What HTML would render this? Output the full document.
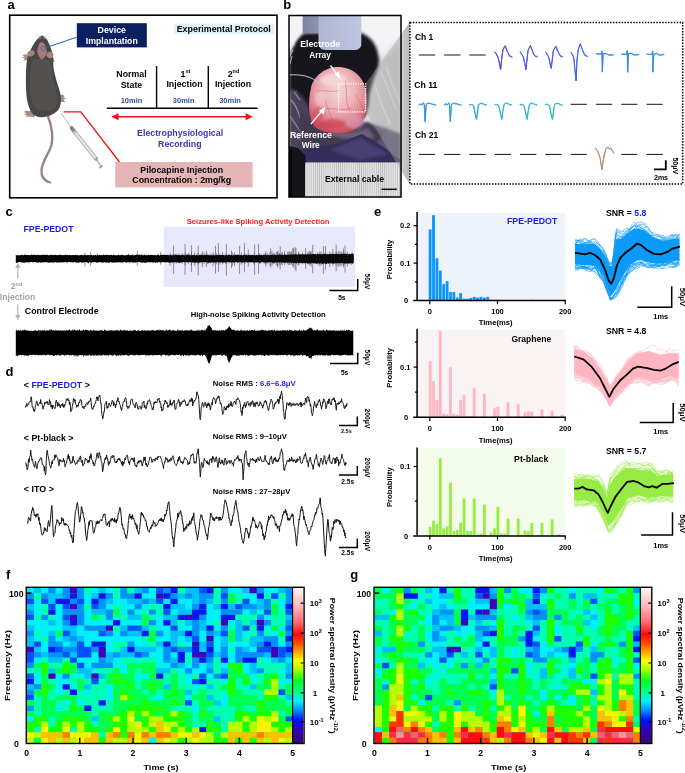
<!DOCTYPE html>
<html><head><meta charset="utf-8"><style>
html,body{margin:0;padding:0;background:#fff;width:685px;height:773px;overflow:hidden}
svg{display:block;will-change:transform}
text{font-family:"Liberation Sans", sans-serif}
</style></head><body>
<svg width="685" height="773" viewBox="0 0 685 773">
<text x="7.6" y="9.1" font-size="13" font-weight="bold" fill="#000" text-anchor="start" >a</text>
<rect x="9.7" y="15.2" width="267.3" height="182.6" fill="none" stroke="#000" stroke-width="1.6"/>
<path d="M47.5,115 C51,124 54,134 51.5,145 C49,154 42.5,160 41.5,170 C41,177 45,181 50,182.5" fill="none" stroke="#9b8181" stroke-width="2.3" stroke-linecap="round"/>
<path d="M32,111 L26,110.8 L23.5,112 L26.5,113 L23.8,114.6 L27,115 L25.5,117 L30,116.6 L34.5,117.5 L35,114 Z" fill="#a88c8a"/>
<path d="M59,95.5 L62.5,94.6 L64.6,96.3 L63.5,97.6 L66.2,98.6 L63.5,99.6 L65.2,102.5 L61.5,101.8 L59,104 Z" fill="#a88c8a"/>
<path d="M29,55 L25,54.2 L22.2,55.2 L24.6,56.5 L21.8,57.8 L25,58.4 L23.2,60.5 L27,60 L29.5,59.5 Z" fill="#a88c8a"/>
<path d="M51.5,57 L53.6,58.5 L54.6,61.5 L52.5,62.2 L51,60 Z" fill="#a88c8a"/>
<path d="M42.2,35.4 C44.5,36.8 46,38 47.3,40 C49,43 50.5,47 52.3,52.5 C53.4,56 53.4,62 53.4,66.4 C54,72 55.5,77 57.5,84 C60,91 61.3,96 61,101 C60.7,106 59,110 56.4,111.8 C52,115.5 46,117.6 40.9,117.2 C36,116.8 32,115.5 29.3,108 C27,102 26.2,96 26,88 C25.8,80 25.8,72 26.4,65 C26.8,60 27.5,56 29.5,52 C31.5,47.5 34,43 37,39.4 C38.8,37 40.5,35.8 42.2,35.4 Z" fill="#4a4644"/>
<path d="M32,63 C33,58 38,58 44,59 C50,60 52,63 52,70 C52,78 55,86 57,94 C59,102 57,108 52,110 C46,112 38,111 34,106 C30,100 30,90 30,80 C30,72 31,66 32,63 Z" fill="#535050"/>
<path d="M40.2,42.5 C41.5,42 43.5,42.5 44.5,44 C46,46.5 47,49.5 46.8,52.5 C46.6,55 45,57 43.2,58.5 C42.2,59.5 41.5,59.8 41,59 C39.6,57.5 38,55.2 37.4,52.5 C37,50 38,46 40.2,42.5 Z" fill="#a47c79"/>
<ellipse cx="31" cy="53.3" rx="3.8" ry="2.9" transform="rotate(-25 31 53.3)" fill="#a9807c"/>
<ellipse cx="50" cy="55" rx="3.4" ry="3.2" transform="rotate(30 50 55)" fill="#a9807c"/>
<path d="M41,37 L34.5,33 M41,37.5 L35,36.5 M41,38 L36,39.5 M43.5,37 L50,33.2 M43.5,37.5 L51.5,36.5 M43.5,38 L50,39.5" stroke="#c8c4c4" stroke-width="0.4" fill="none"/>
<circle cx="43.6" cy="48.6" r="2.4" fill="none" stroke="#2b5b9e" stroke-width="0.9" stroke-dasharray="1,0.6"/>
<line x1="45.5" y1="47.8" x2="76.8" y2="37.2" stroke="#2b5b9e" stroke-width="1"/>
<rect x="76.8" y="23.2" width="70" height="24.2" fill="#0b1f61"/>
<text x="111.8" y="32.7" font-size="8.8" font-weight="bold" fill="#fff" text-anchor="middle" >Device</text>
<text x="111.8" y="43.6" font-size="8.8" font-weight="bold" fill="#fff" text-anchor="middle" textLength="52.0" lengthAdjust="spacingAndGlyphs" >Implantation</text>
<rect x="174.1" y="23.7" width="99.8" height="10.5" fill="#dff2f7"/>
<text x="176.7" y="32.3" font-size="8.8" font-weight="bold" fill="#000" text-anchor="start" textLength="94.1" lengthAdjust="spacingAndGlyphs" >Experimental Protocol</text>
<line x1="106.8" y1="108.3" x2="257.6" y2="108.3" stroke="#000" stroke-width="1.5"/>
<line x1="156.6" y1="66" x2="156.6" y2="108.3" stroke="#000" stroke-width="1.4"/>
<line x1="208.3" y1="66" x2="208.3" y2="108.3" stroke="#000" stroke-width="1.4"/>
<text x="131.5" y="76.5" font-size="8.8" font-weight="bold" fill="#000" text-anchor="middle" >Normal</text>
<text x="131.5" y="87.5" font-size="8.8" font-weight="bold" fill="#000" text-anchor="middle" >State</text>
<text x="131.5" y="102.7" font-size="7.5" font-weight="bold" fill="#2f4d9c" text-anchor="middle" >10min</text>
<text x="185.4" y="76.5" font-size="8.8" font-weight="bold" fill="#000" text-anchor="middle" >1<tspan font-size="5.5" dy="-3.2">st</tspan></text>
<text x="184.5" y="87.0" font-size="8.8" font-weight="bold" fill="#000" text-anchor="middle" >Injection</text>
<text x="183.7" y="102.7" font-size="7.5" font-weight="bold" fill="#2f4d9c" text-anchor="middle" >30min</text>
<text x="233.5" y="76.5" font-size="8.8" font-weight="bold" fill="#000" text-anchor="middle" >2<tspan font-size="5.5" dy="-3.2">nd</tspan></text>
<text x="233.0" y="87.0" font-size="8.8" font-weight="bold" fill="#000" text-anchor="middle" >Injection</text>
<text x="230.0" y="102.7" font-size="7.5" font-weight="bold" fill="#2f4d9c" text-anchor="middle" >30min</text>
<line x1="116" y1="116.7" x2="248" y2="116.7" stroke="#e8141c" stroke-width="1.6"/>
<path d="M111.3,116.7 L118.5,113.2 L118.5,120.2 Z M252.8,116.7 L245.6,113.2 L245.6,120.2 Z" fill="#e8141c"/>
<text x="180.1" y="136.0" font-size="8.8" font-weight="bold" fill="#3a38b5" text-anchor="middle" textLength="86.0" lengthAdjust="spacingAndGlyphs" >Electrophysiological</text>
<text x="179.8" y="146.6" font-size="8.8" font-weight="bold" fill="#3a38b5" text-anchor="middle" >Recording</text>
<polyline points="63.6,111.8 80.8,111.8 119.5,162" fill="none" stroke="#f01010" stroke-width="1.3"/>
<line x1="60.9" y1="113" x2="71" y2="127" stroke="#808080" stroke-width="0.6"/>
<line x1="72" y1="128.5" x2="96" y2="158.8" stroke="#9aa0a6" stroke-width="3.8" stroke-linecap="round"/>
<line x1="72" y1="128.5" x2="96" y2="158.8" stroke="#e4e8ea" stroke-width="2.4"/>
<line x1="71.5" y1="127.8" x2="74" y2="131" stroke="#7e878e" stroke-width="3.6" stroke-linecap="round"/>
<line x1="73.5" y1="130.8" x2="75.5" y2="133.4" stroke="#9fd0e6" stroke-width="1.6"/>
<line x1="94.4" y1="160" x2="97.8" y2="157.4" stroke="#9aa0a6" stroke-width="1.2"/>
<line x1="96.2" y1="159.3" x2="101.2" y2="166.5" stroke="#a0a8ae" stroke-width="1.2"/>
<line x1="99.2" y1="168" x2="102.6" y2="165.4" stroke="#9aa0a6" stroke-width="1.6"/>
<rect x="115.2" y="162" width="137.4" height="25.4" fill="#e6b5b8"/>
<text x="181.7" y="173.2" font-size="8.8" font-weight="bold" fill="#000" text-anchor="middle" textLength="82.8" lengthAdjust="spacingAndGlyphs" >Pilocapine Injection</text>
<text x="181.7" y="182.9" font-size="8.8" font-weight="bold" fill="#000" text-anchor="middle" textLength="98.9" lengthAdjust="spacingAndGlyphs" >Concentration : 2mg/kg</text>
<text x="283.3" y="9.1" font-size="13" font-weight="bold" fill="#000" text-anchor="start" >b</text>
<defs>
<clipPath id="phc"><rect x="289" y="15.5" width="112" height="181.5"/></clipPath>
<filter id="bl1" x="-20%" y="-20%" width="140%" height="140%"><feGaussianBlur stdDeviation="1.6"/></filter>
<filter id="bl2" x="-20%" y="-20%" width="140%" height="140%"><feGaussianBlur stdDeviation="3"/></filter>
<filter id="bl05"><feGaussianBlur stdDeviation="0.6"/></filter>
<radialGradient id="brain" cx="0.5" cy="0.35" r="0.65">
<stop offset="0" stop-color="#f4d6d8"/><stop offset="0.45" stop-color="#eeb4ba"/><stop offset="0.75" stop-color="#e08892"/><stop offset="1" stop-color="#c84858"/></radialGradient>
<linearGradient id="conn" x1="0" y1="0" x2="1" y2="0"><stop offset="0" stop-color="#7e84a2"/><stop offset="0.26" stop-color="#8c92b0"/><stop offset="0.28" stop-color="#b0b6d2"/><stop offset="1" stop-color="#c0c6de"/></linearGradient>
<linearGradient id="proj" x1="0" y1="0" x2="1" y2="0"><stop offset="0" stop-color="#a8a8a8" stop-opacity="0.35"/><stop offset="0.78" stop-color="#a0a0a0" stop-opacity="0.45"/><stop offset="0.8" stop-color="#c8c8c8" stop-opacity="0.9"/><stop offset="1" stop-color="#b4b4b4" stop-opacity="0.95"/></linearGradient>
<pattern id="stripes" width="2.1" height="10" patternUnits="userSpaceOnUse"><rect width="2.1" height="10" fill="#e4e4e4"/><rect width="0.8" height="10" fill="#bababa"/></pattern>
</defs>
<g clip-path="url(#phc)">
<rect x="289" y="15.5" width="112" height="181.5" fill="#f4f4f6"/>
<path d="M368,70 L401,40 L401,150 L366,130 Z" fill="#d4d4d6" filter="url(#bl2)"/>
<path d="M380,70 C386,84 392,96 396,110 M386,66 C390,80 396,92 400,104 M375,85 C380,100 384,112 390,124" stroke="#f2f2f4" stroke-width="1.2" fill="none" filter="url(#bl05)"/>
<path d="M360,122 C372,124 388,128 401,134 L401,166 L352,166 Z" fill="#5c5478" filter="url(#bl1)"/>
<path d="M289,50 C292,44 297,38 304,33 L362,33 C368,36 373,40 376,47 C379,54 380,62 378,68 C375,76 370,86 369,100 C368,112 366,122 350,128 C335,131 315,128 306,120 C300,112 298,100 296,92 L289,92 Z" fill="#17151b" filter="url(#bl1)"/>
<path d="M287,14 L303,14 L303,30 C299,34 295,42 291,52 L287,60 Z" fill="#f4f4f6" filter="url(#bl1)"/>
<path d="M289,52 C291,48 293,46 295,44 M289,58 L293,50 M290,64 L292,56" stroke="#d8d8e0" stroke-width="0.8" fill="none" filter="url(#bl05)"/>
<path d="M289,88 C296,90 304,96 309,108 C312,122 311,136 306,152 L289,152 Z" fill="#4a4258" filter="url(#bl1)"/>
<path d="M291,100 C295,104 298,110 300,118 M290,116 C294,122 298,128 302,134 M292,134 L303,142 M294,92 L300,100" stroke="#9890a8" stroke-width="1.1" fill="none" filter="url(#bl05)"/>
<path d="M300,112 C312,124 340,130 368,122 L384,134 L372,150 L300,156 Z" fill="#433a50" filter="url(#bl1)"/>
<path d="M330,130 C345,134 356,132 368,128 L375,138 C360,140 345,140 332,136 Z" fill="#7a6e88" opacity="0.7" filter="url(#bl1)"/>
<path d="M300,150 L300,166 L401,166 L401,160 L382,146 L362,134 L336,144 Z" fill="#342e5a" filter="url(#bl05)"/>
<path d="M330,150 L360,138 L388,154 L360,160 Z" fill="#5a5290" opacity="0.5" filter="url(#bl1)"/>
<path d="M338,67 C352,67 364,76 366,92 C368,108 366,124 352,131 C340,135 322,134 314,126 C308,118 308,100 311,88 C314,75 326,67 338,67 Z" fill="url(#brain)" filter="url(#bl05)"/>
<path d="M316,92 C325,88 332,94 340,90 M322,110 C330,106 340,112 352,108 M345,80 C348,90 344,100 350,112 M325,100 L332,120 M355,95 C360,100 362,106 364,112" stroke="#c84858" stroke-width="0.7" fill="none" opacity="0.6"/>
<ellipse cx="333" cy="80" rx="13" ry="6" fill="#f8dede" opacity="0.7" filter="url(#bl1)"/>
<ellipse cx="320" cy="98" rx="5" ry="8" fill="#f4d0d4" opacity="0.5" filter="url(#bl1)"/>
<ellipse cx="332" cy="124" rx="14" ry="5" fill="#c83848" opacity="0.6" filter="url(#bl1)"/><ellipse cx="355" cy="122" rx="9" ry="7" fill="#d8a0c0" opacity="0.6" filter="url(#bl1)"/>
<ellipse cx="318" cy="114" rx="6" ry="7" fill="#d04050" opacity="0.5" filter="url(#bl1)"/>
<path d="M302.6,15.5 L361.3,15.5 L361.3,44 C361.3,48 358,50 354,50 L326,50 C321,50 318.4,47 318.4,42 L318.4,33 L302.6,33 Z" fill="url(#conn)"/>
<path d="M289,75 C300,74 312,76 320,84 C326,90 330,98 332,104" stroke="#c8c8d0" stroke-width="1" fill="none"/>
<path d="M289,146 L298,148 L305.5,156 L305.5,197 L289,197 Z" fill="#151218"/><rect x="289" y="150" width="3" height="47" fill="#050505"/>
<rect x="305.3" y="162.4" width="96" height="35" fill="url(#stripes)"/>
</g>
<path d="M365.5,83.7 L409.7,22.3 L409.7,184.4 L365.5,112 Z" fill="url(#proj)"/>
<rect x="289" y="15.5" width="112" height="181.5" fill="none" stroke="#000" stroke-width="1.5"/>
<rect x="338.6" y="83.8" width="26.9" height="28" fill="none" stroke="#fff" stroke-width="1.3" stroke-dasharray="1.3,1.1"/>
<line x1="330.5" y1="65.4" x2="337.5" y2="75.2" stroke="#fff" stroke-width="1.3"/><path d="M340.4,79.2 L334.4,74.3 L338.9,71.2 Z" fill="#fff"/>
<line x1="310.8" y1="124.2" x2="321.5" y2="111.5" stroke="#fff" stroke-width="1.3"/><path d="M325.2,107 L323.6,114.7 L318.9,110.7 Z" fill="#fff"/>
<text x="320.2" y="46.8" font-size="8.3" font-weight="bold" fill="#fff" text-anchor="middle" textLength="40.0" lengthAdjust="spacingAndGlyphs" >Electrode</text>
<text x="320.0" y="57.9" font-size="8.3" font-weight="bold" fill="#fff" text-anchor="middle" >Array</text>
<text x="310.9" y="138.4" font-size="8.3" font-weight="bold" fill="#fff" text-anchor="middle" textLength="42.0" lengthAdjust="spacingAndGlyphs" >Reference</text>
<text x="310.8" y="148.4" font-size="8.3" font-weight="bold" fill="#fff" text-anchor="middle" >Wire</text>
<text x="354.5" y="181.7" font-size="8.3" font-weight="bold" fill="#000" text-anchor="middle" textLength="59.2" lengthAdjust="spacingAndGlyphs" >External cable</text>
<line x1="381.5" y1="189.3" x2="396.7" y2="189.3" stroke="#000" stroke-width="1.5"/>
<rect x="409.9" y="22.4" width="272.8" height="161.5" fill="none" stroke="#000" stroke-width="1.5" stroke-dasharray="1.5,1.4"/>
<text x="414.9" y="40.0" font-size="8.5" font-weight="bold" fill="#000" text-anchor="start" >Ch 1</text>
<text x="414.2" y="87.6" font-size="8.5" font-weight="bold" fill="#000" text-anchor="start" textLength="23.2" lengthAdjust="spacingAndGlyphs" >Ch 11</text>
<text x="414.9" y="138.0" font-size="8.5" font-weight="bold" fill="#000" text-anchor="start" textLength="23.4" lengthAdjust="spacingAndGlyphs" >Ch 21</text>
<line x1="418.8" y1="55.0" x2="435.1" y2="55.0" stroke="#141414" stroke-width="1.0"/>
<line x1="444.1" y1="55.0" x2="460.4" y2="55.0" stroke="#141414" stroke-width="1.0"/>
<line x1="469.4" y1="55.0" x2="485.7" y2="55.0" stroke="#141414" stroke-width="1.0"/>
<path d="M494.66,51.95 L495.46,52.73 L496.40,54.38 L497.16,56.01 L497.96,56.94 L498.77,60.68 L499.49,63.22 L499.92,66.50 L500.53,69.49 L501.72,57.99 L502.83,49.93 L503.75,48.70 L504.37,46.93 L505.25,45.96 L505.94,47.51 L506.82,50.43 L508.05,52.44 L508.41,53.45 L509.27,55.36 L509.52,55.81 L510.35,55.93 L510.86,56.78 L511.82,56.79 L512.25,56.46" fill="none" stroke="#4a48e0" stroke-width="1.0" stroke-linejoin="round" opacity="0.9"/>
<path d="M494.67,51.83 L495.74,53.04 L496.22,53.77 L497.24,56.01 L497.97,57.68 L498.55,59.74 L499.51,63.05 L499.97,66.10 L500.86,69.02 L501.72,58.32 L503.02,49.85 L503.57,48.60 L504.22,47.62 L505.17,46.19 L505.79,47.95 L506.76,50.45 L507.96,52.49 L508.37,53.44 L509.28,54.70 L509.64,56.52 L510.47,55.98 L511.20,56.68 L511.79,56.85 L512.38,57.02" fill="none" stroke="#4a48e0" stroke-width="1.0" stroke-linejoin="round" opacity="0.6"/>
<path d="M494.85,51.53 L495.60,53.05 L496.14,53.72 L497.25,55.42 L498.07,56.96 L498.58,59.99 L499.27,63.72 L500.18,66.68 L500.58,69.71 L501.82,57.96 L502.86,49.71 L503.62,48.44 L504.21,46.78 L505.08,45.47 L506.12,47.99 L506.72,49.55 L508.10,52.79 L508.35,53.99 L508.94,55.26 L509.51,55.78 L510.30,56.57 L510.91,56.04 L511.63,57.08 L512.46,57.30" fill="none" stroke="#4a48e0" stroke-width="1.0" stroke-linejoin="round" opacity="0.6"/>
<path d="M520.14,51.67 L520.72,53.08 L521.75,54.04 L522.55,55.55 L523.26,57.21 L523.91,60.62 L524.83,63.15 L525.42,66.57 L525.85,69.79 L527.28,57.98 L528.08,49.97 L528.75,48.54 L529.48,47.17 L530.50,45.83 L531.28,47.86 L532.02,49.89 L533.07,52.91 L533.63,54.34 L534.27,55.02 L534.90,56.20 L535.59,56.35 L536.38,56.19 L536.92,56.56 L537.70,56.73" fill="none" stroke="#4a4ee4" stroke-width="1.0" stroke-linejoin="round" opacity="0.9"/>
<path d="M519.94,52.12 L520.75,52.84 L521.41,54.45 L522.26,55.63 L523.48,57.01 L524.09,59.80 L524.83,63.63 L525.33,66.35 L525.81,69.56 L527.19,57.64 L528.11,50.40 L528.99,48.59 L529.79,46.94 L530.46,45.46 L531.09,47.49 L532.27,49.98 L533.05,53.09 L533.65,53.60 L534.26,55.43 L535.18,55.78 L535.64,56.00 L536.39,56.73 L536.93,56.95 L537.62,56.84" fill="none" stroke="#4a4ee4" stroke-width="1.0" stroke-linejoin="round" opacity="0.6"/>
<path d="M520.12,51.34 L520.95,52.78 L521.66,53.94 L522.58,55.53 L523.44,57.25 L523.97,60.26 L524.72,62.93 L525.41,66.26 L526.19,69.22 L526.99,58.02 L528.22,49.70 L529.01,49.05 L529.62,47.40 L530.30,45.56 L531.12,47.58 L532.19,49.53 L533.32,53.15 L533.76,53.50 L534.28,55.13 L535.17,55.82 L535.45,56.72 L536.13,56.38 L536.75,56.82 L537.52,56.35" fill="none" stroke="#4a4ee4" stroke-width="1.0" stroke-linejoin="round" opacity="0.6"/>
<path d="M545.36,51.75 L545.97,52.72 L546.83,54.08 L547.70,55.47 L548.64,56.85 L549.43,59.98 L549.91,63.04 L550.67,65.87 L551.24,68.41 L552.57,58.20 L553.31,50.45 L554.31,49.05 L554.95,48.01 L555.80,46.16 L556.67,48.05 L557.47,50.14 L558.60,52.70 L559.04,54.36 L559.73,54.51 L560.42,56.38 L560.90,56.11 L561.42,56.24 L562.33,56.57 L562.80,56.65" fill="none" stroke="#4456e6" stroke-width="1.0" stroke-linejoin="round" opacity="0.9"/>
<path d="M545.22,52.26 L546.06,52.61 L547.00,53.65 L547.81,55.68 L548.65,56.78 L549.25,60.25 L549.76,62.55 L550.45,65.68 L551.18,68.35 L552.36,58.06 L553.54,50.13 L554.24,49.31 L554.97,47.66 L555.73,46.58 L556.48,48.59 L557.53,50.71 L558.47,52.76 L559.25,53.86 L559.58,55.05 L560.26,55.62 L560.85,56.10 L561.80,56.30 L562.05,56.94 L562.78,56.95" fill="none" stroke="#4456e6" stroke-width="1.0" stroke-linejoin="round" opacity="0.6"/>
<path d="M545.29,52.31 L546.29,53.34 L546.96,53.96 L547.86,55.45 L548.48,57.05 L549.47,59.70 L549.90,62.62 L550.47,65.23 L551.24,68.13 L552.39,57.79 L553.61,49.95 L554.32,49.22 L555.16,47.32 L555.78,46.28 L556.63,47.89 L557.20,50.60 L558.59,52.67 L559.12,53.71 L559.87,54.58 L560.50,56.40 L560.82,55.75 L561.75,56.61 L562.43,56.45 L562.80,57.13" fill="none" stroke="#4456e6" stroke-width="1.0" stroke-linejoin="round" opacity="0.6"/>
<path d="M570.71,51.90 L571.39,53.22 L572.26,54.12 L572.83,55.89 L573.62,57.38 L574.44,63.76 L574.85,68.62 L575.48,74.41 L576.01,80.84 L577.03,61.37 L577.56,55.25 L578.31,49.71 L578.78,48.33 L579.42,46.11 L580.26,43.60 L580.84,45.19 L581.41,47.54 L582.35,49.23 L582.83,50.61 L583.84,53.35 L584.63,54.42 L585.01,55.76 L585.96,55.58 L586.49,55.82 L587.21,56.36 L587.51,56.81" fill="none" stroke="#3e62e8" stroke-width="1.0" stroke-linejoin="round" opacity="0.9"/>
<path d="M570.89,52.22 L571.51,52.72 L572.13,54.30 L573.02,55.67 L573.64,57.82 L574.13,63.72 L574.88,69.51 L575.39,74.54 L576.07,80.79 L576.73,60.96 L577.61,55.85 L578.02,50.06 L578.93,47.80 L579.76,46.24 L580.25,44.20 L581.09,45.67 L581.71,47.64 L582.05,49.07 L582.83,50.99 L583.88,52.51 L584.32,54.61 L585.12,55.88 L585.93,55.71 L586.51,55.66 L586.94,56.70 L587.65,56.59" fill="none" stroke="#3e62e8" stroke-width="1.0" stroke-linejoin="round" opacity="0.6"/>
<path d="M570.59,51.97 L571.27,52.84 L572.32,53.95 L573.12,56.00 L573.81,57.08 L574.42,63.43 L574.86,69.14 L575.71,74.39 L576.40,80.60 L576.91,60.83 L577.44,55.37 L578.33,50.37 L578.76,48.40 L579.56,46.00 L580.28,43.86 L580.80,45.85 L581.49,46.80 L582.32,48.96 L582.76,50.52 L583.60,53.35 L584.63,53.82 L585.39,55.29 L585.74,55.49 L586.57,56.28 L587.27,56.30 L587.74,56.40" fill="none" stroke="#3e62e8" stroke-width="1.0" stroke-linejoin="round" opacity="0.6"/>
<path d="M596.12,53.64 L601.18,53.97 L602.01,50.73 L602.34,72.01 L603.14,54.21 L605.80,53.49 L609.03,55.00 L613.76,54.72" fill="none" stroke="#3a82ea" stroke-width="1.0" stroke-linejoin="round" opacity="0.9"/>
<path d="M596.12,53.65 L601.25,54.03 L601.92,51.36 L602.55,71.64 L602.92,53.65 L605.98,53.21 L609.10,55.21 L613.57,55.10" fill="none" stroke="#3a82ea" stroke-width="1.0" stroke-linejoin="round" opacity="0.6"/>
<path d="M596.05,54.01 L601.25,54.03 L602.03,51.16 L602.23,72.26 L603.25,53.70 L605.88,53.87 L609.37,55.29 L613.81,54.14" fill="none" stroke="#3a82ea" stroke-width="1.0" stroke-linejoin="round" opacity="0.6"/>
<path d="M621.35,54.39 L626.69,54.38 L627.23,50.93 L627.52,72.25 L628.60,53.61 L630.90,53.16 L634.40,54.72 L639.10,54.63" fill="none" stroke="#3a88ea" stroke-width="1.0" stroke-linejoin="round" opacity="0.9"/>
<path d="M621.21,53.96 L626.71,54.39 L627.16,50.60 L627.89,72.27 L628.35,53.59 L631.21,53.46 L634.42,55.39 L638.90,54.57" fill="none" stroke="#3a88ea" stroke-width="1.0" stroke-linejoin="round" opacity="0.6"/>
<path d="M621.48,53.90 L626.70,54.28 L627.41,50.62 L627.59,71.99 L628.55,53.58 L630.97,53.37 L634.57,54.91 L639.19,54.47" fill="none" stroke="#3a88ea" stroke-width="1.0" stroke-linejoin="round" opacity="0.6"/>
<path d="M646.58,54.21 L651.90,54.27 L652.73,50.94 L652.83,72.29 L653.78,54.10 L656.58,53.70 L659.93,55.51 L664.10,54.12" fill="none" stroke="#3c8eea" stroke-width="1.0" stroke-linejoin="round" opacity="0.9"/>
<path d="M646.41,54.08 L651.81,54.56 L652.73,50.97 L652.92,71.51 L653.51,54.04 L656.42,53.30 L659.74,54.73 L664.25,54.22" fill="none" stroke="#3c8eea" stroke-width="1.0" stroke-linejoin="round" opacity="0.6"/>
<path d="M646.72,54.29 L651.84,54.59 L652.41,50.90 L653.03,71.70 L653.89,54.03 L656.42,53.30 L659.89,55.25 L664.12,54.78" fill="none" stroke="#3c8eea" stroke-width="1.0" stroke-linejoin="round" opacity="0.6"/>
<path d="M418.66,105.01 L419.19,104.61 L419.94,104.04 L420.43,104.10 L421.50,104.53 L422.03,105.21 L422.84,103.49 L423.54,102.92 L424.22,104.63 L425.24,121.74 L426.01,106.06 L426.92,103.30 L427.68,103.71 L428.21,103.26 L428.96,102.82 L429.68,103.56 L430.39,103.57 L430.91,103.56 L431.58,103.90 L432.30,104.33 L433.03,104.16 L433.60,104.53 L434.44,104.73 L434.91,104.67 L435.53,105.16 L436.02,105.18" fill="none" stroke="#2c90e4" stroke-width="1.0" stroke-linejoin="round" opacity="0.9"/>
<path d="M418.48,105.38 L419.13,104.84 L420.02,104.02 L420.51,104.58 L421.17,104.85 L422.02,104.58 L423.01,104.05 L423.41,102.76 L424.06,103.88 L425.02,121.79 L425.88,105.50 L426.95,103.60 L427.50,103.36 L428.26,103.31 L428.97,103.09 L429.58,103.38 L430.34,103.40 L431.15,103.95 L431.65,104.42 L432.57,104.04 L433.04,104.02 L433.64,104.10 L434.43,104.75 L434.84,104.75 L435.47,104.47 L436.17,104.95" fill="none" stroke="#2c90e4" stroke-width="1.0" stroke-linejoin="round" opacity="0.6"/>
<path d="M418.68,105.36 L419.15,104.59 L419.83,104.57 L420.55,103.65 L421.33,103.96 L422.03,104.39 L422.78,103.32 L423.55,102.72 L424.36,104.19 L425.19,121.39 L426.05,106.00 L426.90,103.51 L427.57,103.30 L428.30,103.52 L429.26,103.33 L429.71,103.49 L430.35,103.29 L431.10,103.55 L431.59,103.99 L432.30,104.39 L432.90,104.20 L433.56,104.29 L434.13,105.11 L435.06,104.82 L435.52,104.88 L436.24,104.86" fill="none" stroke="#2c90e4" stroke-width="1.0" stroke-linejoin="round" opacity="0.6"/>
<path d="M444.00,105.08 L444.63,104.59 L445.19,104.08 L446.05,103.75 L446.52,103.97 L447.32,105.20 L447.98,103.95 L448.79,103.06 L449.43,104.71 L450.35,121.73 L451.23,105.64 L452.29,103.24 L452.94,103.24 L453.65,103.82 L454.23,102.87 L455.04,103.89 L455.91,104.07 L456.55,103.79 L457.14,103.59 L457.59,104.59 L458.33,104.24 L458.92,104.45 L459.53,105.15 L459.98,104.99 L460.65,104.52 L461.34,105.14" fill="none" stroke="#2c98e2" stroke-width="1.0" stroke-linejoin="round" opacity="0.9"/>
<path d="M443.83,104.58 L444.58,104.98 L445.11,104.06 L445.97,104.60 L446.48,104.82 L447.34,104.69 L448.19,103.80 L448.81,102.68 L449.56,104.45 L450.28,121.45 L451.26,106.21 L452.18,103.58 L452.77,103.44 L453.73,103.80 L454.53,103.19 L455.08,103.37 L455.72,103.72 L456.41,103.78 L457.03,104.25 L457.78,104.32 L458.35,104.16 L458.83,104.73 L459.71,104.67 L460.01,104.84 L460.82,104.65 L461.22,104.97" fill="none" stroke="#2c98e2" stroke-width="1.0" stroke-linejoin="round" opacity="0.6"/>
<path d="M443.92,105.21 L444.63,104.66 L445.21,104.40 L445.71,103.91 L446.79,104.09 L447.54,104.77 L448.29,103.52 L449.06,102.78 L449.43,104.02 L450.31,121.73 L451.48,105.44 L452.08,103.35 L453.11,103.41 L453.57,103.77 L454.45,102.94 L454.96,103.48 L455.60,104.04 L456.37,103.64 L457.03,103.81 L457.84,103.75 L458.18,104.57 L458.98,104.57 L459.39,104.93 L460.13,104.37 L460.60,105.09 L461.45,105.15" fill="none" stroke="#2c98e2" stroke-width="1.0" stroke-linejoin="round" opacity="0.6"/>
<path d="M469.07,104.74 L469.71,104.54 L470.26,104.79 L471.08,104.92 L471.50,104.37 L472.37,104.71 L473.16,105.62 L473.75,106.29 L474.28,109.59 L475.27,113.66 L475.74,116.44 L476.49,118.94 L477.48,111.87 L478.52,104.71 L479.43,104.29 L480.36,103.22 L481.06,103.06 L481.45,103.85 L482.15,103.74 L482.77,103.74 L483.27,104.28 L483.97,103.95 L484.78,104.39 L485.42,104.57 L485.87,104.90 L486.80,104.75" fill="none" stroke="#28a8dc" stroke-width="1.0" stroke-linejoin="round" opacity="0.9"/>
<path d="M469.38,104.96 L469.83,104.62 L470.58,104.77 L471.12,103.95 L471.64,104.47 L472.37,104.63 L473.14,105.21 L473.80,106.75 L474.61,110.53 L475.24,114.12 L475.88,116.46 L476.46,119.58 L477.46,112.14 L478.53,104.40 L479.29,104.26 L480.37,103.41 L480.78,103.67 L481.48,103.61 L482.15,103.57 L482.67,103.77 L483.34,103.99 L484.12,104.64 L484.87,104.94 L485.46,104.54 L486.10,104.96 L486.66,105.20" fill="none" stroke="#28a8dc" stroke-width="1.0" stroke-linejoin="round" opacity="0.6"/>
<path d="M469.21,105.16 L469.66,104.93 L470.26,104.91 L471.27,104.52 L471.71,104.52 L472.34,104.63 L472.84,106.01 L473.73,106.02 L474.39,110.04 L475.01,113.65 L476.00,117.05 L476.65,119.25 L477.65,111.47 L478.55,104.75 L479.28,104.47 L480.15,103.40 L480.85,103.47 L481.73,103.64 L482.11,103.22 L482.72,103.30 L483.36,103.69 L484.08,104.71 L484.83,105.00 L485.24,104.55 L486.09,105.06 L486.75,105.23" fill="none" stroke="#28a8dc" stroke-width="1.0" stroke-linejoin="round" opacity="0.6"/>
<path d="M494.67,104.90 L495.26,104.79 L495.67,104.51 L496.54,104.84 L497.07,103.97 L497.80,104.57 L498.33,105.32 L499.10,106.74 L499.66,110.10 L500.36,113.71 L501.17,116.59 L501.88,119.64 L502.80,111.31 L504.11,104.58 L504.75,103.69 L505.64,103.53 L506.08,102.97 L506.85,103.50 L507.37,103.73 L508.14,103.63 L508.76,104.20 L509.34,104.46 L509.83,105.09 L510.49,104.53 L511.42,104.67 L511.95,105.14" fill="none" stroke="#24b4d4" stroke-width="1.0" stroke-linejoin="round" opacity="0.9"/>
<path d="M494.48,104.85 L495.07,104.25 L495.58,104.54 L496.24,104.81 L496.83,104.53 L497.63,104.98 L498.23,105.19 L498.82,106.66 L499.93,110.22 L500.65,113.31 L500.98,116.27 L501.79,118.95 L502.69,111.67 L503.91,104.83 L504.59,104.04 L505.70,103.33 L506.33,103.27 L506.74,102.95 L507.37,103.71 L508.00,103.89 L508.87,103.96 L509.30,103.97 L509.87,104.72 L510.84,105.25 L511.29,104.75 L512.06,105.58" fill="none" stroke="#24b4d4" stroke-width="1.0" stroke-linejoin="round" opacity="0.6"/>
<path d="M494.40,105.17 L495.01,104.91 L495.86,104.30 L496.33,104.72 L497.03,103.86 L497.51,105.17 L498.39,105.23 L498.82,106.21 L499.84,110.03 L500.68,114.26 L500.96,116.11 L501.79,119.16 L502.70,111.40 L504.19,104.76 L504.79,104.13 L505.41,102.85 L506.20,103.38 L506.82,103.52 L507.65,103.71 L508.13,103.56 L508.76,103.61 L509.48,104.45 L510.09,104.87 L510.66,104.58 L511.30,104.54 L511.82,104.90" fill="none" stroke="#24b4d4" stroke-width="1.0" stroke-linejoin="round" opacity="0.6"/>
<path d="M519.79,104.38 L520.40,104.59 L521.10,105.03 L521.73,104.68 L522.47,104.59 L522.82,105.32 L523.68,105.28 L524.17,106.53 L525.09,110.05 L525.85,114.21 L526.64,116.17 L526.97,119.02 L528.16,111.55 L529.50,105.19 L529.96,103.94 L530.98,102.85 L531.39,103.61 L532.15,103.84 L532.70,103.90 L533.26,103.52 L533.98,103.76 L534.84,103.97 L535.24,104.57 L535.89,104.88 L536.83,105.01 L537.34,105.13" fill="none" stroke="#20bcc8" stroke-width="1.0" stroke-linejoin="round" opacity="0.9"/>
<path d="M519.91,104.48 L520.60,105.14 L521.21,104.42 L521.65,104.39 L522.15,103.88 L523.16,105.12 L523.45,105.14 L524.36,106.14 L525.23,110.48 L525.77,114.29 L526.31,116.31 L527.26,119.71 L528.00,111.90 L529.35,104.70 L530.10,104.27 L530.81,102.78 L531.36,103.30 L532.00,103.20 L532.67,103.91 L533.28,103.73 L533.87,104.15 L534.48,104.23 L535.15,105.08 L535.81,104.33 L536.63,104.97 L537.44,105.23" fill="none" stroke="#20bcc8" stroke-width="1.0" stroke-linejoin="round" opacity="0.6"/>
<path d="M519.63,104.43 L520.49,104.39 L521.15,105.00 L521.54,104.84 L522.16,103.84 L523.11,104.80 L523.53,105.37 L524.49,106.32 L524.86,110.22 L525.80,114.07 L526.35,116.95 L527.20,119.48 L528.07,111.79 L529.18,105.11 L530.22,104.47 L530.75,102.80 L531.60,102.81 L532.08,103.72 L532.70,103.58 L533.47,103.58 L533.93,103.61 L534.49,104.28 L535.20,104.50 L535.89,105.23 L536.62,105.17 L537.18,104.61" fill="none" stroke="#20bcc8" stroke-width="1.0" stroke-linejoin="round" opacity="0.6"/>
<path d="M545.23,105.03 L545.80,104.29 L546.37,104.19 L547.10,104.56 L547.64,104.27 L548.38,104.73 L549.09,105.49 L549.71,106.48 L550.49,110.35 L551.08,113.44 L551.66,116.29 L552.53,119.04 L553.36,111.80 L554.61,104.56 L555.55,103.60 L556.08,103.69 L556.67,103.67 L557.43,103.65 L558.22,103.34 L558.68,103.82 L559.35,103.75 L560.11,104.39 L560.74,104.67 L561.18,105.23 L562.00,105.21 L562.41,105.36" fill="none" stroke="#22c2b4" stroke-width="1.0" stroke-linejoin="round" opacity="0.9"/>
<path d="M545.01,104.42 L545.53,104.84 L546.16,104.72 L546.99,104.31 L547.79,103.94 L548.25,105.38 L548.93,105.44 L549.58,105.95 L550.25,110.37 L551.00,114.15 L551.58,116.05 L552.56,119.48 L553.45,112.14 L554.53,104.93 L555.21,103.80 L556.03,103.70 L556.72,102.94 L557.55,103.88 L558.27,103.76 L558.91,103.79 L559.27,104.03 L560.15,103.84 L560.42,104.80 L561.17,104.57 L562.06,105.05 L562.45,105.40" fill="none" stroke="#22c2b4" stroke-width="1.0" stroke-linejoin="round" opacity="0.6"/>
<path d="M545.21,104.40 L545.61,105.02 L546.51,104.07 L547.11,104.49 L547.78,104.05 L548.41,104.96 L549.05,105.49 L549.41,106.54 L550.46,110.11 L550.96,113.76 L551.62,116.73 L552.36,119.74 L553.55,112.19 L554.66,104.73 L555.44,103.91 L555.98,103.47 L556.94,103.47 L557.58,103.51 L557.92,103.90 L558.85,103.47 L559.22,103.94 L560.11,104.17 L560.63,105.09 L561.39,105.07 L561.90,105.30 L562.69,105.08" fill="none" stroke="#22c2b4" stroke-width="1.0" stroke-linejoin="round" opacity="0.6"/>
<line x1="570.6" y1="104.3" x2="586.9" y2="104.3" stroke="#141414" stroke-width="1.0"/>
<line x1="595.9" y1="104.3" x2="612.2" y2="104.3" stroke="#141414" stroke-width="1.0"/>
<line x1="621.2" y1="104.3" x2="637.5" y2="104.3" stroke="#141414" stroke-width="1.0"/>
<line x1="646.5" y1="104.3" x2="662.8" y2="104.3" stroke="#141414" stroke-width="1.0"/>
<line x1="418.8" y1="154.4" x2="435.1" y2="154.4" stroke="#141414" stroke-width="1.0"/>
<line x1="444.1" y1="154.4" x2="460.4" y2="154.4" stroke="#141414" stroke-width="1.0"/>
<line x1="469.4" y1="154.4" x2="485.7" y2="154.4" stroke="#141414" stroke-width="1.0"/>
<line x1="494.7" y1="154.4" x2="511.0" y2="154.4" stroke="#141414" stroke-width="1.0"/>
<line x1="520.0" y1="154.4" x2="536.3" y2="154.4" stroke="#141414" stroke-width="1.0"/>
<line x1="545.3" y1="154.4" x2="561.6" y2="154.4" stroke="#141414" stroke-width="1.0"/>
<line x1="570.6" y1="154.4" x2="586.9" y2="154.4" stroke="#141414" stroke-width="1.0"/>
<line x1="621.2" y1="154.4" x2="637.5" y2="154.4" stroke="#141414" stroke-width="1.0"/>
<line x1="646.5" y1="154.4" x2="662.8" y2="154.4" stroke="#141414" stroke-width="1.0"/>
<path d="M595.68,147.98 L596.33,149.01 L596.97,150.64 L597.88,151.36 L598.48,153.89 L599.52,156.12 L600.31,158.82 L600.71,161.72 L601.27,165.81 L602.07,169.60 L602.59,163.90 L603.70,158.23 L604.11,155.71 L604.92,152.18 L605.71,149.19 L606.79,148.00 L607.39,147.81 L608.25,147.69 L608.75,147.99 L609.56,149.29 L610.23,148.73 L610.92,148.38 L612.04,150.32 L612.81,151.23 L613.52,153.04" fill="none" stroke="#a88460" stroke-width="0.9" stroke-linejoin="round" opacity="0.9"/>
<path d="M595.45,148.40 L596.38,149.31 L597.23,150.55 L598.00,151.40 L598.75,154.09 L599.59,156.16 L600.37,158.57 L600.64,161.88 L601.38,166.03 L602.08,169.54 L602.61,164.30 L603.36,158.35 L604.29,155.18 L605.03,152.42 L605.82,148.95 L606.82,148.18 L607.53,147.44 L608.01,147.35 L609.05,148.17 L609.66,148.93 L610.43,148.69 L610.93,148.60 L611.86,150.35 L612.85,151.41 L613.76,153.24" fill="none" stroke="#a88460" stroke-width="0.9" stroke-linejoin="round" opacity="0.6"/>
<path d="M595.69,148.00 L596.29,149.72 L597.23,150.30 L597.97,152.14 L598.73,153.47 L599.24,156.02 L600.08,158.31 L600.71,162.58 L601.26,165.57 L602.03,169.36 L602.66,163.84 L603.51,158.88 L604.34,155.54 L605.00,152.50 L605.67,149.35 L606.76,147.48 L607.33,147.26 L608.19,147.66 L608.81,147.96 L609.77,148.93 L610.26,148.63 L611.18,147.94 L612.04,150.06 L612.93,151.34 L613.54,153.27" fill="none" stroke="#a88460" stroke-width="0.9" stroke-linejoin="round" opacity="0.6"/>
<path d="M665.8,160.3 L665.8,169.3 L654,169.3" fill="none" stroke="#000" stroke-width="1.8"/>
<text x="661.0" y="180.3" font-size="7" font-weight="bold" fill="#000" text-anchor="middle" >2ms</text>
<text transform="translate(675.0,165.8) rotate(90)" x="0" y="0" font-size="7" font-weight="bold" fill="#000" text-anchor="middle" dominant-baseline="central">50μV</text>
<text x="5.6" y="216.3" font-size="13" font-weight="bold" fill="#000" text-anchor="start" >c</text>
<rect x="163.8" y="226.6" width="191.2" height="60.2" fill="#e8e8fc"/>
<text x="23.5" y="232.3" font-size="9" font-weight="bold" fill="#1c1ce6" text-anchor="start" textLength="50.0" lengthAdjust="spacingAndGlyphs" >FPE-PEDOT</text>
<text x="258.1" y="224.3" font-size="8" font-weight="bold" fill="#ff1c1c" text-anchor="middle" textLength="142.8" lengthAdjust="spacingAndGlyphs" >Seizures-like Spiking Activity Detection</text>
<path d="M15.8,254.5l .5,.7 .5,.2 .5-.9 .5,.8 .5-.1 .5,.2 .5-.3 .5,.3 .5-.2 .5-.5 .5,.3 .5,0 .5-.5 .5,.9 .5-.2 .5-.1 .5-.5 .5,.3 .5-.1 .5,0 .5,.5 .5-.6 .5,.6 .5-.4 .5,.1 .5,.1 .5,.2 .5-.3 .5,.3 .5-.3 .5-.6 .5,.4 .5,.3 .5-.1 .5-.8 .5,.7 .5,0 .5-.1 .5,.5 .5-.7 .5,.5 .5,.1 .5-.7 .5,.6 .5,0 .5-.1 .5,.4 .5-1.1 .5,1 .5-.4 .5,.1 .5-.2 .5,0 .5-.1 .5,.1 .5,.2 .5-.5 .5,.6 .5-.7 .5,.5 .5-.2 .5,.6 .5-.8 .5,.6 .5,.2 .5,0 .5-.4 .5,.3 .5-.8 .5,.5 .5,.1 .5,.3 .5-.8 .5,.7 .5-.1 .5,0 .5,.2 .5-.6 .5,0 .5,0 .5,.6 .5-.2 .5-.1 .5,.3 .5-.5 .5,.6 .5-.4 .5-1.1 .5,1 .5,.2 .5,0 .5-.2 .5,.3 .5-.1 .5,.2 .5-.2 .5-.1 .5,.2 .5-.9 .5,.7 .5-.2 .5,.6 .5-.3 .5-.3 .5,.5 .5-.2 .5-.1 .5,.1 .5,.1 .5-.1 .5,.2 .5-.1 .5-.2 .5,.1 .5,.1 .5-.2 .5,.2 .5-.2 .5-.3 .5,.4 .5,.1 .5-.2 .5-.5 .5,.8 .5,0 .5,.1 .5-.1 .5-.2 .5-.1 .5,.3 .5-.9 .5,.6 .5,.1 .5,0 .5,.1 .5,0 .5-.2 .5,.1 .5-.5 .5,.3 .5,.5 .5-.1 .5-.5 .5,.2 .5,0 .5,.2 .5,.1 .5-.3 .5,.2 .5-.2 .5-.1 .5-.1 .5,.6 .5,0 .5-.2 .5-.2 .5,.4 .5-.1 .5-.4 .5,.1 .5,.4 .5-.1 .5-.5 .5-.7 .5,1.3 .5-.7 .5,0 .5,.2 .5,.3 .5-.2 .5,.1 .5,.1 .5-.1 .5,.2 .5-.7 .5,.2 .5,.5 .5-.4 .5,.2 .5-.6 .5,.6 .5,0 .5,.2 .5-.9 .5,.5 .5,0 .5,.4 .5-.2 .5,0 .5,0 .5-.5 .5,.7 .5,0 .5-.1 .5-.2 .5-.6 .5,.4 .5,.6 .5-.3 .5,.1 .5,.1 .5,.1 .5-.2 .5-.2 .5-.3 .5,.1 .5,.5 .5-.1 .5,0 .5-.1 .5-.7 .5,.8 .5-.8 .5,.8 .5,.1 .5-.4 .5,.5 .5-.2 .5,.1 .5-.1 .5,.1 .5-.2 .5-.5 .5,.7 .5-.8 .5-.4 .5,1.3 .5-.3 .5,.2 .5-.4 .5,.2 .5,.2 .5-.1 .5-1.2 .5,1.3 .5,0 .5-.1 .5,.1 .5-.5 .5,.5 .5-1.1 .5,.7 .5,.2 .5-.3 .5-.3 .5,.6 .5-.7 .5,.5 .5,.4 .5-.8 .5-.3 .5,.9 .5,.2 .5-.4 .5,.4 .5-.2 .5,0 .5-1.1 .5,1.1 .5,.3 .5-.7 .5,.6 .5-.3 .5,.2 .5-.6 .5,.1 .5,.3 .5,.3 .5-.5 .5,.1 .5,.1 .5-.4 .5,.5 .5,0 .5,.3 .5-.5 .5-.4 .5,.9 .5-.3 .5,.2 .5,.1 .5-.3 .5-.1 .5-.5 .5-.3 .5,1.1 .5,.1 .5-.1 .5-.5 .5-.3 .5,.3 .5,.3 .5-.2 .5-.1 .5-.2 .5,.6 .5-.4 .5-.2 .5,.3 .5,0 .5,0 .5,.2 .5-.4 .5,.3 .5-.3 .5,.7 .5-.2 .5-.1 .5-.5 .5,.7 .5-.1 .5-.2 .5,.4 .5-.1 .5-1 .5,1 .5-.8 .5,.9 .5-.7 .5-.3 .5,.8 .5-.2 .5-.1 .5-.2 .5-.4 .5,.9 .5-.2 .5,.4 .5-.4 .5-.1 .5-.2 .5,.6 .5-.9 .5,.7 .5-.7 .5,.9 .5-.1 .5,0 .5-.2 .5,.4 .5-1.1 .5,.7 .5-.4 .5,.2 .5-.2 .5,.6 .5-1.3 .5,1.4 .5,.1 .5-.5 .5,.3 .5,.1 .5-.4 .5,.4 .5,0 .5-.9 .5,.4 .5,.4 .5,.1 .5,.1 .5-.8 .5,.4 .5,.3 .5,0 .5,0 .5-.1 .5-.1 .5-.4 .5,.5 .5-.4 .5,.6 .5-.7 .5,0 .5,.4 .5,.1 .5,.1 .5-.5 .5,0 .5-.1 .5,.2 .5,.4 .5-.8 .5,.9 .5-.6 .5,0 .5,.4 .5,0 .5-.1 .5,.1 .5,.2 .5-.1 .5-1.2 .5,1.1 .5,.2 .5-.5 .5-.5 .5,.7 .5,.3 .5-.5 .5,.5 .5-.4 .5-.2 .5,.2 .5,.3 .5-.3 .5-.5 .5,.8 .5-.2 .5,0 .5,.1 .5-.1 .5-.1 .5-.1 .5,.1 .5-.2 .5,.4 .5,0 .5,0 .5,.2 .5-.6 .5,.6 .5-.9 .5,.8 .5-.3 .5-.4 .5,.4 .5-.1 .5-.3 .5,.6 .5-.3 .5-.1 .5,0 .5,.6 .5,0 .5-.1 .5-.7 .5,.6 .5-.3 .5-.1 .5-.3 .5,.7 .5-.7 .5,.6 .5-.4 .5,.3 .5,.2 .5-.1 .5,.2 .5-.5 .5,.5 .5,0 .5-.4 .5,.4 .5-.1 .5-.4 .5,.4 .5-.1 .5,0 .5-.4 .5,.4 .5-.6 .5,.4 .5,.5 .5-.6 .5,.3 .5-.5 .5,.4 .5,.1 .5,.3 .5-.4 .5,0 .5-.1 .5,.1 .5,.2 .5-.1 .5,.1 .5,.1 .5-.6 .5,.7 .5-.5 .5,.1 .5,.1 .5-.1 .5,.2 .5-.7 .5,.4 .5-.1 .5-.1 .5,.6 .5-.5 .5,.1 .5-.4 .5,.7 .5-.3 .5-.2 .5,.6 .5-.2 .5-.1 .5-.6 .5,.1 .5,.5 .5,.2 .5,0 .5-.1 .5-.2 .5,0 .5,0 .5,.3 .5-.2 .5,.2 .5-.4 .5,.1 .5-.1 .5,.4 .5-.5 .5,.3 .5-.3 .5-.4 .5,.6 .5,.2 .5,.1 .5-.4 .5-.1 .5-.4 .5,.2 .5,.6 .5-1 .5,.8 .5-.3 .5,.2 .5,0 .5-.1 .5,.2 .5-.2 .5,.3 .5-.1 .5-.6 .5-.3 .5,.7 .5,.1 .5,.2 .5-.1 .5-.1 .5,0 .5,.1 .5-.6 .5,.6 .5-.4 .5-.3 .5,.3 .5-.1 .5-.4 .5,.6 .5,.2 .5-.1 .5-.2 .5-.4 .5,.3 .5-.4 .5-.2 .5,1 .5-.3 .5,.3 .5-.1 .5-.2 .5-.2 .5,.3 .5-.5 .5,.2 .5,.1 .5,.3 .5-.4 .5-.2 .5,.3 .5,0 .5-.2 .5,.4 .5-.1 .5-.3 .5,.5 .5-.2 .5-.3 .5,0 .5,.2 .5-.3 .5,.4 .5,.1 .5-.7 .5-.9 .5,1.5 .5-.1 .5-.3 .5-.2 .5,.3 .5-.2 .5-.2 .5,.1 .5,.4 .5-.1 .5-.5 .5,.7 .5,.1 .5-.3 .5-.5 .5,.6 .5-.3 .5,.3 .5,.1 .5-.4 .5,.1 .5,.3 .5,0 .5-.2 .5-.2 .5-.2 .5,.4 .5-.2 .5-.3 .5-.1 .5,.7 .5,0 .5-.1 .5,.2 .5-.3 .5-.2 .5,.3 .5,.1 .5-.4 .5-.1 .5,.4 .5,0 .5-.2 .5,.3 .5-.2 .5-.6 .5,.7 .5,.1 .5-.4 .5,.2 .5,0 .5-.5 .5,.1 .5,.2 .5,.4 .5-.2 .5-.5 .5,.8 .5-.4 .5-.4 .5,.7 .5-.4 .5,0 .5,.3 .5-1 .5,.9 .5-.1 .5-.1 .5-.1 .5,.2 .5-.2 .5,.2 .5,.1 .5-.3 .5,.2 .5,.2 .5,.2 .5-.5 .5-.4 .5,.7 .5,0 .5-.1 .5-.1 .5-1.5 .5,1.8 .5-.3 .5,.3 0,8.8-.5-.1-.5,.8-.5-.2-.5-.4-.5,.4-.5-.5-.5,.5-.5-.3-.5,.7-.5-.9-.5,1-.5-.5-.5-.6-.5,.2-.5,.2-.5-.2-.5,.5-.5,0-.5-.1-.5-.4-.5,.3-.5-.3-.5,0-.5-.2-.5,.1-.5,.3-.5-.3-.5,.2-.5-.1-.5,.1-.5-.1-.5-.1-.5,.5-.5-.3-.5-.1-.5,.1-.5-.1-.5,0-.5,.4-.5,.1-.5-.2-.5,.1-.5,.2-.5-.5-.5-.2-.5,.5-.5-.4-.5-.1-.5,.1-.5,.8-.5-.9-.5,.2-.5-.2-.5,.6-.5,.2-.5,.2-.5-.3-.5-.3-.5-.2-.5,.5-.5-.7-.5,.8-.5,.3-.5-.8-.5-.3-.5,.6-.5-.6-.5,1-.5-.5-.5-.4-.5,.3-.5-.6-.5,.5-.5,.4-.5,0-.5,0-.5-.8-.5,.3-.5,.4-.5-.5-.5,.1-.5-.3-.5-.1-.5,.1-.5,.4-.5-.4-.5,1.3-.5-.8-.5-.6-.5,.6-.5-.4-.5,.3-.5,.3-.5-1-.5,.2-.5,.1-.5-.1-.5,.1-.5,.2-.5,0-.5-.3-.5,.4-.5-.4-.5,.1-.5,.4-.5-.8-.5,.7-.5-.5-.5,.6-.5-.5-.5,.5-.5-.6-.5-.2-.5,.8-.5-.8-.5,.8-.5-.7-.5,.1-.5,.1-.5,.3-.5-.3-.5-.3-.5-.1-.5,.5-.5-.3-.5-.3-.5,.2-.5,.2-.5-.3-.5-.1-.5,.1-.5,.2-.5-.1-.5,0-.5-.2-.5,.3-.5,0-.5,0-.5-.3-.5,.7-.5-.6-.5-.2-.5,.1-.5,.3-.5-.4-.5,.3-.5-.1-.5,.1-.5-.3-.5,.2-.5,.1-.5,0-.5-.3-.5,.2-.5-.1-.5,0-.5,.1-.5,.5-.5-.8-.5,0-.5,.7-.5,.2-.5-.4-.5-.3-.5-.1-.5-.1-.5,.2-.5-.2-.5,0-.5,.4-.5,0-.5-.4-.5-.1-.5,.7-.5-.2-.5,.5-.5-.8-.5,.4-.5-.4-.5-.1-.5,0-.5-.1-.5,.4-.5-.3-.5-.2-.5,1-.5-.5-.5,.9-.5-1-.5,0-.5-.1-.5,.2-.5-.3-.5-.2-.5,.5-.5,.5-.5-.9-.5,.5-.5-.1-.5,.5-.5-.4-.5-.4-.5-.1-.5,.4-.5-.5-.5,.1-.5,.7-.5-.6-.5-.1-.5,.1-.5,.4-.5-.4-.5,.3-.5-.4-.5,.1-.5-.2-.5,.4-.5,.2-.5-.5-.5,.2-.5,.2-.5-.1-.5,.8-.5-1-.5,.1-.5,.1-.5-.2-.5-.1-.5,0-.5,.1-.5,.1-.5,.1-.5,.9-.5-1.3-.5,.1-.5,.3-.5-.1-.5,.1-.5-.2-.5,.2-.5,.4-.5-.7-.5,.5-.5,0-.5,.1-.5-.6-.5,.3-.5-.1-.5,0-.5-.2-.5,0-.5,.3-.5-.3-.5,.2-.5-.1-.5,.9-.5-.6-.5-.3-.5,.4-.5,.2-.5-.2-.5,.3-.5-.4-.5-.3-.5,0-.5,.3-.5,.1-.5,.1-.5-.6-.5,.1-.5,.8-.5-.8-.5,0-.5,.4-.5-.1-.5-.2-.5,0-.5,.8-.5-.8-.5,.5-.5,0-.5-.5-.5-.3-.5,.7-.5-.4-.5,.4-.5-.6-.5,.4-.5,.3-.5-.3-.5,1-.5-1-.5,.1-.5-.1-.5-.1-.5-.3-.5,.1-.5,.2-.5-.3-.5,.2-.5-.3-.5,.2-.5,.1-.5-.2-.5,.3-.5-.2-.5,.1-.5-.3-.5,1.2-.5-.3-.5-.4-.5-.1-.5,.6-.5-.8-.5,0-.5,.9-.5-.2-.5-.2-.5-.4-.5,.5-.5-.2-.5-.3-.5,.1-.5-.2-.5-.1-.5-.1-.5,.3-.5,.2-.5-.4-.5-.1-.5,.3-.5,.2-.5,.2-.5-.6-.5,0-.5,.1-.5-.1-.5,.7-.5-.7-.5-.1-.5,.3-.5-.1-.5,.1-.5-.2-.5,.6-.5-.6-.5,.9-.5-.1-.5,.1-.5-.9-.5,1.2-.5-.7-.5-.6-.5,.3-.5,.5-.5-.6-.5-.2-.5,.3-.5,.2-.5-.3-.5,.1-.5,.1-.5-.1-.5,.6-.5-.8-.5,.5-.5-.4-.5,.5-.5,.4-.5-.6-.5,0-.5-.5-.5,.2-.5,.1-.5,.3-.5-.5-.5,.3-.5-.1-.5,.3-.5-.6-.5,.1-.5-.1-.5,.3-.5-.3-.5,.7-.5,0-.5-.5-.5,.2-.5-.3-.5,0-.5,.2-.5,.3-.5,.2-.5-.3-.5-.4-.5,.7-.5,.2-.5-.7-.5,.2-.5-.4-.5,.3-.5,.2-.5-.1-.5,0-.5-.4-.5,0-.5,.1-.5,.3-.5,0-.5-.1-.5-.4-.5,.2-.5,.1-.5-.3-.5,1.2-.5-.8-.5,.3-.5,.3-.5-.2-.5-.4-.5-.2-.5,.8-.5-.5-.5-.3-.5,.9-.5-1.1-.5,.7-.5-.7-.5,.1-.5,.1-.5-.1-.5,.5-.5-.6-.5,.5-.5-.3-.5,.2-.5,.4-.5-.5-.5,.1-.5-.2-.5,1-.5-.8-.5-.1-.5-.2-.5,.1-.5,0-.5-.1-.5,.6-.5-.1-.5-.2-.5-.4-.5,.4-.5-.3-.5,.6-.5,0-.5-.4-.5,.2-.5-.5-.5,.1-.5-.1-.5,.4-.5,.3-.5-.3-.5,0-.5-.2-.5,.5-.5-.4-.5,.1-.5-.3-.5,.3-.5,.1-.5,0-.5-.4-.5,.6-.5-.3-.5,0-.5,0-.5-.3-.5,.8-.5-.5-.5,0-.5,.5-.5-.6-.5,.2-.5-.1-.5-.3-.5,0-.5,.9-.5-.5-.5,.8-.5-1-.5,.2-.5-.2-.5,.2-.5,.2-.5-.3-.5,0-.5-.2-.5-.1-.5,.5-.5-.3-.5,.1-.5,.4-.5,.1-.5-.6-.5-.2-.5-.1-.5,.5-.5-.3-.5,0-.5-.2-.5,.7-.5-.1-.5,.1-.5-.1-.5-.5-.5,.3-.5-.1-.5-.2-.5,.3-.5-.3-.5,.2-.5-.2-.5,.5-.5,.3-.5-.4-.5-.3-.5-.1-.5,.1-.5,.8-.5,.5-.5-1.1-.5,.2-.5-.3-.5,.2-.5-.4-.5,0-.5,0-.5,.2-.5,.5-.5-.5-.5-.1-.5,.5-.5,.2-.5-.3-.5-.5-.5,.2-.5-.1-.5,.3-.5,.4-.5-.6-.5,.3-.5-.1-.5,.1-.5,.3-.5-.7-.5,0-.5-.1-.5,0-.5,.5-.5-.2-.5-.2-.5,.1-.5,.1-.5-.4-.5,.3-.5-.2-.5,0-.5,0-.5-.1-.5,.1-.5,1.1-.5-1-.5-.1-.5,.3-.5-.3-.5,0-.5,.1-.5,.1-.5-.2-.5,.3-.5-.1-.5,.1-.5,.4-.5-.6-.5-.1-.5,.5-.5-.3-.5,.1-.5,0-.5,.1-.5-.1-.5,.3-.5-.3-.5-.1-.5-.2-.5,0-.5,.4-.5-.1-.5,.2-.5-.2-.5,.4-.5-.3-.5,0-.5-.3-.5,0-.5,.5-.5,.1-.5-.3-.5,.5-.5-.9-.5,.9-.5-.7-.5-.2-.5,.1-.5,0-.5,0-.5,.1-.5-.2-.5,.5-.5-.1-.5,0-.5-.2-.5,0-.5,.2-.5,0-.5,.4-.5-.8-.5,0-.5,.7-.5-.1-.5,0-.5-.5-.5,.5-.5-.5-.5-.1-.5,.1-.5-.2-.5,.1-.5,.2-.5-.1-.5,.3-.5-.5-.5,.1-.5,0-.5,0-.5,.3-.5-.3-.5,.4-.5-.4-.5,.7-.5-.4-.5-.1-.5,0-.5,.1-.5-.1-.5,0-.5,.5-.5-.1-.5,.2-.5-.7-.5,.3-.5-.3-.5,.9-.5-1.1-.5,0-.5,.4-.5-.4-.5,.1-.5,0-.5,.4-.5,.6-.5-.8-.5,.5-.5,.2-.5-.2z" fill="#000"/>
<path d="M84.8,252.5V266.3 M90.6,251.8V266.1 M137.3,250.7V265.8 M160.7,251.7V264.8 M173.6,245.6V273.7 M185.1,244.0V274.9 M191.4,245.2V272.0 M198.2,245.5V275.3 M215.5,245.8V273.5 M218.4,243.0V271.8 M226.4,244.3V275.5 M239.6,245.8V273.9 M244.4,243.1V272.2 M254.6,244.6V274.7 M258.5,244.0V273.6 M202.3,251.1V267.2 M206.4,250.6V267.1 M231.5,250.6V268.2 M248.3,249.4V266.6 M264.0,253.6V263.5 M265.1,253.2V264.4 M265.9,251.1V266.9 M267.4,253.0V264.3 M268.1,254.7V262.8 M269.9,251.9V265.8 M270.7,248.2V267.5 M272.0,250.9V266.1 M272.6,254.2V263.1 M273.6,252.8V264.2 M274.7,253.5V263.7 M276.3,251.6V265.7 M277.5,251.6V266.1 M277.9,250.9V267.5 M279.6,252.8V264.9 M280.2,246.4V269.6 M281.7,253.0V264.7 M282.3,251.7V265.3 M283.8,254.5V263.0 M284.6,250.9V265.3 M285.8,254.2V263.2 M287.4,251.6V264.3 M288.6,251.5V265.0 M289.6,251.2V265.0 M290.7,251.8V264.5 M291.5,251.5V264.7 M292.8,248.3V266.4 M293.4,247.9V267.2 M295.0,247.1V269.5 M296.0,248.0V271.3 M296.6,253.7V264.0 M298.3,252.9V265.1 M298.8,251.2V265.2 M300.6,254.2V262.6 M301.3,254.4V262.8 M302.5,252.6V264.2 M303.4,254.1V263.1 M305.0,253.9V263.9 M305.6,247.9V268.9 M307.2,252.7V264.3 M308.2,252.3V263.9 M309.2,250.9V265.5 M310.3,251.9V264.4 M311.2,250.9V266.6 M312.7,244.8V273.1 M313.3,253.9V263.1 M314.9,254.3V263.0 M315.8,254.3V263.4 M317.0,253.7V263.1 M317.7,252.4V264.9 M319.3,253.7V263.5 M319.8,251.4V266.3 M321.2,251.7V265.4 M322.3,254.5V262.7 M323.4,245.9V273.7 M324.9,253.4V263.3 M325.5,246.0V269.9 M327.0,253.4V264.1 M327.6,254.5V263.3 M328.7,254.1V263.7 M329.7,251.6V266.9 M331.4,254.5V262.7 M331.9,252.6V263.8 M332.9,248.9V266.0 M334.4,254.3V262.6 M335.9,251.6V265.5 M336.2,244.7V271.3 M338.0,251.1V266.4 M339.1,251.4V267.0 M339.7,254.3V263.0 M340.8,251.4V266.3 M341.9,251.6V265.5 M343.5,248.6V267.5 M343.9,252.6V265.3 M345.0,245.6V272.6 M346.9,253.3V263.9 M347.3,251.7V266.4 M348.7,254.1V263.0 M349.8,254.6V263.0 M351.2,254.3V262.8 M351.7,252.7V265.0 M170.2,252.7V265.6 M172.8,254.1V262.9 M176.1,253.4V263.7 M179.1,253.5V263.0 M182.2,253.5V263.7 M185.2,252.4V265.2 M188.4,253.1V264.1 M191.5,252.3V265.5 M194.7,252.6V265.7 M197.9,253.1V264.5 M201.2,253.6V263.3 M204.1,252.4V264.3 M207.6,253.6V264.1 M210.2,253.5V263.6 M213.0,252.2V265.9 M216.2,252.6V264.4 M219.9,253.3V264.8 M222.5,252.2V264.3 M225.9,253.5V264.1 M229.0,254.4V263.3 M232.4,252.4V265.8 M234.6,252.3V265.9 M238.0,254.0V263.2 M241.4,252.3V264.6 M244.8,253.8V264.0 M247.2,254.4V262.9 M250.7,254.2V262.9 M254.1,253.3V264.6 M256.5,254.5V262.8 M259.8,253.1V263.7" stroke="#1a1a1a" stroke-width="0.45" fill="none"/>
<line x1="17.8" y1="278.5" x2="17.8" y2="266" stroke="#b4b4b4" stroke-width="1.2"/><path d="M17.8,262.8 L15.2,267.8 L20.4,267.8 Z" fill="#b4b4b4"/>
<text x="16.5" y="289.4" font-size="8.5" font-weight="bold" fill="#a4a4a4" text-anchor="middle" >2<tspan font-size="5.5" dy="-3">nd</tspan></text>
<text x="17.6" y="300.2" font-size="8.5" font-weight="bold" fill="#a4a4a4" text-anchor="middle" textLength="35.6" lengthAdjust="spacingAndGlyphs" >Injection</text>
<line x1="17.8" y1="304.5" x2="17.8" y2="316.5" stroke="#b4b4b4" stroke-width="1.2"/><path d="M17.8,320 L15.2,315 L20.4,315 Z" fill="#b4b4b4"/>
<path d="M357.7,279 L357.7,290.4 L329.5,290.4" fill="none" stroke="#000" stroke-width="1.5"/>
<text x="341.8" y="300.4" font-size="6.6" font-weight="bold" fill="#000" text-anchor="middle" >5s</text>
<text transform="translate(367.0,281.5) rotate(90)" x="0" y="0" font-size="6.6" font-weight="bold" fill="#000" text-anchor="middle" dominant-baseline="central">50μV</text>
<text x="24.8" y="313.7" font-size="8.5" font-weight="bold" fill="#000" text-anchor="start" textLength="73.8" lengthAdjust="spacingAndGlyphs" >Control Electrode</text>
<text x="258.2" y="316.8" font-size="8" font-weight="bold" fill="#000" text-anchor="middle" textLength="135.1" lengthAdjust="spacingAndGlyphs" >High-noise Spiking Activity Detection</text>
<path d="M15.8,330.6l .5,.1 .5-1.6 .5,1.7 .5,.1 .5-1.2 .5,.6 .5,.2 .5,.3 .5-.1 .5-.7 .5,.8 .5-.1 .5-.2 .5-.8 .5,.7 .5-.3 .5-.6 .5,.3 .5,.7 .5-.3 .5,.1 .5,0 .5,.4 .5-.5 .5,.2 .5,.6 .5-.3 .5,.3 .5-.1 .5-.5 .5,.1 .5,.5 .5-.1 .5,.1 .5-.2 .5,0 .5-.9 .5,1 .5-1.1 .5,1 .5-.2 .5,.3 .5-.2 .5,.1 .5-.8 .5,.1 .5,.5 .5,.1 .5,.2 .5-1 .5,.9 .5-.8 .5,.4 .5,.1 .5-.4 .5,.8 .5-1.7 .5,1.3 .5,.4 .5-.2 .5-.5 .5,.6 .5-.5 .5,.2 .5,.5 .5-1 .5,.9 .5-2.2 .5,1.7 .5-.9 .5,.3 .5-.3 .5,1.2 .5-.6 .5-.2 .5,.4 .5,.5 .5-.3 .5,.3 .5-1.5 .5,1.4 .5-.3 .5,0 .5-.2 .5,0 .5,.2 .5,.4 .5-.4 .5,0 .5-.3 .5,.5 .5,.3 .5-.5 .5,.1 .5-.1 .5,.2 .5,0 .5,0 .5,0 .5-.2 .5,.5 .5-1.3 .5,.9 .5,.1 .5-.4 .5,.1 .5-1.3 .5,1 .5,.4 .5,.6 .5-.4 .5-.3 .5,.5 .5-1.7 .5,1 .5,.5 .5-1.4 .5,.6 .5,1.2 .5-1.2 .5,.7 .5,.2 .5-.8 .5-.3 .5,.8 .5,.3 .5-1.5 .5,.4 .5,1.2 .5-.1 .5-.3 .5,.3 .5-.4 .5,0 .5-.6 .5-.4 .5,1.1 .5,0 .5-.6 .5-.2 .5,.2 .5,.2 .5,.5 .5-.8 .5,.6 .5,.6 .5,.1 .5-.7 .5-.3 .5-.1 .5,.7 .5-.5 .5,.6 .5,.1 .5-.2 .5-1.4 .5,1.8 .5-1 .5,1 .5-.5 .5,.1 .5,.2 .5-.1 .5-.2 .5,.2 .5-.1 .5,0 .5,.2 .5-.7 .5,.5 .5-.2 .5-.6 .5,.8 .5,0 .5,.3 .5,.1 .5-1.9 .5,.9 .5,.3 .5-.1 .5,.3 .5,.4 .5-.1 .5-.6 .5,.7 .5-.3 .5,.1 .5-.7 .5,.5 .5,.3 .5-.7 .5,.2 .5,.5 .5-.6 .5,.1 .5,.7 .5-.2 .5-.5 .5,.2 .5,.1 .5-.5 .5,.4 .5-.9 .5,1.2 .5,.2 .5-.7 .5,.5 .5-.1 .5-1.4 .5,.9 .5-.3 .5,.6 .5,.1 .5,.1 .5-.1 .5-.5 .5-.3 .5,.7 .5-.4 .5,.8 .5-.5 .5,.4 .5-.9 .5,.7 .5,.4 .5-.3 .5,.1 .5-.5 .5,.3 .5,.1 .5-.4 .5,.6 .5-.6 .5,.7 .5-.1 .5-1.3 .5,.6 .5-.4 .5,.2 .5,.7 .5,.3 .5,0 .5-.6 .5,.3 .5-.2 .5-.9 .5,1.2 .5-.4 .5,.3 .5,.2 .5-.7 .5,.2 .5-.1 .5-.3 .5,.4 .5,.5 .5-1 .5,.4 .5,.7 .5-.7 .5,.5 .5-.4 .5,0 .5,.2 .5,0 .5-.2 .5-.4 .5,.9 .5-.1 .5-.3 .5,.1 .5-.6 .5,.5 .5-.7 .5,.2 .5,.5 .5,.2 .5-.5 .5,.2 .5,.6 .5-1.6 .5,1.6 .5-.9 .5-.3 .5,.3 .5,.3 .5,.6 .5-2.2 .5,1.3 .5,.2 .5,.3 .5-.6 .5,.2 .5-.1 .5,.5 .5-.3 .5,.6 .5-.2 .5-.1 .5,.1 .5-1.8 .5,1.6 .5,.1 .5,0 .5-.4 .5-.3 .5-.3 .5,.3 .5-.6 .5,1.4 .5,.2 .5-.4 .5-.4 .5,.3 .5,.4 .5-1.5 .5,1.7 .5-.7 .5,.3 .5,.3 .5-.2 .5,.1 .5-.1 .5-2.3 .5,2 .5-.2 .5,.3 .5,0 .5,0 .5-.4 .5,.7 .5-.2 .5-1.1 .5,1.2 .5-.2 .5,.5 .5,0 .5-.8 .5,.1 .5-.3 .5,.1 .5,.7 .5-.8 .5,.8 .5,.2 .5-1.3 .5,.4 .5,.8 .5-.9 .5,.3 .5,0 .5-1.2 .5,1.7 .5-.3 .5,.1 .5,.3 .5-.1 .5,.1 .5-.4 .5,.2 .5,0 .5-.4 .5,0 .5,.6 .5-2 .5,1.9 .5-.4 .5,.2 .5,.1 .5-.3 .5-.4 .5-.3 .5,.3 .5-.2 .5,1.1 .5-.8 .5-.5 .5,1.1 .5-.8 .5,.4 .5-1.5 .5-.4 .5-1.1 .5-1.8 .5,.4 .5-.7 .5,.2 .5-.4 .5,2 .5-.1 .5,.9 .5,1 .5,1.4 .5-.2 .5,.8 .5-1.3 .5,1 .5-.1 .5-.3 .5,.2 .5,.2 .5,.1 .5,0 .5-.1 .5,.2 .5-.2 .5-.5 .5,.7 .5,0 .5-.1 .5-.5 .5-.2 .5,.5 .5,0 .5-.1 .5-.5 .5,.9 .5,.1 .5-.8 .5-.7 .5,.1 .5,.3 .5-1.5 .5,.4 .5-1.3 .5-.1 .5-.9 .5-.1 .5,1.2 .5,.5 .5,1.1 .5,1 .5-.4 .5,1 .5-1.5 .5,1 .5,0 .5,.2 .5,.4 .5,.2 .5-1.1 .5,1.1 .5-.9 .5,.4 .5,0 .5,0 .5,.5 .5-.1 .5-.3 .5-.6 .5,.3 .5-.6 .5,1.2 .5,0 .5-.8 .5,.9 .5-.1 .5-.8 .5,.8 .5,.1 .5-.2 .5-.3 .5-.2 .5,.1 .5,.6 .5-.2 .5-1.2 .5,1.4 .5,.1 .5-.7 .5-.2 .5-.2 .5,.2 .5-.2 .5,.6 .5-.1 .5-1.1 .5,.7 .5,.9 .5-.1 .5-.2 .5,.2 .5-.4 .5,.2 .5,.4 .5-.7 .5,.4 .5-.4 .5-.2 .5,.8 .5-1.5 .5,1 .5-.7 .5,.3 .5-.5 .5,1.3 .5-.4 .5,.1 .5-.1 .5-.2 .5,.4 .5-.3 .5,.7 .5,0 .5-1.4 .5,1.3 .5-.9 .5,.4 .5-.3 .5,.8 .5-.8 .5-.1 .5-.2 .5,.8 .5-.1 .5,.3 .5-1.6 .5,1.1 .5,.4 .5,.1 .5,.1 .5-.7 .5,.4 .5,0 .5-.2 .5,.1 .5,.4 .5-.5 .5-.2 .5,.3 .5,.5 .5-.6 .5-.2 .5-.2 .5-.3 .5,1.3 .5-.6 .5-.7 .5,.2 .5,.9 .5-.4 .5,.3 .5-.9 .5,.4 .5,.5 .5,.2 .5-1.3 .5,.3 .5,.6 .5-.4 .5-.6 .5,1.5 .5-.3 .5,0 .5,.3 .5-.5 .5,.2 .5-.9 .5,.2 .5,.6 .5-.1 .5,0 .5,.4 .5-.4 .5,.3 .5-.5 .5-1.2 .5,1.7 .5-.3 .5,.4 .5-.5 .5-.5 .5,.8 .5,0 .5-1.5 .5,1.6 .5-.5 .5,.5 .5,0 .5-.9 .5,.7 .5-.4 .5-.6 .5-.3 .5-.6 .5,.4 .5-.6 .5-1.3 .5,1.4 .5-1.1 .5,1.3 .5-1.3 .5,1.6 .5,.8 .5,.6 .5-.2 .5-.2 .5,.1 .5-.5 .5,.9 .5,.3 .5-1.4 .5,.1 .5-.3 .5,.9 .5,.5 .5-.6 .5,.9 .5-.1 .5-1.1 .5,1.1 .5-1 .5,.5 .5,.4 .5-1.5 .5,1 .5,.5 .5-.1 .5,.2 .5-.5 .5-.6 .5,.3 .5-.3 .5,.8 .5,.2 .5-.2 .5-.4 .5-.2 .5,.3 .5,.4 .5-.1 .5,.2 .5-.4 .5-.3 .5,.7 .5-.6 .5,.4 .5-.1 .5,.2 .5,.2 .5-.2 .5-.4 .5,.6 .5-.3 .5,.3 .5-.7 .5,.2 .5,.5 .5-.7 .5-.1 .5,.3 .5,.3 .5-1.1 .5,1.3 .5-.3 .5,.1 .5,.1 .5-1.6 .5,1.8 .5-.1 .5-.7 .5-.4 .5,.9 .5-.4 .5-1.2 .5,1.5 .5-.5 .5,.2 .5,.5 .5-.1 .5,0 .5,.3 .5-.3 .5-.2 .5,.4 0,24.6-.5,.2-.5-1-.5,.5-.5-.1-.5,0-.5,.4-.5-.2-.5-.1-.5,.7-.5-1.2-.5,1.4-.5-1.1-.5-.2-.5,.2-.5,.7-.5-.6-.5-.5-.5,.2-.5,.2-.5,.1-.5,.1-.5,0-.5-.2-.5,.6-.5,.6-.5-1.3-.5,.4-.5,.2-.5-.3-.5-.3-.5,.2-.5,.5-.5-.9-.5,.3-.5,.5-.5-.6-.5,.1-.5,.2-.5,.4-.5-.7-.5,0-.5-.2-.5,.1-.5,.2-.5-.1-.5,1.4-.5-.8-.5-.3-.5,0-.5,.6-.5,0-.5-.4-.5-.7-.5,.1-.5,1.4-.5-1-.5-.2-.5,1-.5-.5-.5-.3-.5,.3-.5-.3-.5,0-.5-.4-.5,.4-.5,.1-.5,.6-.5-1.3-.5,.2-.5,.5-.5,.4-.5-.4-.5,.1-.5-.7-.5,.6-.5,.1-.5,0-.5-.4-.5,1.2-.5-.6-.5,.2-.5,.3-.5,.9-.5,2.4-.5-1.2-.5-.4-.5,0-.5,.4-.5-.6-.5-1.3-.5-.2-.5-.3-.5,1.2-.5-.7-.5-.9-.5-.4-.5,.3-.5-.5-.5,.4-.5,.1-.5,.5-.5,.3-.5-1.2-.5-.3-.5,.1-.5,.1-.5,.6-.5,.2-.5,0-.5-.7-.5-.2-.5,1.2-.5-.9-.5,.3-.5-.4-.5,.9-.5,.9-.5-1.7-.5,.8-.5,.2-.5-1.1-.5,.3-.5-.2-.5,.5-.5,.4-.5-.6-.5-.3-.5-.4-.5,.1-.5,.1-.5,.7-.5-.2-.5,.6-.5-.6-.5-.6-.5,.1-.5,.1-.5,0-.5,.2-.5,.2-.5-.1-.5-.3-.5,0-.5,.1-.5,.3-.5,0-.5-.1-.5-.4-.5,.2-.5,.6-.5-.5-.5,.4-.5,.1-.5-.6-.5-.1-.5,.9-.5-.9-.5-.2-.5,.8-.5-.7-.5,0-.5,.4-.5,0-.5-.2-.5-.3-.5,.5-.5,.6-.5-.9-.5,.1-.5,1-.5,.1-.5-1.4-.5,0-.5,0-.5,.7-.5,0-.5,.7-.5,0-.5-.7-.5-.1-.5,.4-.5-1.1-.5,1.3-.5-1.1-.5,.2-.5-.4-.5,.4-.5-.1-.5,0-.5,.9-.5-1.1-.5,.4-.5,0-.5,.5-.5-.3-.5,.2-.5,.3-.5,.2-.5-1.3-.5,1.5-.5-1.5-.5,.7-.5-.8-.5,.9-.5-.7-.5,.8-.5-.9-.5,1.5-.5-.5-.5-.5-.5,1.1-.5-1.4-.5-.2-.5,0-.5-.1-.5,1.8-.5-1.6-.5,0-.5,.1-.5,.5-.5-.1-.5-.4-.5,.6-.5-.7-.5,.6-.5-.6-.5-.1-.5,1.7-.5-1.4-.5,1-.5,.1-.5-.8-.5,.5-.5-.2-.5-.4-.5-.1-.5,.6-.5-.8-.5,.6-.5-.7-.5,.4-.5,1.2-.5,.8-.5,.5-.5,1.6-.5,1.3-.5,1.1-.5,.7-.5,.6-.5-2.2-.5-.4-.5-2.4-.5-1.4-.5-1.1-.5,.3-.5,.4-.5-1.4-.5,0-.5,.1-.5-.1-.5,1.5-.5-.9-.5-.6-.5,1.5-.5-1.5-.5-.2-.5,.2-.5,.3-.5,.3-.5-.5-.5,.2-.5-.3-.5-.1-.5,1.1-.5,.2-.5-1.4-.5,1.2-.5-1.1-.5,.9-.5-.6-.5,.1-.5,.7-.5,.5-.5,1.4-.5,1.7-.5,1.6-.5,1.4-.5,1.6-.5-.6-.5-1-.5-1-.5-1.7-.5-.7-.5-2.5-.5,.2-.5-1.4-.5-.4-.5,.2-.5-.4-.5,.2-.5,1-.5,.3-.5-1.6-.5,.1-.5,.9-.5,.5-.5-1.4-.5,1.1-.5-.8-.5-.2-.5,.3-.5-.5-.5,.8-.5-.6-.5,.9-.5-.5-.5,.3-.5-.4-.5,.1-.5-.1-.5-.3-.5,.8-.5-.3-.5-.7-.5,.8-.5-.5-.5,.6-.5-.1-.5,1.1-.5-1.8-.5,.8-.5-.3-.5-.1-.5,.3-.5,.1-.5,0-.5-.8-.5,.2-.5,1-.5,.4-.5-1-.5-.4-.5,0-.5,1.3-.5-.5-.5,.1-.5-1.2-.5,0-.5,.6-.5-.3-.5,.1-.5-.3-.5,.2-.5-.3-.5,.6-.5,0-.5,0-.5-.4-.5,.7-.5-.4-.5-.2-.5-.1-.5,.3-.5-.4-.5,1-.5-1-.5,1.1-.5-.2-.5,1.5-.5-2.3-.5,.8-.5-.8-.5,.8-.5-.7-.5,.8-.5-.4-.5-.5-.5,0-.5-.2-.5,.4-.5-.3-.5,.1-.5,2.7-.5-2.8-.5,1.3-.5-.8-.5-.4-.5,.5-.5-.3-.5-.3-.5,.2-.5,0-.5,.5-.5-.4-.5,.1-.5-.4-.5,.4-.5,.4-.5-.6-.5,.3-.5-.3-.5,1.2-.5-1.3-.5,.4-.5,.1-.5-.5-.5,.7-.5-.3-.5,.3-.5-.2-.5,.2-.5-.5-.5,.5-.5-.8-.5,1-.5-.3-.5-.8-.5,.2-.5,.3-.5-.4-.5,.4-.5-.2-.5,.3-.5-.6-.5,.7-.5-.6-.5,1.1-.5-.9-.5,.3-.5,.2-.5-.8-.5,.6-.5-.5-.5,0-.5,.8-.5-.3-.5-.5-.5,.8-.5-.2-.5,.1-.5-.3-.5-.5-.5,.2-.5,.3-.5-.4-.5,.7-.5-.3-.5,.3-.5,0-.5,.6-.5-.1-.5-1-.5-.1-.5,.2-.5-.2-.5,.2-.5,.6-.5-.7-.5,.5-.5-.4-.5,.7-.5-.6-.5,0-.5,.1-.5,.7-.5-.5-.5,.2-.5-.9-.5,.6-.5,.7-.5-1-.5,.3-.5,1.3-.5-1-.5-.2-.5-.6-.5-.2-.5,.2-.5,0-.5,1.2-.5-1.4-.5,1.9-.5-1.1-.5-.1-.5-.7-.5,.3-.5,0-.5-.2-.5,.8-.5,.4-.5-1-.5,.2-.5,.6-.5-.7-.5-.1-.5,.6-.5,0-.5-.2-.5-.6-.5,0-.5,1.3-.5-1.4-.5,.8-.5,0-.5-.7-.5,1.9-.5-1.5-.5,0-.5-.4-.5,1.6-.5-1-.5,.2-.5,.5-.5-.8-.5,.5-.5-.9-.5,.1-.5,.8-.5-.3-.5,.2-.5-.2-.5-.4-.5,.2-.5,.7-.5-.3-.5,.5-.5-1.3-.5-.1-.5,.1-.5,1.7-.5-1.9-.5,1.7-.5-1.3-.5,1.4-.5-.8-.5-.4-.5,0-.5,0-.5,1.9-.5-1.4-.5-.4-.5-.2-.5,.3-.5-.5-.5,.4-.5-.6-.5,.4-.5-.1-.5,.9-.5-.1-.5-.7-.5,1.9-.5-.6-.5-1.4-.5,1.4-.5-1.6-.5,.1-.5,2.1-.5-2.3-.5,.8-.5-.5-.5-.2-.5,.5-.5,.2-.5-.6-.5-.2-.5,.6-.5,.4-.5-.8-.5-.1-.5,.2-.5-.3-.5,0-.5,.5-.5-.3-.5,.6-.5-.5-.5,1.4-.5-1.3-.5,0-.5-.3-.5,0-.5,.7-.5-.9-.5,.6-.5,.5-.5,.3-.5-.9-.5,.4-.5-.9-.5,.2-.5,.8-.5-.6-.5,.9-.5-1-.5-.1-.5,1.1-.5-.2-.5-.4-.5,1.2-.5-1.4-.5,.1-.5-.1-.5,0-.5-.2-.5,0-.5,.9-.5-1.2-.5,.6-.5-.6-.5,0-.5,.3-.5,.6-.5-.9-.5,1.1-.5-.4-.5-.6-.5,.1-.5,.7-.5-.9-.5,.2-.5,.3-.5,.3-.5-.7-.5,.5-.5,0-.5-.5-.5,.2-.5,.8-.5-.6-.5-.3-.5,.2-.5-.1-.5-.1-.5,1-.5-1.2-.5,.5-.5-.3-.5-.1-.5-.1-.5,.5-.5-.4-.5,.3-.5-.1-.5,.4-.5-.4-.5-.1-.5-.1-.5,2-.5-1.7-.5,.9-.5-.4-.5-.1-.5,0-.5-.4-.5,.5-.5,.8-.5-1.3-.5,.1-.5,.4-.5-.8-.5,.6-.5-.2-.5,.5-.5-.9-.5,.6-.5-.3-.5,.4-.5-.6-.5,.6-.5,.3-.5,1-.5-1.4-.5,.8-.5-.5z" fill="#000"/>
<path d="M357.7,352.8 L357.7,363.6 L330,363.6" fill="none" stroke="#000" stroke-width="1.5"/>
<text x="344.6" y="374.6" font-size="6.6" font-weight="bold" fill="#000" text-anchor="middle" >5s</text>
<text transform="translate(367.0,357.4) rotate(90)" x="0" y="0" font-size="6.6" font-weight="bold" fill="#000" text-anchor="middle" dominant-baseline="central">50μV</text>
<text x="5.4" y="376.4" font-size="13" font-weight="bold" fill="#000" text-anchor="start" >d</text>
<text x="23.8" y="388.3" font-size="8.5" font-weight="bold" fill="#000" text-anchor="start" textLength="66.1" lengthAdjust="spacingAndGlyphs" >&lt; <tspan fill="#1c1ce6">FPE-PEDOT</tspan> &gt;</text>
<text x="212.8" y="386.1" font-size="8" font-weight="bold" fill="#000" text-anchor="start" textLength="82.9" lengthAdjust="spacingAndGlyphs" >Noise RMS : <tspan fill="#1c1ce6">6.6~6.8μV</tspan></text>
<text x="23.8" y="440.6" font-size="8.5" font-weight="bold" fill="#000" text-anchor="start" textLength="49.7" lengthAdjust="spacingAndGlyphs" >&lt; Pt-black &gt;</text>
<text x="212.8" y="439.4" font-size="8" font-weight="bold" fill="#000" text-anchor="start" textLength="74.0" lengthAdjust="spacingAndGlyphs" >Noise RMS : 9~10μV</text>
<text x="23.8" y="491.7" font-size="8.5" font-weight="bold" fill="#000" text-anchor="start" textLength="30.2" lengthAdjust="spacingAndGlyphs" >&lt; ITO &gt;</text>
<text x="212.8" y="493.9" font-size="8" font-weight="bold" fill="#000" text-anchor="start" textLength="77.5" lengthAdjust="spacingAndGlyphs" >Noise RMS : 27~28μV</text>
<path d="M25.5,407.4l .4-2 .4,.3 .4-2.3 .4,3 .4-1 .4-.9 .4,.5 .4-.5 .4-2.4 .4-.4 .4-.1 .4,.3 .4-1.5 .4-3.7 .4,1.2 .4,5.3 .4,4 .4-.3 .4,.3 .4,3.4 .4-1.1 .4,2 .4,.1 .4-3.4 .4-3 .4-.6 .4-2.9 .4-.6 .4,1 .4,2.2 .4,1.4 .4,.1 .4-1.5 .4-.7 .4-.9 .4-.1 .4,1 .4-4.1 .4,4 .4-.5 .4,.2 .4,2.5 .4,1.3 .4,2.2 .4-2.7 .4,.2 .4-1.6 .4-3.1 .4,0 .4,1.6 .4-.5 .4,0 .4-1.2 .4-.7 .4,.2 .4,3.3 .4-.5 .4,.7 .4-1.1 .4-4.2 .4,3.9 .4-1.9 .4,1.6 .4,4 .4-2.3 .4,1.8 .4,2.3 .4-4 .4,.1 .4,1.2 .4,.8 .4,.9 .4,.6 .4-.1 .4-3.6 .4-3.6 .4-1.1 .4,2 .4,.5 .4,3.7 .4-4.1 .4,2.4 .4,1 .4-2 .4,2.2 .4,.9 .4,1 .4-2.7 .4,.3 .4-.9 .4,.1 .4,1.8 .4-3 .4,1.5 .4,1.1 .4,1.6 .4-3.1 .4,1.7 .4-2.1 .4-.5 .4-1.8 .4-2.9 .4,.4 .4,1.1 .4-1.6 .4-.7 .4,1.7 .4,1.1 .4-.6 .4,4.6 .4-2.7 .4,2.5 .4,6.9 .4-.1 .4-.7 .4-1.8 .4-2.7 .4-1.3 .4-2.9 .4-3.8 .4,1.7 .4-.5 .4,1.9 .4-1.7 .4,3.4 .4,1 .4,.7 .4,2.6 .4-1.4 .4-.9 .4,1 .4,.4 .4-3.7 .4-.5 .4,.7 .4-2.3 .4-1.4 .4,.4 .4,1.4 .4-.5 .4,4.9 .4,1 .4,1.4 .4-1.5 .4,1 .4,1.5 .4-1.2 .4-1.8 .4,.6 .4,0 .4-2.5 .4-.3 .4-.6 .4-.5 .4,2.2 .4-.6 .4-.6 .4-2.3 .4-.2 .4,.6 .4-1.4 .4-.3 .4-2 .4,4.2 .4,4 .4,2 .4,1.3 .4-1.1 .4,.3 .4-2.3 .4,.8 .4-2.2 .4-.7 .4-.9 .4-.1 .4-2.2 .4-1.6 .4-2.6 .4,.6 .4-.7 .4,4.2 .4-3.3 .4-.9 .4-.2 .4-1.6 .4,.7 .4,3.7 .4,3.9 .4-.1 .4,6.1 .4,5.6 .4,1 .4,3 .4-1.3 .4-3.1 .4-2.7 .4,.1 .4-5.5 .4-2.7 .4-.2 .4-.3 .4-1.8 .4,3.8 .4,3.3 .4-2 .4,1.5 .4-2.1 .4-1.8 .4-1.1 .4,1.3 .4,1 .4,1.2 .4-.8 .4-1.3 .4-.2 .4-2.9 .4-.9 .4,1.2 .4-.4 .4,4.6 .4-3.4 .4,1.5 .4,1 .4,.7 .4,2.3 .4-4 .4,1.2 .4-1.9 .4-3.3 .4,.6 .4-2.9 .4,3.1 .4,1.3 .4-.5 .4,1.6 .4,1.7 .4,.6 .4,3.1 .4-.1 .4,2.4 .4-1.4 .4-2.9 .4-1.8 .4-2 .4-.6 .4-.8 .4,.6 .4-2.7 .4-.3 .4-1.3 .4,.8 .4,2.4 .4,4 .4,2.2 .4-1 .4,2.7 .4-1 .4-1.1 .4,1 .4-2.2 .4-.4 .4-.5 .4-3.9 .4-.8 .4-.8 .4,.2 .4,.1 .4,2.4 .4,2.1 .4,1.3 .4,.3 .4-.4 .4,.3 .4,2.6 .4-2 .4-2.9 .4-.7 .4,1.4 .4,.4 .4,4.4 .4,.7 .4,.1 .4-.1 .4-2.5 .4-.6 .4-.1 .4,0 .4,.5 .4,2.8 .4-2.1 .4,.5 .4-5.2 .4,0 .4-.4 .4,.1 .4-1.2 .4,6.5 .4-2.5 .4,1 .4,2.2 .4,.7 .4-.6 .4-2.2 .4-3.2 .4,1.4 .4-3.4 .4,.4 .4-.6 .4-.2 .4-.9 .4,1.6 .4,1.9 .4-.2 .4,2.7 .4,.7 .4,.8 .4,2.6 .4-1.1 .4,1 .4-1.5 .4-5.6 .4,1.4 .4-2.2 .4,1.2 .4-1.3 .4,.9 .4-.4 .4,.9 .4-.9 .4-3.2 .4,.7 .4-.6 .4-.5 .4-.5 .4,4.3 .4-1.3 .4,2.8 .4-.3 .4,4.6 .4-1.3 .4,4.4 .4-2.1 .4,.8 .4,0 .4-5.4 .4-.3 .4,.2 .4-1.7 .4-2.6 .4,1.9 .4-1 .4,2.6 .4-.2 .4-.9 .4,1.9 .4,3.3 .4-2.5 .4,.9 .4-.2 .4-1.1 .4-1.8 .4-3.3 .4,5.4 .4-1.8 .4,1.2 .4,1 .4-.8 .4-2.3 .4-.6 .4,.6 .4-2.3 .4,1 .4,6.1 .4,2.2 .4,.3 .4-.6 .4-4.8 .4-.7 .4-.7 .4,.3 .4-.8 .4-2.9 .4-.1 .4,2.7 .4-.2 .4,4.8 .4-1.9 .4-.9 .4-1.7 .4,2.2 .4-1.9 .4-1.3 .4,.9 .4-1.3 .4,.6 .4,.5 .4-2.3 .4,.7 .4,.7 .4,2.6 .4,1.1 .4,1.1 .4-.2 .4,.5 .4-2.2 .4,1.5 .4-1.5 .4-.1 .4-2.2 .4-1.1 .4-.8 .4,2.1 .4-2 .4-.4 .4-1.5 .4,3.5 .4-2.8 .4,7.4 .4-1.7 .4-.7 .4-2.8 .4-.5 .4,1.1 .4-2 .4-.2 .4-.1 .4-2.3 .4-4.7 .4-.3 .4,1.5 .4,2 .4,.6 .4,3.2 .4,5.5 .4,6.4 .4,7.7 .4,1 .4-2.5 .4-8.7 .4-2.3 .4-.8 .4-2.9 .4,.1 .4,3.2 .4,1.4 .4-.6 .4-3.2 .4-.5 .4-.7 .4,1 .4,2.7 .4-.5 .4,2.4 .4-4.2 .4,2.5 .4-.1 .4-3.3 .4,2.6 .4-1.8 .4,3.1 .4,0 .4,3.5 .4-1.3 .4-4 .4-.9 .4-1.3 .4,2.2 .4-4.8 .4-1.3 .4-1.1 .4,.9 .4,.3 .4-.4 .4,1.7 .4,3.8 .4-1 .4-2 .4-2.4 .4,.4 .4-1 .4-1.3 .4,1.5 .4-2.2 .4,.2 .4,3.5 .4,1.5 .4,3.1 .4-1.2 .4,.2 .4,1.6 .4,3 .4,4.4 .4,2.3 .4-1.2 .4-1.2 .4-1.6 .4-4 .4,1.1 .4,.2 .4,2.3 .4-1.7 .4,1.4 .4-3.7 .4,.7 .4,.6 .4-1.7 .4,2 .4-3.8 .4,2.8 .4-.3 .4-.9 .4-2.3 .4,2.1 .4-3.7 .4,4.4 .4-.5 .4,1.2 .4-1.2 .4-2.1 .4-.4 .4-1.2 .4,.2 .4-1 .4,1.3 .4,.5 .4,1.6 .4-5.2 .4,.7 .4,.2 .4-1.2 .4-1.2 .4,1 .4,.9 .4,.9 .4-.2 .4,2 .4,1.9 .4,3.4 .4,4.5 .4-1 .4,4.4 .4-1.8 .4-6.6 .4,1.3 .4-3.7 .4,1.6 .4-2.7 .4-1.1 .4,2.5 .4,2.5 .4-2.5 .4,.6 .4-3 .4-1.1 .4,.5 .4-.4 .4,2 .4,1.8 .4-2 .4,.4 .4,.3 .4,2.3 .4-3.9 .4-.6 .4,.8 .4,1.8 .4-3.7 .4,0 .4,1.3 .4,1.9 .4,2.8 .4-3.7 .4-.1 .4,2.6 .4,.9 .4-4.2 .4,.8 .4,.7 .4-2 .4,2.2 .4,.6 .4,1.6 .4-.1 .4-1.2 .4,.2 .4-3.3 .4-.1 .4,1.9 .4-.5 .4,1.8 .4,1.1 .4-.3 .4,2.5 .4-3.1 .4,.5 .4-2.2 .4-1.3 .4-1 .4,.2 .4-.9 .4,2.1 .4-1 .4,2.6 .4,1.8 .4,.7 .4,1.6 .4,2.6 .4-.4 .4-2.8 .4-1.9 .4-2.7 .4,.1 .4-1.5 .4-2.5 .4,.9 .4,.5 .4,1.6 .4,1.5 .4,5 .4,.6 .4-1.5 .4-.4 .4-3.5 .4,.5 .4-1.8 .4,.9 .4-.5 .4-1.2 .4,.1 .4-2.2 .4,1.6 .4-2.1 .4,4.7 .4-.8 .4-3.5 .4-3.4 .4,2.9 .4-4.4 .4,.3 .4-3.7 .4,2.8 .4,1.8 .4,4.7 .4,3.7 .4,7.1 .4,1.3 .4,5.4 .4,1.2 .4-.2 .4-6 .4-3.5 .4,0 .4-6.2 .4-.7 .4,.8 .4,.1 .4,2.1 .4-1.8 .4-.5 .4,1.8 .4-2.9 .4,1.7 .4,.7 .4,1.9 .4-.6 .4-2.5 .4,.9 .4-.3 .4,1.4 .4-1.4 .4-.6 .4,1.5 .4-.5 .4,1.2 .4-1.1 .4,.6 .4-1.6 .4,.6 .4-.7 .4,1.5 .4-.4 .4,1.3 .4-1 .4-.8 .4-.8 .4,.1 .4,1.5 .4-2.8 .4,5 .4-4.2 .4,2.3 .4-.5 .4,.9 .4-1.1 .4-.9 .4-.5 .4,.5 .4,1.2 .4-3.1 .4-3.6 .4,1.4 .4,.4 .4,2.8 .4-5.9 .4-.3 .4,.8 .4,.9 .4-.9 .4,4.1 .4-1.6 .4,2.9 .4,3.6 .4-1.7 .4,3 .4,5.6 .4,.5 .4,2.1 .4-2 .4-1.1 .4-5.7 .4-.9 .4-3 .4-1.6 .4,4 .4-.5 .4,.7 .4,2.3 .4-2.4 .4-1.8 .4,1.7 .4-1.5 .4-3.2 .4,.9 .4,0 .4-2.2 .4,2.2 .4,.4 .4,4 .4,.4 .4,2.7 .4-3.2 .4,.3 .4-4.3 .4,1 .4-4.1 .4,.5 .4,.2 .4,1.4 .4,1.7 .4,.2 .4,6 .4-1.8 .4-1 .4-1.6 .4-3.5 .4,.4 .4,2.5 .4-4.7 .4,1.2 .4-1.6 .4,4.5 .4-.3 .4,0 .4,2.2 .4-2.2 .4-2.3 .4-1.7 .4,1.3 .4-1.3 .4,.8 .4-2.1 .4,.6 .4,3.8 .4-1.8 .4,2 .4,4.8 .4,3.3 .4-5.1 .4-2 .4,.8 .4-1 .4,1.5 .4-2.1 .4,1.2 .4,.1 .4-1.4 .4-1.1 .4,1.4 .4-1.1 .4-2.9 .4,3.5 .4,0 .4,.2 .4,1 .4,1.2 .4,2.1 .4,1.7 .4,.6 .4-3.1 .4,1.6 .4-1.7 .4-1.2 .4,1.8 .4-3.4" stroke="#111" stroke-width="0.95" fill="none" stroke-linejoin="round"/>
<path d="M25.5,462.9l .4,0 .4,2.7 .4-1 .4,5.3 .4-.4 .4-2 .4-5.7 .4-2.9 .4,3.6 .4-5.4 .4-.3 .4-1.5 .4-5.2 .4,4.8 .4,1 .4,4.3 .4-1.3 .4,.8 .4,3.8 .4,.5 .4,1 .4,2.2 .4,0 .4-3.3 .4-2.5 .4,2.4 .4,2.7 .4,2.3 .4-.4 .4-2.8 .4-2.4 .4-.9 .4-1.2 .4-.2 .4,0 .4-1.9 .4-.2 .4,.3 .4-1.5 .4,1.1 .4,2.3 .4,3.6 .4,0 .4,0 .4,.5 .4,1.4 .4,4.3 .4-4.5 .4,6.8 .4,1.8 .4-2.2 .4-12.8 .4-6.2 .4-3.5 .4,1.8 .4,3.4 .4,.9 .4,2.7 .4,1.6 .4,3.2 .4,1.3 .4,1.4 .4,1.7 .4-1.6 .4-1.8 .4-3.3 .4,2.4 .4-3.5 .4-.6 .4,.2 .4-.2 .4,.1 .4-4.9 .4,3.2 .4-.4 .4-3.2 .4,1.1 .4,.8 .4,1.2 .4,.3 .4,.8 .4,3 .4,1.8 .4,2.2 .4-4.4 .4-2.1 .4,2 .4-1 .4,1.4 .4-.5 .4-.7 .4,.5 .4,1.1 .4-1.5 .4-2.3 .4,2.8 .4-.7 .4,3.4 .4,3.1 .4-1.5 .4-1.6 .4-.3 .4-1.9 .4-1.9 .4-2 .4-2.3 .4-1.2 .4,4.6 .4-2.8 .4,4.5 .4-.9 .4,3.8 .4,.4 .4-.3 .4-.8 .4-1.2 .4,1.1 .4-4.6 .4-1.8 .4,3 .4,1.7 .4,0 .4,1.5 .4,.7 .4,1.5 .4-.9 .4-1 .4,.7 .4,.3 .4-3.3 .4-.3 .4,.5 .4,1.1 .4-2.7 .4-1.1 .4,1.6 .4-3.6 .4,1.7 .4,3.2 .4,1.6 .4,.4 .4-2.7 .4,5.4 .4,.5 .4-1.7 .4-.3 .4,0 .4-2.7 .4-1.9 .4-1.4 .4,2.1 .4-1 .4,.8 .4-.1 .4,2.3 .4,1 .4-.8 .4-2.3 .4,2.1 .4-1.3 .4-4.9 .4,2.4 .4-4.7 .4,.4 .4,4.5 .4,1.3 .4,.2 .4,1.3 .4,2.6 .4-1.7 .4,3.8 .4-.3 .4-.1 .4-2.5 .4-2.6 .4,.1 .4-2.7 .4-3.3 .4-1.7 .4,1.2 .4,2.4 .4,1.7 .4-2.7 .4-3.2 .4,.3 .4,2.7 .4,2.2 .4-1 .4,4.1 .4,1.6 .4,.3 .4,4.6 .4,4.5 .4-2.3 .4-3 .4-3.3 .4,0 .4-2.8 .4-2 .4,1.4 .4-2.4 .4,.8 .4-3 .4,4.2 .4-1.2 .4,2 .4,4.4 .4,1 .4-4 .4,2.2 .4-.9 .4-1.5 .4-1.9 .4-3.1 .4,.2 .4,.4 .4,1 .4-1.5 .4-1.2 .4,1.8 .4-1 .4,3.8 .4-.5 .4,3.7 .4-.6 .4-.4 .4,1.1 .4-2.1 .4,1.1 .4-2.7 .4-.1 .4,.8 .4-1.6 .4-.4 .4,2.1 .4-1.3 .4,2.4 .4,0 .4,.7 .4,2.5 .4-1.3 .4-1.9 .4,4.9 .4-1 .4-3 .4,1.7 .4-2.9 .4-1.4 .4-1.4 .4,1.9 .4-2.8 .4-.8 .4-.5 .4-1 .4,.6 .4,3.2 .4,1.7 .4,2.7 .4-1.7 .4,3.2 .4-2.5 .4-1.6 .4-.5 .4-1 .4-1.2 .4,1.2 .4,.5 .4-1.2 .4,1.2 .4,2.3 .4-2.8 .4-1.5 .4,4.8 .4,3.7 .4-.1 .4-.8 .4,.8 .4,1.2 .4-2.7 .4-2.2 .4,.9 .4-2.4 .4,2.5 .4-2.4 .4,1 .4-1.1 .4,1.4 .4-1.9 .4,.3 .4,.8 .4,2.6 .4,2.2 .4-2.5 .4-.7 .4-3 .4-2.9 .4,.8 .4,2.6 .4-3.5 .4,5.5 .4,2.6 .4-1.5 .4,2.2 .4,1.3 .4-.7 .4-1.8 .4,0 .4-1.7 .4-2.4 .4-.4 .4-2.9 .4-.1 .4,.3 .4,1 .4,.4 .4,3.7 .4-.6 .4,.3 .4-2.7 .4,.7 .4-.6 .4-.2 .4,1.5 .4,.3 .4-3.2 .4,.6 .4-.3 .4-.1 .4,1.8 .4-2.2 .4-1.4 .4,1.5 .4-1.5 .4,.2 .4-.4 .4,.4 .4-.2 .4,1.8 .4,.1 .4,1.4 .4,2.1 .4,1.2 .4,1.7 .4,1.2 .4,2.8 .4-4.4 .4-.5 .4-1.9 .4,.3 .4-3.4 .4-1.4 .4,2.3 .4-.9 .4,.3 .4-.2 .4,3.6 .4-.5 .4-1.7 .4-.2 .4-.6 .4,2.2 .4-2.2 .4-1.3 .4,.4 .4,1.8 .4-1.2 .4-2.3 .4-1.1 .4,.6 .4,2.7 .4,.7 .4,1.4 .4,2.2 .4,.3 .4,.3 .4,.6 .4,1.1 .4-1.3 .4-.4 .4-1.8 .4-2.6 .4,1.6 .4-3.7 .4,1.9 .4-3.1 .4,2.2 .4,2.7 .4,1.2 .4-1 .4,1.5 .4-1.1 .4,1.6 .4,.9 .4-2.6 .4,1.1 .4-2.6 .4-1 .4-1.8 .4,.4 .4,.3 .4,.7 .4,1 .4-.2 .4,.6 .4,.7 .4,4.1 .4-1.2 .4,.4 .4-2.1 .4,1.7 .4-2.9 .4-1.3 .4-2 .4-2.5 .4,1.1 .4-1.6 .4,.5 .4-1.2 .4,.2 .4,2.6 .4,4 .4,2.7 .4-2 .4,1.6 .4-.3 .4,.7 .4-2.3 .4-5.4 .4-2.9 .4,.3 .4-2.9 .4-1.4 .4,6.9 .4,2.1 .4,4.6 .4,7.8 .4,7 .4-4.1 .4-8 .4-2.5 .4-.1 .4,2.8 .4,2.3 .4-.3 .4-.8 .4-5.3 .4-2.8 .4,1.7 .4,.3 .4,.5 .4,.1 .4,.5 .4,1.8 .4-2.6 .4,3.5 .4-1.5 .4,.8 .4-.8 .4,2.5 .4-5.4 .4-.1 .4-.2 .4,.7 .4-1.7 .4,3 .4,1.3 .4-3.4 .4-3.1 .4,3.1 .4-2 .4,1.3 .4,2.7 .4,.8 .4-.6 .4-1.1 .4-3.3 .4-.4 .4,1.6 .4,3.7 .4,1.6 .4,4 .4-2.1 .4-3.1 .4-4 .4-.7 .4,5.2 .4-.7 .4,2 .4-2.1 .4-.8 .4-1.4 .4,3.4 .4-2.7 .4,3.1 .4,.5 .4,1.1 .4-3 .4-2.7 .4-1.5 .4,1.5 .4,.2 .4,4.8 .4-.4 .4-2.6 .4,1.6 .4-1.7 .4,.6 .4-.5 .4-1.4 .4,2 .4,1.3 .4-1.2 .4-.2 .4-1.9 .4,.6 .4,1.7 .4,1.7 .4-.9 .4,.9 .4,2.1 .4-4.8 .4-.1 .4-1.9 .4,.4 .4,.2 .4-.8 .4-1.3 .4,.9 .4-1.8 .4,.6 .4-2.2 .4,3.5 .4-1.1 .4,3.3 .4-2 .4,1.6 .4-.5 .4-.4 .4-.9 .4,3.7 .4,.5 .4,.1 .4,6.3 .4,10.2 .4-5 .4-6.1 .4-9 .4-5.6 .4-.3 .4-1.5 .4-1.6 .4,6.7 .4,.4 .4,3.8 .4,2.6 .4,1 .4-.9 .4-1.3 .4,4 .4-2.6 .4-1.6 .4-3.6 .4-.6 .4,.9 .4,0 .4,.8 .4-1 .4-1.1 .4,2.2 .4-1 .4,1.1 .4,.6 .4-1.2 .4,.3 .4,2.7 .4-.8 .4-3.1 .4,2.7 .4-2.8 .4-.6 .4-1 .4,1.6 .4,1.5 .4-.5 .4,.8 .4-1.2 .4-3 .4,1.6 .4,1.2 .4,.9 .4,1.4 .4-.1 .4-.6 .4,.5 .4-.1 .4,.6 .4-3 .4,0 .4-3.6 .4,4 .4,1.2 .4-.1 .4,1.6 .4-.2 .4,1 .4,.2 .4,1.4 .4-1.5 .4,2 .4-2.2 .4-2.8 .4-1.8 .4,.6 .4-2.6 .4,.1 .4,3.7 .4,3.1 .4,.8 .4-.7 .4-3.3 .4,.3 .4-2.2 .4,2.3 .4-1.5 .4-1.7 .4,4.4 .4-.3 .4-1.5 .4,2.5 .4-1.7 .4,1.4 .4-.8 .4-2.2 .4,.3 .4-.1 .4-2.6 .4-4.3 .4,.4 .4-1.3 .4-2.4 .4,2.4 .4,.8 .4,.9 .4,8.8 .4,1.8 .4,6.4 .4-.7 .4,1.5 .4-3.9 .4-.2 .4-2.2 .4-.1 .4-1.5 .4-2.4 .4,.9 .4-.3 .4,.5 .4-1.1 .4,1.3 .4-3.6 .4,3.2 .4-1.3 .4-.3 .4,1.2 .4-4 .4,1.2 .4,2.5 .4-.5 .4,1.8 .4-.8 .4-1.6 .4,1.6 .4-.7 .4,.2 .4,.2 .4,2.1 .4-3.5 .4,.4 .4,2.2 .4-3.3 .4,.8 .4,.9 .4-1.1 .4,0 .4-.9 .4-2 .4,4.6 .4,1.5 .4,.9 .4-.2 .4,0 .4-.2 .4-2.1 .4-1.1 .4-2 .4,.7 .4-3.3 .4-.3 .4,1.1 .4-3.1 .4,2.8 .4,3.3 .4-.3 .4,3.5 .4-1.4 .4,1.9 .4,4.2 .4-4.6 .4-.7 .4-2.4 .4,0 .4-2 .4,2.7 .4,2.2 .4,1.8 .4-.2 .4,2 .4-.6 .4,4.4 .4-3.6 .4-1.6 .4-.7 .4-3.9 .4-1.2 .4,.1 .4,0 .4-4.3 .4,1 .4,4.5 .4,.6 .4,1.9 .4,3.4 .4-2 .4,.9 .4,2.5 .4-4.3 .4-.8 .4-2.4 .4-1.6 .4,1.6 .4,.2 .4,2.9 .4,1.8 .4-2.6 .4,0 .4-3.5 .4-2.9 .4,.6 .4,3.2 .4,.9 .4,3.8 .4,.4 .4-2.6 .4-1.1 .4-.5 .4,.3 .4-3 .4,.5 .4-2.7 .4-.9 .4,7.1 .4,1 .4,.6 .4,.3 .4-.7 .4,1 .4-3.3 .4,0 .4-1.5 .4-1.2 .4,.6 .4,.7 .4-.1 .4,4.9 .4-5.4 .4,4.6 .4-4.9 .4-1.1 .4,.1 .4,1.4 .4,2.6 .4-1.5 .4,6.4 .4-3.9 .4,.9 .4,.5 .4-2.4 .4-1.4 .4-.2 .4-2.4 .4-2.9 .4,3.1 .4,1 .4,.4 .4,.7 .4,2.4 .4,1.4 .4,1.9 .4,.6 .4-3.3 .4,1.9 .4-1.5" stroke="#111" stroke-width="0.95" fill="none" stroke-linejoin="round"/>
<path d="M27.4,523.8l .4-.6 .4-3.8 .4-2 .4,1.2 .4-.2 .4,2 .4,.2 .4,.2 .4-5.7 .4-1.8 .4-2.9 .4,.4 .4-3.3 .4,.5 .4,1.1 .4,1.7 .4,4.8 .4-.1 .4,.5 .4-1.5 .4,2.8 .4-.5 .4-3 .4,1.1 .4,.3 .4-1.4 .4,3.1 .4,3.5 .4-3 .4,4.1 .4,3.2 .4-1.4 .4,2.7 .4,3.4 .4,2.9 .4,2.4 .4-.2 .4,.4 .4-.3 .4-2.2 .4,.5 .4-3.7 .4-1.6 .4,2.8 .4-1.7 .4-.3 .4,2.3 .4,.7 .4,.5 .4-3 .4-3.7 .4-2.7 .4-1.9 .4,3.8 .4,2.1 .4-1.8 .4-2.8 .4-4 .4-5 .4-3.7 .4-3.7 .4,5.3 .4,8.9 .4,9 .4,8 .4-1.2 .4-2.1 .4-.5 .4,.1 .4-6 .4-1.7 .4-1.4 .4-.5 .4-3.9 .4,1.4 .4-.9 .4,2.6 .4-.4 .4,.6 .4,2.5 .4-2.4 .4-.2 .4,1.3 .4-.7 .4-1.6 .4-4.2 .4,3.3 .4,0 .4-.4 .4-1.7 .4,4.4 .4,1.9 .4-1.3 .4,1.7 .4-2.2 .4,1.7 .4-.7 .4-.3 .4,1.5 .4-.4 .4,.7 .4,.3 .4,1.4 .4,1.5 .4,1.9 .4-.6 .4,3.5 .4-1.7 .4,3.9 .4,1.4 .4-2.1 .4,4.1 .4,3.3 .4,.4 .4-2 .4-7 .4-5.7 .4-7.1 .4-5.9 .4-3.9 .4-.5 .4-2.3 .4-3.3 .4-1.9 .4-.9 .4,2.7 .4,2.7 .4,6.9 .4,1.1 .4,6.3 .4-.5 .4-2 .4-3.9 .4-4 .4-5.2 .4,.8 .4,1.8 .4,3.9 .4-.7 .4,3.2 .4,2.2 .4,.2 .4,4.2 .4,1.5 .4,6.3 .4,5.3 .4,1.4 .4,3.9 .4-2.3 .4-3.6 .4-4.1 .4-2 .4-4.3 .4-2.6 .4,3.5 .4-4.4 .4-.7 .4,.8 .4-.2 .4,.3 .4-.4 .4,2.1 .4,2.6 .4,4.9 .4,2.9 .4-.1 .4-.5 .4-1.3 .4-3.3 .4-1.3 .4,0 .4-5 .4,1.2 .4,1.2 .4-3.2 .4,3 .4-1.5 .4-.7 .4,1.8 .4-1.4 .4-.8 .4-.8 .4-.7 .4,.1 .4,.1 .4,1.1 .4-2.4 .4-.5 .4-2.1 .4,0 .4-1.9 .4,.7 .4-.8 .4-.2 .4,4.6 .4,2.1 .4,4.4 .4-.2 .4,.8 .4-.5 .4-2.3 .4,.1 .4,.2 .4-1.9 .4,5.9 .4-4.3 .4-2.8 .4-.4 .4,1.9 .4-1 .4-1.9 .4-.5 .4,2.2 .4-1 .4,1.4 .4-.5 .4,2 .4-3.8 .4,3.6 .4-1.7 .4,.1 .4,2.9 .4-3.7 .4,1.7 .4-2.4 .4,.1 .4-5.7 .4,.5 .4-1.8 .4-2.7 .4-1.8 .4,.5 .4,1.9 .4,5.1 .4,1.9 .4,7.2 .4,1.6 .4-1.7 .4,5.2 .4-.3 .4-.3 .4,2.7 .4,3 .4,.3 .4-.2 .4,3.6 .4,0 .4,.8 .4-3.7 .4-1.5 .4-3.5 .4-6.7 .4-2.9 .4-3.9 .4-1.3 .4-1.4 .4,4.5 .4-2.1 .4,1.1 .4-1.4 .4,3.6 .4-2 .4-2.9 .4,4.4 .4-.4 .4-.4 .4,2.5 .4-.1 .4,3.4 .4,.9 .4-1.7 .4,3.9 .4,1.7 .4-4 .4,6.3 .4,.1 .4,1.2 .4,1.9 .4-1.1 .4-3.6 .4-1.9 .4-4.3 .4-2.7 .4-7.5 .4-.9 .4,2.9 .4-2.2 .4,1.9 .4,0 .4-.1 .4,2.7 .4,.8 .4-.6 .4,1.1 .4,2.3 .4-.7 .4,1.2 .4,4.2 .4,1.3 .4-.5 .4,3.8 .4,.3 .4,.7 .4,.1 .4,.7 .4-2.8 .4-.4 .4-1.8 .4,1.5 .4-2.6 .4-1.2 .4-.1 .4,1.5 .4-2.4 .4-3.3 .4,2.4 .4,.4 .4-.7 .4-.3 .4,4.1 .4-1.1 .4,.5 .4-.7 .4,.1 .4-1 .4-1 .4-1 .4-1.7 .4-.2 .4,.4 .4-1.7 .4,1.2 .4-1.7 .4,2.3 .4-3 .4,2.4 .4,1.3 .4-.6 .4-1.9 .4,2.5 .4-1.7 .4-.5 .4-1.7 .4-3.6 .4,2.1 .4-1.4 .4-.7 .4-4 .4,.7 .4-3.8 .4-2.5 .4-1.6 .4-.1 .4-1.1 .4,6.9 .4,3.1 .4,4.7 .4,2.3 .4,2.9 .4,3.5 .4,5 .4,5.2 .4,3.1 .4-1 .4,5.8 .4,3.7 .4-6.2 .4-2.3 .4-4.8 .4-2.6 .4-3.7 .4-4.5 .4-1.5 .4-2 .4-.1 .4-5.8 .4,3.9 .4-.4 .4-4.2 .4,.8 .4,.3 .4-2.5 .4-.8 .4,1.7 .4,3.7 .4-.5 .4,4.7 .4,2.9 .4-.2 .4,4.6 .4,4.3 .4-2.5 .4-.8 .4,1.7 .4-3.3 .4,0 .4,1.6 .4,.1 .4-4.5 .4,.7 .4,.6 .4,1 .4-1.3 .4-1.7 .4,1.8 .4-4.4 .4,3.1 .4,.5 .4-.6 .4-2 .4-3.7 .4,2.3 .4-3.2 .4-1 .4,1.2 .4-4.5 .4,8.6 .4,.8 .4,2.7 .4,1.2 .4,3.9 .4,2.5 .4,2.2 .4,.2 .4,5.4 .4-2.9 .4-1.7 .4-3.5 .4-2.8 .4-2.9 .4-5 .4-3.2 .4-.2 .4-3.5 .4,1.8 .4-1.1 .4,2.1 .4,2.9 .4,.2 .4,0 .4,3.5 .4,1.5 .4,.1 .4,2.4 .4,3 .4,1.4 .4,1.8 .4,1.5 .4-1.2 .4,5.2 .4-3.2 .4-3.5 .4-5.2 .4-.9 .4-2.3 .4-3.2 .4-2.7 .4-5.8 .4,1 .4,.2 .4,1.3 .4,2.2 .4-.3 .4,2.8 .4-2.4 .4,2.8 .4-1.5 .4,2 .4-2.9 .4-.3 .4-.5 .4,1.3 .4-2 .4,2 .4-.3 .4-.7 .4,.3 .4-.9 .4,3.7 .4-1.3 .4-2.5 .4,3.2 .4-2.7 .4,2.1 .4,.7 .4-1.2 .4-.1 .4-1.4 .4-2.3 .4-3.2 .4-2.4 .4-5.1 .4-.7 .4-4 .4,1 .4,0 .4,1.9 .4,1.4 .4,2.2 .4,1.8 .4,1.9 .4,3.2 .4,0 .4,5.7 .4-.5 .4,1.6 .4,3.6 .4,1.2 .4,1 .4-1.1 .4-4.1 .4,1 .4-5.4 .4-1.1 .4,.3 .4-2 .4-3.1 .4-4.6 .4-.6 .4-2.4 .4-2.2 .4,1.9 .4,3.5 .4,3.3 .4,1.7 .4,1.1 .4,3.8 .4,2.8 .4,3.4 .4,.4 .4,2.7 .4,2.2 .4,1.8 .4,4.4 .4,.7 .4,4 .4,1.9 .4,.8 .4,2.3 .4,0 .4-2 .4-2.9 .4-1.3 .4-5 .4-.6 .4-3.4 .4,.9 .4-.9 .4,1.5 .4,2.6 .4,1.4 .4-.7 .4,5.4 .4-.9 .4-2.3 .4-1 .4-3.7 .4-3.7 .4,.8 .4-2.7 .4-.8 .4-1.7 .4-4.3 .4-.8 .4,1.9 .4,1.8 .4-1 .4,1.3 .4,1.4 .4,1 .4,4.3 .4-.2 .4-2.2 .4,1.5 .4,1.5 .4-1.3 .4-.1 .4-.9 .4-2.6 .4-1.1 .4-.9 .4,.6 .4,1 .4-.1 .4,5.5 .4-3.2 .4,3.7 .4,3.7 .4,3.1 .4-2.1 .4,3.6 .4,2.5 .4-3.9 .4,1.7 .4-3 .4-3 .4-.2 .4-3.4 .4-3.3 .4,.8 .4-4.9 .4,.9 .4-5.7 .4,4.1 .4-2.2 .4,.3 .4-.6 .4,.6 .4-3.1 .4,.4 .4-.7 .4,1.6 .4,.1 .4,1.2 .4,1 .4-2.1 .4,2.8 .4,1.3 .4,.9 .4,4 .4-1.5 .4,1.5 .4-1.7 .4,2.6 .4,2.2 .4-2.4 .4,.6 .4-.4 .4,1.1 .4,4.3 .4-6.1 .4,.3 .4-.4 .4-2.5 .4-1.5 .4-2.2 .4-.1 .4-4.5 .4,.5 .4-.5 .4-3.4 .4,.6 .4-.1 .4,1.4 .4-3.9 .4,3.1 .4-1.6 .4,4.4 .4-1.8 .4,3.1 .4,3.7 .4-1.6 .4,1.7 .4-2.5 .4,2.6 .4-.3 .4-1.8 .4,.1 .4-2.5 .4,.4 .4-1.6 .4-1 .4,2.6 .4-1.7 .4,4.7 .4,5.3 .4,2 .4,.7 .4,3.7 .4,2.5 .4,4.1 .4,5.5 .4,3 .4-5.3 .4-5.4 .4-.8 .4-8.8 .4-.2 .4-6.6 .4,1.1 .4-2.9 .4-3.6 .4-3.6 .4-.3 .4-2.8 .4-.8 .4,4.9 .4-1.7 .4,1.5 .4,4.6 .4,4.2 .4-3.3 .4,2.5 .4,1.5 .4,2.8 .4,2 .4-.8 .4,2 .4,.3 .4,2.9 .4,.6 .4,2.3 .4,.4 .4,1.8 .4-3.2 .4,.1 .4-1.1 .4-.5 .4-3.2 .4-.6 .4,.8 .4-2.1 .4-2.7 .4-.3 .4-1.6 .4-.5 .4-1.9 .4-2.1 .4,.3 .4-3.5 .4,1.8 .4-.8 .4-1.3 .4-4.4 .4,.5 .4,.2 .4-2.1 .4-1.1 .4-1.4 .4-.3 .4-2.6 .4-3.2 .4,5 .4,5 .4,.4 .4,2.3 .4,4.2 .4-1.4 .4,5.3 .4,7.6 .4,7.9 .4,8.7 .4,5.7 .4,5.1 .4,2.6 .4-7.6 .4-6 .4-6.6 .4-7 .4-5 .4-4.7 .4,1.7 .4,4.9 .4,6.2 .4,.9 .4,1.6 .4,5.4 .4,1.2 .4-5.3 .4,1.7 .4-4.6 .4-5.5 .4,1.5 .4,.6 .4-4.1 .4-4.3 .4,1.6 .4,1 .4-4.3 .4,2.1 .4,0 .4,.8 .4-2.3 .4-1 .4,1.9 .4-.5 .4-.2 .4-.4 .4,2.2 .4-1.7 .4,4.1 .4-3.3 .4,2.6 .4-.1 .4-.3 .4,.6 .4,3.1 .4,0 .4,0 .4,2.8 .4,1.8 .4-1.6 .4,5.4 .4-2.9 .4,4.4 .4,.9 .4-.9" stroke="#111" stroke-width="1.0" fill="none" stroke-linejoin="round"/>
<path d="M357.3,416.4 L357.3,425.4 L338.9,425.4" fill="none" stroke="#000" stroke-width="1.5"/>
<path d="M357.3,466.1 L357.3,475.1 L338.9,475.1" fill="none" stroke="#000" stroke-width="1.5"/>
<path d="M357.3,538.5 L357.3,547.5 L338.9,547.5" fill="none" stroke="#000" stroke-width="1.5"/>
<text x="346.4" y="432.5" font-size="5.5" font-weight="bold" fill="#000" text-anchor="middle" >2.5s</text>
<text x="347.7" y="484.4" font-size="6.5" font-weight="bold" fill="#000" text-anchor="middle" >2.5s</text>
<text x="347.7" y="555.0" font-size="6.5" font-weight="bold" fill="#000" text-anchor="middle" >2.5s</text>
<text transform="translate(367.3,418.5) rotate(90)" x="0" y="0" font-size="6.8" font-weight="bold" fill="#000" text-anchor="middle" dominant-baseline="central">200μV</text>
<text transform="translate(367.3,467.6) rotate(90)" x="0" y="0" font-size="6.8" font-weight="bold" fill="#000" text-anchor="middle" dominant-baseline="central">200μV</text>
<text transform="translate(367.3,541.2) rotate(90)" x="0" y="0" font-size="6.8" font-weight="bold" fill="#000" text-anchor="middle" dominant-baseline="central">200μV</text>
<text x="374.0" y="216.2" font-size="13" font-weight="bold" fill="#000" text-anchor="start" >e</text>
<rect x="418" y="212.7" width="147.3" height="87.9" fill="#edf2fb"/>
<rect x="428.75" y="229.45" width="2.8" height="71.16" fill="#0a94fc"/>
<rect x="432.14" y="215.21" width="2.8" height="85.39" fill="#0a94fc"/>
<rect x="435.52" y="258.28" width="2.8" height="42.32" fill="#0a94fc"/>
<rect x="438.91" y="270.64" width="2.8" height="29.96" fill="#0a94fc"/>
<rect x="442.30" y="284.12" width="2.8" height="16.48" fill="#0a94fc"/>
<rect x="445.69" y="281.13" width="2.8" height="19.47" fill="#0a94fc"/>
<rect x="449.07" y="291.99" width="2.8" height="8.61" fill="#0a94fc"/>
<rect x="452.46" y="291.99" width="2.8" height="8.61" fill="#0a94fc"/>
<rect x="455.85" y="297.60" width="2.8" height="3.00" fill="#0a94fc"/>
<rect x="459.24" y="293.11" width="2.8" height="7.49" fill="#0a94fc"/>
<rect x="462.62" y="298.73" width="2.8" height="1.87" fill="#0a94fc"/>
<rect x="466.01" y="298.73" width="2.8" height="1.87" fill="#0a94fc"/>
<rect x="469.40" y="297.98" width="2.8" height="2.62" fill="#0a94fc"/>
<rect x="472.79" y="296.86" width="2.8" height="3.75" fill="#0a94fc"/>
<rect x="476.18" y="297.60" width="2.8" height="3.00" fill="#0a94fc"/>
<rect x="479.56" y="296.86" width="2.8" height="3.75" fill="#0a94fc"/>
<rect x="482.95" y="297.60" width="2.8" height="3.00" fill="#0a94fc"/>
<rect x="486.34" y="296.86" width="2.8" height="3.75" fill="#0a94fc"/>
<rect x="489.73" y="299.85" width="2.8" height="0.75" fill="#0a94fc"/>
<rect x="496.50" y="299.85" width="2.8" height="0.75" fill="#0a94fc"/>
<rect x="516.83" y="300.23" width="2.8" height="0.37" fill="#0a94fc"/>
<rect x="530.38" y="299.85" width="2.8" height="0.75" fill="#0a94fc"/>
<rect x="537.15" y="300.23" width="2.8" height="0.37" fill="#0a94fc"/>
<path d="M417.1,211.9 L417.1,300.6 M413.2,300.6 L565.8,300.6" stroke="#000" stroke-width="1.5" fill="none"/>
<text x="406.0" y="303.2" font-size="7.5" font-weight="bold" fill="#000" text-anchor="middle" >0</text>
<text x="410.5" y="265.8" font-size="7.5" font-weight="bold" fill="#000" text-anchor="end" >0.1</text>
<text x="410.5" y="228.3" font-size="7.5" font-weight="bold" fill="#000" text-anchor="end" >0.2</text>
<path d="M413.6,263.2 L417.1,263.2 M413.6,225.7 L417.1,225.7 M415,281.9 L417.1,281.9 M415,244.4 L417.1,244.4 M429.8,300.6 L429.8,304.2 M497.5,300.6 L497.5,304.2 M565.2,300.6 L565.2,304.2 " stroke="#000" stroke-width="1.2" fill="none"/>
<text x="429.8" y="314.4" font-size="7.5" font-weight="bold" fill="#000" text-anchor="middle" >0</text>
<text x="497.5" y="314.4" font-size="7.5" font-weight="bold" fill="#000" text-anchor="middle" >100</text>
<text x="565.2" y="314.4" font-size="7.5" font-weight="bold" fill="#000" text-anchor="middle" >200</text>
<text x="495.7" y="324.6" font-size="7.7" font-weight="bold" fill="#000" text-anchor="middle" textLength="34.0" lengthAdjust="spacingAndGlyphs" >Time(ms)</text>
<text transform="translate(389.0,259.5) rotate(-90)" x="0" y="0" font-size="7.7" font-weight="bold" fill="#000" text-anchor="middle" dominant-baseline="central" textLength="39.7" lengthAdjust="spacingAndGlyphs">Probability</text>
<text x="507.0" y="224.3" font-size="8.7" font-weight="bold" fill="#1c1ce6" text-anchor="start" textLength="50.3" lengthAdjust="spacingAndGlyphs" >FPE-PEDOT</text>
<rect x="418" y="329.5" width="147.3" height="87.8" fill="#faf3f3"/>
<rect x="428.75" y="361.19" width="2.8" height="56.11" fill="#ffb6c2"/>
<rect x="432.14" y="381.23" width="2.8" height="36.07" fill="#ffb6c2"/>
<rect x="435.52" y="399.76" width="2.8" height="17.54" fill="#ffb6c2"/>
<rect x="438.91" y="331.13" width="2.8" height="86.17" fill="#ffb6c2"/>
<rect x="442.30" y="413.79" width="2.8" height="3.51" fill="#ffb6c2"/>
<rect x="445.69" y="414.29" width="2.8" height="3.01" fill="#ffb6c2"/>
<rect x="449.07" y="367.20" width="2.8" height="50.10" fill="#ffb6c2"/>
<rect x="452.46" y="413.79" width="2.8" height="3.51" fill="#ffb6c2"/>
<rect x="455.85" y="414.80" width="2.8" height="2.50" fill="#ffb6c2"/>
<rect x="459.24" y="400.27" width="2.8" height="17.03" fill="#ffb6c2"/>
<rect x="462.62" y="395.26" width="2.8" height="22.04" fill="#ffb6c2"/>
<rect x="466.01" y="415.80" width="2.8" height="1.50" fill="#ffb6c2"/>
<rect x="469.40" y="416.30" width="2.8" height="1.00" fill="#ffb6c2"/>
<rect x="472.79" y="387.74" width="2.8" height="29.56" fill="#ffb6c2"/>
<rect x="482.95" y="393.75" width="2.8" height="23.55" fill="#ffb6c2"/>
<rect x="493.11" y="408.28" width="2.8" height="9.02" fill="#ffb6c2"/>
<rect x="496.50" y="406.78" width="2.8" height="10.52" fill="#ffb6c2"/>
<rect x="506.66" y="402.27" width="2.8" height="15.03" fill="#ffb6c2"/>
<rect x="516.83" y="404.27" width="2.8" height="13.03" fill="#ffb6c2"/>
<rect x="523.60" y="412.29" width="2.8" height="5.01" fill="#ffb6c2"/>
<rect x="526.99" y="411.29" width="2.8" height="6.01" fill="#ffb6c2"/>
<rect x="530.38" y="411.79" width="2.8" height="5.51" fill="#ffb6c2"/>
<rect x="540.54" y="409.28" width="2.8" height="8.02" fill="#ffb6c2"/>
<rect x="550.70" y="410.79" width="2.8" height="6.51" fill="#ffb6c2"/>
<rect x="560.86" y="414.80" width="2.8" height="2.50" fill="#ffb6c2"/>
<path d="M417.1,328.7 L417.1,417.3 M413.2,417.3 L565.8,417.3" stroke="#000" stroke-width="1.5" fill="none"/>
<text x="406.0" y="419.9" font-size="7.5" font-weight="bold" fill="#000" text-anchor="middle" >0</text>
<text x="410.5" y="369.8" font-size="7.5" font-weight="bold" fill="#000" text-anchor="end" >0.1</text>
<path d="M413.6,367.2 L417.1,367.2 M415,392.2 L417.1,392.2 M415,342.2 L417.1,342.2 M429.8,417.3 L429.8,420.9 M497.5,417.3 L497.5,420.9 M565.2,417.3 L565.2,420.9 " stroke="#000" stroke-width="1.2" fill="none"/>
<text x="429.8" y="431.1" font-size="7.5" font-weight="bold" fill="#000" text-anchor="middle" >0</text>
<text x="497.5" y="431.1" font-size="7.5" font-weight="bold" fill="#000" text-anchor="middle" >100</text>
<text x="565.2" y="431.1" font-size="7.5" font-weight="bold" fill="#000" text-anchor="middle" >200</text>
<text x="495.7" y="442.9" font-size="7.7" font-weight="bold" fill="#000" text-anchor="middle" textLength="34.0" lengthAdjust="spacingAndGlyphs" >Time(ms)</text>
<text transform="translate(389.0,367.8) rotate(-90)" x="0" y="0" font-size="7.7" font-weight="bold" fill="#000" text-anchor="middle" dominant-baseline="central" textLength="39.7" lengthAdjust="spacingAndGlyphs">Probability</text>
<text x="511.4" y="341.9" font-size="8.7" font-weight="bold" fill="#000" text-anchor="start" textLength="39.9" lengthAdjust="spacingAndGlyphs" >Graphene</text>
<rect x="418" y="448.2" width="147.3" height="87.8" fill="#f3fbea"/>
<rect x="428.75" y="526.97" width="2.8" height="9.04" fill="#96ec42"/>
<rect x="432.14" y="520.71" width="2.8" height="15.29" fill="#96ec42"/>
<rect x="435.52" y="524.18" width="2.8" height="11.82" fill="#96ec42"/>
<rect x="438.91" y="458.16" width="2.8" height="77.84" fill="#96ec42"/>
<rect x="442.30" y="528.36" width="2.8" height="7.64" fill="#96ec42"/>
<rect x="445.69" y="526.27" width="2.8" height="9.73" fill="#96ec42"/>
<rect x="449.07" y="482.49" width="2.8" height="53.52" fill="#96ec42"/>
<rect x="452.46" y="531.13" width="2.8" height="4.87" fill="#96ec42"/>
<rect x="455.85" y="529.75" width="2.8" height="6.25" fill="#96ec42"/>
<rect x="459.24" y="522.79" width="2.8" height="13.21" fill="#96ec42"/>
<rect x="462.62" y="498.47" width="2.8" height="37.53" fill="#96ec42"/>
<rect x="466.01" y="531.13" width="2.8" height="4.87" fill="#96ec42"/>
<rect x="469.40" y="531.13" width="2.8" height="4.87" fill="#96ec42"/>
<rect x="472.79" y="498.47" width="2.8" height="37.53" fill="#96ec42"/>
<rect x="476.18" y="534.61" width="2.8" height="1.39" fill="#96ec42"/>
<rect x="479.56" y="533.91" width="2.8" height="2.08" fill="#96ec42"/>
<rect x="482.95" y="504.73" width="2.8" height="31.27" fill="#96ec42"/>
<rect x="489.73" y="532.52" width="2.8" height="3.48" fill="#96ec42"/>
<rect x="493.11" y="528.36" width="2.8" height="7.64" fill="#96ec42"/>
<rect x="496.50" y="506.81" width="2.8" height="29.19" fill="#96ec42"/>
<rect x="499.89" y="533.91" width="2.8" height="2.08" fill="#96ec42"/>
<rect x="503.27" y="533.91" width="2.8" height="2.08" fill="#96ec42"/>
<rect x="506.66" y="518.62" width="2.8" height="17.38" fill="#96ec42"/>
<rect x="516.83" y="518.62" width="2.8" height="17.38" fill="#96ec42"/>
<rect x="520.21" y="534.61" width="2.8" height="1.39" fill="#96ec42"/>
<rect x="523.60" y="530.44" width="2.8" height="5.56" fill="#96ec42"/>
<rect x="526.99" y="531.13" width="2.8" height="4.87" fill="#96ec42"/>
<rect x="530.38" y="522.79" width="2.8" height="13.21" fill="#96ec42"/>
<rect x="540.54" y="522.79" width="2.8" height="13.21" fill="#96ec42"/>
<rect x="550.70" y="519.32" width="2.8" height="16.68" fill="#96ec42"/>
<rect x="557.48" y="534.61" width="2.8" height="1.39" fill="#96ec42"/>
<path d="M417.1,447.4 L417.1,536.0 M413.2,536.0 L565.8,536.0" stroke="#000" stroke-width="1.5" fill="none"/>
<text x="406.0" y="538.6" font-size="7.5" font-weight="bold" fill="#000" text-anchor="middle" >0</text>
<text x="410.5" y="469.1" font-size="7.5" font-weight="bold" fill="#000" text-anchor="end" >0.1</text>
<path d="M413.6,466.5 L417.1,466.5 M415,501.2 L417.1,501.2 M429.8,536.0 L429.8,539.6 M497.5,536.0 L497.5,539.6 M565.2,536.0 L565.2,539.6 " stroke="#000" stroke-width="1.2" fill="none"/>
<text x="429.8" y="549.8" font-size="7.5" font-weight="bold" fill="#000" text-anchor="middle" >0</text>
<text x="497.5" y="549.8" font-size="7.5" font-weight="bold" fill="#000" text-anchor="middle" >100</text>
<text x="565.2" y="549.8" font-size="7.5" font-weight="bold" fill="#000" text-anchor="middle" >200</text>
<text x="495.7" y="561.2" font-size="7.7" font-weight="bold" fill="#000" text-anchor="middle" textLength="34.0" lengthAdjust="spacingAndGlyphs" >Time(ms)</text>
<text transform="translate(389.0,487.2) rotate(-90)" x="0" y="0" font-size="7.7" font-weight="bold" fill="#000" text-anchor="middle" dominant-baseline="central" textLength="39.7" lengthAdjust="spacingAndGlyphs">Probability</text>
<text x="514.0" y="461.6" font-size="8.7" font-weight="bold" fill="#000" text-anchor="start" textLength="34.4" lengthAdjust="spacingAndGlyphs" >Pt-black</text>
<path d="M575,243.7l 1.1,.1 1.1,0 1.1,.1 1.1,0 1.1,.1 1.1,0 1.1,.1 1.1,0 1.1,.1 1.1-.1 1.1-.1 1.1-.1 1.1-.1 1.1,0 1.1,.1 1.1,.2 1.1,.1 1.1,.2 1.1,.7 1.1,1 1.1,1.1 1.1,1 1.1,1.1 1.1,1.5 1.1,1.4 1.1,1.5 1.1,2.2 1.1,2.4 1.1,2.6 1.1,2.5 1.1,2.3 1.1,.6 1.1-.2 1.1-1 1.1-5.5 1.1-8.6 1.1-8.6 1.1-4.1 1.1,.2 1.1,.3 1.1,.2 1.1-.6 1.1-.9 1.1-.9 1.1-.9 1.1-.9 1.1-.8 1.1-.8 1.1-.8 1.1-.8 1.1-.9 1.1-.8 1.1-.9 1.1-.4 1.1-.1 1.1-.1 1.1,.1 1.1,.3 1.1,.3 1.1,.3 1.1,.4 1.1,.4 1.1,.4 1.1,.5 1.1,.9 1.1,.9 1.1,.9 1.1,.9 1.1,.9 1.1,.9 1.1,.8 1.1,.8 1.1,.3 1.1,.4 1.1,.3 1.1,.4 1.1,.3 1.1,.4 1.1,.2 1.1,.2 1.1,.2 1.1-.2 1.1-.1 1.1-.2 1.1-.2 1.1-.3 1.1-.2 1.1-.3 1.1-.2 1.1-.1 1.1-.1 1.1-.1 1.1-.2 1.1-.1 1.1-.1 0,21.8-1.1,.2-1.1,.1-1.1,.2-1.1,.1-1.1,.2-1.1,.2-1.1,.2-1.1,.3-1.1,.3-1.1,.2-1.1,.3-1.1,.2-1.1,.2-1.1,.2-1.1,.1-1.1,.1-1.1,.2-1.1,0-1.1-.1-1.1,0-1.1,0-1.1,0-1.1-.1-1.1-.1-1.1-.2-1.1-.1-1.1-.3-1.1-.3-1.1-.3-1.1-.3-1.1-.4-1.1-.4-1.1-.4-1.1-.4-1.1-.3-1.1,0-1.1,.3-1.1,.2-1.1,.5-1.1,.6-1.1,.7-1.1,.7-1.1,.6-1.1,.7-1.1,1-1.1,1.6-1.1,1.6-1.1,1.6-1.1,1.6-1.1,1.7-1.1,1.8-1.1,1.9-1.1,1.8-1.1,2-1.1,2.3-1.1,2.3-1.1,2.2-1.1,1.8-1.1,1.8-1.1,1.7-1.1,1.2-1.1,1.2-1.1,.1-1.1-2.7-1.1-3.1-1.1-3.3-1.1-3.3-1.1-3.2-1.1-3-1.1-1.7-1.1-1.6-1.1-1.6-1.1-1.2-1.1-1.2-1.1-1.2-1.1-1.3-1.1-.8-1.1-.2-1.1-.2-1.1-.3-1.1-.2-1.1,0-1.1,0-1.1,0-1.1,.1-1.1,0-1.1-.1-1.1-.1-1.1-.2-1.1-.1-1.1-.1-1.1-.1-1.1-.1-1.1-.1-1.1-.2z" fill="#0c9af8"/>
<path d="M575,239.1l 1.1,.4 1.1,1 1.1,.1 1.1-.4 1.1-.8 1.1,.1 1.1-.4 1.1-.4 1.1,0 1.1,.8 1.1,.8 1.1,1 1.1,.3 1.1-1.4 1.1-.7 1.1-.8 1.1,.8 1.1,.3 1.1,1.3 1.1,2.2 1.1,.3 1.1,2 1.1-.2 1.1,1.8 1.1,1.1 1.1,1.7 1.1,2.9 1.1,3.2 1.1,3.5 1.1,2.2 1.1,1.5 1.1-.2 1.1-.4 1.1-.1 1.1-8.3 1.1-10.7 1.1-10.9 1.1-4.4 1.1,1 1.1,.7 1.1,1.2 1.1,.3 1.1-1 1.1,1.2 1.1,.2 1.1-.9 1.1-.7 1.1-.4 1.1-.5 1.1-1.3 1.1,.2 1.1-1.6 1.1-1 1.1-1 1.1-.6 1.1-.2 1.1-1.4 1.1-.1 1.1-.2 1.1-.5 1.1,1.2 1.1-.7 1.1,2.2 1.1-.8 1.1,2.6 1.1,.3 1.1,1.4 1.1,1.7 1.1,2.6 1.1,2.3 1.1,.9 1.1,.5 1.1-1.6 1.1,.2 1.1-.4 1.1,.3 1.1,1.7 1.1,2.2 1.1-.6 1.1-.3 1.1,0 1.1,0 1.1-.4 1.1-.3 1.1-.6 1.1-.4 1.1-.8 1.1-.8 1.1,2.5 1.1,.7 1.1-.5 1.1,1.2 1.1,.3 1.1-.5 1.1,1 M575,249.4l 1.1-.3 1.1-1.1 1.1-1.3 1.1-.5 1.1-1.3 1.1-.1 1.1,.8 1.1,1.3 1.1,.8 1.1-.2 1.1,.1 1.1,.1 1.1-.8 1.1,1.3 1.1,.3 1.1,0 1.1,.7 1.1-1.2 1.1,.4 1.1-.7 1.1,1.7 1.1,1.6 1.1,.8 1.1,2.3 1.1,1.7 1.1,2.3 1.1,2.3 1.1,2.3 1.1,1.3 1.1,.5 1.1,2.6 1.1-.4 1.1,1.4 1.1-1.3 1.1-4.8 1.1-8 1.1-6.3 1.1-4.5 1.1-.4 1.1,.2 1.1-.7 1.1,.7 1.1-.7 1.1-.8 1.1-1.7 1.1-.9 1.1,.6 1.1,.3 1.1-1.5 1.1,.7 1.1-.6 1.1-2.5 1.1-1.1 1.1-2.2 1.1-1.3 1.1-1.5 1.1,.8 1.1-.9 1.1-.9 1.1,1.1 1.1,.8 1.1,.2 1.1,1.9 1.1-.6 1.1,1.1 1.1,1 1.1,.9 1.1-.2 1.1,.9 1.1,2 1.1,2.4 1.1,1 1.1,1.2 1.1-.4 1.1,.7 1.1-.6 1.1-.2 1.1,.4 1.1,0 1.1,.5 1.1-.6 1.1,.9 1.1-.8 1.1-.7 1.1-.8 1.1-.8 1.1,.6 1.1,.8 1.1-.6 1.1-.3 1.1-.2 1.1,.8 1.1-.4 1.1,.7 1.1,.1 M575,259.7l 1.1,.8 1.1,1.6 1.1-.6 1.1-.3 1.1-.8 1.1-.4 1.1,.9 1.1,.8 1.1,.9 1.1-.1 1.1-.5 1.1-.7 1.1-2.5 1.1-.3 1.1-.9 1.1,.3 1.1,2.5 1.1,.6 1.1,1.9 1.1,1.9 1.1,2.8 1.1,1.1 1.1,2.6 1.1-.7 1.1,.1 1.1,.7 1.1,2.3 1.1,2.5 1.1,2.6 1.1,3.9 1.1,4.1 1.1,4.2 1.1,1 1.1-1.2 1.1-1.8 1.1-3.4 1.1-3.8 1.1-4.6 1.1-.7 1.1-1.8 1.1-2 1.1-1.2 1.1-1.6 1.1-2.6 1.1-2 1.1-2.1 1.1-2 1.1-1.6 1.1,.1 1.1,.4 1.1,.8 1.1-.7 1.1-.5 1.1-.9 1.1-3.7 1.1-1.5 1.1-.8 1.1-1.2 1.1,.9 1.1,.1 1.1,.5 1.1,.7 1.1,.8 1.1-.7 1.1-1.5 1.1,2.8 1.1,0 1.1,1.3 1.1,.4 1.1,.7 1.1,0 1.1,1.2 1.1-.2 1.1,.8 1.1,.4 1.1,1.1 1.1-.8 1.1-.2 1.1-1.2 1.1-1.3 1.1-.7 1.1,.9 1.1,.2 1.1,1.2 1.1,1.3 1.1-.4 1.1-.2 1.1-2.6 1.1,.6 1.1-.9 1.1-1.5 1.1-.2 1.1-1.1 1.1-.2 1.1,.3 M575,255l 1.1,.7 1.1-.6 1.1,.1 1.1-.2 1.1,.3 1.1,.7 1.1,1.1 1.1,1.5 1.1,1.2 1.1,.7 1.1-.7 1.1-1.6 1.1-1.3 1.1-.9 1.1-.9 1.1,.7 1.1-1.2 1.1,.4 1.1,.4 1.1,1.7 1.1,2.6 1.1,2.1 1.1,1.7 1.1,2.5 1.1,1.5 1.1,4.1 1.1,2.8 1.1,3.2 1.1,3.6 1.1,2.8 1.1,2.6 1.1,2.3 1.1-.4 1.1-2.4 1.1-3.1 1.1-5.2 1.1-2.8 1.1-2.7 1.1-3.2 1.1-.8 1.1-1.3 1.1-2 1.1-1.6 1.1-2.5 1.1-2.1 1.1-1.5 1.1-1.1 1.1-1.8 1.1-.7 1.1-1.3 1.1-1 1.1-.3 1.1-1.1 1.1-.4 1.1-.1 1.1-.6 1.1,.4 1.1,1 1.1-.3 1.1,.6 1.1,.9 1.1-.7 1.1-.2 1.1,.3 1.1,1 1.1,.9 1.1,1.1 1.1,1.7 1.1,1.1 1.1,1.5 1.1-.1 1.1,.3 1.1-1.7 1.1-1 1.1-1.2 1.1-.7 1.1,.2 1.1,.9 1.1,1.3 1.1,.4 1.1-.8 1.1-.1 1.1-.4 1.1-.6 1.1,.2 1.1-.4 1.1,.4 1.1-1.2 1.1,.3 1.1-.5 1.1-.5 1.1-1.1 1.1,1 1.1-.4 1.1-.5 M575,266.5l 1.1,.6 1.1,.4 1.1,.7 1.1,0 1.1-.1 1.1-.4 1.1-.2 1.1,.7 1.1,.2 1.1-.9 1.1,.5 1.1-.1 1.1,0 1.1,1.9 1.1-.4 1.1,1.2 1.1,.4 1.1-.2 1.1,1.9 1.1,1.3 1.1,1.1 1.1,.4 1.1,.9 1.1,.1 1.1,.8 1.1,1.9 1.1,3.1 1.1,3.4 1.1,2.3 1.1,4.2 1.1,2.9 1.1,3.1 1.1-.1 1.1,1.2 1.1-.2 1.1-1.3 1.1-1.2 1.1-1.8 1.1-1.2 1.1-3.5 1.1-3.1 1.1-2.9 1.1-1.1 1.1-2.7 1.1-4 1.1,.1 1.1-2.9 1.1-2.5 1.1-3.5 1.1-1.7 1.1-1.8 1.1-.3 1.1-.3 1.1,1 1.1,.9 1.1,.6 1.1-1.1 1.1-.5 1.1,0 1.1,.1 1.1-1.1 1.1,.6 1.1-.6 1.1,1.7 1.1,0 1.1-.1 1.1,.6 1.1,.9 1.1,.7 1.1,.2 1.1,.6 1.1,.5 1.1-.6 1.1-1.9 1.1,.8 1.1-.9 1.1-.1 1.1,.1 1.1-1.2 1.1-.9 1.1-1.1 1.1,.3 1.1,.2 1.1-.1 1.1,.8 1.1,.4 1.1,1.5 1.1,.6 1.1,1.1 1.1-.1 1.1-.7 1.1-1.4 1.1,.1 1.1-.5 1.1-.5 M575,243.3l 1.1-.1 1.1-1.3 1.1-.4 1.1,.9 1.1-.8 1.1,1.6 1.1,.3 1.1-.3 1.1,.3 1.1-.5 1.1-.5 1.1,0 1.1-.5 1.1,.7 1.1,.8 1.1,.7 1.1-.2 1.1,.8 1.1-.1 1.1,.9 1.1,.7 1.1,2.9 1.1,2 1.1,2.6 1.1,.2 1.1,.1 1.1,2.2 1.1,.8 1.1,3.5 1.1,3.2 1.1,1.6 1.1-.6 1.1-.2 1.1-2.8 1.1-6.6 1.1-9.6 1.1-8.1 1.1-3.3 1.1,1.1 1.1,.5 1.1,.3 1.1,.4 1.1,0 1.1-.5 1.1-.1 1.1-.1 1.1-.8 1.1,.3 1.1-.2 1.1-2.3 1.1-.7 1.1-.8 1.1-1.3 1.1,1.2 1.1-.5 1.1-.2 1.1-1.2 1.1-.9 1.1-.8 1.1,.8 1.1-.4 1.1,.2 1.1,1.5 1.1,1.1 1.1,1.8 1.1,1.3 1.1,1.1 1.1,0 1.1,.5 1.1-.4 1.1,1.1 1.1,1 1.1,1.2 1.1-.5 1.1,1.1 1.1,1.6 1.1-.8 1.1,0 1.1-.3 1.1-.5 1.1,.7 1.1,1.2 1.1-.3 1.1,.6 1.1-1 1.1-.9 1.1,.7 1.1-.1 1.1,.3 1.1,.2 1.1-.4 1.1-2.2 1.1-1.9 1.1-.8 1.1-1.2 M575,269l 1.1-.4 1.1-.3 1.1,.6 1.1-.1 1.1-.5 1.1-.2 1.1,1.2 1.1-1.9 1.1,2.2 1.1,.7 1.1,.3 1.1,.7 1.1,.1 1.1,.1 1.1-.6 1.1-2.1 1.1,0 1.1-2.1 1.1,1.9 1.1,1.6 1.1,2.4 1.1,2.5 1.1,1.1 1.1,1.7 1.1,.8 1.1,1.9 1.1,2 1.1,4 1.1,3.7 1.1,3.3 1.1,2.3 1.1,2.7 1.1-1.3 1.1-.6 1.1-.3 1.1-1.3 1.1-2.4 1.1,1.8 1.1-2.2 1.1-2.4 1.1-2.6 1.1-3 1.1-1 1.1-3.1 1.1-.8 1.1-1 1.1-.9 1.1-2.8 1.1-.2 1.1-2.3 1.1-.6 1.1-1.3 1.1-.4 1.1-2.5 1.1,.1 1.1-.3 1.1-.6 1.1,.6 1.1-2.3 1.1-1.7 1.1-1.1 1.1,.2 1.1-1.2 1.1,1.3 1.1-.6 1.1,.1 1.1,.8 1.1,.6 1.1,2.2 1.1,.9 1.1,1.9 1.1-.9 1.1,.1 1.1-.2 1.1-1.1 1.1,.6 1.1-.6 1.1-.9 1.1-.3 1.1-1.4 1.1,.4 1.1,.9 1.1-.9 1.1-.9 1.1,.1 1.1-.1 1.1-.1 1.1-.1 1.1,.6 1.1,.2 1.1,.1 1.1,1.2 1.1,.8 1.1,.5 1.1-.6 M575,258.6l 1.1,0 1.1-.6 1.1-.1 1.1,.1 1.1-1.2 1.1,0 1.1,.7 1.1,2.3 1.1-.3 1.1-.6 1.1,.4 1.1-1.3 1.1,1.1 1.1,0 1.1,0 1.1,1.8 1.1-.7 1.1,1.4 1.1-.4 1.1,.3 1.1,.6 1.1,1.2 1.1,1.8 1.1,2.8 1.1,3.2 1.1,2.4 1.1,2.4 1.1,1.9 1.1,2.3 1.1,2.8 1.1,4.2 1.1,1.3 1.1,.4 1.1-3.1 1.1-1.8 1.1-3.2 1.1-2.6 1.1-3.3 1.1-1.4 1.1-3.2 1.1-2.1 1.1-1.5 1.1-2.2 1.1-1.6 1.1-1.8 1.1-.9 1.1-1.6 1.1-1.5 1.1,0 1.1,.1 1.1-.5 1.1-.6 1.1-.7 1.1,.2 1.1-1.1 1.1-.6 1.1-.7 1.1,0 1.1-.4 1.1,.4 1.1,1.5 1.1-.2 1.1,1.1 1.1,2.4 1.1,1.8 1.1,.2 1.1,1.4 1.1,.3 1.1-.9 1.1,1.2 1.1-.6 1.1-.2 1.1,.4 1.1-.1 1.1-1.2 1.1-1 1.1,.8 1.1-.5 1.1-.5 1.1-.4 1.1-1.7 1.1,.6 1.1-.3 1.1-.7 1.1-.5 1.1-1.3 1.1-.5 1.1-1 1.1-.9 1.1,.4 1.1-1.3 1.1,.2 1.1-.8 1.1-.4 1.1-.7 M575,267.3l 1.1-2.2 1.1,.6 1.1-2.6 1.1,.3 1.1,2 1.1,1 1.1,2.2 1.1-1 1.1-.3 1.1-1.9 1.1-2.5 1.1-.8 1.1,.9 1.1,1.3 1.1,.6 1.1,1.7 1.1,.9 1.1,.5 1.1,.4 1.1,1.7 1.1,2.3 1.1,.9 1.1,1.4 1.1,.2 1.1,1.2 1.1,1 1.1,1.1 1.1,2.4 1.1,3.4 1.1,3.3 1.1,2.8 1.1,2.2 1.1,.9 1.1-2.1 1.1-1 1.1-.3 1.1-.6 1.1,.1 1.1-2.2 1.1-2.5 1.1-1 1.1-4.1 1.1,.4 1.1-3.4 1.1-.7 1.1-1.9 1.1-2.5 1.1-1.6 1.1-2.9 1.1,.2 1.1-1.7 1.1,0 1.1,1.6 1.1-1 1.1-1 1.1-1.8 1.1-.8 1.1-.4 1.1-.3 1.1-.7 1.1-.8 1.1,.4 1.1-1 1.1,.9 1.1,1.1 1.1,1.2 1.1,2.3 1.1,.6 1.1,0 1.1-1.2 1.1-.1 1.1-.1 1.1-.6 1.1-.5 1.1,.4 1.1,.2 1.1-.9 1.1-.2 1.1,.5 1.1-.1 1.1,1.3 1.1,.2 1.1,.7 1.1,.6 1.1-1.7 1.1-2.5 1.1-.3 1.1,.7 1.1,.2 1.1,.9 1.1,.7 1.1,.7 1.1-.8 1.1-3 1.1-1.4 M575,265.4l 1.1,.3 1.1-.2 1.1,.5 1.1-.1 1.1,.5 1.1-.6 1.1,.4 1.1,1.7 1.1-.2 1.1,1.2 1.1-.4 1.1,1 1.1,.3 1.1-.7 1.1,.8 1.1-1.6 1.1-.2 1.1,.8 1.1,1.3 1.1,.2 1.1,2.2 1.1,.3 1.1,1.4 1.1,2 1.1,.2 1.1,.2 1.1,3.5 1.1,3.5 1.1,3.4 1.1,4.6 1.1,2.5 1.1,2.4 1.1,1.4 1.1-.6 1.1-1.2 1.1-1.3 1.1-1 1.1-.9 1.1-2.2 1.1-1.1 1.1-2.2 1.1-3.2 1.1-3.2 1.1-1.6 1.1-2 1.1-1 1.1-2.9 1.1-2.5 1.1-3.7 1.1-2.2 1.1-1.9 1.1-.6 1.1,.5 1.1-.3 1.1,1.5 1.1-.5 1.1,1.1 1.1-1 1.1,0 1.1-.9 1.1-1.3 1.1,.8 1.1-2.1 1.1,.5 1.1-1.1 1.1,1.3 1.1-.1 1.1,1.4 1.1,.6 1.1,.5 1.1,.7 1.1-.6 1.1,.9 1.1,.2 1.1,.4 1.1,.7 1.1,1.1 1.1-1.7 1.1-.1 1.1-1 1.1-1.5 1.1-2.1 1.1,.4 1.1,.1 1.1,.2 1.1,1.1 1.1,.1 1.1,.3 1.1-1.1 1.1,.4 1.1,1 1.1-.1 1.1-.1 1.1,.7 1.1-.9 M575,245.5l 1.1,.2 1.1,.8 1.1-.4 1.1-.2 1.1-2.5 1.1,.7 1.1-.1 1.1-.2 1.1-.5 1.1-1.2 1.1,1.1 1.1-1.2 1.1,.4 1.1,.6 1.1-1.1 1.1,.9 1.1,1.3 1.1,1.1 1.1,1.6 1.1,.5 1.1,3 1.1,1.8 1.1,2 1.1,1.9 1.1,.1 1.1,1.2 1.1,1 1.1,.7 1.1,4.1 1.1,.9 1.1,1.7 1.1,1.8 1.1,1.1 1.1-1.5 1.1-5.8 1.1-7.9 1.1-8.2 1.1-5.1 1.1-1.3 1.1,.8 1.1,.2 1.1-.3 1.1-.3 1.1-.3 1.1-1 1.1-2.4 1.1-2.4 1.1-1.5 1.1-2 1.1,1.6 1.1,.3 1.1-.8 1.1,.7 1.1-.8 1.1-.9 1.1,.2 1.1,.8 1.1,1.6 1.1-.5 1.1-1 1.1-.4 1.1,2.1 1.1-.2 1.1,.9 1.1,3.4 1.1,.1 1.1,1.5 1.1-.4 1.1-.6 1.1-.2 1.1,.4 1.1,.8 1.1,.2 1.1-.1 1.1,.6 1.1,1.4 1.1,1.9 1.1,.7 1.1,0 1.1-1.6 1.1-.4 1.1-2 1.1-.1 1.1,.5 1.1-.5 1.1-.3 1.1,.8 1.1-2.8 1.1,2.2 1.1-.4 1.1,1.3 1.1-.6 1.1-.6 1.1-.2 1.1-.3 M575,250.6l 1.1,0 1.1-1.8 1.1,1.1 1.1-.6 1.1-1.1 1.1,.9 1.1,1 1.1,1.4 1.1,.3 1.1-.5 1.1,.1 1.1,0 1.1-.2 1.1-.8 1.1,1.6 1.1,1 1.1-1.3 1.1,.8 1.1-.5 1.1,0 1.1,1.2 1.1,.9 1.1,1 1.1,2.2 1.1,1.7 1.1,2.8 1.1,2.9 1.1,1.4 1.1,4.1 1.1,5.1 1.1,2.4 1.1,1.9 1.1,.4 1.1-1.7 1.1-3.4 1.1-6.6 1.1-5.6 1.1-4.5 1.1-1.5 1.1-.7 1.1-2.2 1.1-2 1.1-1.4 1.1-2.4 1.1-2.3 1.1-.7 1.1-1.5 1.1-.4 1.1-1 1.1,.9 1.1-.9 1.1-.8 1.1-1.4 1.1-1.5 1.1-2.1 1.1-.7 1.1-.2 1.1,1.6 1.1,.6 1.1,3.2 1.1,.2 1.1,1.6 1.1,1.9 1.1-.2 1.1,1 1.1-.1 1.1,.6 1.1,.3 1.1-.3 1.1-.3 1.1,1.5 1.1,.3 1.1,.6 1.1,1.1 1.1-.1 1.1-.7 1.1,.3 1.1-.1 1.1-.2 1.1-.2 1.1-.6 1.1-.9 1.1-.9 1.1-.2 1.1-1.1 1.1,.3 1.1-1.2 1.1,.6 1.1-.3 1.1-.1 1.1,1.8 1.1-.4 1.1-.7 1.1,.3 1.1-.6 M575,257.5l 1.1,.1 1.1-1 1.1,.4 1.1,.5 1.1,.5 1.1,.4 1.1,.8 1.1,.7 1.1,.6 1.1-.8 1.1,.8 1.1-.4 1.1-.1 1.1,0 1.1,.5 1.1,.3 1.1,.8 1.1,1.9 1.1,.4 1.1,.3 1.1,.5 1.1-.3 1.1,1.2 1.1,2.7 1.1,2.1 1.1,1.9 1.1,3.7 1.1,3.8 1.1,3.2 1.1,3.2 1.1,1.4 1.1,1.5 1.1,.8 1.1-2.9 1.1-1.3 1.1-2.5 1.1-4.7 1.1-2.5 1.1-3.1 1.1-4.3 1.1-2.5 1.1-.5 1.1-.7 1.1-.1 1.1-1.3 1.1-.6 1.1-1.1 1.1-.9 1.1-1 1.1-1.7 1.1-.2 1.1-1.1 1.1-2.4 1.1-2.1 1.1-1.8 1.1-1.3 1.1,1.2 1.1,.9 1.1,1.4 1.1,1 1.1,.4 1.1,.2 1.1,1.3 1.1-1.2 1.1,2 1.1-.1 1.1,.8 1.1,2.2 1.1-.3 1.1,1.2 1.1,1.2 1.1,.4 1.1,.6 1.1-.5 1.1-.4 1.1,.5 1.1-1 1.1-2 1.1-1.1 1.1-1.6 1.1-.5 1.1-.8 1.1,.3 1.1,.2 1.1-1.3 1.1-.2 1.1-.4 1.1-.8 1.1,.8 1.1,1.1 1.1,1.1 1.1,.2 1.1,.1 1.1,.6 1.1-1.1 M575,258l 1.1,0 1.1-.3 1.1-.5 1.1,.4 1.1-.1 1.1-.5 1.1-.4 1.1-1 1.1-.5 1.1-1.6 1.1-.9 1.1-1.2 1.1,.7 1.1-1.1 1.1,2.7 1.1,1.9 1.1,1.1 1.1,.9 1.1-.1 1.1,.6 1.1,.3 1.1,.2 1.1,2.9 1.1,1 1.1,3.7 1.1,2.8 1.1,3.1 1.1,1.6 1.1,2.2 1.1,2.8 1.1,.6 1.1,3.4 1.1,.2 1.1-2.6 1.1-1.3 1.1-4.1 1.1-4.1 1.1-4.1 1.1-2.9 1.1-3.8 1.1-.7 1.1-1.2 1.1-1.1 1.1,.4 1.1-1.8 1.1-2.1 1.1-.7 1.1-1.2 1.1-2.1 1.1,.9 1.1-1.1 1.1,.2 1.1-.7 1.1-.2 1.1,.3 1.1-1.2 1.1,.1 1.1,.1 1.1,.5 1.1-.9 1.1-.9 1.1-1.1 1.1,1.6 1.1,.4 1.1,.9 1.1,1.5 1.1,1.6 1.1,1.6 1.1,2.1 1.1,1.2 1.1,.1 1.1,.3 1.1,.1 1.1-1.1 1.1-.6 1.1,1.9 1.1-1.7 1.1-.8 1.1-1.1 1.1,.1 1.1,.6 1.1-.4 1.1-.1 1.1-.2 1.1-.6 1.1-.7 1.1,1.3 1.1-1 1.1-.8 1.1-.7 1.1-1.5 1.1-2.2 1.1-1.6 1.1-.1 1.1-.6 M575,268.6l 1.1,.5 1.1,.3 1.1-2.5 1.1,.7 1.1-.3 1.1,0 1.1,1.4 1.1-.3 1.1,.5 1.1,1.1 1.1-1.3 1.1,1.3 1.1-1.1 1.1-.6 1.1,0 1.1-.2 1.1,.1 1.1-1.6 1.1-.4 1.1,1.6 1.1,1.3 1.1,1.2 1.1,1.2 1.1,2.4 1.1,4.4 1.1,.2 1.1,4 1.1,1.7 1.1,4.7 1.1,5 1.1,1.7 1.1,4.1 1.1-.7 1.1-.6 1.1-.4 1.1-1.1 1.1-.5 1.1-1.8 1.1-2.5 1.1-1.9 1.1-2.9 1.1-2.8 1.1-3 1.1-3.3 1.1-2.4 1.1-.9 1.1-.5 1.1-.2 1.1-1 1.1-.8 1.1-.8 1.1-.6 1.1-.8 1.1-1.8 1.1-1.3 1.1-2.4 1.1-1.1 1.1-.5 1.1-.2 1.1,.2 1.1,.8 1.1,1.4 1.1,.4 1.1,.2 1.1,.3 1.1,.9 1.1-1.1 1.1-.4 1.1-.1 1.1,.1 1.1-.9 1.1,1.3 1.1-.1 1.1,.5 1.1-.4 1.1-.3 1.1,.3 1.1-.7 1.1-.3 1.1,.2 1.1,.2 1.1-.6 1.1,.4 1.1-1.8 1.1-.5 1.1-1.3 1.1,.4 1.1,.9 1.1,1.2 1.1,.6 1.1,1 1.1-.9 1.1-.4 1.1-1.5 1.1,1.5 M575,267.4l 1.1-.2 1.1,.7 1.1-.8 1.1,.9 1.1,0 1.1-.6 1.1-.3 1.1-1.4 1.1,0 1.1-1.7 1.1-.1 1.1,.9 1.1-.8 1.1,0 1.1,.2 1.1,.8 1.1,.3 1.1,.5 1.1,.3 1.1,2.8 1.1,1.2 1.1,.5 1.1,2.3 1.1,3 1.1,2.5 1.1,2.3 1.1,4.1 1.1,2.9 1.1,2.7 1.1,3.1 1.1,1.7 1.1,3.1 1.1,.9 1.1-2.3 1.1-.8 1.1-2.5 1.1-3 1.1-1.1 1.1-1.5 1.1-.4 1.1-1 1.1-1.9 1.1-1.2 1.1-2.8 1.1-3.5 1.1-2.3 1.1-2.6 1.1-1.9 1.1-.7 1.1-1.1 1.1-1.6 1.1-.2 1.1-1.6 1.1-.6 1.1-.6 1.1-.8 1.1,.3 1.1,.1 1.1-1.2 1.1,.3 1.1,.1 1.1,1.4 1.1-.1 1.1,1.1 1.1-.8 1.1-.4 1.1-.3 1.1,1.7 1.1,.3 1.1,0 1.1,.3 1.1-.9 1.1-.2 1.1-.8 1.1,.9 1.1-.7 1.1-.5 1.1-.2 1.1,.6 1.1,1.2 1.1-.9 1.1,.7 1.1-.3 1.1-2.4 1.1-1.6 1.1-.6 1.1-1.1 1.1,2.3 1.1,1.7 1.1,.9 1.1,.8 1.1-1.9 1.1-1.6 1.1-.9 1.1-.6 M575,244.2l 1.1-1.4 1.1-.7 1.1-.3 1.1-.8 1.1,.6 1.1,0 1.1-1.1 1.1,2 1.1,.5 1.1,.9 1.1,.2 1.1-.4 1.1-.3 1.1,.2 1.1,1.6 1.1-.4 1.1,.6 1.1,0 1.1,.2 1.1,1.4 1.1,1.4 1.1,.8 1.1,0 1.1,1.2 1.1,.4 1.1,1.6 1.1,1.3 1.1,1.6 1.1,2.8 1.1,3.6 1.1,2.5 1.1-.1 1.1-.8 1.1-2 1.1-6.4 1.1-10.4 1.1-8.8 1.1-3.4 1.1,2.5 1.1,1 1.1,.4 1.1,.1 1.1-1.4 1.1-.4 1.1-.6 1.1,.4 1.1-.5 1.1-.6 1.1-1 1.1-1.5 1.1-1.2 1.1-2.2 1.1-1.2 1.1-1.1 1.1,.4 1.1,1.3 1.1-.2 1.1,.1 1.1,.3 1.1,1.5 1.1-.2 1.1,2.1 1.1,.1 1.1,.3 1.1,1.3 1.1,.2 1.1,1.1 1.1,1 1.1,1.3 1.1,1.8 1.1,.7 1.1,.2 1.1-.5 1.1-1.3 1.1-.2 1.1,.6 1.1,.1 1.1,.1 1.1,.9 1.1,.4 1.1,.3 1.1,.1 1.1-.3 1.1,.9 1.1,.2 1.1-1.2 1.1,0 1.1,.4 1.1-1.3 1.1-2 1.1-1.2 1.1,.2 1.1-.7 1.1,1.7 1.1-.1 M575,240.2l 1.1,.8 1.1-.6 1.1,1.4 1.1,1.2 1.1-.2 1.1,.6 1.1-.3 1.1,.7 1.1-1.1 1.1,.3 1.1-.7 1.1-.3 1.1-.2 1.1-.6 1.1-.9 1.1-.8 1.1-.8 1.1,0 1.1,.7 1.1,1.1 1.1,1.1 1.1,2.2 1.1,2.9 1.1,1.1 1.1,1.2 1.1,2.2 1.1,1.9 1.1,1.8 1.1,3.4 1.1,3.3 1.1,2.7 1.1-1 1.1,.6 1.1-.9 1.1-7.4 1.1-10.4 1.1-10.9 1.1-4.8 1.1,1.2 1.1,.2 1.1,2.4 1.1,.8 1.1-.1 1.1-.5 1.1-.1 1.1-1.9 1.1-.9 1.1-1.2 1.1,.8 1.1-.5 1.1-.5 1.1-1.5 1.1-1.2 1.1-.5 1.1,.8 1.1,.8 1.1-2.1 1.1-.9 1.1-.7 1.1,1.9 1.1,.8 1.1,.5 1.1,.7 1.1-1.4 1.1,.2 1.1,.2 1.1,1.7 1.1,2.4 1.1,1.2 1.1,.2 1.1,.7 1.1,0 1.1,.6 1.1,.4 1.1,1.3 1.1,1.9 1.1-1.2 1.1,.8 1.1-.8 1.1,1 1.1,.8 1.1,.2 1.1,.9 1.1-1 1.1-.1 1.1-.4 1.1-1.4 1.1-.1 1.1-.6 1.1-.2 1.1,.6 1.1,.7 1.1,.1 1.1,.7 1.1,.1 M575,251.7l 1.1,1.3 1.1,.5 1.1-.8 1.1-1.6 1.1-1.8 1.1-1.7 1.1,.8 1.1-.8 1.1,.2 1.1,.6 1.1,.1 1.1,.4 1.1-1.6 1.1-.6 1.1-.7 1.1,.9 1.1,1.2 1.1,.7 1.1,1.7 1.1,1.4 1.1,1.2 1.1,1.6 1.1,1.7 1.1,.7 1.1,4 1.1,1.2 1.1,3.1 1.1,2.5 1.1,2.4 1.1,1.5 1.1,3.7 1.1,.1 1.1,.4 1.1-1.2 1.1-4 1.1-6.1 1.1-7.2 1.1-5.7 1.1-2.6 1.1-.6 1.1,1.1 1.1-1.3 1.1-.7 1.1,0 1.1-.3 1.1-1.9 1.1-.6 1.1-3.2 1.1-.8 1.1,.2 1.1-2.4 1.1-.4 1.1-.8 1.1-.7 1.1-.4 1.1-1 1.1,.1 1.1-.5 1.1,2.1 1.1-.4 1.1,2.5 1.1,.7 1.1,.1 1.1,.1 1.1,2.2 1.1-.4 1.1,.7 1.1,2.5 1.1,1.5 1.1,1.3 1.1,1.4 1.1-1.6 1.1,1.1 1.1-1.2 1.1,1.3 1.1,.5 1.1-.7 1.1,.5 1.1-1.3 1.1-.6 1.1-.9 1.1,.4 1.1,1.5 1.1-.7 1.1,1.2 1.1,0 1.1,0 1.1-.8 1.1-3.4 1.1-2.2 1.1-1.5 1.1-1.2 1.1,.2 1.1,1 1.1-.1 M575,263.7l 1.1,.4 1.1,.2 1.1-.2 1.1,1.1 1.1,1.2 1.1-.8 1.1,1.2 1.1-.4 1.1,0 1.1,.3 1.1,0 1.1-.6 1.1,.1 1.1,.1 1.1-1.4 1.1-1.7 1.1,.5 1.1,.5 1.1,2 1.1,.6 1.1,2.5 1.1,1.4 1.1,1 1.1,1 1.1,.7 1.1,2 1.1,3 1.1,2.5 1.1,4.3 1.1,2.4 1.1,4.6 1.1,3.3 1.1-.4 1.1-.8 1.1-2.8 1.1-1.4 1.1-1.2 1.1-.5 1.1-1.1 1.1-2.6 1.1-1.3 1.1-3.3 1.1-2.6 1.1-2.7 1.1-2.9 1.1-.7 1.1-.8 1.1-2.6 1.1-1.6 1.1,.1 1.1-1.1 1.1,.2 1.1-2.4 1.1-1.7 1.1-1.2 1.1-2 1.1-1.2 1.1-1.1 1.1,.4 1.1,.7 1.1,.1 1.1,.5 1.1,.2 1.1,1.5 1.1-.8 1.1,.7 1.1,.8 1.1,2.1 1.1,1.8 1.1,1.1 1.1,.7 1.1-.7 1.1-.1 1.1-1.1 1.1,1.7 1.1,.4 1.1-.2 1.1,.5 1.1-.4 1.1,.2 1.1-.5 1.1,.1 1.1-1.4 1.1-.7 1.1-.7 1.1,0 1.1-.9 1.1,1.4 1.1-.8 1.1-.7 1.1-.5 1.1-.5 1.1-1.2 1.1,.8 1.1-.3 M575,266.7l 1.1-1.2 1.1,.2 1.1-.2 1.1,.8 1.1,.6 1.1-.1 1.1,.5 1.1,1.2 1.1,.4 1.1-.4 1.1,.4 1.1-1.8 1.1-.3 1.1-.1 1.1-.1 1.1,.2 1.1,1.1 1.1-1 1.1,.7 1.1,.7 1.1,2.2 1.1,3.4 1.1,3.1 1.1,2.4 1.1,1.3 1.1,1.3 1.1,2.8 1.1,1.6 1.1,3.5 1.1,3.1 1.1,2.8 1.1,3 1.1-.5 1.1-1.1 1.1,.3 1.1-3.5 1.1-.3 1.1-2.2 1.1-1.1 1.1-2.2 1.1-3.3 1.1-2 1.1-3.4 1.1-2.4 1.1-1.6 1.1,.1 1.1-1.2 1.1-1.1 1.1-2 1.1-2.4 1.1-.8 1.1-1.1 1.1-1.7 1.1-2.2 1.1-1.9 1.1-1.5 1.1-1 1.1,.8 1.1,.6 1.1,2.1 1.1,.9 1.1,1.5 1.1,.6 1.1-1.6 1.1-.5 1.1,.2 1.1,.3 1.1,.8 1.1,.1 1.1,.2 1.1,.3 1.1,1.1 1.1-1.3 1.1,.8 1.1,1.1 1.1-2.2 1.1,.6 1.1-.7 1.1,.1 1.1-.2 1.1-.7 1.1-.5 1.1-.3 1.1,.1 1.1-.8 1.1-.5 1.1,.4 1.1,1.1 1.1,.7 1.1,.5 1.1-.3 1.1-1 1.1,.8 1.1-1.7 1.1-.2 M575,247.2l 1.1-2.3 1.1-2.3 1.1-.8 1.1-1.5 1.1,.9 1.1-1.5 1.1,1.1 1.1-2.1 1.1,.1 1.1,0 1.1,1.5 1.1,0 1.1-.1 1.1,1.4 1.1,.3 1.1,.5 1.1-.9 1.1,.9 1.1-.5 1.1,.9 1.1,.5 1.1,1 1.1,.8 1.1,2 1.1-.1 1.1,1.5 1.1,2.9 1.1,2 1.1,4.2 1.1,1.3 1.1,4 1.1-.4 1.1,1.1 1.1-1.2 1.1-5.9 1.1-10.4 1.1-11 1.1-3.5 1.1,.4 1.1,.7 1.1,1.4 1.1-1.5 1.1-.7 1.1-1.2 1.1-1.5 1.1-1 1.1,.3 1.1,0 1.1,.4 1.1-.6 1.1-.6 1.1,0 1.1-1.7 1.1-.6 1.1,.9 1.1,1.1 1.1-1.4 1.1-.6 1.1-.6 1.1-.8 1.1,.6 1.1-.7 1.1,1.7 1.1,1 1.1,1.6 1.1,1 1.1,1.5 1.1-.2 1.1,2 1.1,.3 1.1,.9 1.1,1.9 1.1-.1 1.1,.8 1.1-1.1 1.1,.6 1.1-.7 1.1-.1 1.1,.8 1.1-.5 1.1,.7 1.1,.8 1.1,1.1 1.1,.6 1.1-.1 1.1-1.3 1.1-1.5 1.1-.3 1.1-.8 1.1,1.3 1.1-.3 1.1-.1 1.1,.7 1.1-1 1.1,.8 M575,261.5l 1.1,0 1.1-.8 1.1,2.3 1.1-.8 1.1,1.9 1.1,.6 1.1,.8 1.1,1.2 1.1-.2 1.1,1.6 1.1-.5 1.1-.9 1.1-1.5 1.1-.8 1.1-2 1.1,1.2 1.1,1.4 1.1-.5 1.1,1.5 1.1,.6 1.1,1.3 1.1,1 1.1,1.8 1.1,3.6 1.1,.4 1.1,3.5 1.1,3.2 1.1,2.8 1.1,2.8 1.1,3 1.1,3 1.1,2.7 1.1-.5 1.1-1.9 1.1-3.2 1.1-1.5 1.1-1.7 1.1-2.6 1.1-1 1.1-1.7 1.1-1.6 1.1-1.7 1.1-2.2 1.1-2 1.1-2.3 1.1-1.3 1.1-2.1 1.1,.6 1.1-.9 1.1-1.9 1.1,1.2 1.1-2.5 1.1-.5 1.1-.5 1.1-.8 1.1-1.1 1.1-1 1.1-1.4 1.1,1 1.1-1.3 1.1,.3 1.1-.3 1.1,1.2 1.1,1 1.1-.7 1.1,.2 1.1-.3 1.1,1.1 1.1-.6 1.1,1.1 1.1-.4 1.1-.4 1.1,1.2 1.1,.5 1.1,2.9 1.1-.5 1.1-.4 1.1,.7 1.1-2.2 1.1-1 1.1-2 1.1,1.2 1.1-.1 1.1,.8 1.1,0 1.1,1.5 1.1,1.1 1.1-1.2 1.1,.3 1.1,0 1.1-1.2 1.1-1.2 1.1,.4 1.1-1 1.1-1.8 M575,269.7l 1.1,.1 1.1,.6 1.1-.5 1.1-1.5 1.1,.3 1.1-.9 1.1-1.1 1.1-.2 1.1,.3 1.1,.5 1.1,0 1.1,1.6 1.1,.4 1.1-.2 1.1,1.3 1.1-.6 1.1-1.5 1.1-.3 1.1,1.4 1.1,1.1 1.1,2.3 1.1,2.6 1.1,2.6 1.1,1.1 1.1,1.6 1.1,1.3 1.1,3.3 1.1,3.3 1.1,3.3 1.1,2 1.1,2.2 1.1,4.4 1.1-.6 1.1-1.9 1.1,1.2 1.1-1.1 1.1-1.4 1.1-.2 1.1-1.4 1.1-2.2 1.1-2.8 1.1-1.4 1.1-2.6 1.1-2.2 1.1-4.6 1.1-1.8 1.1-3.1 1.1-3.1 1.1-1.6 1.1-2.5 1.1-1.1 1.1,.7 1.1,.7 1.1,1.2 1.1,.2 1.1-.1 1.1-.5 1.1-.6 1.1-.5 1.1-1.1 1.1-.2 1.1,0 1.1-.5 1.1,.8 1.1,.6 1.1,.3 1.1,1.1 1.1-1.8 1.1,0 1.1,.2 1.1-.8 1.1,1.1 1.1,.8 1.1,.5 1.1,.3 1.1,0 1.1,0 1.1,0 1.1,0 1.1,0 1.1-.3 1.1,.2 1.1-.5 1.1,.3 1.1-.6 1.1-.3 1.1-1 1.1,.8 1.1-1 1.1,.8 1.1-1.1 1.1,1.5 1.1-2.5 1.1,.3 1.1-1.4 M575,244.3l 1.1,.2 1.1,1 1.1,1.3 1.1,1.7 1.1-.2 1.1-.6 1.1-1.1 1.1-1.2 1.1,2.2 1.1-.8 1.1,1.4 1.1-.6 1.1,.2 1.1-2 1.1-.3 1.1,.8 1.1,.6 1.1,.9 1.1,.4 1.1,1.4 1.1,2.4 1.1,.8 1.1,2 1.1,1.9 1.1,.9 1.1,.5 1.1,2.5 1.1,2.6 1.1,4.5 1.1,2.7 1.1,3.6 1.1,1.6 1.1,.4 1.1-2.6 1.1-4.1 1.1-7.4 1.1-5.3 1.1-4.2 1.1,.6 1.1-1.6 1.1-1.3 1.1-.8 1.1-2.4 1.1-.4 1.1-.3 1.1-1.1 1.1-.5 1.1-.1 1.1-3 1.1-1.3 1.1-3 1.1-1.4 1.1-.4 1.1,.6 1.1-.5 1.1-.2 1.1,.2 1.1-.1 1.1,.3 1.1,0 1.1,1.5 1.1-.6 1.1,.4 1.1,1.3 1.1,1.7 1.1,1.1 1.1,1 1.1,.2 1.1,1.3 1.1,.2 1.1,.8 1.1,1.8 1.1,1.3 1.1,.7 1.1-1.2 1.1-.6 1.1,.9 1.1,0 1.1,.7 1.1,.5 1.1,.3 1.1-.8 1.1,.5 1.1,.5 1.1-2.5 1.1-1.1 1.1-.7 1.1-1.9 1.1,.2 1.1,.4 1.1,0 1.1,.7 1.1-.3 1.1-1.3 1.1,1.1 M575,241l 1.1-.5 1.1-.4 1.1,.4 1.1-1 1.1,.8 1.1,1 1.1-.2 1.1,1.8 1.1,.5 1.1,0 1.1-.8 1.1,.1 1.1,1 1.1,.9 1.1-.3 1.1-.4 1.1-.1 1.1-1.2 1.1,.9 1.1,1.1 1.1,1.8 1.1,.7 1.1,1.5 1.1,2.5 1.1-.4 1.1,1.5 1.1,.6 1.1,2.3 1.1,3 1.1,2.6 1.1,3.7 1.1,.6 1.1,0 1.1-1.4 1.1-7.3 1.1-8 1.1-9.8 1.1-3 1.1,1.4 1.1,.6 1.1,1.7 1.1-1.7 1.1,.1 1.1-2.8 1.1-.8 1.1-.6 1.1-1.8 1.1-.6 1.1,.1 1.1-.7 1.1-4.2 1.1-1.8 1.1-1.2 1.1-1.4 1.1,1.3 1.1,2.4 1.1,1.4 1.1,3 1.1,.8 1.1,.7 1.1-.6 1.1-.1 1.1-.1 1.1,.3 1.1,.4 1.1,2 1.1,.5 1.1,0 1.1,2.1 1.1-.8 1.1,1.8 1.1,2 1.1,.8 1.1,.2 1.1-.8 1.1,.4 1.1,.2 1.1-1.2 1.1,1.1 1.1-.5 1.1,2.2 1.1-1.4 1.1,1 1.1-.7 1.1,.7 1.1-.1 1.1-.9 1.1,.4 1.1-.7 1.1-1 1.1,.4 1.1-.8 1.1-.5 1.1-2.2 1.1-1.9 M575,261.1l 1.1,.9 1.1,.3 1.1-.7 1.1,.2 1.1-1.4 1.1-.1 1.1,.1 1.1,1.4 1.1,1 1.1,0 1.1-1.3 1.1-1 1.1-.5 1.1-1.1 1.1-.9 1.1-.1 1.1-.1 1.1,.1 1.1,2 1.1,1.3 1.1,.1 1.1,1.9 1.1,2.3 1.1,1.3 1.1,4.1 1.1,2.3 1.1,2.3 1.1,3 1.1,2.1 1.1,2.8 1.1,2.2 1.1,2.8 1.1,1.2 1.1-1 1.1-1.2 1.1-3.1 1.1-3.7 1.1-2.7 1.1-2.4 1.1-2.6 1.1-1.8 1.1-2.4 1.1-.9 1.1-.5 1.1-2.3 1.1-.4 1.1,.1 1.1-.9 1.1-2.4 1.1-2.2 1.1-.5 1.1-.4 1.1,1 1.1-.9 1.1-1.2 1.1-2.5 1.1-.2 1.1-1.2 1.1,0 1.1,.5 1.1,.5 1.1,2.1 1.1-.4 1.1-.8 1.1,1 1.1,1.3 1.1-.8 1.1,1.8 1.1,.2 1.1,.6 1.1,.4 1.1-.1 1.1,1.2 1.1,0 1.1,.5 1.1-.3 1.1,.9 1.1-.3 1.1,.9 1.1-.2 1.1,.3 1.1-.2 1.1-1.9 1.1-.8 1.1-.6 1.1-1.8 1.1-.1 1.1-.7 1.1,.8 1.1-1.2 1.1-1.2 1.1-.4 1.1-1.3 1.1,.3 1.1,.9 M575,264.9l 1.1,.6 1.1,.7 1.1,.6 1.1-.4 1.1,.1 1.1-.8 1.1,1.5 1.1,0 1.1,.6 1.1-.1 1.1,.7 1.1-1.6 1.1,1.3 1.1-.7 1.1,.8 1.1,.2 1.1,.8 1.1-2.4 1.1,1.9 1.1,1 1.1,3.4 1.1,2.4 1.1,2.1 1.1,1.7 1.1,.2 1.1,1.9 1.1,1.4 1.1,1.8 1.1,3.9 1.1,3.3 1.1,3.4 1.1,2.9 1.1-.1 1.1-.1 1.1-1.3 1.1-2.5 1.1-2 1.1-1 1.1-2.6 1.1-1 1.1-.8 1.1-1.6 1.1-1.1 1.1-2.6 1.1-1.3 1.1-2.8 1.1-2.2 1.1-1 1.1-1.3 1.1-.9 1.1-2.7 1.1-.2 1.1-1.8 1.1-1.8 1.1-1.8 1.1-.8 1.1-.6 1.1,.4 1.1-.5 1.1,.9 1.1,1.4 1.1,1.4 1.1,.2 1.1,.7 1.1,1.1 1.1,0 1.1-.8 1.1,.2 1.1,.9 1.1-.4 1.1-.6 1.1-.7 1.1-.7 1.1-1.6 1.1-.8 1.1,.6 1.1,.8 1.1,.6 1.1-.9 1.1,.4 1.1,.6 1.1-1.4 1.1,0 1.1,1.3 1.1-1 1.1-1.4 1.1,.1 1.1-.2 1.1-1.6 1.1-.8 1.1-.7 1.1,.1 1.1,.8 1.1,.3 1.1,.8 M575,243.4l 1.1-.8 1.1-2.6 1.1,.1 1.1,.1 1.1,1.5 1.1,2.1 1.1,1.9 1.1-1.1 1.1-.4 1.1-1.3 1.1-1 1.1-1.5 1.1-.2 1.1,.8 1.1,1.7 1.1,2.3 1.1-.4 1.1,.2 1.1,1.7 1.1,.7 1.1,.1 1.1,1.2 1.1,1.3 1.1,1.8 1.1,1.5 1.1,.3 1.1,2 1.1,2.8 1.1,1.8 1.1,2.3 1.1,3.3 1.1,1.1 1.1,2.2 1.1-2 1.1-5.7 1.1-8.6 1.1-8.7 1.1-5 1.1,.4 1.1-2 1.1-.1 1.1-.5 1.1,.7 1.1-.1 1.1-1.3 1.1-1 1.1-.8 1.1-1.6 1.1-1.6 1.1-.4 1.1,1.4 1.1-1.3 1.1-1.3 1.1-.8 1.1-1.4 1.1-1.4 1.1-.5 1.1,1 1.1,.3 1.1,1.6 1.1,.7 1.1,.5 1.1-.1 1.1,.4 1.1,.6 1.1,.6 1.1,2.5 1.1,1.6 1.1,2.4 1.1,1.6 1.1,1.2 1.1-.9 1.1,.6 1.1-.6 1.1-.5 1.1,.8 1.1,.4 1.1,1.2 1.1-1 1.1-.1 1.1-.4 1.1-.1 1.1,.5 1.1,1.1 1.1,.8 1.1,.4 1.1,.1 1.1,.2 1.1-.6 1.1-1.1 1.1-.6 1.1-.3 1.1-.4 1.1,.4 1.1,.6 M575,267.3l 1.1,.7 1.1-1 1.1,1.1 1.1,.2 1.1,.5 1.1-1.1 1.1,0 1.1,.1 1.1-1 1.1,.9 1.1-.3 1.1,.9 1.1,1 1.1,1.6 1.1,.7 1.1,.1 1.1,.1 1.1,.1 1.1,.8 1.1,1.4 1.1,1.3 1.1,1.3 1.1,1.3 1.1,1.4 1.1,1.3 1.1,1.3 1.1,2.8 1.1,2.1 1.1,1.5 1.1,3.8 1.1,2.6 1.1,4.6 1.1,0 1.1-.9 1.1-1.2 1.1-1.7 1.1-1.9 1.1-.9 1.1-.3 1.1-.5 1.1-2 1.1-1.8 1.1-1.9 1.1-3.2 1.1-1.6 1.1-2.1 1.1-3.8 1.1-1.7 1.1-1.7 1.1-1.4 1.1-.6 1.1,0 1.1-.8 1.1-.7 1.1-1.2 1.1-1.2 1.1-.1 1.1-1.4 1.1,.1 1.1-.3 1.1,.4 1.1,.9 1.1,.5 1.1-1.5 1.1,.6 1.1,1.6 1.1,.1 1.1,.6 1.1-.4 1.1-.6 1.1-.7 1.1-.8 1.1,.2 1.1,.3 1.1-.3 1.1,1.5 1.1-.4 1.1,1 1.1,.8 1.1-1.1 1.1-.7 1.1-.3 1.1-1.7 1.1,.4 1.1,1 1.1,1.3 1.1,.5 1.1-.1 1.1-.1 1.1-.1 1.1-.1 1.1-2.3 1.1-2.1 1.1,.2 1.1,.7" fill="none" stroke="#0c9af8" stroke-width="0.6" opacity="0.85"/>
<path d="M575.0,252.8 L585.1,254.4 L590.1,252.8 L595.2,255.3 L600.2,259.5 L605.3,270.4 L608.6,280.5 L611.1,283.8 L613.6,278.8 L617.0,265.4 L620.4,257.8 L625.4,252.8 L631.3,248.6 L637.1,243.5 L641.3,245.2 L647.2,250.3 L653.9,253.9 L660.6,254.4 L667.4,251.9 L672.4,248.6 L680.0,246.6" fill="none" stroke="#000" stroke-width="1.8" stroke-linejoin="round"/>
<path d="M574.2,348.9l 1.1,.3 1.1,.3 1.1,.3 1.1,.3 1.1,.3 1.1,.3 1.1,.3 1.1,.3 1.1,.6 1.1,.8 1.1,.8 1.1,.7 1.1,.8 1.1,.7 1.1,.8 1.1,.8 1.1,1.3 1.1,1.4 1.1,1.4 1.1,1.3 1.1,1.4 1.1,1.4 1.1,1.4 1.1,1.6 1.1,2.2 1.1,2.3 1.1,2.2 1.1,2.2 1.1,2.2 1.1,2.3 1.1,2.5 1.1,2.6 1.1,.8 1.1-1.8 1.1-1.9 1.1-1.8 1.1-1.7 1.1-1.8 1.1-1.7 1.1-1.7 1.1-1.8 1.1-1.7 1.1-1.6 1.1-1.5 1.1-1.6 1.1-1.5 1.1-1.5 1.1-1.6 1.1-1.6 1.1-1.3 1.1-.9 1.1-1 1.1-.9 1.1-.9 1.1-.7 1.1-.8 1.1-.8 1.1-.4 1.1-.3 1.1-.2 1.1-.2 1.1-.2 1.1-.3 1.1-.2 1.1-.2 1.1-.3 1.1-.2 1.1-.1 1.1,.4 1.1,.4 1.1,.4 1.1,.4 1.1,.4 1.1,.4 1.1,.3 1.1,.4 1.1,.3 1.1,.1 1.1,0 1.1-.2 1.1-.1 1.1-.1 1.1-.1 1.1-.2 1.1-.2 1.1-.2 1.1-.2 1.1-.1 1.1-.1 1.1,.1 1.1,0 1.1,.1 1.1,0 1.1,.1 1.1,0 0,25.4-1.1-.4-1.1-.4-1.1-.3-1.1-.4-1.1-.4-1.1-.4-1.1-.3-1.1,.3-1.1,.4-1.1,.4-1.1,.4-1.1,.4-1.1,.4-1.1,.3-1.1,.4-1.1,.3-1.1,.3-1.1,.2-1.1,.1-1.1,.2-1.1,.1-1.1,.1-1.1,.1-1.1,.1-1.1,.1-1.1-.2-1.1-.5-1.1-.4-1.1-.5-1.1-.5-1.1-.4-1.1-.5-1.1-.4-1.1-.5-1.1-.2-1.1,.2-1.1,.3-1.1,.4-1.1,.5-1.1,.4-1.1,.5-1.1,.5-1.1,.8-1.1,.9-1.1,1-1.1,.9-1.1,.9-1.1,1-1.1,.9-1.1,.9-1.1,1-1.1,1.1-1.1,1-1.1,1.2-1.1,1.2-1.1,1.2-1.1,1.1-1.1,1.3-1.1,1.5-1.1,1.6-1.1,1.6-1.1,1.7-1.1-.5-1.1-2.2-1.1-2.1-1.1-1.8-1.1-1.6-1.1-1.6-1.1-1.6-1.1-1.6-1.1-1.6-1.1-1.2-1.1-.9-1.1-.9-1.1-.9-1.1-.9-1.1-.9-1.1-.9-1.1-.9-1.1-.4-1.1-.5-1.1-.4-1.1-.4-1.1-.5-1.1-.4-1.1-.5-1.1-.4-1.1-.4-1.1-.3-1.1-.4-1.1-.4-1.1-.4-1.1-.4-1.1-.4-1.1-.4z" fill="#ffb6c2"/>
<path d="M574.2,346.2l 1.1,.8 1.1,1.9 1.1,.9 1.1,1.1 1.1,2 1.1-.6 1.1-.5 1.1-.2 1.1,.6 1.1,1.1 1.1,1.5 1.1,2.2 1.1,1.3 1.1,1.5 1.1,.7 1.1-.3 1.1,1.2 1.1,0 1.1,.6 1.1-.9 1.1,1.1 1.1,.5 1.1,1 1.1,3 1.1,3.2 1.1,2.1 1.1,2.7 1.1,2.6 1.1,2.5 1.1,3.8 1.1,2.3 1.1,1.7 1.1,.6 1.1-2.2 1.1-2.5 1.1-1.8 1.1-2.2 1.1-2 1.1-2 1.1-.6 1.1-1.7 1.1-1.8 1.1,0 1.1-2.1 1.1-.5 1.1-3.1 1.1-1.7 1.1-2.1 1.1-1.8 1.1-1.4 1.1,.7 1.1-.1 1.1-1.5 1.1-2.1 1.1-1.6 1.1-.7 1.1-.2 1.1,.9 1.1,1.3 1.1,.2 1.1-.4 1.1-2.2 1.1-.4 1.1-.4 1.1,.2 1.1-.9 1.1,.6 1.1,.3 1.1,.1 1.1,.2 1.1,1.3 1.1,.5 1.1,.7 1.1,1 1.1-.2 1.1-.5 1.1-.5 1.1,1.1 1.1-.3 1.1-1.1 1.1,.1 1.1-.6 1.1,1.2 1.1-.1 1.1,1.2 1.1,1.8 1.1-.7 1.1,.2 1.1-1.5 1.1-1.3 1.1-.7 1.1-1.1 1.1,2 1.1,.4 1.1,1.5 M574.2,381.6l 1.1-.4 1.1-1.5 1.1,.4 1.1,.3 1.1,.2 1.1,.8 1.1-.2 1.1,.1 1.1,.8 1.1-.7 1.1,1.2 1.1-1 1.1,2 1.1-.9 1.1,.7 1.1-.2 1.1,.3 1.1,1.7 1.1,1.4 1.1,1.4 1.1,1.2 1.1,1.4 1.1,.3 1.1-.1 1.1,1.3 1.1,.5 1.1,2.1 1.1,1.9 1.1,2.4 1.1,1.9 1.1,2.2 1.1,1.9 1.1,.7 1.1-2.2 1.1-1.3 1.1-.8 1.1-1.3 1.1-1.6 1.1,0 1.1-1.1 1.1-2.3 1.1-.7 1.1-2 1.1-.6 1.1-2.1 1.1-1.7 1.1-1.5 1.1-2.3 1.1,.7 1.1-1.6 1.1-1.2 1.1,0 1.1,1 1.1-.4 1.1,0 1.1,.4 1.1-1 1.1-.1 1.1,.2 1.1-.9 1.1,.9 1.1,.6 1.1-.1 1.1,.6 1.1,1.1 1.1,.6 1.1,.5 1.1,.6 1.1,0 1.1-1.7 1.1-1.5 1.1-.7 1.1-.3 1.1-1.5 1.1,.3 1.1-.5 1.1,.1 1.1-.2 1.1,1 1.1,.3 1.1-.1 1.1,1.4 1.1-1 1.1,0 1.1-.6 1.1-1.3 1.1-1.1 1.1,.1 1.1,.6 1.1,.1 1.1,1.6 1.1,.4 1.1,.4 1.1,1.8 1.1,.7 M574.2,376l 1.1,.8 1.1,.2 1.1-.6 1.1,.4 1.1,.2 1.1,.7 1.1,.3 1.1,1.4 1.1-.6 1.1-.4 1.1,.8 1.1-.4 1.1,.3 1.1,.9 1.1,.5 1.1,1.4 1.1,1.3 1.1-.2 1.1,1.9 1.1,.1 1.1,0 1.1,0 1.1-.6 1.1,1.5 1.1,2.7 1.1,3.5 1.1,2.2 1.1,2.5 1.1,1.9 1.1,1.2 1.1,2.8 1.1,2.5 1.1,.1 1.1-1.8 1.1-1.8 1.1-.9 1.1-2.3 1.1-1 1.1-1.8 1.1-1.5 1.1-2 1.1-2.8 1.1-.3 1.1-1.7 1.1-1.3 1.1-.7 1.1-.5 1.1-1.6 1.1-1.7 1.1-1.3 1.1-1.4 1.1-1.7 1.1-1.5 1.1,1.3 1.1-1.2 1.1,2.3 1.1-1.6 1.1,1 1.1,0 1.1,.6 1.1,1.1 1.1,1.2 1.1-1.5 1.1-.8 1.1-.2 1.1-.2 1.1,.1 1.1,0 1.1,2.6 1.1-.3 1.1,1 1.1-1 1.1-.5 1.1-.6 1.1,2 1.1-.7 1.1,.9 1.1,.1 1.1-1.2 1.1-2.6 1.1,.1 1.1-.8 1.1,.4 1.1,.5 1.1-.3 1.1-1.7 1.1,.5 1.1-.7 1.1-.2 1.1,.4 1.1,.6 1.1,2 1.1,.4 1.1,1.2 1.1,1.3 M574.2,351.4l 1.1-.3 1.1,.9 1.1,.3 1.1,2.2 1.1,.8 1.1,1.8 1.1,.4 1.1,.1 1.1,.6 1.1,2.2 1.1,1.5 1.1,.1 1.1,.8 1.1-.7 1.1-1.2 1.1-.8 1.1,.7 1.1,1.7 1.1,.5 1.1,2.3 1.1,1.9 1.1,1.4 1.1,1.3 1.1,2.2 1.1,2.3 1.1,1.6 1.1,2 1.1,3.3 1.1,2.4 1.1,2.6 1.1,1.4 1.1,3.3 1.1-.8 1.1-.6 1.1-1.8 1.1-1.4 1.1-1.3 1.1-1.5 1.1-1.8 1.1-1.6 1.1-2.7 1.1-1.1 1.1-.7 1.1-2.2 1.1-.6 1.1-1.1 1.1-2.3 1.1-1.4 1.1-2.1 1.1-1.3 1.1-1.5 1.1,0 1.1-.8 1.1-.9 1.1,.4 1.1-1.1 1.1-.8 1.1-1.4 1.1,.3 1.1,.6 1.1,0 1.1-1.6 1.1,.1 1.1-1.3 1.1-.3 1.1-.7 1.1,0 1.1,.1 1.1,.9 1.1,0 1.1,2.3 1.1,.5 1.1,0 1.1,1.4 1.1,2.8 1.1-1.4 1.1,.7 1.1-1.4 1.1,1.1 1.1-3.2 1.1,1 1.1-1.1 1.1-.7 1.1-.2 1.1-.5 1.1-.9 1.1,.9 1.1,.2 1.1-1.7 1.1,.1 1.1,0 1.1-1.3 1.1,.7 1.1-.3 1.1,1.4 M574.2,370l 1.1,.2 1.1,1.3 1.1-1.6 1.1,.5 1.1-.5 1.1,.6 1.1,1.7 1.1,.2 1.1,1.6 1.1-.5 1.1,.7 1.1-1 1.1,.9 1.1,0 1.1,.6 1.1,.2 1.1-.1 1.1,1.5 1.1,2.2 1.1,2.5 1.1,2 1.1,.9 1.1,2.5 1.1-.5 1.1,1.9 1.1,.6 1.1,1.7 1.1,3.7 1.1,2.2 1.1,3.4 1.1,2.2 1.1,2.7 1.1-1.9 1.1-1.5 1.1-2.2 1.1-2.9 1.1-2.3 1.1-1.6 1.1-2.1 1.1-2.5 1.1,.6 1.1-.4 1.1-.2 1.1-.6 1.1-.2 1.1-.7 1.1-1.3 1.1-1.2 1.1-1 1.1-1 1.1-1.6 1.1-3.2 1.1,1.3 1.1-2 1.1,2 1.1-1 1.1,.2 1.1-.2 1.1,.3 1.1-.1 1.1-.2 1.1-.1 1.1,.6 1.1-.8 1.1-.4 1.1,1 1.1,1.6 1.1,.7 1.1,.8 1.1,1.3 1.1,.1 1.1-2.4 1.1-.2 1.1-2.3 1.1,.3 1.1-.6 1.1,.4 1.1-1.2 1.1-.1 1.1-.6 1.1-1.1 1.1,1.2 1.1-2.6 1.1,.4 1.1,.1 1.1-.3 1.1,.4 1.1-.8 1.1,1.8 1.1-.8 1.1,2.6 1.1-.8 1.1-.9 1.1,.9 1.1-1.4 M574.2,375.5l 1.1-.1 1.1,.6 1.1-.7 1.1,.6 1.1-1.3 1.1-.5 1.1,1.7 1.1,2.7 1.1,1.8 1.1,1 1.1-.7 1.1,.3 1.1-1.3 1.1-1 1.1,1.2 1.1,.7 1.1,1.5 1.1,1.8 1.1,.7 1.1-.4 1.1,1.5 1.1-.8 1.1,1.1 1.1,.3 1.1,1.5 1.1,2.1 1.1,2 1.1,3.1 1.1,2.9 1.1,1.9 1.1,3 1.1,1.6 1.1-1 1.1-2.9 1.1-2.9 1.1-1.9 1.1-1.6 1.1-.3 1.1,.3 1.1,.7 1.1-.2 1.1-.4 1.1-2.3 1.1-1.7 1.1-1.9 1.1-.9 1.1-1.2 1.1-3.6 1.1-1.9 1.1-1.6 1.1-.1 1.1-.2 1.1-.2 1.1-.3 1.1-.1 1.1-.3 1.1,.6 1.1-1.6 1.1,.4 1.1-.5 1.1,.8 1.1,.7 1.1,2.1 1.1-1.1 1.1,.6 1.1-.2 1.1,.4 1.1-.3 1.1-.4 1.1,.6 1.1,.1 1.1,.2 1.1,.2 1.1,1 1.1,0 1.1,.1 1.1,.1 1.1-.4 1.1,.4 1.1,.5 1.1-.1 1.1,.7 1.1-1.5 1.1,.2 1.1-1.7 1.1-1.2 1.1-.6 1.1-.6 1.1,.2 1.1-1 1.1,0 1.1,1.3 1.1,1.9 1.1,.5 1.1,3.1 M574.2,355.4l 1.1-1 1.1,.9 1.1,.8 1.1,.8 1.1,.2 1.1,.2 1.1,1 1.1,0 1.1,.8 1.1,1.7 1.1,1 1.1,.9 1.1,1.3 1.1,1.2 1.1,.5 1.1,1.8 1.1,2 1.1,0 1.1,.9 1.1,1.4 1.1,0 1.1,1.9 1.1,1 1.1,2.5 1.1,2.1 1.1,1.9 1.1,2.7 1.1,1.6 1.1,1.7 1.1,1.6 1.1,2.1 1.1,.4 1.1,1 1.1-3.7 1.1-1.6 1.1-2.7 1.1-2 1.1-.7 1.1-.4 1.1-.6 1.1-.3 1.1-1.3 1.1-2.5 1.1-1.6 1.1-1.7 1.1-1.9 1.1-1.4 1.1-.3 1.1-1.9 1.1-.7 1.1-1.1 1.1,.3 1.1-1.4 1.1,.6 1.1-2.1 1.1-1.3 1.1-.8 1.1-.1 1.1-.5 1.1,.7 1.1-.5 1.1,.3 1.1,.8 1.1-.2 1.1,1.3 1.1,.4 1.1-.4 1.1-.7 1.1-.4 1.1-.4 1.1-.1 1.1,.5 1.1,.6 1.1,1.8 1.1-.4 1.1,1.2 1.1-.4 1.1,.4 1.1,.5 1.1,.1 1.1-.9 1.1,1.2 1.1-1.2 1.1-.2 1.1-.7 1.1-.8 1.1-1.5 1.1-.1 1.1-2.4 1.1-1.7 1.1,.9 1.1-1.1 1.1,.7 1.1-.1 1.1,1.1 M574.2,347.6l 1.1-1.2 1.1-.6 1.1,1.6 1.1,.4 1.1,1.9 1.1,1.8 1.1-.4 1.1,.7 1.1-.5 1.1,.8 1.1,.9 1.1,0 1.1,.5 1.1,0 1.1,0 1.1,.9 1.1,2.1 1.1,1 1.1,1.5 1.1,3.3 1.1,2.6 1.1,2.9 1.1,1.9 1.1,.9 1.1,2.5 1.1,.4 1.1,2.3 1.1,2.1 1.1,.6 1.1,3 1.1,2.3 1.1,2.9 1.1,1.3 1.1-1.6 1.1-2.7 1.1-2.5 1.1-2.1 1.1-1.6 1.1-.9 1.1-1.7 1.1-2.3 1.1,.6 1.1-1.7 1.1,.4 1.1-2.4 1.1-2.9 1.1-2.9 1.1-3.1 1.1-2.1 1.1-.6 1.1-1.5 1.1-.3 1.1-1.4 1.1-.6 1.1,.5 1.1-.6 1.1-.1 1.1,.6 1.1-1.4 1.1,0 1.1-.2 1.1,.2 1.1,0 1.1,.8 1.1,.6 1.1,1.4 1.1-.3 1.1-.9 1.1,.2 1.1,1.4 1.1-1 1.1-.5 1.1-.2 1.1-.2 1.1-.3 1.1,.3 1.1-.1 1.1,1.7 1.1-.4 1.1-.1 1.1,.2 1.1-.6 1.1,.6 1.1,.1 1.1-1.9 1.1,.3 1.1,.8 1.1-.9 1.1-.5 1.1-.4 1.1,1.1 1.1-.4 1.1,.7 1.1-1 1.1,1 M574.2,348.1l 1.1-1.3 1.1-.1 1.1-.5 1.1,1.6 1.1,1.6 1.1,.8 1.1,2 1.1-.8 1.1,.7 1.1,.3 1.1,1.3 1.1-.7 1.1,.6 1.1,1 1.1,.9 1.1,.7 1.1,1.7 1.1,1.7 1.1,2.7 1.1,2.7 1.1,1.1 1.1,2.9 1.1,1 1.1,1.5 1.1,1.6 1.1,2.4 1.1,1.3 1.1,.8 1.1,1.4 1.1,2.4 1.1,1.6 1.1,2.6 1.1,1.4 1.1-2.1 1.1-1.9 1.1-3.3 1.1-.6 1.1-2.6 1.1-1.4 1.1-1.2 1.1-.1 1.1-1.2 1.1-2.3 1.1-1 1.1-1.1 1.1,0 1.1-2 1.1-.9 1.1-2.7 1.1-1.7 1.1-2.6 1.1-1.3 1.1-1.3 1.1,.4 1.1-.5 1.1-1.2 1.1-1 1.1-.2 1.1-1 1.1-.5 1.1-.1 1.1,1.8 1.1,.6 1.1,.3 1.1,.2 1.1-1.7 1.1-.5 1.1-1.4 1.1,.2 1.1,2 1.1,.1 1.1,.3 1.1-.5 1.1-.4 1.1,.9 1.1,1.3 1.1-.5 1.1,1.1 1.1,.3 1.1,.1 1.1-1.2 1.1-1.1 1.1-.7 1.1-1.7 1.1,.5 1.1,1.6 1.1,.6 1.1,.9 1.1,1.5 1.1,.4 1.1-.2 1.1,1.1 1.1-.2 1.1,.1 1.1,.3 M574.2,376.4l 1.1-.8 1.1,0 1.1-.6 1.1,.3 1.1,.3 1.1,0 1.1-.2 1.1,.9 1.1,1.3 1.1,.5 1.1,.3 1.1,1.6 1.1,1 1.1,0 1.1-.4 1.1-.2 1.1,1.6 1.1,.1 1.1,2 1.1-.4 1.1,.7 1.1,.2 1.1,1.5 1.1,1.9 1.1,1.2 1.1,1.9 1.1,1.4 1.1,2.7 1.1,.8 1.1,3.4 1.1,2.6 1.1,1.4 1.1,.9 1.1-2 1.1-2.8 1.1-1.4 1.1-1.2 1.1-1.9 1.1-.9 1.1-2.4 1.1-3.1 1.1-2 1.1-2.2 1.1,.5 1.1-.2 1.1,0 1.1-.6 1.1-.4 1.1,0 1.1-1 1.1-1 1.1-.1 1.1-1.1 1.1-1.1 1.1,.2 1.1-.2 1.1-.5 1.1-.6 1.1-.2 1.1-1.2 1.1-.1 1.1,.3 1.1-1.3 1.1,1.1 1.1,2.9 1.1,1.3 1.1,2.8 1.1,1.5 1.1-.7 1.1-1.2 1.1-.4 1.1,.2 1.1-.7 1.1,.3 1.1-.5 1.1-1.5 1.1,.6 1.1-.2 1.1,.5 1.1-.4 1.1-.5 1.1-.3 1.1-.5 1.1-1.4 1.1-.8 1.1-1.1 1.1-.8 1.1-.5 1.1-.1 1.1,1.4 1.1,1.1 1.1,1 1.1,1 1.1,2.3 1.1,.2 M574.2,350.5l 1.1-.2 1.1,.7 1.1,.4 1.1-.6 1.1,.7 1.1,.3 1.1,.1 1.1,.8 1.1,1.5 1.1,1.6 1.1,0 1.1,.7 1.1-.6 1.1,1.9 1.1,.3 1.1,.9 1.1,2.1 1.1,2.3 1.1,.9 1.1,1.5 1.1,1.1 1.1,2 1.1,1.3 1.1,.9 1.1,1.4 1.1,1.7 1.1,.1 1.1,1.6 1.1,2.6 1.1,.3 1.1,3.8 1.1,2.7 1.1-.7 1.1-.5 1.1-.3 1.1-1.2 1.1-3.1 1.1-1.3 1.1-1.4 1.1-.6 1.1,.4 1.1-2.5 1.1-.2 1.1-1.6 1.1-2.9 1.1-1.6 1.1-.5 1.1-.5 1.1-1.6 1.1-.6 1.1-1.1 1.1-1.2 1.1-3.1 1.1-1.7 1.1-1.3 1.1-.4 1.1-.1 1.1,.6 1.1,0 1.1-.6 1.1-.8 1.1-.4 1.1-.2 1.1,.6 1.1,.3 1.1,.3 1.1-.2 1.1,0 1.1-.5 1.1-.1 1.1,0 1.1,.1 1.1-.8 1.1,.9 1.1-.5 1.1,.7 1.1,.8 1.1,.2 1.1-.8 1.1,.6 1.1-1.3 1.1,.2 1.1,0 1.1-1.3 1.1-.2 1.1-.5 1.1,2 1.1,.1 1.1-.2 1.1,1.7 1.1-1.2 1.1-.3 1.1,1.1 1.1-1 1.1-1.5 M574.2,377.3l 1.1-.1 1.1,.3 1.1,.3 1.1,.5 1.1-.6 1.1-.8 1.1,1.5 1.1,0 1.1,.6 1.1,.2 1.1-.3 1.1,1.1 1.1,.2 1.1,.9 1.1,.5 1.1,1.6 1.1,.4 1.1,1.7 1.1,.7 1.1,.1 1.1,2 1.1,1.3 1.1,.6 1.1,1 1.1,2.8 1.1,.8 1.1,.5 1.1,1.9 1.1,.9 1.1,2 1.1,.7 1.1,1.7 1.1,0 1.1-1.5 1.1-1.9 1.1-1.2 1.1-.4 1.1-.7 1.1-.1 1.1-1.5 1.1-.9 1.1-1.7 1.1,.5 1.1-.9 1.1-1.3 1.1,.3 1.1-1.9 1.1-.5 1.1-.7 1.1-2.8 1.1-1.7 1.1-.3 1.1-2.2 1.1,.7 1.1-1.2 1.1,.5 1.1,1.8 1.1,.1 1.1-.5 1.1-.4 1.1-1.4 1.1,.2 1.1-.7 1.1,2.4 1.1,.2 1.1-.3 1.1,.8 1.1,.8 1.1-.9 1.1-.8 1.1-1.1 1.1-.6 1.1-.2 1.1,1.8 1.1,.6 1.1,1.3 1.1,.2 1.1,.1 1.1,.1 1.1-.1 1.1-.3 1.1-.4 1.1-1.6 1.1-.6 1.1-.8 1.1-1.6 1.1,.4 1.1-.1 1.1,.4 1.1,.1 1.1-.2 1.1-.2 1.1-.8 1.1,2 1.1,1.8 M574.2,368.7l 1.1-2 1.1-.3 1.1,.9 1.1,1.7 1.1,.2 1.1,.8 1.1-.2 1.1,.8 1.1-.4 1.1,1.5 1.1-.2 1.1,1.1 1.1,.3 1.1-.5 1.1,1 1.1,.1 1.1,1.9 1.1,2.2 1.1,1.3 1.1,1.2 1.1,.4 1.1,.3 1.1,.3 1.1,.3 1.1,.4 1.1,2.7 1.1,1.2 1.1,3 1.1,3.6 1.1,2.4 1.1,2.8 1.1,2.2 1.1,.2 1.1-1.1 1.1-1.8 1.1-1.9 1.1-2.6 1.1-2.1 1.1-.6 1.1-2.1 1.1-1.6 1.1-1.3 1.1,.2 1.1-.1 1.1-1.6 1.1-1.1 1.1-.9 1.1-1.5 1.1-2 1.1,.1 1.1-.4 1.1-.8 1.1,.2 1.1-1.6 1.1-.5 1.1,1.1 1.1-.2 1.1,.9 1.1-.4 1.1,.3 1.1-.4 1.1,.7 1.1-1.4 1.1-.6 1.1,0 1.1-.1 1.1,.3 1.1,.6 1.1,.1 1.1-.5 1.1-.3 1.1-1.8 1.1,.8 1.1-.1 1.1,1 1.1,.1 1.1-.2 1.1,1.3 1.1-.1 1.1,1.1 1.1,0 1.1-.1 1.1-.3 1.1-.4 1.1-1.1 1.1-1.2 1.1-.3 1.1,.3 1.1-.7 1.1,.3 1.1-1.3 1.1-1.2 1.1-.9 1.1,1.3 1.1-.7 M574.2,353.6l 1.1,1.1 1.1,1.1 1.1,.3 1.1,1.2 1.1,.6 1.1,.3 1.1,.2 1.1-1.1 1.1,1.4 1.1,1.6 1.1-.1 1.1,2.4 1.1,.8 1.1,1.7 1.1,.5 1.1,.1 1.1,2.5 1.1,.8 1.1,2.8 1.1,3.2 1.1,2.8 1.1,.6 1.1,2.1 1.1-.2 1.1-.2 1.1,.3 1.1,3 1.1,.5 1.1,2.1 1.1,2.7 1.1,2.2 1.1,3.5 1.1-2.8 1.1-1 1.1-2.2 1.1-1.2 1.1-.2 1.1-1.9 1.1-.8 1.1-2.7 1.1-1.4 1.1-3.6 1.1-.9 1.1,0 1.1-1.5 1.1-1.2 1.1-.6 1.1-1.6 1.1-1.3 1.1-1.3 1.1-2.1 1.1-.1 1.1,0 1.1-.6 1.1-.4 1.1,1.5 1.1-2 1.1-.4 1.1,.3 1.1-1.6 1.1-1 1.1,.2 1.1,.2 1.1,.4 1.1,1.4 1.1,1.3 1.1,1.9 1.1,1.4 1.1,.5 1.1-1.1 1.1,.4 1.1,.5 1.1-2.4 1.1,1.1 1.1,.3 1.1,.2 1.1-1 1.1,2.5 1.1,.3 1.1-.7 1.1-.3 1.1-1.4 1.1-2.1 1.1-1.7 1.1-.4 1.1,.9 1.1-.4 1.1,.2 1.1,.6 1.1-.8 1.1-.5 1.1-.5 1.1-1.5 1.1-.5 1.1,.1 M574.2,376.8l 1.1,1 1.1,2.3 1.1,1.9 1.1,1.4 1.1,.4 1.1,.4 1.1-1.3 1.1-.3 1.1-3.2 1.1,.7 1.1-.5 1.1,1.1 1.1,.8 1.1,1.6 1.1,1.2 1.1,1.1 1.1-.2 1.1,.7 1.1-.6 1.1,1 1.1-.3 1.1,1.4 1.1,1.1 1.1,.3 1.1,.7 1.1,.6 1.1,3.3 1.1,2.8 1.1,2.3 1.1,1.3 1.1,1.8 1.1,1.6 1.1,.9 1.1-2.1 1.1-1.9 1.1,.3 1.1-2.1 1.1-2.3 1.1-1.9 1.1-1.8 1.1,.3 1.1-1.3 1.1-1 1.1,0 1.1-3.9 1.1-1.7 1.1-.3 1.1,.3 1.1-.4 1.1-.3 1.1-1.3 1.1,0 1.1-1.3 1.1-.8 1.1-1.4 1.1-.7 1.1,1.3 1.1-.4 1.1,.3 1.1,.1 1.1,1 1.1,.5 1.1,1.4 1.1,1 1.1-.1 1.1,1 1.1,.3 1.1-.8 1.1-.2 1.1-.6 1.1-.9 1.1-.8 1.1,1.1 1.1-.6 1.1,1.6 1.1-.8 1.1-.6 1.1,.3 1.1-.1 1.1,1.6 1.1-.4 1.1-.1 1.1-.3 1.1-.5 1.1-1.4 1.1,0 1.1-.7 1.1,.3 1.1-.1 1.1-.3 1.1,.5 1.1,1.1 1.1,.6 1.1,1.7 1.1,2 M574.2,354.1l 1.1,.6 1.1,1.3 1.1,2.1 1.1-.1 1.1,1 1.1-1.3 1.1-.7 1.1,0 1.1-.4 1.1,.5 1.1,.3 1.1-.3 1.1,3.2 1.1,.4 1.1,2.3 1.1,2.3 1.1,2 1.1,2.2 1.1,1.3 1.1,1.2 1.1,.4 1.1,1 1.1,2.9 1.1,2.2 1.1,2 1.1,2.2 1.1,.5 1.1,2.3 1.1,.3 1.1,2.7 1.1,2.5 1.1,1.7 1.1-1.4 1.1-3.2 1.1-1.3 1.1-3 1.1-.9 1.1-.7 1.1-2 1.1-.5 1.1-1.8 1.1-1.9 1.1-1.8 1.1-.5 1.1,.5 1.1-.7 1.1,.3 1.1-.1 1.1-1.6 1.1-.8 1.1-.9 1.1-2.4 1.1-2.5 1.1-1.6 1.1-.1 1.1-1 1.1-.1 1.1-1.2 1.1,0 1.1-.7 1.1-1.2 1.1,1.3 1.1-1.3 1.1,.6 1.1,.4 1.1,.9 1.1,0 1.1,.5 1.1,.5 1.1,.6 1.1,1.4 1.1,.8 1.1,1.3 1.1,.7 1.1-.3 1.1-1.4 1.1-.7 1.1-1.6 1.1,.5 1.1,0 1.1-.3 1.1,.5 1.1-.7 1.1,.2 1.1-1.6 1.1,.2 1.1-1.1 1.1,.1 1.1,2 1.1-1 1.1,.1 1.1-.1 1.1-1.1 1.1-1.5 1.1-1.5 M574.2,376.8l 1.1,0 1.1,.6 1.1,.3 1.1,.7 1.1,1.1 1.1,1 1.1,.5 1.1,.1 1.1,.4 1.1-.5 1.1,1.9 1.1-.7 1.1,.9 1.1,.2 1.1,0 1.1,1.2 1.1,1.5 1.1,1.1 1.1,.3 1.1,.5 1.1-1.9 1.1,0 1.1-.8 1.1,0 1.1,2 1.1,2 1.1,2.8 1.1,2.7 1.1,3 1.1,3.2 1.1,2.2 1.1,2.1 1.1,1.1 1.1-3.8 1.1-1.9 1.1-3.2 1.1-3.1 1.1-.9 1.1,1 1.1-1.3 1.1,0 1.1-1.4 1.1,.2 1.1-1.8 1.1-2.1 1.1,0 1.1-1.9 1.1,.2 1.1-1.9 1.1-.3 1.1-.8 1.1-1.1 1.1-1.3 1.1,0 1.1-1.9 1.1-1.7 1.1-.1 1.1-.2 1.1,1.2 1.1,.4 1.1,.9 1.1,1.6 1.1,1.4 1.1,.2 1.1-1.1 1.1,.2 1.1-1.1 1.1-.9 1.1,1.8 1.1,1.1 1.1-.6 1.1,.3 1.1-.8 1.1,1.4 1.1-.4 1.1,.6 1.1,.3 1.1-1.3 1.1-.7 1.1-.3 1.1-.3 1.1,.2 1.1,.3 1.1-1.4 1.1-.8 1.1-.4 1.1-1.3 1.1-.8 1.1,.6 1.1,1.1 1.1-1.1 1.1,1.8 1.1,1.3 1.1,1.1 1.1,1.3 M574.2,371.4l 1.1,.3 1.1,.4 1.1,1 1.1,.2 1.1,.6 1.1,2.3 1.1,.2 1.1,.2 1.1-.1 1.1,.2 1.1,1.1 1.1,.2 1.1,.3 1.1,1.1 1.1,2 1.1,1 1.1,0 1.1,2.5 1.1,.1 1.1-1.2 1.1-.8 1.1,1.5 1.1-.7 1.1,1.1 1.1,2.6 1.1,1.4 1.1,3.1 1.1,2.4 1.1,1 1.1,1.7 1.1,1.7 1.1,1.5 1.1,.1 1.1-1.1 1.1-1.2 1.1,.3 1.1-.4 1.1,.5 1.1-3.5 1.1-1.3 1.1-2.2 1.1-1.4 1.1-1.1 1.1-.5 1.1-.8 1.1-.4 1.1-2 1.1-1.2 1.1-.8 1.1-.1 1.1-1.5 1.1-1.7 1.1,.7 1.1-.6 1.1-.7 1.1,.7 1.1-.6 1.1,.2 1.1,0 1.1-1.1 1.1-.6 1.1-.1 1.1,1 1.1-.3 1.1-.7 1.1-.9 1.1-.1 1.1-.8 1.1,1.8 1.1,1 1.1,1.7 1.1,1.9 1.1-.7 1.1-.2 1.1-.2 1.1-2 1.1-.4 1.1-1.7 1.1-.3 1.1,.6 1.1-.6 1.1-.4 1.1,.9 1.1,.7 1.1-.1 1.1,.2 1.1-.9 1.1-.5 1.1-.9 1.1,.2 1.1-.6 1.1-.6 1.1-.8 1.1,.5 1.1-.7 M574.2,357.1l 1.1,1.2 1.1,1.9 1.1-.7 1.1-.2 1.1,.8 1.1,1.3 1.1-1.1 1.1,1.1 1.1,1.6 1.1,.5 1.1,.1 1.1,.5 1.1,2.4 1.1,.6 1.1,.2 1.1,.8 1.1,1.6 1.1,1.4 1.1,1.4 1.1,2.2 1.1,1.5 1.1,1.6 1.1,2.6 1.1,1.9 1.1,1.9 1.1,2.2 1.1,3.1 1.1,1.3 1.1,2.4 1.1,2.5 1.1,2 1.1,1.5 1.1-1 1.1-1.7 1.1-2.2 1.1-3 1.1-1 1.1-3.5 1.1,.1 1.1-2.4 1.1-1 1.1-.8 1.1-1 1.1,1.2 1.1-2.3 1.1-1.3 1.1-1.5 1.1-3.3 1.1-2.2 1.1-1.4 1.1-1.3 1.1-.4 1.1-1.7 1.1-.4 1.1-1.4 1.1-.5 1.1,1 1.1-.4 1.1,.8 1.1,.7 1.1,.7 1.1,1.8 1.1-.2 1.1,.8 1.1-.9 1.1-.8 1.1,1 1.1,.2 1.1,.8 1.1-.4 1.1,1 1.1,2.1 1.1,1.1 1.1-1.1 1.1,.3 1.1-.3 1.1-1 1.1,1.2 1.1-1.8 1.1-1.3 1.1-.9 1.1-.7 1.1-1.4 1.1-1.4 1.1,.5 1.1-1.2 1.1,.4 1.1,.4 1.1,.2 1.1-1.1 1.1-.6 1.1,.4 1.1-.6 1.1,1.1 1.1-.4 M574.2,373l 1.1,2.3 1.1,.2 1.1,.5 1.1-1.6 1.1-.4 1.1-.5 1.1,.1 1.1,2.5 1.1,1.3 1.1,2 1.1,1.2 1.1,1.3 1.1-.3 1.1-1.5 1.1,1.1 1.1-.2 1.1,.7 1.1,.4 1.1,1.1 1.1,.5 1.1,2.2 1.1,0 1.1,0 1.1,.6 1.1,.1 1.1,.7 1.1,2.9 1.1,2.6 1.1,.6 1.1,2.4 1.1,2 1.1,4.3 1.1,0 1.1-2.1 1.1-1.9 1.1-2.2 1.1-2.1 1.1-1.5 1.1-.2 1.1,.4 1.1,.3 1.1-1.2 1.1-.9 1.1-.9 1.1-1.6 1.1-.4 1.1-.6 1.1-1.3 1.1-.7 1.1-1.5 1.1-1.7 1.1-1.2 1.1-1.3 1.1-2.2 1.1-.7 1.1,.8 1.1-1.1 1.1,.3 1.1,.5 1.1,.1 1.1,.9 1.1,0 1.1,.3 1.1-.8 1.1-.3 1.1,0 1.1,1.4 1.1,.3 1.1,1.6 1.1,1 1.1,.2 1.1,1.9 1.1-.6 1.1-1.4 1.1-1.1 1.1-1.9 1.1-.8 1.1-.5 1.1-.9 1.1,.9 1.1,.3 1.1-.4 1.1-1.1 1.1,.3 1.1-.8 1.1-.4 1.1-1.4 1.1-.5 1.1,1.5 1.1-.6 1.1,1.2 1.1,1.6 1.1,.1 1.1-.1 1.1,.9 M574.2,375.1l 1.1-1.3 1.1,.7 1.1,.1 1.1,1 1.1,.6 1.1,.5 1.1-.3 1.1,.5 1.1,.2 1.1-.4 1.1,1.3 1.1,0 1.1,.5 1.1,1.1 1.1,1.2 1.1-.3 1.1-.4 1.1,2.6 1.1,1.4 1.1,.6 1.1,.1 1.1,2.2 1.1,.4 1.1,3.2 1.1,2.5 1.1,.2 1.1,1.2 1.1,1.7 1.1,.9 1.1,1.6 1.1,2.2 1.1,1.1 1.1,1.7 1.1-2.5 1.1-1.3 1.1-2.4 1.1-1.7 1.1-1.3 1.1-.9 1.1-.1 1.1-.2 1.1-1.2 1.1-2.4 1.1-2.1 1.1-3.8 1.1,.2 1.1-2.2 1.1,1 1.1,0 1.1,.5 1.1,.2 1.1-.7 1.1,.5 1.1-1.2 1.1-1.2 1.1-.9 1.1-.9 1.1-1 1.1-.9 1.1,.2 1.1-.2 1.1,.5 1.1,1 1.1,1.3 1.1,.5 1.1,.6 1.1-.1 1.1,.8 1.1-.6 1.1-.8 1.1-.4 1.1-1.5 1.1-.1 1.1-.9 1.1,.3 1.1,1.7 1.1,.2 1.1,.9 1.1,0 1.1-1.1 1.1-.4 1.1,.2 1.1-.3 1.1,.7 1.1-.5 1.1,.3 1.1-.4 1.1-.9 1.1,.3 1.1,.5 1.1,.6 1.1,1.5 1.1,1.6 1.1,1.2 1.1,.5 M574.2,348.4l 1.1,.3 1.1,.8 1.1,.9 1.1,1.4 1.1-1.1 1.1,.2 1.1-.6 1.1,.2 1.1,.2 1.1-.3 1.1,.5 1.1,.3 1.1,.4 1.1,1.8 1.1,1.2 1.1,1.4 1.1,2.1 1.1,1.5 1.1,1.2 1.1-.3 1.1,1.4 1.1,.7 1.1-.1 1.1,2 1.1,.9 1.1,3.3 1.1,1.8 1.1,3 1.1,2 1.1,2.7 1.1,3.2 1.1,2.9 1.1,2 1.1-2.4 1.1-1.3 1.1-.9 1.1-1 1.1-1.9 1.1-1.1 1.1-1.3 1.1-1.1 1.1-1 1.1-2.9 1.1-1.7 1.1-3.2 1.1-3.5 1.1-1.5 1.1-1.3 1.1-2.3 1.1-.6 1.1-.6 1.1-.4 1.1-.3 1.1-.6 1.1-1.4 1.1,.7 1.1-2.3 1.1-.7 1.1-.3 1.1-.5 1.1,.1 1.1-.4 1.1-.2 1.1-.6 1.1-1.3 1.1,.3 1.1-1.2 1.1-.6 1.1-1 1.1-.1 1.1,.1 1.1-1 1.1,1.3 1.1-.6 1.1,1.8 1.1,2.4 1.1,0 1.1-.3 1.1,0 1.1,.7 1.1-.3 1.1,.9 1.1,0 1.1-.1 1.1,.3 1.1-2.5 1.1,.1 1.1,.7 1.1,1.1 1.1,0 1.1,.4 1.1-.2 1.1-.5 1.1-.2 1.1-.3 M574.2,349.5l 1.1,2.5 1.1,2.2 1.1-.1 1.1-1.3 1.1-1.4 1.1-1.4 1.1-.2 1.1,1.4 1.1,1.8 1.1,2.2 1.1,1.1 1.1,2.1 1.1-.3 1.1-1.1 1.1,1.9 1.1,1 1.1,2 1.1-.3 1.1,2.2 1.1,.4 1.1,2 1.1,1.7 1.1,.2 1.1,2.5 1.1,3.3 1.1,2.9 1.1,3.4 1.1,1.9 1.1,1.2 1.1-.1 1.1,2.8 1.1,2.5 1.1-.5 1.1-2.4 1.1-1.2 1.1-3 1.1-2.6 1.1-2.8 1.1-2.3 1.1-1 1.1-.7 1.1-2.2 1.1-1.4 1.1,0 1.1-1.2 1.1-1.4 1.1-1.1 1.1-2 1.1-.7 1.1-.3 1.1-2.4 1.1-.4 1.1,.1 1.1-.8 1.1,1.4 1.1-.6 1.1-1.6 1.1-1.3 1.1-.6 1.1,.2 1.1-.7 1.1-.2 1.1,.9 1.1,.2 1.1,.9 1.1-.8 1.1-.9 1.1-1 1.1,.3 1.1-.2 1.1,.6 1.1,1.7 1.1,2.3 1.1,.9 1.1,.3 1.1-1.1 1.1-.3 1.1-1.3 1.1,.4 1.1-1.2 1.1,.4 1.1,.5 1.1-.9 1.1-.6 1.1,.6 1.1-1.2 1.1-.1 1.1-.3 1.1-.3 1.1-.2 1.1,.1 1.1,2.2 1.1,1.2 1.1-.2 1.1-1.2 M574.2,348l 1.1,.8 1.1,.9 1.1-.1 1.1,.9 1.1,1 1.1,.8 1.1,.6 1.1,.4 1.1-.7 1.1,2.9 1.1-.8 1.1,2.5 1.1,1.2 1.1,2 1.1-.7 1.1,.6 1.1,1 1.1,1.7 1.1,1.6 1.1,2.8 1.1,.6 1.1,1.7 1.1,2.6 1.1,1.3 1.1,1.6 1.1,1.2 1.1,3.3 1.1,.9 1.1,2.6 1.1,2.7 1.1,2.2 1.1,1.5 1.1,.6 1.1-.5 1.1-2.5 1.1-1.5 1.1-.9 1.1-2.3 1.1-1.6 1.1-.3 1.1-.2 1.1-2.4 1.1-.9 1.1-2.6 1.1-.3 1.1-2.5 1.1-.5 1.1-2 1.1-.6 1.1-1 1.1-2.1 1.1-1 1.1,.1 1.1-3.2 1.1-2 1.1-2.2 1.1-1.2 1.1,.9 1.1,1.7 1.1,.5 1.1,.5 1.1-1.5 1.1,.1 1.1-.4 1.1-.3 1.1,.5 1.1,.7 1.1,1.4 1.1,1.7 1.1,.2 1.1,.8 1.1-1.5 1.1-.7 1.1-.2 1.1,0 1.1-.3 1.1,.4 1.1,1.1 1.1-.2 1.1,1 1.1-.6 1.1-2.4 1.1,.2 1.1-1.1 1.1-.5 1.1-.2 1.1-1.6 1.1,1.5 1.1-1.2 1.1,1.1 1.1,1.4 1.1,.2 1.1-.1 1.1-.4 1.1-.4 M574.2,373.8l 1.1-.4 1.1,.7 1.1,2.3 1.1,.6 1.1,.6 1.1,2.3 1.1-.1 1.1,1.4 1.1,.1 1.1-.2 1.1-.4 1.1,1.1 1.1,.2 1.1,.6 1.1,.2 1.1,2.2 1.1,1 1.1-.4 1.1,1 1.1,0 1.1,2.3 1.1,.1 1.1-.2 1.1,1.5 1.1,.8 1.1,2.2 1.1,1.8 1.1,2.3 1.1,1.9 1.1,1.2 1.1,2.6 1.1,1.7 1.1,1.5 1.1-3.4 1.1-2.4 1.1-2.1 1.1-1.4 1.1-1.8 1.1-1.4 1.1-1.4 1.1-1.8 1.1-1.1 1.1-2 1.1-.1 1.1-.3 1.1-.7 1.1,.4 1.1-.1 1.1-1.5 1.1-2.1 1.1-.7 1.1-2.4 1.1-2.2 1.1,.5 1.1-.8 1.1-.3 1.1,.6 1.1-1.4 1.1,.9 1.1,.7 1.1,1.2 1.1-.4 1.1,.9 1.1,.2 1.1-1 1.1,0 1.1,1.4 1.1,.9 1.1,.9 1.1,.4 1.1,.5 1.1-.7 1.1-.7 1.1,0 1.1-.5 1.1,1.3 1.1-1.5 1.1-.3 1.1,1.4 1.1-1.5 1.1-.7 1.1,.7 1.1,.2 1.1,1.3 1.1-.1 1.1-.7 1.1-1.1 1.1-.3 1.1-1.9 1.1-.9 1.1,.6 1.1,.6 1.1,.9 1.1-.2 1.1-.2 M574.2,346.2l 1.1-.5 1.1,.2 1.1,2.3 1.1,.8 1.1,1 1.1,1.8 1.1,.9 1.1,.2 1.1,1.3 1.1-1 1.1,1.1 1.1,1.1 1.1,1.1 1.1,1.3 1.1,1.4 1.1,1 1.1,.8 1.1,1.6 1.1,3.3 1.1,.6 1.1,2.7 1.1,1.4 1.1,2.4 1.1,1.3 1.1,1.8 1.1,1 1.1-.6 1.1,1.5 1.1,1.2 1.1,3.2 1.1,2.4 1.1,4.3 1.1,1.2 1.1-1.9 1.1-2.1 1.1-.7 1.1-4.1 1.1-2.9 1.1-1.7 1.1-2.1 1.1-2.2 1.1-1 1.1-.9 1.1-1.1 1.1-.9 1.1-2.5 1.1-1.2 1.1-.4 1.1-.8 1.1-2 1.1-.1 1.1-2.6 1.1-2.1 1.1,.6 1.1-.8 1.1-1.1 1.1-.3 1.1-1.8 1.1,1.4 1.1-.5 1.1-1.2 1.1,1 1.1,1 1.1-1.1 1.1,.5 1.1-1.1 1.1-.7 1.1-.8 1.1,.8 1.1,.2 1.1,1.8 1.1,.3 1.1-.1 1.1-.1 1.1,.5 1.1,.7 1.1-.3 1.1,.2 1.1,0 1.1-1.3 1.1,.2 1.1,1.2 1.1-.1 1.1,2.2 1.1,.3 1.1-.1 1.1-.6 1.1,.2 1.1-1.5 1.1-1.2 1.1-.5 1.1-.7 1.1,1.4 1.1-.2 1.1,1.4 M574.2,354.1l 1.1-.1 1.1-.1 1.1,.7 1.1,.7 1.1,.4 1.1,.2 1.1-.2 1.1,.8 1.1,.5 1.1,.7 1.1,.2 1.1,.4 1.1,.7 1.1,.5 1.1,.5 1.1,1.1 1.1,1.1 1.1,.9 1.1,2.1 1.1,1 1.1,1.2 1.1,1.4 1.1,0 1.1,3.9 1.1,3.2 1.1,1.8 1.1,2.2 1.1,1.3 1.1,1.5 1.1,.9 1.1,2.4 1.1,1.2 1.1,.2 1.1-2.1 1.1-2.8 1.1-1 1.1-1.9 1.1-1.8 1.1-.3 1.1,.1 1.1-.6 1.1-1.4 1.1-1.9 1.1-.5 1.1-.2 1.1-2 1.1-3 1.1-1.1 1.1-.8 1.1-1 1.1-1.4 1.1,.6 1.1-.9 1.1-1.8 1.1-.6 1.1-.5 1.1-.8 1.1,0 1.1-1 1.1-.6 1.1,.1 1.1,.1 1.1-.8 1.1-.2 1.1,.2 1.1-.7 1.1-1 1.1,1 1.1,.3 1.1,1.5 1.1,1.4 1.1-.3 1.1,.2 1.1-.2 1.1-1 1.1-.4 1.1-.2 1.1,1.1 1.1,1.2 1.1-.7 1.1-.1 1.1-1.5 1.1,.8 1.1-1.4 1.1-1.7 1.1,1 1.1-1 1.1,.2 1.1-.4 1.1,.7 1.1,.9 1.1-1.7 1.1-.6 1.1-.6 1.1-.6 M574.2,353.1l 1.1,.4 1.1,.8 1.1,.7 1.1,1 1.1,.4 1.1-.3 1.1-.2 1.1,0 1.1,0 1.1,.2 1.1,1.9 1.1,1.3 1.1,2 1.1,1.8 1.1,1.4 1.1,.7 1.1,.3 1.1,2.4 1.1,.4 1.1,1.2 1.1,1.1 1.1,.9 1.1,2.4 1.1,1.3 1.1,3.2 1.1,1.9 1.1,1.5 1.1,2.1 1.1,3.1 1.1,2.9 1.1,1.6 1.1,2.4 1.1-1.2 1.1-1.8 1.1-3.7 1.1-1.1 1.1-2.3 1.1-2.6 1.1-.6 1.1-2.3 1.1-2.1 1.1-1.2 1.1-1.1 1.1-.3 1.1,0 1.1,.5 1.1-.2 1.1-2.4 1.1-1 1.1-2.4 1.1-1.9 1.1-2.3 1.1-3.3 1.1-1.8 1.1-1.4 1.1-.6 1.1,1.1 1.1,1.4 1.1,1.3 1.1,2.1 1.1,0 1.1,.4 1.1,0 1.1-1.1 1.1,.4 1.1-.1 1.1,.9 1.1-.3 1.1,.5 1.1-.1 1.1,.6 1.1,0 1.1,.2 1.1,1 1.1-.1 1.1,.7 1.1,0 1.1-2.2 1.1-.2 1.1-.1 1.1-1.9 1.1,1.1 1.1-1.2 1.1,.4 1.1,.7 1.1-.9 1.1-.2 1.1-1.9 1.1,.4 1.1-1 1.1-.9 1.1-.6 1.1-1.6 1.1,0 1.1-.3 M574.2,378.5l 1.1,1.3 1.1-1.4 1.1-.8 1.1,0 1.1-.2 1.1,1 1.1,.5 1.1,.6 1.1,1.1 1.1-.9 1.1,.8 1.1,.4 1.1-1.3 1.1,.5 1.1-.5 1.1,2.3 1.1,.7 1.1,1.2 1.1,1.5 1.1,1 1.1,.8 1.1,1.2 1.1,.5 1.1,1.2 1.1,.4 1.1,1.1 1.1,1 1.1,1.1 1.1,2.5 1.1,.3 1.1,2.7 1.1,2.1 1.1,.1 1.1-1.2 1.1-1.1 1.1-.2 1.1-1.8 1.1,0 1.1-.9 1.1-.5 1.1-1.5 1.1-1.6 1.1-1.7 1.1-1.2 1.1-1.2 1.1-1.7 1.1-.7 1.1-1.1 1.1-1.2 1.1-.5 1.1,1 1.1-.5 1.1-.3 1.1,.6 1.1,.1 1.1-1.1 1.1,.3 1.1-2.2 1.1-.5 1.1-1.3 1.1-.2 1.1-.6 1.1-.3 1.1,1.8 1.1-.7 1.1,.4 1.1-1 1.1,.3 1.1,1.1 1.1,.6 1.1-.1 1.1,.4 1.1-.8 1.1,.2 1.1-.2 1.1-.5 1.1,0 1.1-.2 1.1,1 1.1,.1 1.1,.1 1.1-.2 1.1,.7 1.1-.2 1.1,.2 1.1-.2 1.1-1.2 1.1-1.5 1.1-1.4 1.1,.5 1.1-2 1.1,.4 1.1,1.1 1.1,1.1 1.1,.9 M574.2,367.8l 1.1,1.4 1.1-1.4 1.1,.5 1.1-.3 1.1,.7 1.1,1.5 1.1,1 1.1,.9 1.1,.7 1.1,.3 1.1-.9 1.1,1.6 1.1,.5 1.1,1.4 1.1,1 1.1,1.5 1.1,1.2 1.1,1.5 1.1,2.3 1.1-.3 1.1,1.1 1.1,1 1.1-.5 1.1,.2 1.1,3 1.1,.7 1.1,2.7 1.1,1.8 1.1,1.4 1.1,2.8 1.1,2.4 1.1,2.2 1.1-.6 1.1-2.3 1.1-2.9 1.1-2.1 1.1-2.5 1.1-4 1.1,0 1.1-2.4 1.1,.8 1.1,1.6 1.1,.1 1.1-.8 1.1,.3 1.1-1.3 1.1-1 1.1-1.3 1.1-1 1.1-.1 1.1-1.5 1.1-2.3 1.1-3.3 1.1-1.5 1.1,.4 1.1,.2 1.1-1 1.1,1.5 1.1,.9 1.1-1.2 1.1-.1 1.1,.5 1.1,0 1.1-2.6 1.1,.2 1.1,1.6 1.1-.8 1.1,1.4 1.1,2.5 1.1-.2 1.1-.4 1.1-.5 1.1-.6 1.1,.4 1.1-.1 1.1,0 1.1,1.2 1.1,.7 1.1,1.3 1.1-.8 1.1-.2 1.1-3 1.1-1.5 1.1-2 1.1-.5 1.1,.4 1.1,0 1.1,1.3 1.1,.8 1.1,.8 1.1,.8 1.1-.2 1.1-.6 1.1,.3 1.1,1.6" fill="none" stroke="#ffb6c2" stroke-width="0.6" opacity="0.85"/>
<path d="M574.2,356.5 L583.4,359.3 L591.8,366.9 L600.2,378.6 L606.1,390.4 L609.4,396.8 L613.6,388.7 L620.4,380.3 L627.1,374.4 L633.0,368.6 L638.0,366.6 L647.2,368.2 L653.9,369.9 L660.6,370.6 L665.7,368.6 L672.4,364.4 L678.8,361.9" fill="none" stroke="#000" stroke-width="1.8" stroke-linejoin="round"/>
<path d="M574.2,478.9l 1.1,0 1.1,0 1.1,0 1.1,0 1.1-.2 1.1-.1 1.1-.1 1.1,0 1.1,.2 1.1,.1 1.1,.2 1.1,.2 1.1,.1 1.1,.2 1.1,.2 1.1,.1 1.1,.2 1.1,.2 1.1,.4 1.1,.4 1.1,.3 1.1,.4 1.1,1.5 1.1,1.6 1.1,1.6 1.1,1.6 1.1,2.1 1.1,3.1 1.1,3.1 1.1,1.2 1.1-4.3 1.1-5 1.1-4.5 1.1-1.7 1.1-1.6 1.1-1.7 1.1-1.7 1.1-1.2 1.1-.9 1.1-.9 1.1-1 1.1-.9 1.1-.9 1.1-.9 1.1-.9 1.1-1 1.1-.5 1.1-.2 1.1,.2 1.1,.2 1.1,.2 1.1,.1 1.1,.2 1.1,.2 1.1,.3 1.1,.4 1.1,.3 1.1,.1 1.1,0 1.1,.1 1.1,.1 1.1,.1 1.1,.1 1.1,.1 1.1-.1 1.1,0 1.1,0 1.1,0 1.1-.3 1.1,.4 1.1,.9 1.1,1.1 1.1,1.1 1.1,1.1 1.1,1.1 1.1,.3 1.1-.2 1.1-.3 1.1-.2 1.1-.3 1.1,0 1.1-.1 1.1,0 1.1,0 1.1-.1 1.1,0 1.1-.1 1.1-.1 1.1-.1 1.1,0 0,22.2-1.1-.1-1.1-.1-1.1,0-1.1-.1-1.1-.1-1.1,0-1.1-.1-1.1-.1-1.1-.1-1.1-.1-1.1,.1-1.1,.2-1.1,.3-1.1,.3-1.1,.3-1.1,.1-1.1,0-1.1,0-1.1,0-1.1,.2-1.1,.3-1.1,.2-1.1-.2-1.1-.2-1.1-.2-1.1-.1-1.1-.3-1.1-.3-1.1-.3-1.1-.3-1.1-.4-1.1-.2-1.1-.1-1.1,.3-1.1,.3-1.1,.3-1.1,.4-1.1,.5-1.1,.4-1.1,.5-1.1,.4-1.1,.6-1.1,2-1.1,1.9-1.1,2-1.1,2-1.1,1.9-1.1,2-1.1,1.6-1.1,1.6-1.1,1.6-1.1,1.5-1.1,1.7-1.1,1.8-1.1,1.3-1.1,1.1-1.1,1.1-1.1,1.3-1.1,.5-1.1-2.1-1.1-2.8-1.1-2.8-1.1-2.8-1.1-2.3-1.1-1.9-1.1-2-1.1-1.9-1.1-1.9-1.1-1.7-1.1-.8-1.1-.4-1.1-.4-1.1-.3-1.1-.1-1.1-.2-1.1-.2-1.1-.1-1.1-.2-1.1-.2-1.1-.1-1.1-.2-1.1-.2-1.1,0-1.1,.1-1.1,.1-1.1,.2-1.1,0-1.1,0-1.1,0-1.1,0z" fill="#96ec44"/>
<path d="M574.2,489.6l 1.1,0 1.1-.2 1.1-.2 1.1,.4 1.1-.8 1.1,.5 1.1-.6 1.1,.2 1.1-.2 1.1,.9 1.1,.9 1.1,1.3 1.1,1.1 1.1-.3 1.1,.2 1.1-.8 1.1-.3 1.1-.8 1.1,1 1.1,1.6 1.1,2.8 1.1,2.7 1.1,2 1.1,2.3 1.1,.9 1.1,.6 1.1,.5 1.1,1.3 1.1,1.9 1.1,2.9 1.1,1.1 1.1-1.1 1.1-2.6 1.1-.9 1.1-1.9 1.1-3 1.1-1.6 1.1-2 1.1-1.7 1.1-1 1.1-2 1.1-1.8 1.1-.9 1.1-.9 1.1-1.6 1.1-1.6 1.1-1.4 1.1-1.9 1.1-.5 1.1-.5 1.1,.3 1.1-.9 1.1-.4 1.1-.1 1.1,.6 1.1,1.8 1.1,.9 1.1,1.8 1.1,2.6 1.1,0 1.1-.5 1.1-.7 1.1-.5 1.1-.7 1.1,1.8 1.1-.2 1.1,.2 1.1,1.7 1.1,.6 1.1-3.2 1.1-.7 1.1,.1 1.1-.3 1.1,.5 1.1-.3 1.1,1 1.1,.5 1.1,.6 1.1,.1 1.1-.6 1.1,.1 1.1,.1 1.1-1.6 1.1-.5 1.1-1.3 1.1-.2 1.1-2 1.1-.6 1.1,.7 1.1,1.1 M574.2,476.6l 1.1-.2 1.1,.8 1.1-.7 1.1-.9 1.1-.8 1.1-1.2 1.1,.6 1.1-.1 1.1,.9 1.1,1.7 1.1-.1 1.1-1.3 1.1,.7 1.1,0 1.1,.4 1.1-.3 1.1-.4 1.1-.7 1.1,.7 1.1,.4 1.1,.1 1.1-.1 1.1,.6 1.1,1.4 1.1,1.4 1.1,1.4 1.1,2.6 1.1,4.5 1.1,3.1 1.1,2.1 1.1-5.1 1.1-5.2 1.1-5.4 1.1-.7 1.1-3.4 1.1-2.8 1.1-1.9 1.1-1.4 1.1-.8 1.1-.8 1.1-.7 1.1-1.4 1.1-.8 1.1-.7 1.1-.8 1.1-.7 1.1-.2 1.1,1.6 1.1,.7 1.1,1.4 1.1-.9 1.1-.5 1.1-.4 1.1,.3 1.1,.3 1.1,.3 1.1,.3 1.1,0 1.1-.2 1.1,.8 1.1,.8 1.1-.3 1.1,1.2 1.1-.7 1.1,.5 1.1-.9 1.1,.4 1.1-.5 1.1-1.1 1.1,.1 1.1,.4 1.1,1.7 1.1,1.1 1.1,1.4 1.1,2.3 1.1,1.2 1.1-.8 1.1-.4 1.1,.8 1.1-1.2 1.1,0 1.1,.7 1.1-.4 1.1,.3 1.1,1.7 1.1,.1 1.1,1.6 1.1,.2 1.1,.3 1.1-1.4 M574.2,489l 1.1,.4 1.1-.5 1.1-.3 1.1,2.1 1.1-.3 1.1,.3 1.1-.1 1.1-1.1 1.1,.5 1.1,.8 1.1,.9 1.1,.2 1.1,.7 1.1,0 1.1,.3 1.1-.4 1.1,.3 1.1,.7 1.1-.3 1.1,.5 1.1-.3 1.1,1.2 1.1,1.9 1.1,2.1 1.1,2.5 1.1,3.1 1.1,4.3 1.1,2.1 1.1,3.7 1.1,.8 1.1,.9 1.1-2.9 1.1-3.3 1.1-2 1.1-3.7 1.1-2.4 1.1-1.3 1.1-2.4 1.1-1.6 1.1-1.3 1.1-1.2 1.1-.1 1.1,.5 1.1-2.8 1.1-1 1.1-1.8 1.1-.3 1.1-1.5 1.1-.7 1.1-1.1 1.1-.1 1.1,.7 1.1-.3 1.1-.2 1.1-.4 1.1-.7 1.1-.3 1.1,.9 1.1,1.3 1.1,.2 1.1,1.5 1.1,1.3 1.1,1.1 1.1-.1 1.1,1.1 1.1-.8 1.1,1.4 1.1,0 1.1,.8 1.1,.1 1.1-.9 1.1-1.2 1.1-.2 1.1-.2 1.1,.3 1.1-.6 1.1-.3 1.1-.3 1.1-.9 1.1-1.7 1.1,.1 1.1-.2 1.1-1.9 1.1-1 1.1,.9 1.1,.4 1.1,2.4 1.1,1 1.1,.2 1.1-1.8 M574.2,484.2l 1.1-1.1 1.1,0 1.1-.9 1.1-.2 1.1-.1 1.1-.1 1.1,0 1.1,.9 1.1,.5 1.1,.5 1.1-.5 1.1-.1 1.1-.9 1.1,.3 1.1-.8 1.1-.2 1.1,1.1 1.1-.5 1.1,.5 1.1,.6 1.1,1.1 1.1-.4 1.1,2.5 1.1,1.8 1.1,1.2 1.1,2.1 1.1,2 1.1,3.4 1.1,3 1.1,.9 1.1-3.6 1.1-3.2 1.1-3.9 1.1-2 1.1-1.6 1.1-2 1.1-1.1 1.1-1.4 1.1-.9 1.1-1.5 1.1-1.4 1.1-.2 1.1,.7 1.1,1 1.1-1.4 1.1,0 1.1-1 1.1-.5 1.1-.8 1.1-1.5 1.1-.4 1.1-.1 1.1-1.6 1.1,.3 1.1,.5 1.1,.2 1.1,.3 1.1-1 1.1,1.4 1.1-.7 1.1,0 1.1,.2 1.1-.6 1.1,.5 1.1-.4 1.1,.5 1.1,1.1 1.1,.7 1.1-.3 1.1,.2 1.1,1 1.1,2.3 1.1,.8 1.1,.3 1.1,2.6 1.1-.2 1.1-1.6 1.1-1 1.1-.5 1.1,.1 1.1-.4 1.1-.1 1.1,1.9 1.1,1.1 1.1-1.4 1.1,0 1.1-.8 1.1-.7 1.1-1.1 1.1-.6 M574.2,496.2l 1.1-1 1.1-.6 1.1-.6 1.1,.9 1.1-.3 1.1,.9 1.1,.3 1.1-.7 1.1,1.8 1.1,0 1.1,1 1.1,0 1.1-1.6 1.1,.6 1.1-.4 1.1,.3 1.1-.2 1.1-.9 1.1,.4 1.1,.2 1.1,1.2 1.1,1 1.1,3.3 1.1,1.3 1.1,3.3 1.1,3.1 1.1,1 1.1,3.8 1.1,1.7 1.1,1.9 1.1,2.7 1.1-3.2 1.1-.6 1.1-.5 1.1-1.1 1.1-1.6 1.1-.9 1.1-1.8 1.1-1.6 1.1,.3 1.1-.4 1.1-1.8 1.1-3.4 1.1-2.7 1.1-2.6 1.1-4.6 1.1-1.9 1.1-2.2 1.1-.3 1.1-.2 1.1,.3 1.1-2 1.1,.1 1.1-2 1.1,.7 1.1-.1 1.1,.9 1.1,1.6 1.1,1.2 1.1-.1 1.1,1.7 1.1,1.1 1.1-.7 1.1,1.7 1.1-.3 1.1-.1 1.1-.3 1.1-.9 1.1,.1 1.1-1.3 1.1,.1 1.1,1 1.1,.6 1.1,.5 1.1,.4 1.1,.3 1.1-2 1.1-.2 1.1,.3 1.1,.9 1.1-.6 1.1,.5 1.1,.2 1.1,.4 1.1-.9 1.1,.8 1.1-.1 1.1-.2 1.1-.3 1.1-1.4 M574.2,475.5l 1.1,.5 1.1,1.1 1.1,1.2 1.1-.6 1.1,1.1 1.1,.9 1.1-1.6 1.1-1.4 1.1-1 1.1,1.7 1.1,.9 1.1,.7 1.1,1.7 1.1-1.4 1.1-1 1.1,.1 1.1-1.2 1.1,.7 1.1,1.2 1.1,1 1.1,.4 1.1-.9 1.1,1.8 1.1,1.4 1.1,.4 1.1,2.4 1.1,2.7 1.1,3.2 1.1,2.2 1.1,.8 1.1-4.6 1.1-6.2 1.1-4.9 1.1-1.2 1.1-1.4 1.1-1.7 1.1-3.1 1.1-.9 1.1,.3 1.1,1.7 1.1-1.1 1.1-.4 1.1-.2 1.1-2.1 1.1-2.9 1.1-2.5 1.1-.9 1.1-.3 1.1,.5 1.1,1.4 1.1,3.3 1.1,1.2 1.1,1.6 1.1-.4 1.1-.6 1.1-1 1.1,1.1 1.1,0 1.1-1.4 1.1,.7 1.1-1.8 1.1-1.3 1.1-.7 1.1,1.7 1.1-1.6 1.1,.9 1.1-1.6 1.1,1.5 1.1,0 1.1-.9 1.1,1.3 1.1,2.6 1.1,.6 1.1,1.5 1.1,1 1.1,1.9 1.1,.2 1.1,1.4 1.1-1.6 1.1-.6 1.1-.3 1.1-1.8 1.1-1 1.1,.3 1.1,.3 1.1,.5 1.1,1.2 1.1,.3 1.1-.1 1.1-.3 M574.2,493l 1.1-.5 1.1-.2 1.1,.4 1.1-1.1 1.1-1.2 1.1,.1 1.1-.6 1.1,1.8 1.1,.1 1.1,.1 1.1-.8 1.1-.8 1.1-.1 1.1-.2 1.1-.5 1.1,1.5 1.1-.4 1.1,1.6 1.1,.6 1.1,2.2 1.1,1.7 1.1,1.8 1.1,2.4 1.1,2.1 1.1,3 1.1,1.5 1.1,1.4 1.1,1.7 1.1,2.8 1.1,2 1.1,1.1 1.1-1.1 1.1-3.3 1.1-1.3 1.1-3 1.1-2.3 1.1-1.5 1.1-1.9 1.1-3 1.1,.7 1.1,.3 1.1,.3 1.1-2.1 1.1-1.3 1.1-2.1 1.1-2.6 1.1-2.8 1.1-3.1 1.1-.4 1.1,.6 1.1,.2 1.1,.7 1.1-.4 1.1,1.4 1.1,.1 1.1-.9 1.1,.7 1.1,1.4 1.1,.8 1.1,.9 1.1-1.3 1.1-.2 1.1-.8 1.1-.7 1.1-.3 1.1,0 1.1,2.3 1.1,.5 1.1-.3 1.1-.8 1.1,.9 1.1,0 1.1,.2 1.1,1.3 1.1-.3 1.1-.4 1.1-1.4 1.1-.6 1.1-.8 1.1-1.5 1.1,.5 1.1-.3 1.1-.6 1.1-.2 1.1,.8 1.1-.6 1.1-.5 1.1,1.8 1.1-.3 1.1,.2 M574.2,502.2l 1.1-.4 1.1-.1 1.1-.3 1.1-.8 1.1-.3 1.1,.5 1.1-.4 1.1,2.4 1.1,.5 1.1-.4 1.1,.8 1.1-.5 1.1,.7 1.1-.4 1.1-.4 1.1-.2 1.1,.5 1.1-.3 1.1,.9 1.1,1.4 1.1,1.7 1.1,1.5 1.1,3.1 1.1,2.1 1.1,2.3 1.1,1.6 1.1,2.8 1.1,1.7 1.1,2.4 1.1,3 1.1,1 1.1,.1 1.1-.6 1.1-1.6 1.1-.3 1.1-.5 1.1-.3 1.1-1.3 1.1-1.2 1.1-1.3 1.1-3.1 1.1-2.4 1.1-2.3 1.1-4.8 1.1-2.7 1.1-2 1.1-1.4 1.1-1.3 1.1,.8 1.1-.4 1.1-.2 1.1-.5 1.1-.5 1.1,.6 1.1-.3 1.1-.2 1.1-2.2 1.1-.7 1.1,.7 1.1-.8 1.1,.5 1.1,1.5 1.1,1 1.1-.5 1.1,1 1.1-1.6 1.1,0 1.1,.6 1.1-1 1.1,.4 1.1,1.2 1.1-.6 1.1-1.7 1.1-.5 1.1-1.9 1.1-.7 1.1-1.4 1.1,2 1.1,1.7 1.1,2.5 1.1,.7 1.1,.2 1.1-.5 1.1-.9 1.1-1.3 1.1,1 1.1-.6 1.1,1.3 1.1,1.1 1.1-.4 M574.2,478.7l 1.1,1.2 1.1,0 1.1,0 1.1-1.3 1.1-.2 1.1-1 1.1,0 1.1,.8 1.1,.2 1.1-.2 1.1-.2 1.1-.7 1.1,.6 1.1,.6 1.1,1 1.1,.8 1.1-.3 1.1,1.5 1.1-.1 1.1,.2 1.1,.2 1.1-.6 1.1,3.4 1.1,1.6 1.1,.7 1.1,1.7 1.1,1.7 1.1,3.6 1.1,1.6 1.1,.4 1.1-4 1.1-4.2 1.1-3.3 1.1,0 1.1,0 1.1-2.1 1.1-2 1.1-1.9 1.1-.9 1.1-1.9 1.1-1.7 1.1,0 1.1-2.1 1.1-1.3 1.1-2.1 1.1-1.2 1.1-1.5 1.1-.9 1.1,1.3 1.1-.2 1.1,1.4 1.1,1.1 1.1,.5 1.1-.2 1.1-.1 1.1-.1 1.1,.8 1.1,0 1.1-.6 1.1,1.9 1.1,.4 1.1-1.2 1.1,0 1.1,.1 1.1-1.3 1.1-.6 1.1-1.3 1.1-1 1.1,.2 1.1,.8 1.1,1.6 1.1,1 1.1,2.2 1.1,1.1 1.1,1.4 1.1,1.4 1.1,.3 1.1,.1 1.1,.1 1.1,0 1.1,.2 1.1-.9 1.1-.2 1.1-.8 1.1-.7 1.1-.2 1.1-.2 1.1,1.3 1.1-1.1 1.1-1.1 M574.2,480.4l 1.1,.6 1.1-.4 1.1-1.2 1.1-2.2 1.1,0 1.1,0 1.1-.2 1.1,.4 1.1-.7 1.1-.4 1.1,.2 1.1-.5 1.1-.6 1.1,.5 1.1,.4 1.1,.5 1.1,.2 1.1,.8 1.1-1.7 1.1,.9 1.1-.7 1.1-1 1.1,1.3 1.1,1.5 1.1,1.4 1.1,3.3 1.1,2.6 1.1,4.6 1.1,2.7 1.1,1.1 1.1-8.7 1.1-5.5 1.1-6.3 1.1,0 1.1-.8 1.1-1.1 1.1,.2 1.1-1.7 1.1-1.9 1.1-1 1.1-.3 1.1-1.5 1.1-.5 1.1-.4 1.1-.7 1.1-.4 1.1-.4 1.1,1.4 1.1-.5 1.1-.5 1.1,1 1.1,1 1.1-.2 1.1-.5 1.1,.4 1.1-.9 1.1,.8 1.1-.5 1.1-.9 1.1,.1 1.1-.4 1.1-.2 1.1-.1 1.1,.4 1.1,0 1.1-.8 1.1,.3 1.1,.3 1.1,.3 1.1,1.1 1.1,2.4 1.1,1.9 1.1,.4 1.1,2.7 1.1,1.5 1.1,.5 1.1,.8 1.1-1.5 1.1-.6 1.1-.7 1.1-.3 1.1,1 1.1,.8 1.1,1.2 1.1,.3 1.1-.7 1.1,.2 1.1-.5 1.1-2.2 1.1-.8 M574.2,503l 1.1-.1 1.1,.2 1.1-.7 1.1-.1 1.1-.8 1.1,.9 1.1-1.2 1.1,.8 1.1,.8 1.1,.2 1.1,.7 1.1-.2 1.1,.1 1.1-1.1 1.1,.5 1.1-.4 1.1,.5 1.1,.2 1.1,1 1.1,2.1 1.1,2 1.1,1.6 1.1,1.5 1.1,.8 1.1,2.1 1.1,2.7 1.1,2.1 1.1,2.4 1.1,1.9 1.1,1.7 1.1-.8 1.1-.6 1.1-2.2 1.1-1 1.1-.3 1.1,.4 1.1-.3 1.1-1.9 1.1-.9 1.1-2.1 1.1-.3 1.1-2.5 1.1-3.3 1.1-3.1 1.1-1.8 1.1-2.6 1.1-3.1 1.1-2 1.1,.1 1.1,1.1 1.1-.6 1.1,.2 1.1-.4 1.1,.3 1.1-1.5 1.1,.1 1.1-.8 1.1,.6 1.1-.6 1.1-.1 1.1,.5 1.1-1.4 1.1,.6 1.1,.6 1.1,.7 1.1,1.2 1.1,.8 1.1,.7 1.1-.6 1.1-.4 1.1,.2 1.1,0 1.1,.8 1.1-.4 1.1,.9 1.1,.2 1.1-.7 1.1,.5 1.1-1 1.1-.8 1.1-.9 1.1,.3 1.1-1.3 1.1,1.3 1.1-1 1.1-.7 1.1,.5 1.1,.7 1.1-.9 1.1,2.3 M574.2,479.2l 1.1-.8 1.1-.4 1.1-1.3 1.1-.9 1.1-.3 1.1,0 1.1,.7 1.1-.6 1.1-.7 1.1,1.2 1.1-1.1 1.1-.7 1.1,1.8 1.1,.8 1.1-.6 1.1,1.1 1.1,.6 1.1,1.8 1.1-.2 1.1-.5 1.1,.5 1.1,1.3 1.1,1.8 1.1,2.6 1.1,2.8 1.1,2.9 1.1,1 1.1,3 1.1,2.4 1.1,1 1.1-4.6 1.1-5.6 1.1-4 1.1-2.8 1.1-1.7 1.1-1.9 1.1-2.2 1.1-2.5 1.1,.3 1.1-.7 1.1-.1 1.1-1.6 1.1,0 1.1-1.1 1.1,.5 1.1-1 1.1,1 1.1-1.7 1.1,2.1 1.1-2.1 1.1,.4 1.1,0 1.1-.5 1.1-.5 1.1,1.5 1.1-.9 1.1-.5 1.1,.1 1.1-.3 1.1,.2 1.1,.5 1.1,.4 1.1,.2 1.1-.4 1.1,.4 1.1,0 1.1-.2 1.1,0 1.1,.1 1.1-.9 1.1,1.2 1.1,.7 1.1,1.2 1.1,.3 1.1,1.7 1.1-.4 1.1-.5 1.1,1 1.1-1.5 1.1,.1 1.1,.4 1.1,.3 1.1,.5 1.1-.5 1.1-.1 1.1-.2 1.1,.8 1.1-1.2 1.1,.8 1.1,1 M574.2,481.4l 1.1,1.1 1.1-1.1 1.1-.1 1.1,.1 1.1,.7 1.1,.4 1.1-.7 1.1,.6 1.1-.4 1.1-.8 1.1-.4 1.1,.9 1.1-.9 1.1,.4 1.1,.7 1.1,.6 1.1-.4 1.1,0 1.1,.8 1.1,.2 1.1,.4 1.1,1.2 1.1,.5 1.1,2.3 1.1,.3 1.1,1.5 1.1,4.6 1.1,2.8 1.1,3.5 1.1,.7 1.1-2.8 1.1-4.6 1.1-5.7 1.1-2.4 1.1-1.9 1.1-2.4 1.1-2.2 1.1-.8 1.1-.7 1.1,.2 1.1-.5 1.1-.4 1.1-1.7 1.1-1.8 1.1-.8 1.1-1.1 1.1,0 1.1-1.3 1.1,.2 1.1,.7 1.1-1.3 1.1-.2 1.1,0 1.1-.6 1.1,.4 1.1,.3 1.1,1.4 1.1-.4 1.1,.3 1.1-.7 1.1,1.1 1.1,1.6 1.1-1.1 1.1,.3 1.1,.8 1.1-2.7 1.1,.5 1.1-.4 1.1-1.5 1.1,1 1.1-.2 1.1,1.1 1.1,.9 1.1,1.9 1.1,.9 1.1,.1 1.1,.1 1.1,.5 1.1,2.5 1.1-1.2 1.1,.5 1.1,1.1 1.1,.3 1.1-.5 1.1-1.1 1.1-.6 1.1,.5 1.1-1.4 1.1,.3 1.1,1.2 M574.2,505.2l 1.1,.1 1.1-.8 1.1-.7 1.1-.9 1.1,1.5 1.1-1.5 1.1,.2 1.1,.9 1.1,.4 1.1,.8 1.1-.6 1.1,.4 1.1-1.3 1.1-.2 1.1-.7 1.1-.7 1.1,.3 1.1,1.5 1.1,1.4 1.1,1.2 1.1,.2 1.1,2.5 1.1,1.4 1.1,.5 1.1,1.2 1.1,1 1.1,2.8 1.1,2.9 1.1,3.3 1.1,3.6 1.1,3 1.1,1 1.1,.3 1.1,.9 1.1-.1 1.1-2 1.1-3.3 1.1-2.7 1.1-3.7 1.1-2 1.1-1.8 1.1-2.7 1.1-1 1.1-1.5 1.1,.3 1.1-1.6 1.1-3.4 1.1-2.5 1.1-1 1.1-.4 1.1-.9 1.1-2.1 1.1,.1 1.1-.5 1.1,.5 1.1-.4 1.1,.2 1.1-1 1.1-.4 1.1,.4 1.1,.8 1.1-.3 1.1,2.1 1.1,1 1.1,.6 1.1,.3 1.1-.3 1.1-.2 1.1-.4 1.1,.1 1.1,.3 1.1-.3 1.1-2.1 1.1,0 1.1-1.6 1.1-1.6 1.1-.2 1.1,0 1.1,1.5 1.1,1.5 1.1-.6 1.1-.4 1.1,.9 1.1,1.9 1.1-1.8 1.1,2.4 1.1,.5 1.1,1.4 1.1,.1 1.1,.2 M574.2,477.9l 1.1-.7 1.1,1.4 1.1-.1 1.1,1.3 1.1,.3 1.1-.9 1.1-1 1.1-.6 1.1-.6 1.1,1.3 1.1-1.1 1.1,.2 1.1,1.1 1.1,.8 1.1,.3 1.1,0 1.1-.8 1.1,.4 1.1,1 1.1,1.4 1.1,.2 1.1,3.2 1.1,3 1.1,2 1.1,.6 1.1,1.4 1.1,2.2 1.1,2.9 1.1,2.1 1.1,1.2 1.1-4.3 1.1-4.3 1.1-4.5 1.1-.8 1.1-1.5 1.1-1.3 1.1-2.1 1.1-.6 1.1-.7 1.1-.2 1.1-1.6 1.1-1.1 1.1-2 1.1-1.7 1.1-.9 1.1-1.6 1.1-1 1.1-1.4 1.1,0 1.1,1.2 1.1,1.9 1.1-1 1.1,.8 1.1-.8 1.1,1 1.1-.4 1.1,2 1.1-.7 1.1,.5 1.1-.4 1.1-1 1.1,.5 1.1,.3 1.1-.8 1.1,.8 1.1,.1 1.1-1.5 1.1,.3 1.1-1 1.1,1.3 1.1,.4 1.1,.7 1.1,.5 1.1,.1 1.1,2 1.1,1.4 1.1-.6 1.1,.6 1.1-.7 1.1,1.2 1.1,.3 1.1-.5 1.1-1.2 1.1,.5 1.1,.3 1.1-1 1.1,2 1.1-.2 1.1,1.3 1.1-.1 M574.2,498.5l 1.1,0 1.1,.7 1.1-1.4 1.1-.4 1.1,1.2 1.1-.8 1.1-.1 1.1-.8 1.1,.5 1.1,.3 1.1,.7 1.1-.3 1.1,1.6 1.1,1.5 1.1,.2 1.1,.1 1.1-.5 1.1-.9 1.1-1.2 1.1-.5 1.1,1.6 1.1,1.1 1.1,4.2 1.1,.5 1.1,2.5 1.1,1.7 1.1,2.5 1.1,2.1 1.1,4 1.1,1.7 1.1,2.9 1.1,0 1.1-1.6 1.1-1.9 1.1-.2 1.1-2.4 1.1-1.7 1.1-1.3 1.1-1.9 1.1-1.3 1.1-.7 1.1-1.9 1.1-2.2 1.1-2.6 1.1-1.8 1.1-3.2 1.1-.2 1.1-2.1 1.1,.1 1.1,.6 1.1-.9 1.1,.6 1.1-.1 1.1-1.2 1.1,.2 1.1-.2 1.1-.1 1.1-1 1.1-.5 1.1,.9 1.1-.7 1.1,.8 1.1,.3 1.1,.6 1.1,.5 1.1,.5 1.1,1.9 1.1-.9 1.1-.2 1.1,.5 1.1-.4 1.1,.2 1.1-.6 1.1-1.3 1.1-.3 1.1-2.5 1.1-1.1 1.1-1.5 1.1-.1 1.1,1.5 1.1-.6 1.1,1.1 1.1-.8 1.1-1.5 1.1,1.3 1.1-1 1.1,.5 1.1-.3 1.1,.9 1.1,.1 M574.2,505.9l 1.1,1 1.1-.1 1.1-.8 1.1-.1 1.1,0 1.1-.4 1.1-.9 1.1,.1 1.1,.2 1.1-.6 1.1,.6 1.1-1.1 1.1,1.4 1.1-.6 1.1,.2 1.1,.3 1.1,.1 1.1,.3 1.1-.1 1.1,1.2 1.1,1.6 1.1,1.1 1.1,3.5 1.1,1.3 1.1,1.7 1.1,1.9 1.1,2 1.1,2.6 1.1,2.4 1.1,2.4 1.1,3.2 1.1-1.1 1.1-.2 1.1-3 1.1-1.4 1.1-.6 1.1-2.1 1.1-1.9 1.1-2.2 1.1-1.4 1.1,.2 1.1-2.1 1.1-1.1 1.1-2 1.1-1.9 1.1-3.7 1.1-2.1 1.1-2.6 1.1-.5 1.1,.1 1.1-.9 1.1-.2 1.1-.1 1.1,1.3 1.1-.7 1.1,0 1.1-.4 1.1-.3 1.1,1.3 1.1,0 1.1,.6 1.1,.7 1.1-.5 1.1-1.1 1.1,.4 1.1-2.3 1.1,.2 1.1,.3 1.1-.1 1.1,0 1.1,.2 1.1,1.4 1.1,.6 1.1,.7 1.1,.6 1.1-.2 1.1-.2 1.1-.1 1.1,0 1.1,.1 1.1-.6 1.1-.7 1.1-.4 1.1-.5 1.1,0 1.1,.9 1.1-.2 1.1,1.3 1.1-.4 1.1-.6 M574.2,483.4l 1.1,.5 1.1-.9 1.1-.3 1.1,1.3 1.1,.1 1.1,.2 1.1,0 1.1,.3 1.1,1.9 1.1-.8 1.1,.6 1.1-.7 1.1-.3 1.1-.5 1.1-.9 1.1-.8 1.1,.9 1.1,0 1.1,0 1.1,3.7 1.1,1.1 1.1,1.9 1.1,1.5 1.1,2.6 1.1,.8 1.1,.4 1.1,2.8 1.1,2.4 1.1,4.2 1.1,2.6 1.1-1.8 1.1-3.4 1.1-3.5 1.1-2 1.1-3 1.1-.9 1.1-2.3 1.1-.5 1.1-.7 1.1-2.5 1.1-1.4 1.1-2.9 1.1-1.2 1.1-1.1 1.1-.4 1.1-.3 1.1-.6 1.1-.6 1.1-.6 1.1,.9 1.1-.6 1.1,1.3 1.1,.3 1.1,.3 1.1,1.7 1.1-.8 1.1-.6 1.1-1.1 1.1-1.1 1.1-.7 1.1-.6 1.1,1.7 1.1-1.3 1.1,1.3 1.1,1.4 1.1-.2 1.1,1.4 1.1,.9 1.1,.5 1.1-.3 1.1-1.2 1.1,.3 1.1,1 1.1-1.3 1.1,.1 1.1,.4 1.1,0 1.1,1.9 1.1-.2 1.1-.3 1.1-.9 1.1-1.4 1.1-1.5 1.1-.1 1.1-.1 1.1-1.6 1.1,.8 1.1,.4 1.1,.9 1.1,1.1 M574.2,501.9l 1.1,0 1.1,.4 1.1-.9 1.1,.1 1.1-.1 1.1,.9 1.1,.6 1.1,1.1 1.1,.4 1.1,.4 1.1-.9 1.1-.3 1.1-2.2 1.1,.6 1.1,1 1.1,1.6 1.1,.6 1.1,1.4 1.1,.4 1.1-1.4 1.1-.4 1.1,1.2 1.1,1.8 1.1,1.7 1.1,3 1.1,3.5 1.1,3.5 1.1,3.7 1.1,2.8 1.1,3 1.1,1.6 1.1,1.2 1.1-2.1 1.1-1.5 1.1,.3 1.1-2.7 1.1-2.1 1.1-3 1.1-1.5 1.1-2.8 1.1-1.1 1.1-1.7 1.1-1.9 1.1-1 1.1-2.9 1.1-3.1 1.1-1.7 1.1-2.3 1.1,.2 1.1-2.9 1.1-1.3 1.1-.1 1.1-.6 1.1,.9 1.1-.9 1.1,.4 1.1-1.1 1.1,2.3 1.1,.2 1.1-.1 1.1,1.3 1.1,.3 1.1-1.6 1.1,1 1.1-.6 1.1,.5 1.1,.9 1.1,1.2 1.1-.3 1.1,.2 1.1,1.3 1.1-1.1 1.1-.7 1.1,.2 1.1-.4 1.1-.6 1.1,0 1.1,.1 1.1,0 1.1-1.7 1.1,.4 1.1-1.6 1.1-.5 1.1,1.1 1.1-.9 1.1,.2 1.1,.2 1.1,.1 1.1,.6 1.1-.8 M574.2,489.6l 1.1-.8 1.1,.6 1.1-.8 1.1-.6 1.1-2 1.1-.6 1.1-1 1.1-.3 1.1,.9 1.1-1.6 1.1,1.4 1.1,.7 1.1-.7 1.1,.2 1.1,.3 1.1,.4 1.1,.4 1.1,.1 1.1,1.4 1.1,1.8 1.1,.4 1.1,.3 1.1,2.5 1.1,2.7 1.1,1.7 1.1,.1 1.1,1.7 1.1,1.4 1.1,2.1 1.1,2.9 1.1,0 1.1-1.4 1.1-.5 1.1-2.8 1.1-3.2 1.1-3.5 1.1-1.3 1.1-3.2 1.1-1.6 1.1-.7 1.1-.7 1.1-2.1 1.1-.9 1.1-.2 1.1-2.2 1.1-2.1 1.1-1.3 1.1-.3 1.1,.7 1.1,1.9 1.1-.4 1.1,.2 1.1-1.1 1.1,0 1.1-.3 1.1,.5 1.1,0 1.1,1.1 1.1,0 1.1-1.3 1.1-.3 1.1-1.3 1.1,.1 1.1,1.3 1.1-.2 1.1,2.8 1.1,1.6 1.1,.7 1.1,0 1.1-1.5 1.1,0 1.1,.4 1.1,0 1.1-.4 1.1,0 1.1,2.1 1.1-.9 1.1,.2 1.1,1.3 1.1-1.3 1.1-.4 1.1-.8 1.1-.8 1.1-.5 1.1,0 1.1,.8 1.1,1 1.1-.3 1.1,.4 1.1-1 M574.2,473.6l 1.1,.6 1.1,0 1.1,.1 1.1,.1 1.1,1.4 1.1,.3 1.1,1.9 1.1,.4 1.1,1.1 1.1-.7 1.1,.9 1.1-.2 1.1-.2 1.1,0 1.1,.2 1.1-1.7 1.1-1.1 1.1,.3 1.1,1.5 1.1,1.2 1.1,.9 1.1,1.3 1.1,1.1 1.1,.8 1.1,1.4 1.1-.4 1.1,1.9 1.1,1.1 1.1,4.6 1.1,1.3 1.1-6 1.1-4.9 1.1-4 1.1-.4 1.1-1.5 1.1-2.1 1.1-1.5 1.1-1.5 1.1-1.8 1.1-1.8 1.1-.5 1.1,1.2 1.1-.6 1.1-.3 1.1,.1 1.1-1.7 1.1-1.4 1.1,.3 1.1-1.1 1.1,.9 1.1-.7 1.1,.8 1.1-.5 1.1,1.7 1.1,.3 1.1-1.1 1.1,.9 1.1,0 1.1-1.3 1.1-.4 1.1,0 1.1,.7 1.1,1 1.1,2 1.1,1 1.1,.2 1.1-.6 1.1-.2 1.1-.3 1.1,0 1.1-.2 1.1,1.1 1.1,1.1 1.1,.5 1.1,.5 1.1-.5 1.1,.4 1.1-.1 1.1,.3 1.1,1.9 1.1,.9 1.1,.5 1.1,.5 1.1-.8 1.1,0 1.1-3.9 1.1,.7 1.1,2.3 1.1-.3 1.1,1.8 M574.2,482.2l 1.1,.5 1.1-.7 1.1-1.4 1.1-.9 1.1,.3 1.1,.5 1.1,.6 1.1,.7 1.1,2.2 1.1,.1 1.1,.6 1.1-1.6 1.1-.3 1.1-1.6 1.1,.7 1.1,0 1.1-1.5 1.1,1.7 1.1,1.3 1.1,.3 1.1,1.9 1.1,1.1 1.1,2.3 1.1,1.2 1.1,2.5 1.1,1.9 1.1-1.3 1.1,1.8 1.1,2 1.1,.9 1.1-2.7 1.1-2.9 1.1-3.4 1.1-2.1 1.1-2.6 1.1-1.8 1.1-3.1 1.1-2 1.1-1.1 1.1-1.3 1.1,.7 1.1-1.4 1.1-.8 1.1-.7 1.1-1.6 1.1-.5 1.1,.5 1.1-1.5 1.1,1.8 1.1-.4 1.1,.3 1.1-1.3 1.1,.2 1.1,1.1 1.1,.6 1.1-.5 1.1,.1 1.1,.4 1.1,.9 1.1,1.3 1.1-.5 1.1,1.2 1.1-.5 1.1-1.6 1.1,1.1 1.1,.5 1.1,.1 1.1,.8 1.1-.6 1.1,1.6 1.1,.9 1.1,.8 1.1,1.1 1.1,1.5 1.1,.2 1.1,0 1.1-1.4 1.1-.1 1.1-2 1.1-1.9 1.1-.5 1.1,.4 1.1,0 1.1,1.5 1.1,1.3 1.1,.7 1.1-.8 1.1,.6 1.1,.9 1.1-.9 M574.2,485.1l 1.1-.1 1.1,0 1.1-.1 1.1-1.5 1.1,0 1.1,.8 1.1-1.2 1.1-.6 1.1-.5 1.1-.4 1.1,.5 1.1,1.1 1.1-.4 1.1,.9 1.1,.3 1.1,.5 1.1,.7 1.1,1.2 1.1,.9 1.1,1.3 1.1,.7 1.1,.4 1.1,1.7 1.1,2.9 1.1,0 1.1,3.3 1.1,3.5 1.1,1.5 1.1,3.1 1.1,1.2 1.1-2 1.1-3.1 1.1-3.4 1.1-1.2 1.1-2.4 1.1-3.9 1.1-.4 1.1-2.1 1.1-.9 1.1-1 1.1-1.2 1.1-.8 1.1-2 1.1,.2 1.1-2.6 1.1-1.6 1.1,.4 1.1-2.9 1.1-.4 1.1-.3 1.1-1.9 1.1-.6 1.1-.9 1.1,1 1.1,2.4 1.1,2.8 1.1,2.2 1.1,.3 1.1,.9 1.1-.2 1.1-1.1 1.1-.7 1.1,2.2 1.1-.2 1.1,1.8 1.1-.8 1.1,.6 1.1-.9 1.1-.8 1.1,.4 1.1-.3 1.1,.5 1.1,1.7 1.1,1.3 1.1-.8 1.1-.1 1.1-1 1.1-1.5 1.1-1.8 1.1-1.7 1.1-.8 1.1-.5 1.1,.7 1.1,.2 1.1,1.2 1.1,.6 1.1,1.5 1.1,1 1.1-.5 1.1,1.4 M574.2,504.1l 1.1,.7 1.1,.7 1.1-.2 1.1-.9 1.1,.1 1.1-.1 1.1,.3 1.1,.5 1.1,0 1.1-.2 1.1-1.6 1.1,0 1.1-.1 1.1-.1 1.1,.5 1.1-.4 1.1,1 1.1,1.1 1.1,.1 1.1,.5 1.1,.6 1.1,1.4 1.1,2.8 1.1,2.8 1.1,2.8 1.1,2.3 1.1,2.4 1.1,2.9 1.1,1.9 1.1,1.8 1.1,2.5 1.1,1.2 1.1-1.3 1.1-.9 1.1-.9 1.1-1 1.1-2.6 1.1-2 1.1-1.6 1.1-2 1.1-.5 1.1-1.6 1.1-2.1 1.1-3.2 1.1-3.7 1.1-2.1 1.1-1.5 1.1-.8 1.1,.4 1.1,1.8 1.1-.5 1.1-.6 1.1-.6 1.1-.5 1.1-.6 1.1-.5 1.1-.6 1.1-1.2 1.1,.3 1.1-.4 1.1-1.2 1.1,1.1 1.1,0 1.1-.8 1.1-.4 1.1,.1 1.1,0 1.1,.3 1.1,.2 1.1,.3 1.1-.3 1.1-.7 1.1,.8 1.1-.2 1.1,0 1.1,1.5 1.1-.5 1.1,.4 1.1-.2 1.1-.3 1.1-.1 1.1-1.9 1.1,.7 1.1-.4 1.1-1.4 1.1,.4 1.1-.3 1.1-.3 1.1,1.9 1.1,1.9 M574.2,499.1l 1.1-.5 1.1-.9 1.1-.4 1.1-.3 1.1-.8 1.1-1 1.1-.3 1.1-1.1 1.1,1.5 1.1,1.8 1.1,1.2 1.1,1.6 1.1,.5 1.1-.2 1.1-2.1 1.1,.6 1.1,.3 1.1,.5 1.1,.1 1.1,.7 1.1,.2 1.1,.7 1.1,2.2 1.1,2.1 1.1,1.6 1.1,3.2 1.1,1.1 1.1,2.4 1.1,2.5 1.1,2.8 1.1,1.8 1.1,.9 1.1-1.2 1.1-1.2 1.1-2.1 1.1-1.7 1.1-1.2 1.1-2.2 1.1-2.7 1.1-.3 1.1-3.8 1.1-2.1 1.1-3.7 1.1-1.8 1.1-1.2 1.1-1.8 1.1-.8 1.1-1.7 1.1,1.4 1.1,1.6 1.1,.7 1.1,1.4 1.1-.7 1.1,.3 1.1-2 1.1-.1 1.1-1 1.1,0 1.1,.1 1.1-.4 1.1-1.2 1.1-.3 1.1,1.2 1.1,.8 1.1,.8 1.1,.3 1.1,1.5 1.1-.1 1.1-1.2 1.1-.2 1.1,.4 1.1-.8 1.1,2.1 1.1-.9 1.1,.2 1.1-.7 1.1-2 1.1-.5 1.1-.5 1.1,.6 1.1,.9 1.1-.1 1.1,.5 1.1-1.4 1.1,1.1 1.1,1.4 1.1-.9 1.1-.7 1.1-.7 1.1,.7 M574.2,491l 1.1-.6 1.1,.5 1.1-.4 1.1,.6 1.1,0 1.1-1.3 1.1-1.1 1.1,.4 1.1,.9 1.1,.8 1.1,.9 1.1-.4 1.1,.7 1.1,.4 1.1-1.2 1.1,1.2 1.1,1.6 1.1,2 1.1-.3 1.1-.4 1.1-.1 1.1-.7 1.1,2 1.1,2.5 1.1,3.4 1.1,2.8 1.1,3 1.1,2.9 1.1,1.8 1.1,1.8 1.1,1.7 1.1-2.4 1.1-3 1.1-1.5 1.1-1.8 1.1-2.4 1.1-1.7 1.1-2.7 1.1-1.2 1.1-.7 1.1-2.6 1.1-.6 1.1-2.3 1.1-3.1 1.1-1.3 1.1-2.2 1.1,.1 1.1-1.1 1.1,.8 1.1-.5 1.1,.4 1.1,.3 1.1-1.1 1.1,.3 1.1-.4 1.1,1.4 1.1,.4 1.1-.7 1.1,1 1.1-.2 1.1-.2 1.1-.4 1.1,.8 1.1,.3 1.1,.1 1.1,1.3 1.1,1.2 1.1-.2 1.1,.6 1.1,.5 1.1,.1 1.1,.3 1.1,1.3 1.1,1 1.1-.8 1.1-1.8 1.1-2.2 1.1-1.7 1.1-2 1.1-.9 1.1-1.9 1.1,.4 1.1,1 1.1,1.1 1.1,1.3 1.1-.8 1.1,0 1.1-2.9 1.1-.3 1.1,.8 M574.2,504.5l 1.1,1.1 1.1-.5 1.1-.2 1.1-2.3 1.1,2.7 1.1-.1 1.1,.7 1.1,.8 1.1-.2 1.1-.5 1.1-1.2 1.1,.5 1.1,0 1.1-1.2 1.1-.7 1.1-1.4 1.1-.8 1.1-.1 1.1,1 1.1,.6 1.1,2.8 1.1,2.3 1.1,2 1.1,.8 1.1,2.8 1.1,1.6 1.1,2.7 1.1,4.2 1.1,3.2 1.1,4.3 1.1,2.9 1.1,.9 1.1-1.9 1.1-1.5 1.1-2 1.1-.6 1.1-1.2 1.1-2.2 1.1-.4 1.1-2.2 1.1-2 1.1-1.7 1.1-1.4 1.1-3.1 1.1-2.3 1.1-1.8 1.1-2.7 1.1-1.5 1.1-.2 1.1-1.2 1.1-.5 1.1-1.5 1.1-1 1.1-1 1.1,2.7 1.1-.3 1.1-.4 1.1,0 1.1-.9 1.1-.3 1.1-.8 1.1,.2 1.1,.3 1.1,2.1 1.1,.2 1.1,.7 1.1,.4 1.1-.2 1.1-1.8 1.1,.4 1.1-2 1.1,.6 1.1-.8 1.1-.8 1.1-.1 1.1,1.4 1.1-1.1 1.1-.1 1.1-.5 1.1-.9 1.1,.3 1.1-.3 1.1,.4 1.1-.3 1.1,.4 1.1-.5 1.1-.4 1.1,.4 1.1-.4 1.1,1.5 M574.2,485.5l 1.1,.2 1.1-.5 1.1,1.4 1.1-1.6 1.1-.1 1.1-1.8 1.1-.1 1.1-2.5 1.1-.2 1.1,.3 1.1-.4 1.1,1.2 1.1,.7 1.1-.3 1.1,.5 1.1,.2 1.1-.2 1.1,1.5 1.1,.2 1.1,.4 1.1,.6 1.1,1 1.1,1.9 1.1,.6 1.1,.8 1.1,2.5 1.1,1.3 1.1,2 1.1,3.7 1.1-.2 1.1-1.5 1.1-3.9 1.1-1.9 1.1-1.1 1.1-1.5 1.1-1.6 1.1-2 1.1-.9 1.1-2 1.1-2.5 1.1-2 1.1-2.5 1.1-1.9 1.1-2.4 1.1,.6 1.1-.9 1.1,1.3 1.1-.5 1.1,.7 1.1,.3 1.1,1.6 1.1-.3 1.1-.9 1.1,.1 1.1,1.3 1.1-.6 1.1,0 1.1,.1 1.1-.1 1.1-.1 1.1,1.7 1.1,1 1.1-.9 1.1-.4 1.1,1.3 1.1-1.4 1.1-.2 1.1-2 1.1,.6 1.1-.5 1.1,1.8 1.1,2.3 1.1,.4 1.1,1.9 1.1,.1 1.1,.3 1.1-.4 1.1,.5 1.1-.7 1.1,.3 1.1-.6 1.1,.2 1.1-.5 1.1-.5 1.1,.1 1.1,.5 1.1-1.8 1.1-.2 1.1-.5 1.1-.8 M574.2,479.4l 1.1,.2 1.1,1.4 1.1-.3 1.1,1 1.1,2.2 1.1,.3 1.1-.5 1.1-1.1 1.1-2.4 1.1-.3 1.1-1 1.1,.6 1.1,.4 1.1,1.1 1.1,1.5 1.1,.3 1.1,.8 1.1-1.8 1.1,1 1.1-.5 1.1-1.5 1.1,.5 1.1,3.3 1.1-.2 1.1,2.1 1.1,.6 1.1,2.8 1.1,2.2 1.1,2.7 1.1,2.8 1.1-3.4 1.1-3.6 1.1-3.7 1.1-1.1 1.1-1.6 1.1-3.1 1.1,0 1.1-2 1.1-3.2 1.1-1 1.1-1.3 1.1-2.4 1.1-1.1 1.1-1.7 1.1-.3 1.1,.1 1.1-.4 1.1,1.6 1.1,.1 1.1,1.2 1.1-.7 1.1,.3 1.1,1.1 1.1-1 1.1,.2 1.1-.6 1.1,.7 1.1-1.5 1.1,.2 1.1-.7 1.1-.8 1.1-.1 1.1,.5 1.1,.9 1.1,.1 1.1,2.2 1.1,1.2 1.1,.9 1.1,1 1.1-1.4 1.1-.7 1.1,.8 1.1,1.5 1.1-.1 1.1,.9 1.1,.9 1.1-.7 1.1,1.1 1.1-1 1.1,.4 1.1-1.1 1.1-.8 1.1,.3 1.1,.9 1.1-1.4 1.1-.1 1.1-.5 1.1-.4 1.1,1 1.1,.1 M574.2,502.9l 1.1,.4 1.1-.5 1.1-.7 1.1-1.2 1.1-2 1.1,.1 1.1-1.4 1.1,2.9 1.1-.6 1.1,2.2 1.1,1 1.1-.2 1.1-1.2 1.1-.7 1.1,.3 1.1,.1 1.1-.3 1.1,.3 1.1-.5 1.1-.6 1.1,1.4 1.1,2.4 1.1,2.6 1.1,3.2 1.1,3.9 1.1,2.9 1.1,2 1.1,2.8 1.1,2.1 1.1,.9 1.1,2.1 1.1,.2 1.1-1.4 1.1-.1 1.1,.8 1.1-.9 1.1-4.1 1.1-3.3 1.1-1.7 1.1-2.4 1.1-2.1 1.1-1.6 1.1-2 1.1-2.1 1.1-.6 1.1-1.3 1.1-2.7 1.1-2.9 1.1,0 1.1-1.7 1.1,.2 1.1-.1 1.1-.9 1.1,.6 1.1-1.2 1.1-.3 1.1-1.7 1.1-.5 1.1,1 1.1-.5 1.1,2.9 1.1-.9 1.1,1 1.1,.2 1.1,.2 1.1-.9 1.1-.6 1.1-.3 1.1-.7 1.1,1.6 1.1,.1 1.1,1.3 1.1,0 1.1,0 1.1,.4 1.1-.3 1.1,.5 1.1-.7 1.1,0 1.1-.6 1.1-1.4 1.1-.9 1.1,.9 1.1-.4 1.1,0 1.1,.4 1.1-.2 1.1,1 1.1-1.1 1.1-.5" fill="none" stroke="#96ec44" stroke-width="0.6" opacity="0.85"/>
<path d="M574.2,488.6 L578.4,488.6 L582.6,486.9 L586.8,489.4 L593.5,490.3 L598.5,494.4 L602.7,502.0 L606.1,509.6 L607.8,512.9 L610.3,507.0 L615.3,497.0 L620.4,490.3 L627.1,481.9 L633.8,481.0 L638.8,482.7 L643.9,486.1 L648.9,487.4 L652.3,486.1 L656.5,487.7 L662.3,483.9 L667.4,483.9 L674.1,483.2" fill="none" stroke="#000" stroke-width="1.8" stroke-linejoin="round"/>
<text x="606.0" y="215.6" font-size="8.7" font-weight="bold" fill="#000" text-anchor="start" textLength="40.4" lengthAdjust="spacingAndGlyphs" >SNR = <tspan fill="#1c1ce6">5.8</tspan></text>
<text x="606.0" y="333.9" font-size="8.7" font-weight="bold" fill="#000" text-anchor="start" textLength="40.4" lengthAdjust="spacingAndGlyphs" >SNR = 4.8</text>
<text x="606.0" y="453.9" font-size="8.7" font-weight="bold" fill="#000" text-anchor="start" textLength="40.4" lengthAdjust="spacingAndGlyphs" >SNR = 5.7</text>
<path d="M671.7,286.2 L671.7,307.2 L637.3,307.2" fill="none" stroke="#000" stroke-width="1.5"/>
<text x="660.7" y="319.0" font-size="7.4" font-weight="bold" fill="#000" text-anchor="middle" >1ms</text>
<text transform="translate(682.0,297.0) rotate(90)" x="0" y="0" font-size="7.8" font-weight="bold" fill="#000" text-anchor="middle" dominant-baseline="central">50μV</text>
<path d="M673.2,403.1 L673.2,422.4 L639.7,422.4" fill="none" stroke="#000" stroke-width="1.5"/>
<text x="660.7" y="434.2" font-size="7.4" font-weight="bold" fill="#000" text-anchor="middle" >1ms</text>
<text transform="translate(682.0,412.5) rotate(90)" x="0" y="0" font-size="7.8" font-weight="bold" fill="#000" text-anchor="middle" dominant-baseline="central">50μV</text>
<path d="M672.5,512.3 L672.5,535.1 L641.1,535.1" fill="none" stroke="#000" stroke-width="1.5"/>
<text x="660.7" y="547.9" font-size="7.4" font-weight="bold" fill="#000" text-anchor="middle" >1ms</text>
<text transform="translate(682.0,523.7) rotate(90)" x="0" y="0" font-size="7.8" font-weight="bold" fill="#000" text-anchor="middle" dominant-baseline="central">50μV</text>
<defs><linearGradient id="cbar" x1="0" y1="0" x2="0" y2="1">
<stop offset="0" stop-color="#fff4f4"/><stop offset="0.12" stop-color="#ffb4b8"/><stop offset="0.22" stop-color="#ff6a70"/><stop offset="0.3" stop-color="#ff0a0a"/><stop offset="0.36" stop-color="#ff5000"/><stop offset="0.42" stop-color="#ffb000"/><stop offset="0.47" stop-color="#ffff00"/><stop offset="0.53" stop-color="#a0ff00"/><stop offset="0.6" stop-color="#00ff20"/><stop offset="0.68" stop-color="#00ffa0"/><stop offset="0.73" stop-color="#00f0ff"/><stop offset="0.79" stop-color="#0090ff"/><stop offset="0.85" stop-color="#0010ff"/><stop offset="0.91" stop-color="#3000c0"/><stop offset="1" stop-color="#3a0870"/>
</linearGradient></defs>
<text x="6.0" y="578.6" font-size="13" font-weight="bold" fill="#000" text-anchor="start" >f</text>
<rect x="26.7" y="588.0" width="266.0" height="155.0" fill="#00ff80"/>
<path fill="#00f0ff" d="M26.7,588.0h7.2v5.34h-7.2zM41.1,588.0h7.2v5.34h-7.2zM55.5,588.0h7.2v5.34h-7.2zM91.4,588.0h7.2v5.34h-7.2zM105.8,588.0h7.2v5.34h-7.2zM148.9,588.0h7.2v5.34h-7.2zM228.0,588.0h14.4v5.34h-14.4zM263.9,588.0h14.4v5.34h-14.4zM84.2,593.3h7.2v5.34h-7.2zM141.7,593.3h14.4v5.34h-14.4zM242.4,593.3h14.4v5.34h-14.4zM33.9,598.7h7.2v5.34h-7.2zM84.2,598.7h7.2v5.34h-7.2zM113.0,598.7h14.4v5.34h-14.4zM163.3,598.7h7.2v5.34h-7.2zM177.7,598.7h14.4v5.34h-14.4zM249.6,598.7h7.2v5.34h-7.2zM278.3,598.7h7.2v5.34h-7.2zM33.9,604.0h7.2v5.34h-7.2zM55.5,604.0h7.2v5.34h-7.2zM105.8,604.0h7.2v5.34h-7.2zM120.2,604.0h14.4v5.34h-14.4zM141.7,604.0h7.2v5.34h-7.2zM184.9,604.0h7.2v5.34h-7.2zM206.4,604.0h7.2v5.34h-7.2zM278.3,604.0h7.2v5.34h-7.2zM33.9,609.4h7.2v5.34h-7.2zM55.5,609.4h7.2v5.34h-7.2zM84.2,609.4h7.2v5.34h-7.2zM120.2,609.4h7.2v5.34h-7.2zM134.5,609.4h7.2v5.34h-7.2zM170.5,609.4h7.2v5.34h-7.2zM206.4,609.4h14.4v5.34h-14.4zM242.4,609.4h7.2v5.34h-7.2zM256.8,609.4h7.2v5.34h-7.2zM55.5,614.7h7.2v5.34h-7.2zM84.2,614.7h7.2v5.34h-7.2zM156.1,614.7h7.2v5.34h-7.2zM206.4,614.7h14.4v5.34h-14.4zM263.9,614.7h7.2v5.34h-7.2zM26.7,620.1h21.6v5.34h-21.6zM55.5,620.1h7.2v5.34h-7.2zM84.2,620.1h28.8v5.34h-28.8zM120.2,620.1h21.6v5.34h-21.6zM156.1,620.1h7.2v5.34h-7.2zM206.4,620.1h7.2v5.34h-7.2zM228.0,620.1h7.2v5.34h-7.2zM33.9,625.4h28.8v5.34h-28.8zM77.0,625.4h7.2v5.34h-7.2zM156.1,625.4h14.4v5.34h-14.4zM177.7,625.4h14.4v5.34h-14.4zM213.6,625.4h7.2v5.34h-7.2zM263.9,625.4h7.2v5.34h-7.2zM278.3,625.4h7.2v5.34h-7.2zM41.1,630.8h7.2v5.34h-7.2zM77.0,630.8h21.6v5.34h-21.6zM113.0,630.8h7.2v5.34h-7.2zM163.3,630.8h7.2v5.34h-7.2zM199.2,630.8h7.2v5.34h-7.2zM242.4,630.8h7.2v5.34h-7.2zM271.1,630.8h7.2v5.34h-7.2zM33.9,636.1h7.2v5.34h-7.2zM55.5,636.1h7.2v5.34h-7.2zM84.2,636.1h57.5v5.34h-57.5zM156.1,636.1h14.4v5.34h-14.4zM177.7,636.1h7.2v5.34h-7.2zM199.2,636.1h7.2v5.34h-7.2zM213.6,636.1h7.2v5.34h-7.2zM41.1,641.4h7.2v5.34h-7.2zM62.6,641.4h7.2v5.34h-7.2zM84.2,641.4h7.2v5.34h-7.2zM105.8,641.4h7.2v5.34h-7.2zM134.5,641.4h14.4v5.34h-14.4zM184.9,641.4h7.2v5.34h-7.2zM213.6,641.4h7.2v5.34h-7.2zM228.0,641.4h21.6v5.34h-21.6zM278.3,641.4h7.2v5.34h-7.2zM41.1,646.8h7.2v5.34h-7.2zM105.8,646.8h7.2v5.34h-7.2zM156.1,646.8h7.2v5.34h-7.2zM213.6,646.8h7.2v5.34h-7.2zM249.6,646.8h7.2v5.34h-7.2zM91.4,652.1h7.2v5.34h-7.2zM148.9,652.1h14.4v5.34h-14.4zM170.5,652.1h7.2v5.34h-7.2zM184.9,652.1h7.2v5.34h-7.2zM228.0,652.1h7.2v5.34h-7.2zM33.9,657.5h7.2v5.34h-7.2zM77.0,657.5h21.6v5.34h-21.6zM113.0,657.5h7.2v5.34h-7.2zM134.5,657.5h7.2v5.34h-7.2zM156.1,657.5h7.2v5.34h-7.2zM228.0,657.5h7.2v5.34h-7.2zM263.9,657.5h7.2v5.34h-7.2zM285.5,657.5h7.2v5.34h-7.2zM84.2,662.8h7.2v5.34h-7.2zM113.0,662.8h14.4v5.34h-14.4zM156.1,662.8h14.4v5.34h-14.4zM184.9,662.8h7.2v5.34h-7.2zM199.2,662.8h7.2v5.34h-7.2zM220.8,662.8h7.2v5.34h-7.2zM242.4,662.8h7.2v5.34h-7.2zM91.4,668.2h7.2v5.34h-7.2zM120.2,668.2h7.2v5.34h-7.2zM177.7,668.2h7.2v5.34h-7.2zM192.1,668.2h14.4v5.34h-14.4zM242.4,668.2h7.2v5.34h-7.2zM278.3,668.2h7.2v5.34h-7.2zM33.9,673.5h7.2v5.34h-7.2zM55.5,673.5h7.2v5.34h-7.2zM77.0,673.5h7.2v5.34h-7.2zM134.5,673.5h14.4v5.34h-14.4zM184.9,673.5h7.2v5.34h-7.2zM206.4,673.5h7.2v5.34h-7.2zM249.6,673.5h7.2v5.34h-7.2zM33.9,678.9h7.2v5.34h-7.2zM55.5,678.9h14.4v5.34h-14.4zM184.9,678.9h7.2v5.34h-7.2zM220.8,678.9h7.2v5.34h-7.2zM278.3,678.9h14.4v5.34h-14.4zM55.5,684.2h7.2v5.34h-7.2zM69.8,684.2h7.2v5.34h-7.2zM105.8,684.2h7.2v5.34h-7.2zM192.1,684.2h7.2v5.34h-7.2zM55.5,689.6h7.2v5.34h-7.2zM84.2,689.6h7.2v5.34h-7.2zM105.8,689.6h7.2v5.34h-7.2zM105.8,694.9h7.2v5.34h-7.2zM156.1,694.9h7.2v5.34h-7.2zM184.9,694.9h7.2v5.34h-7.2zM220.8,694.9h7.2v5.34h-7.2zM62.6,700.2h7.2v5.34h-7.2zM77.0,700.2h7.2v5.34h-7.2zM220.8,700.2h7.2v5.34h-7.2zM55.5,705.6h7.2v5.34h-7.2zM192.1,705.6h7.2v5.34h-7.2zM26.7,716.3h7.2v5.34h-7.2zM148.9,737.7h7.2v5.34h-7.2z"/><path fill="#00c0ff" d="M33.9,588.0h7.2v5.34h-7.2zM98.6,588.0h7.2v5.34h-7.2zM134.5,588.0h7.2v5.34h-7.2zM184.9,588.0h14.4v5.34h-14.4zM242.4,588.0h7.2v5.34h-7.2zM278.3,588.0h7.2v5.34h-7.2zM48.3,593.3h14.4v5.34h-14.4zM91.4,593.3h7.2v5.34h-7.2zM177.7,593.3h7.2v5.34h-7.2zM192.1,593.3h7.2v5.34h-7.2zM48.3,598.7h7.2v5.34h-7.2zM105.8,598.7h7.2v5.34h-7.2zM127.3,598.7h14.4v5.34h-14.4zM148.9,598.7h7.2v5.34h-7.2zM192.1,598.7h7.2v5.34h-7.2zM206.4,598.7h7.2v5.34h-7.2zM256.8,598.7h7.2v5.34h-7.2zM26.7,604.0h7.2v5.34h-7.2zM170.5,604.0h14.4v5.34h-14.4zM213.6,604.0h7.2v5.34h-7.2zM228.0,604.0h7.2v5.34h-7.2zM256.8,604.0h7.2v5.34h-7.2zM91.4,609.4h14.4v5.34h-14.4zM177.7,609.4h14.4v5.34h-14.4zM249.6,609.4h7.2v5.34h-7.2zM127.3,614.7h14.4v5.34h-14.4zM163.3,614.7h14.4v5.34h-14.4zM285.5,614.7h7.2v5.34h-7.2zM48.3,620.1h7.2v5.34h-7.2zM170.5,620.1h7.2v5.34h-7.2zM184.9,620.1h7.2v5.34h-7.2zM199.2,620.1h7.2v5.34h-7.2zM235.2,620.1h7.2v5.34h-7.2zM249.6,620.1h7.2v5.34h-7.2zM26.7,625.4h7.2v5.34h-7.2zM62.6,625.4h14.4v5.34h-14.4zM120.2,625.4h7.2v5.34h-7.2zM141.7,625.4h7.2v5.34h-7.2zM199.2,625.4h7.2v5.34h-7.2zM235.2,625.4h7.2v5.34h-7.2zM48.3,630.8h7.2v5.34h-7.2zM69.8,630.8h7.2v5.34h-7.2zM127.3,630.8h14.4v5.34h-14.4zM170.5,630.8h14.4v5.34h-14.4zM213.6,630.8h7.2v5.34h-7.2zM235.2,630.8h7.2v5.34h-7.2zM26.7,636.1h7.2v5.34h-7.2zM62.6,636.1h7.2v5.34h-7.2zM77.0,636.1h7.2v5.34h-7.2zM170.5,636.1h7.2v5.34h-7.2zM184.9,636.1h7.2v5.34h-7.2zM220.8,636.1h7.2v5.34h-7.2zM235.2,636.1h7.2v5.34h-7.2zM249.6,636.1h14.4v5.34h-14.4zM26.7,641.4h7.2v5.34h-7.2zM69.8,641.4h7.2v5.34h-7.2zM156.1,641.4h7.2v5.34h-7.2zM170.5,641.4h7.2v5.34h-7.2zM199.2,641.4h7.2v5.34h-7.2zM220.8,641.4h7.2v5.34h-7.2zM249.6,641.4h7.2v5.34h-7.2zM33.9,646.8h7.2v5.34h-7.2zM120.2,646.8h7.2v5.34h-7.2zM134.5,646.8h21.6v5.34h-21.6zM199.2,646.8h7.2v5.34h-7.2zM242.4,646.8h7.2v5.34h-7.2zM41.1,652.1h7.2v5.34h-7.2zM69.8,652.1h7.2v5.34h-7.2zM105.8,652.1h7.2v5.34h-7.2zM120.2,652.1h14.4v5.34h-14.4zM213.6,652.1h7.2v5.34h-7.2zM263.9,652.1h7.2v5.34h-7.2zM48.3,657.5h14.4v5.34h-14.4zM105.8,657.5h7.2v5.34h-7.2zM170.5,657.5h7.2v5.34h-7.2zM271.1,657.5h7.2v5.34h-7.2zM177.7,662.8h7.2v5.34h-7.2zM206.4,662.8h7.2v5.34h-7.2zM249.6,662.8h7.2v5.34h-7.2zM285.5,662.8h7.2v5.34h-7.2zM48.3,668.2h7.2v5.34h-7.2zM77.0,668.2h14.4v5.34h-14.4zM156.1,668.2h14.4v5.34h-14.4zM220.8,668.2h7.2v5.34h-7.2zM249.6,668.2h7.2v5.34h-7.2zM285.5,668.2h7.2v5.34h-7.2zM84.2,673.5h7.2v5.34h-7.2zM98.6,673.5h7.2v5.34h-7.2zM26.7,684.2h7.2v5.34h-7.2zM84.2,684.2h7.2v5.34h-7.2zM163.3,684.2h7.2v5.34h-7.2zM206.4,684.2h7.2v5.34h-7.2zM249.6,684.2h7.2v5.34h-7.2zM184.9,689.6h7.2v5.34h-7.2zM206.4,694.9h7.2v5.34h-7.2zM285.5,694.9h7.2v5.34h-7.2zM213.6,700.2h7.2v5.34h-7.2zM91.4,716.3h7.2v5.34h-7.2zM213.6,716.3h7.2v5.34h-7.2z"/><path fill="#0090ff" d="M48.3,588.0h7.2v5.34h-7.2zM62.6,588.0h7.2v5.34h-7.2zM77.0,588.0h7.2v5.34h-7.2zM120.2,588.0h7.2v5.34h-7.2zM141.7,588.0h7.2v5.34h-7.2zM163.3,588.0h7.2v5.34h-7.2zM220.8,588.0h7.2v5.34h-7.2zM256.8,588.0h7.2v5.34h-7.2zM285.5,588.0h7.2v5.34h-7.2zM26.7,593.3h7.2v5.34h-7.2zM41.1,593.3h7.2v5.34h-7.2zM62.6,593.3h7.2v5.34h-7.2zM77.0,593.3h7.2v5.34h-7.2zM105.8,593.3h7.2v5.34h-7.2zM120.2,593.3h14.4v5.34h-14.4zM170.5,593.3h7.2v5.34h-7.2zM184.9,593.3h7.2v5.34h-7.2zM199.2,593.3h14.4v5.34h-14.4zM285.5,593.3h7.2v5.34h-7.2zM69.8,598.7h7.2v5.34h-7.2zM98.6,598.7h7.2v5.34h-7.2zM141.7,598.7h7.2v5.34h-7.2zM199.2,598.7h7.2v5.34h-7.2zM220.8,598.7h7.2v5.34h-7.2zM263.9,598.7h7.2v5.34h-7.2zM285.5,598.7h7.2v5.34h-7.2zM77.0,604.0h7.2v5.34h-7.2zM98.6,604.0h7.2v5.34h-7.2zM134.5,604.0h7.2v5.34h-7.2zM192.1,604.0h7.2v5.34h-7.2zM242.4,604.0h14.4v5.34h-14.4zM263.9,604.0h7.2v5.34h-7.2zM26.7,609.4h7.2v5.34h-7.2zM62.6,609.4h21.6v5.34h-21.6zM105.8,609.4h7.2v5.34h-7.2zM127.3,609.4h7.2v5.34h-7.2zM148.9,609.4h7.2v5.34h-7.2zM220.8,609.4h21.6v5.34h-21.6zM41.1,614.7h7.2v5.34h-7.2zM77.0,614.7h7.2v5.34h-7.2zM105.8,614.7h7.2v5.34h-7.2zM199.2,614.7h7.2v5.34h-7.2zM256.8,614.7h7.2v5.34h-7.2zM62.6,620.1h7.2v5.34h-7.2zM77.0,620.1h7.2v5.34h-7.2zM148.9,620.1h7.2v5.34h-7.2zM192.1,620.1h7.2v5.34h-7.2zM263.9,620.1h7.2v5.34h-7.2zM285.5,620.1h7.2v5.34h-7.2zM84.2,625.4h21.6v5.34h-21.6zM192.1,625.4h7.2v5.34h-7.2zM220.8,625.4h7.2v5.34h-7.2zM26.7,630.8h7.2v5.34h-7.2zM105.8,630.8h7.2v5.34h-7.2zM120.2,630.8h7.2v5.34h-7.2zM156.1,630.8h7.2v5.34h-7.2zM192.1,630.8h7.2v5.34h-7.2zM206.4,630.8h7.2v5.34h-7.2zM256.8,630.8h7.2v5.34h-7.2zM285.5,630.8h7.2v5.34h-7.2zM48.3,636.1h7.2v5.34h-7.2zM69.8,636.1h7.2v5.34h-7.2zM263.9,636.1h14.4v5.34h-14.4zM48.3,641.4h14.4v5.34h-14.4zM127.3,641.4h7.2v5.34h-7.2zM256.8,641.4h7.2v5.34h-7.2zM271.1,641.4h7.2v5.34h-7.2zM285.5,641.4h7.2v5.34h-7.2zM62.6,646.8h14.4v5.34h-14.4zM91.4,646.8h7.2v5.34h-7.2zM163.3,646.8h7.2v5.34h-7.2zM177.7,646.8h14.4v5.34h-14.4zM220.8,646.8h7.2v5.34h-7.2zM235.2,646.8h7.2v5.34h-7.2zM33.9,652.1h7.2v5.34h-7.2zM48.3,652.1h14.4v5.34h-14.4zM113.0,652.1h7.2v5.34h-7.2zM141.7,652.1h7.2v5.34h-7.2zM163.3,652.1h7.2v5.34h-7.2zM220.8,652.1h7.2v5.34h-7.2zM235.2,652.1h28.8v5.34h-28.8zM285.5,652.1h7.2v5.34h-7.2zM98.6,657.5h7.2v5.34h-7.2zM163.3,657.5h7.2v5.34h-7.2zM192.1,657.5h7.2v5.34h-7.2zM206.4,657.5h7.2v5.34h-7.2zM235.2,657.5h7.2v5.34h-7.2zM278.3,657.5h7.2v5.34h-7.2zM26.7,662.8h7.2v5.34h-7.2zM91.4,662.8h21.6v5.34h-21.6zM170.5,662.8h7.2v5.34h-7.2zM192.1,662.8h7.2v5.34h-7.2zM184.9,668.2h7.2v5.34h-7.2zM206.4,668.2h7.2v5.34h-7.2zM256.8,668.2h7.2v5.34h-7.2zM62.6,673.5h7.2v5.34h-7.2zM213.6,673.5h7.2v5.34h-7.2zM285.5,673.5h7.2v5.34h-7.2zM33.9,684.2h7.2v5.34h-7.2zM26.7,689.6h7.2v5.34h-7.2zM26.7,705.6h7.2v5.34h-7.2z"/><path fill="#4000bc" d="M69.8,588.0h7.2v5.34h-7.2zM249.6,588.0h7.2v5.34h-7.2zM156.1,593.3h7.2v5.34h-7.2zM69.8,604.0h7.2v5.34h-7.2zM69.8,614.7h7.2v5.34h-7.2zM184.9,614.7h7.2v5.34h-7.2zM220.8,620.1h7.2v5.34h-7.2zM256.8,620.1h7.2v5.34h-7.2zM105.8,625.4h7.2v5.34h-7.2zM206.4,636.1h7.2v5.34h-7.2zM192.1,641.4h7.2v5.34h-7.2zM26.7,646.8h7.2v5.34h-7.2zM98.6,646.8h7.2v5.34h-7.2zM271.1,646.8h7.2v5.34h-7.2zM98.6,652.1h7.2v5.34h-7.2zM192.1,652.1h14.4v5.34h-14.4zM271.1,652.1h7.2v5.34h-7.2zM48.3,673.5h7.2v5.34h-7.2zM91.4,673.5h7.2v5.34h-7.2z"/><path fill="#00ffb0" d="M84.2,588.0h7.2v5.34h-7.2zM113.0,588.0h7.2v5.34h-7.2zM127.3,588.0h7.2v5.34h-7.2zM177.7,588.0h7.2v5.34h-7.2zM213.6,588.0h7.2v5.34h-7.2zM33.9,593.3h7.2v5.34h-7.2zM113.0,593.3h7.2v5.34h-7.2zM213.6,593.3h7.2v5.34h-7.2zM235.2,593.3h7.2v5.34h-7.2zM263.9,593.3h7.2v5.34h-7.2zM278.3,593.3h7.2v5.34h-7.2zM213.6,598.7h7.2v5.34h-7.2zM235.2,598.7h7.2v5.34h-7.2zM271.1,598.7h7.2v5.34h-7.2zM41.1,604.0h7.2v5.34h-7.2zM84.2,604.0h7.2v5.34h-7.2zM113.0,604.0h7.2v5.34h-7.2zM148.9,604.0h14.4v5.34h-14.4zM41.1,609.4h7.2v5.34h-7.2zM141.7,609.4h7.2v5.34h-7.2zM156.1,609.4h7.2v5.34h-7.2zM278.3,609.4h7.2v5.34h-7.2zM33.9,614.7h7.2v5.34h-7.2zM48.3,614.7h7.2v5.34h-7.2zM98.6,614.7h7.2v5.34h-7.2zM113.0,614.7h14.4v5.34h-14.4zM148.9,614.7h7.2v5.34h-7.2zM235.2,614.7h21.6v5.34h-21.6zM271.1,614.7h14.4v5.34h-14.4zM177.7,620.1h7.2v5.34h-7.2zM213.6,620.1h7.2v5.34h-7.2zM242.4,620.1h7.2v5.34h-7.2zM271.1,620.1h14.4v5.34h-14.4zM113.0,625.4h7.2v5.34h-7.2zM148.9,625.4h7.2v5.34h-7.2zM228.0,625.4h7.2v5.34h-7.2zM249.6,625.4h7.2v5.34h-7.2zM33.9,630.8h7.2v5.34h-7.2zM249.6,630.8h7.2v5.34h-7.2zM263.9,630.8h7.2v5.34h-7.2zM41.1,636.1h7.2v5.34h-7.2zM141.7,636.1h7.2v5.34h-7.2zM242.4,636.1h7.2v5.34h-7.2zM278.3,636.1h7.2v5.34h-7.2zM113.0,641.4h14.4v5.34h-14.4zM148.9,641.4h7.2v5.34h-7.2zM177.7,641.4h7.2v5.34h-7.2zM113.0,646.8h7.2v5.34h-7.2zM228.0,646.8h7.2v5.34h-7.2zM41.1,657.5h7.2v5.34h-7.2zM62.6,657.5h7.2v5.34h-7.2zM120.2,657.5h14.4v5.34h-14.4zM141.7,657.5h14.4v5.34h-14.4zM184.9,657.5h7.2v5.34h-7.2zM213.6,657.5h7.2v5.34h-7.2zM256.8,657.5h7.2v5.34h-7.2zM48.3,662.8h14.4v5.34h-14.4zM213.6,662.8h7.2v5.34h-7.2zM256.8,662.8h28.8v5.34h-28.8zM26.7,668.2h14.4v5.34h-14.4zM98.6,668.2h14.4v5.34h-14.4zM134.5,668.2h7.2v5.34h-7.2zM170.5,668.2h7.2v5.34h-7.2zM213.6,668.2h7.2v5.34h-7.2zM263.9,668.2h14.4v5.34h-14.4zM69.8,673.5h7.2v5.34h-7.2zM163.3,673.5h7.2v5.34h-7.2zM177.7,673.5h7.2v5.34h-7.2zM192.1,673.5h7.2v5.34h-7.2zM256.8,673.5h7.2v5.34h-7.2zM278.3,673.5h7.2v5.34h-7.2zM48.3,678.9h7.2v5.34h-7.2zM69.8,678.9h7.2v5.34h-7.2zM84.2,678.9h7.2v5.34h-7.2zM98.6,678.9h7.2v5.34h-7.2zM134.5,678.9h7.2v5.34h-7.2zM163.3,678.9h7.2v5.34h-7.2zM177.7,678.9h7.2v5.34h-7.2zM206.4,678.9h14.4v5.34h-14.4zM235.2,678.9h7.2v5.34h-7.2zM249.6,678.9h14.4v5.34h-14.4zM91.4,684.2h14.4v5.34h-14.4zM134.5,684.2h7.2v5.34h-7.2zM177.7,684.2h14.4v5.34h-14.4zM199.2,684.2h7.2v5.34h-7.2zM213.6,684.2h7.2v5.34h-7.2zM235.2,684.2h14.4v5.34h-14.4zM278.3,684.2h7.2v5.34h-7.2zM48.3,689.6h7.2v5.34h-7.2zM62.6,689.6h7.2v5.34h-7.2zM77.0,689.6h7.2v5.34h-7.2zM91.4,689.6h14.4v5.34h-14.4zM141.7,689.6h7.2v5.34h-7.2zM156.1,689.6h7.2v5.34h-7.2zM192.1,689.6h7.2v5.34h-7.2zM206.4,689.6h21.6v5.34h-21.6zM242.4,689.6h21.6v5.34h-21.6zM33.9,694.9h7.2v5.34h-7.2zM48.3,694.9h7.2v5.34h-7.2zM77.0,694.9h28.8v5.34h-28.8zM148.9,694.9h7.2v5.34h-7.2zM213.6,694.9h7.2v5.34h-7.2zM256.8,694.9h7.2v5.34h-7.2zM278.3,694.9h7.2v5.34h-7.2zM33.9,700.2h7.2v5.34h-7.2zM55.5,700.2h7.2v5.34h-7.2zM84.2,700.2h14.4v5.34h-14.4zM105.8,700.2h7.2v5.34h-7.2zM192.1,700.2h7.2v5.34h-7.2zM285.5,700.2h7.2v5.34h-7.2zM33.9,705.6h7.2v5.34h-7.2zM62.6,705.6h7.2v5.34h-7.2zM91.4,705.6h21.6v5.34h-21.6zM170.5,705.6h21.6v5.34h-21.6zM206.4,705.6h28.8v5.34h-28.8zM242.4,705.6h14.4v5.34h-14.4zM33.9,710.9h7.2v5.34h-7.2zM91.4,710.9h7.2v5.34h-7.2zM192.1,710.9h7.2v5.34h-7.2zM213.6,710.9h21.6v5.34h-21.6zM278.3,710.9h7.2v5.34h-7.2zM48.3,716.3h7.2v5.34h-7.2zM192.1,716.3h7.2v5.34h-7.2zM220.8,716.3h14.4v5.34h-14.4zM48.3,721.6h7.2v5.34h-7.2zM91.4,721.6h7.2v5.34h-7.2zM192.1,721.6h14.4v5.34h-14.4zM220.8,721.6h7.2v5.34h-7.2zM33.9,727.0h7.2v5.34h-7.2zM69.8,727.0h7.2v5.34h-7.2zM220.8,727.0h7.2v5.34h-7.2zM98.6,732.3h7.2v5.34h-7.2z"/><path fill="#0050ff" d="M156.1,588.0h7.2v5.34h-7.2zM199.2,588.0h7.2v5.34h-7.2zM220.8,593.3h7.2v5.34h-7.2zM271.1,593.3h7.2v5.34h-7.2zM26.7,598.7h7.2v5.34h-7.2zM41.1,598.7h7.2v5.34h-7.2zM77.0,598.7h7.2v5.34h-7.2zM156.1,598.7h7.2v5.34h-7.2zM242.4,598.7h7.2v5.34h-7.2zM48.3,604.0h7.2v5.34h-7.2zM62.6,604.0h7.2v5.34h-7.2zM91.4,604.0h7.2v5.34h-7.2zM235.2,604.0h7.2v5.34h-7.2zM163.3,609.4h7.2v5.34h-7.2zM263.9,609.4h7.2v5.34h-7.2zM285.5,609.4h7.2v5.34h-7.2zM26.7,614.7h7.2v5.34h-7.2zM62.6,614.7h7.2v5.34h-7.2zM127.3,625.4h14.4v5.34h-14.4zM170.5,625.4h7.2v5.34h-7.2zM242.4,625.4h7.2v5.34h-7.2zM285.5,625.4h7.2v5.34h-7.2zM62.6,630.8h7.2v5.34h-7.2zM98.6,630.8h7.2v5.34h-7.2zM220.8,630.8h7.2v5.34h-7.2zM192.1,636.1h7.2v5.34h-7.2zM33.9,641.4h7.2v5.34h-7.2zM77.0,641.4h7.2v5.34h-7.2zM206.4,641.4h7.2v5.34h-7.2zM55.5,646.8h7.2v5.34h-7.2zM77.0,646.8h14.4v5.34h-14.4zM170.5,646.8h7.2v5.34h-7.2zM256.8,646.8h14.4v5.34h-14.4zM278.3,646.8h7.2v5.34h-7.2zM26.7,652.1h7.2v5.34h-7.2zM62.6,652.1h7.2v5.34h-7.2zM77.0,652.1h14.4v5.34h-14.4zM134.5,652.1h7.2v5.34h-7.2zM206.4,652.1h7.2v5.34h-7.2zM278.3,652.1h7.2v5.34h-7.2zM26.7,657.5h7.2v5.34h-7.2zM69.8,657.5h7.2v5.34h-7.2zM77.0,662.8h7.2v5.34h-7.2zM26.7,673.5h7.2v5.34h-7.2zM199.2,673.5h7.2v5.34h-7.2zM220.8,673.5h7.2v5.34h-7.2zM91.4,678.9h7.2v5.34h-7.2zM192.1,678.9h7.2v5.34h-7.2zM278.3,689.6h7.2v5.34h-7.2zM26.7,694.9h7.2v5.34h-7.2zM184.9,700.2h7.2v5.34h-7.2zM285.5,716.3h7.2v5.34h-7.2z"/><path fill="#0814f4" d="M170.5,588.0h7.2v5.34h-7.2zM206.4,588.0h7.2v5.34h-7.2zM69.8,593.3h7.2v5.34h-7.2zM98.6,593.3h7.2v5.34h-7.2zM134.5,593.3h7.2v5.34h-7.2zM163.3,593.3h7.2v5.34h-7.2zM256.8,593.3h7.2v5.34h-7.2zM55.5,598.7h14.4v5.34h-14.4zM91.4,598.7h7.2v5.34h-7.2zM170.5,598.7h7.2v5.34h-7.2zM163.3,604.0h7.2v5.34h-7.2zM199.2,604.0h7.2v5.34h-7.2zM220.8,604.0h7.2v5.34h-7.2zM285.5,604.0h7.2v5.34h-7.2zM48.3,609.4h7.2v5.34h-7.2zM192.1,609.4h14.4v5.34h-14.4zM177.7,614.7h7.2v5.34h-7.2zM192.1,614.7h7.2v5.34h-7.2zM220.8,614.7h14.4v5.34h-14.4zM69.8,620.1h7.2v5.34h-7.2zM113.0,620.1h7.2v5.34h-7.2zM163.3,620.1h7.2v5.34h-7.2zM206.4,625.4h7.2v5.34h-7.2zM256.8,625.4h7.2v5.34h-7.2zM141.7,630.8h7.2v5.34h-7.2zM184.9,630.8h7.2v5.34h-7.2zM285.5,636.1h7.2v5.34h-7.2zM91.4,641.4h14.4v5.34h-14.4zM163.3,641.4h7.2v5.34h-7.2zM263.9,641.4h7.2v5.34h-7.2zM48.3,646.8h7.2v5.34h-7.2zM127.3,646.8h7.2v5.34h-7.2zM192.1,646.8h7.2v5.34h-7.2zM206.4,646.8h7.2v5.34h-7.2zM285.5,646.8h7.2v5.34h-7.2zM177.7,652.1h7.2v5.34h-7.2zM177.7,657.5h7.2v5.34h-7.2zM199.2,657.5h7.2v5.34h-7.2zM220.8,657.5h7.2v5.34h-7.2zM242.4,657.5h14.4v5.34h-14.4zM156.1,673.5h7.2v5.34h-7.2zM26.7,678.9h7.2v5.34h-7.2zM199.2,678.9h7.2v5.34h-7.2zM62.6,684.2h7.2v5.34h-7.2zM69.8,689.6h7.2v5.34h-7.2zM98.6,700.2h7.2v5.34h-7.2zM84.2,705.6h7.2v5.34h-7.2zM199.2,727.0h7.2v5.34h-7.2z"/><path fill="#00ff50" d="M228.0,593.3h7.2v5.34h-7.2zM228.0,598.7h7.2v5.34h-7.2zM271.1,604.0h7.2v5.34h-7.2zM113.0,609.4h7.2v5.34h-7.2zM271.1,609.4h7.2v5.34h-7.2zM91.4,614.7h7.2v5.34h-7.2zM141.7,614.7h7.2v5.34h-7.2zM141.7,620.1h7.2v5.34h-7.2zM271.1,625.4h7.2v5.34h-7.2zM55.5,630.8h7.2v5.34h-7.2zM148.9,630.8h7.2v5.34h-7.2zM228.0,630.8h7.2v5.34h-7.2zM278.3,630.8h7.2v5.34h-7.2zM148.9,636.1h7.2v5.34h-7.2zM228.0,636.1h7.2v5.34h-7.2zM33.9,662.8h7.2v5.34h-7.2zM69.8,662.8h7.2v5.34h-7.2zM127.3,662.8h28.8v5.34h-28.8zM55.5,668.2h7.2v5.34h-7.2zM69.8,668.2h7.2v5.34h-7.2zM113.0,668.2h7.2v5.34h-7.2zM127.3,668.2h7.2v5.34h-7.2zM141.7,668.2h14.4v5.34h-14.4zM228.0,668.2h7.2v5.34h-7.2zM41.1,673.5h7.2v5.34h-7.2zM105.8,673.5h7.2v5.34h-7.2zM120.2,673.5h14.4v5.34h-14.4zM148.9,673.5h7.2v5.34h-7.2zM170.5,673.5h7.2v5.34h-7.2zM228.0,673.5h21.6v5.34h-21.6zM263.9,673.5h7.2v5.34h-7.2zM41.1,678.9h7.2v5.34h-7.2zM77.0,678.9h7.2v5.34h-7.2zM105.8,678.9h7.2v5.34h-7.2zM127.3,678.9h7.2v5.34h-7.2zM141.7,678.9h21.6v5.34h-21.6zM170.5,678.9h7.2v5.34h-7.2zM48.3,684.2h7.2v5.34h-7.2zM77.0,684.2h7.2v5.34h-7.2zM113.0,684.2h14.4v5.34h-14.4zM141.7,684.2h7.2v5.34h-7.2zM156.1,684.2h7.2v5.34h-7.2zM170.5,684.2h7.2v5.34h-7.2zM220.8,684.2h7.2v5.34h-7.2zM256.8,684.2h14.4v5.34h-14.4zM285.5,684.2h7.2v5.34h-7.2zM33.9,689.6h7.2v5.34h-7.2zM113.0,689.6h7.2v5.34h-7.2zM127.3,689.6h14.4v5.34h-14.4zM148.9,689.6h7.2v5.34h-7.2zM163.3,689.6h7.2v5.34h-7.2zM177.7,689.6h7.2v5.34h-7.2zM199.2,689.6h7.2v5.34h-7.2zM235.2,689.6h7.2v5.34h-7.2zM285.5,689.6h7.2v5.34h-7.2zM41.1,694.9h7.2v5.34h-7.2zM55.5,694.9h21.6v5.34h-21.6zM113.0,694.9h7.2v5.34h-7.2zM134.5,694.9h14.4v5.34h-14.4zM163.3,694.9h21.6v5.34h-21.6zM192.1,694.9h14.4v5.34h-14.4zM228.0,694.9h28.8v5.34h-28.8zM26.7,700.2h7.2v5.34h-7.2zM41.1,700.2h14.4v5.34h-14.4zM69.8,700.2h7.2v5.34h-7.2zM113.0,700.2h28.8v5.34h-28.8zM148.9,700.2h21.6v5.34h-21.6zM177.7,700.2h7.2v5.34h-7.2zM199.2,700.2h14.4v5.34h-14.4zM228.0,700.2h28.8v5.34h-28.8zM263.9,700.2h21.6v5.34h-21.6zM41.1,705.6h14.4v5.34h-14.4zM77.0,705.6h7.2v5.34h-7.2zM113.0,705.6h14.4v5.34h-14.4zM163.3,705.6h7.2v5.34h-7.2zM199.2,705.6h7.2v5.34h-7.2zM235.2,705.6h7.2v5.34h-7.2zM263.9,705.6h28.8v5.34h-28.8zM26.7,710.9h7.2v5.34h-7.2zM41.1,710.9h50.3v5.34h-50.3zM98.6,710.9h21.6v5.34h-21.6zM156.1,710.9h7.2v5.34h-7.2zM184.9,710.9h7.2v5.34h-7.2zM206.4,710.9h7.2v5.34h-7.2zM249.6,710.9h7.2v5.34h-7.2zM285.5,710.9h7.2v5.34h-7.2zM55.5,716.3h7.2v5.34h-7.2zM84.2,716.3h7.2v5.34h-7.2zM98.6,716.3h7.2v5.34h-7.2zM134.5,716.3h7.2v5.34h-7.2zM184.9,716.3h7.2v5.34h-7.2zM199.2,716.3h14.4v5.34h-14.4zM278.3,716.3h7.2v5.34h-7.2zM98.6,721.6h14.4v5.34h-14.4zM184.9,721.6h7.2v5.34h-7.2zM213.6,721.6h7.2v5.34h-7.2zM98.6,727.0h7.2v5.34h-7.2zM213.6,732.3h7.2v5.34h-7.2zM33.9,737.7h7.2v5.34h-7.2z"/><path fill="#1cff00" d="M41.1,662.8h7.2v5.34h-7.2zM62.6,662.8h7.2v5.34h-7.2zM228.0,662.8h14.4v5.34h-14.4zM41.1,668.2h7.2v5.34h-7.2zM62.6,668.2h7.2v5.34h-7.2zM235.2,668.2h7.2v5.34h-7.2zM113.0,673.5h7.2v5.34h-7.2zM271.1,673.5h7.2v5.34h-7.2zM113.0,678.9h14.4v5.34h-14.4zM228.0,678.9h7.2v5.34h-7.2zM242.4,678.9h7.2v5.34h-7.2zM263.9,678.9h7.2v5.34h-7.2zM41.1,684.2h7.2v5.34h-7.2zM127.3,684.2h7.2v5.34h-7.2zM148.9,684.2h7.2v5.34h-7.2zM228.0,684.2h7.2v5.34h-7.2zM41.1,689.6h7.2v5.34h-7.2zM120.2,689.6h7.2v5.34h-7.2zM170.5,689.6h7.2v5.34h-7.2zM228.0,689.6h7.2v5.34h-7.2zM127.3,694.9h7.2v5.34h-7.2zM263.9,694.9h14.4v5.34h-14.4zM141.7,700.2h7.2v5.34h-7.2zM170.5,700.2h7.2v5.34h-7.2zM256.8,700.2h7.2v5.34h-7.2zM69.8,705.6h7.2v5.34h-7.2zM127.3,705.6h35.9v5.34h-35.9zM256.8,705.6h7.2v5.34h-7.2zM120.2,710.9h7.2v5.34h-7.2zM134.5,710.9h7.2v5.34h-7.2zM148.9,710.9h7.2v5.34h-7.2zM163.3,710.9h7.2v5.34h-7.2zM177.7,710.9h7.2v5.34h-7.2zM199.2,710.9h7.2v5.34h-7.2zM235.2,710.9h14.4v5.34h-14.4zM256.8,710.9h14.4v5.34h-14.4zM33.9,716.3h14.4v5.34h-14.4zM62.6,716.3h21.6v5.34h-21.6zM105.8,716.3h7.2v5.34h-7.2zM120.2,716.3h7.2v5.34h-7.2zM141.7,716.3h7.2v5.34h-7.2zM163.3,716.3h21.6v5.34h-21.6zM235.2,716.3h7.2v5.34h-7.2zM249.6,716.3h7.2v5.34h-7.2zM26.7,721.6h14.4v5.34h-14.4zM55.5,721.6h7.2v5.34h-7.2zM69.8,721.6h7.2v5.34h-7.2zM84.2,721.6h7.2v5.34h-7.2zM113.0,721.6h14.4v5.34h-14.4zM141.7,721.6h7.2v5.34h-7.2zM177.7,721.6h7.2v5.34h-7.2zM206.4,721.6h7.2v5.34h-7.2zM242.4,721.6h7.2v5.34h-7.2zM271.1,721.6h21.6v5.34h-21.6zM26.7,727.0h7.2v5.34h-7.2zM48.3,727.0h14.4v5.34h-14.4zM84.2,727.0h14.4v5.34h-14.4zM105.8,727.0h7.2v5.34h-7.2zM120.2,727.0h7.2v5.34h-7.2zM148.9,727.0h7.2v5.34h-7.2zM170.5,727.0h7.2v5.34h-7.2zM184.9,727.0h7.2v5.34h-7.2zM206.4,727.0h14.4v5.34h-14.4zM242.4,727.0h7.2v5.34h-7.2zM278.3,727.0h7.2v5.34h-7.2zM120.2,732.3h7.2v5.34h-7.2zM98.6,737.7h7.2v5.34h-7.2zM177.7,737.7h7.2v5.34h-7.2zM213.6,737.7h14.4v5.34h-14.4zM235.2,737.7h7.2v5.34h-7.2zM249.6,737.7h7.2v5.34h-7.2z"/><path fill="#b4ff00" d="M271.1,678.9h7.2v5.34h-7.2zM271.1,684.2h7.2v5.34h-7.2zM263.9,689.6h14.4v5.34h-14.4zM120.2,694.9h7.2v5.34h-7.2zM127.3,710.9h7.2v5.34h-7.2zM141.7,710.9h7.2v5.34h-7.2zM170.5,710.9h7.2v5.34h-7.2zM271.1,710.9h7.2v5.34h-7.2zM113.0,716.3h7.2v5.34h-7.2zM148.9,716.3h14.4v5.34h-14.4zM242.4,716.3h7.2v5.34h-7.2zM263.9,716.3h7.2v5.34h-7.2zM41.1,721.6h7.2v5.34h-7.2zM62.6,721.6h7.2v5.34h-7.2zM77.0,721.6h7.2v5.34h-7.2zM127.3,721.6h7.2v5.34h-7.2zM148.9,721.6h7.2v5.34h-7.2zM163.3,721.6h14.4v5.34h-14.4zM228.0,721.6h14.4v5.34h-14.4zM249.6,721.6h7.2v5.34h-7.2zM77.0,727.0h7.2v5.34h-7.2zM127.3,727.0h21.6v5.34h-21.6zM177.7,727.0h7.2v5.34h-7.2zM192.1,727.0h7.2v5.34h-7.2zM228.0,727.0h14.4v5.34h-14.4zM249.6,727.0h7.2v5.34h-7.2zM271.1,727.0h7.2v5.34h-7.2zM285.5,727.0h7.2v5.34h-7.2zM33.9,732.3h7.2v5.34h-7.2zM206.4,732.3h7.2v5.34h-7.2zM220.8,732.3h7.2v5.34h-7.2zM26.7,737.7h7.2v5.34h-7.2zM55.5,737.7h7.2v5.34h-7.2zM69.8,737.7h7.2v5.34h-7.2zM113.0,737.7h14.4v5.34h-14.4zM170.5,737.7h7.2v5.34h-7.2zM184.9,737.7h7.2v5.34h-7.2zM199.2,737.7h14.4v5.34h-14.4zM263.9,737.7h7.2v5.34h-7.2zM285.5,737.7h7.2v5.34h-7.2z"/><path fill="#faf400" d="M127.3,716.3h7.2v5.34h-7.2zM256.8,716.3h7.2v5.34h-7.2zM271.1,716.3h7.2v5.34h-7.2zM134.5,721.6h7.2v5.34h-7.2zM256.8,721.6h14.4v5.34h-14.4zM41.1,727.0h7.2v5.34h-7.2zM62.6,727.0h7.2v5.34h-7.2zM113.0,727.0h7.2v5.34h-7.2zM163.3,727.0h7.2v5.34h-7.2zM256.8,727.0h14.4v5.34h-14.4zM26.7,732.3h7.2v5.34h-7.2zM69.8,732.3h21.6v5.34h-21.6zM134.5,732.3h7.2v5.34h-7.2zM177.7,732.3h14.4v5.34h-14.4zM199.2,732.3h7.2v5.34h-7.2zM41.1,737.7h7.2v5.34h-7.2zM77.0,737.7h7.2v5.34h-7.2zM134.5,737.7h7.2v5.34h-7.2zM163.3,737.7h7.2v5.34h-7.2zM192.1,737.7h7.2v5.34h-7.2zM278.3,737.7h7.2v5.34h-7.2z"/><path fill="#ffc000" d="M156.1,721.6h7.2v5.34h-7.2zM156.1,727.0h7.2v5.34h-7.2zM41.1,732.3h21.6v5.34h-21.6zM91.4,732.3h7.2v5.34h-7.2zM105.8,732.3h7.2v5.34h-7.2zM148.9,732.3h7.2v5.34h-7.2zM170.5,732.3h7.2v5.34h-7.2zM192.1,732.3h7.2v5.34h-7.2zM228.0,732.3h28.8v5.34h-28.8zM263.9,732.3h28.8v5.34h-28.8zM48.3,737.7h7.2v5.34h-7.2zM62.6,737.7h7.2v5.34h-7.2zM84.2,737.7h14.4v5.34h-14.4zM105.8,737.7h7.2v5.34h-7.2zM127.3,737.7h7.2v5.34h-7.2zM141.7,737.7h7.2v5.34h-7.2zM156.1,737.7h7.2v5.34h-7.2zM228.0,737.7h7.2v5.34h-7.2zM242.4,737.7h7.2v5.34h-7.2zM256.8,737.7h7.2v5.34h-7.2zM271.1,737.7h7.2v5.34h-7.2z"/><path fill="#ff7c00" d="M62.6,732.3h7.2v5.34h-7.2zM113.0,732.3h7.2v5.34h-7.2zM127.3,732.3h7.2v5.34h-7.2zM141.7,732.3h7.2v5.34h-7.2zM156.1,732.3h14.4v5.34h-14.4zM256.8,732.3h7.2v5.34h-7.2z"/>
<rect x="292.8" y="588" width="10.5" height="155" fill="url(#cbar)"/>
<rect x="26.3" y="587.3" width="277.8" height="156.2" fill="none" stroke="#000" stroke-width="1.4"/>
<line x1="292.6" y1="587.3" x2="292.6" y2="743.5" stroke="#000" stroke-width="1.1"/>
<path d="M26.9,593.1 L31.5,593.1" stroke="#000" stroke-width="1.5"/>
<text x="23.5" y="597.0" font-size="8.7" font-weight="bold" fill="#000" text-anchor="end" >100</text>
<text x="18.9" y="746.6" font-size="8.7" font-weight="bold" fill="#000" text-anchor="end" >0</text>
<text transform="translate(7.5,665.5) rotate(-90)" x="0" y="0" font-size="8" font-weight="bold" fill="#000" text-anchor="middle" dominant-baseline="central" textLength="71.0" lengthAdjust="spacingAndGlyphs">Frequency (Hz)</text>
<text x="26.6" y="756.4" font-size="8.7" font-weight="bold" fill="#000" text-anchor="middle" >0</text>
<text x="79.8" y="756.4" font-size="8.7" font-weight="bold" fill="#000" text-anchor="middle" >1</text>
<text x="133.0" y="756.4" font-size="8.7" font-weight="bold" fill="#000" text-anchor="middle" >2</text>
<text x="186.2" y="756.4" font-size="8.7" font-weight="bold" fill="#000" text-anchor="middle" >3</text>
<text x="239.4" y="756.4" font-size="8.7" font-weight="bold" fill="#000" text-anchor="middle" >4</text>
<text x="292.6" y="756.4" font-size="8.7" font-weight="bold" fill="#000" text-anchor="middle" >5</text>
<path d="M79.8,743 L79.8,737.8 M133.0,743 L133.0,737.8 M186.2,743 L186.2,737.8 M239.4,743 L239.4,737.8 " stroke="#000" stroke-width="1.4"/>
<text x="161.0" y="770.4" font-size="8" font-weight="bold" fill="#000" text-anchor="middle" textLength="35.2" lengthAdjust="spacingAndGlyphs" >Time (s)</text>
<text x="309.8" y="606.1" font-size="8" font-weight="bold" fill="#000" text-anchor="start" >10<tspan font-size="5.5" dy="-3">3</tspan></text>
<text x="309.8" y="636.2" font-size="8" font-weight="bold" fill="#000" text-anchor="start" >10<tspan font-size="5.5" dy="-3">2</tspan></text>
<text x="309.8" y="666.0" font-size="8" font-weight="bold" fill="#000" text-anchor="start" >10</text>
<text x="315.0" y="695.8" font-size="8" font-weight="bold" fill="#000" text-anchor="middle" >1</text>
<text x="309.8" y="724.8" font-size="8" font-weight="bold" fill="#000" text-anchor="start" >10<tspan font-size="5.5" dy="-3">-1</tspan></text>
<path d="M300.6,603.1 L303.8,603.1 M300.6,633.2 L303.8,633.2 M300.6,663.0 L303.8,663.0 M300.6,692.8 L303.8,692.8 M300.6,721.8 L303.8,721.8 " stroke="#000" stroke-width="1.2"/>
<text transform="translate(332.8,665.8) rotate(90)" x="0" y="0" font-size="8" font-weight="bold" fill="#000" text-anchor="middle" dominant-baseline="central" textLength="136.0" lengthAdjust="spacingAndGlyphs">Power spectral density (μVHz<tspan font-size="5.5" dy="-3">-1/2</tspan><tspan dy="3">)</tspan></text>
<text x="350.2" y="578.6" font-size="13" font-weight="bold" fill="#000" text-anchor="start" >g</text>
<rect x="374.8" y="588.0" width="265.6" height="155.0" fill="#00ff80"/>
<path fill="#00ff50" d="M374.8,588.0h7.2v5.34h-7.2zM389.2,588.0h7.2v5.34h-7.2zM410.7,588.0h7.2v5.34h-7.2zM511.2,588.0h7.2v5.34h-7.2zM611.7,588.0h7.2v5.34h-7.2zM374.8,593.3h21.5v5.34h-21.5zM511.2,593.3h14.4v5.34h-14.4zM554.3,593.3h7.2v5.34h-7.2zM389.2,598.7h7.2v5.34h-7.2zM403.5,598.7h7.2v5.34h-7.2zM453.8,598.7h14.4v5.34h-14.4zM504.0,598.7h7.2v5.34h-7.2zM518.4,598.7h7.2v5.34h-7.2zM568.6,598.7h7.2v5.34h-7.2zM583.0,598.7h7.2v5.34h-7.2zM604.5,598.7h14.4v5.34h-14.4zM389.2,604.0h7.2v5.34h-7.2zM417.9,604.0h7.2v5.34h-7.2zM496.8,604.0h7.2v5.34h-7.2zM568.6,604.0h7.2v5.34h-7.2zM583.0,604.0h7.2v5.34h-7.2zM597.3,604.0h14.4v5.34h-14.4zM618.9,604.0h7.2v5.34h-7.2zM374.8,609.4h7.2v5.34h-7.2zM403.5,609.4h7.2v5.34h-7.2zM453.8,609.4h7.2v5.34h-7.2zM518.4,609.4h7.2v5.34h-7.2zM547.1,609.4h21.5v5.34h-21.5zM618.9,609.4h7.2v5.34h-7.2zM633.2,609.4h7.2v5.34h-7.2zM403.5,614.7h21.5v5.34h-21.5zM453.8,614.7h7.2v5.34h-7.2zM496.8,614.7h7.2v5.34h-7.2zM547.1,614.7h7.2v5.34h-7.2zM561.4,614.7h7.2v5.34h-7.2zM575.8,614.7h7.2v5.34h-7.2zM618.9,614.7h7.2v5.34h-7.2zM389.2,620.1h7.2v5.34h-7.2zM403.5,620.1h14.4v5.34h-14.4zM453.8,620.1h7.2v5.34h-7.2zM561.4,620.1h21.5v5.34h-21.5zM618.9,620.1h7.2v5.34h-7.2zM374.8,625.4h7.2v5.34h-7.2zM389.2,625.4h7.2v5.34h-7.2zM417.9,625.4h7.2v5.34h-7.2zM511.2,625.4h14.4v5.34h-14.4zM597.3,625.4h7.2v5.34h-7.2zM611.7,625.4h14.4v5.34h-14.4zM389.2,630.8h7.2v5.34h-7.2zM417.9,630.8h7.2v5.34h-7.2zM511.2,630.8h7.2v5.34h-7.2zM575.8,630.8h7.2v5.34h-7.2zM597.3,630.8h7.2v5.34h-7.2zM611.7,630.8h7.2v5.34h-7.2zM374.8,636.1h7.2v5.34h-7.2zM417.9,636.1h7.2v5.34h-7.2zM453.8,636.1h7.2v5.34h-7.2zM468.1,636.1h7.2v5.34h-7.2zM504.0,636.1h14.4v5.34h-14.4zM604.5,636.1h7.2v5.34h-7.2zM374.8,641.4h7.2v5.34h-7.2zM389.2,641.4h7.2v5.34h-7.2zM410.7,641.4h7.2v5.34h-7.2zM460.9,641.4h14.4v5.34h-14.4zM496.8,641.4h21.5v5.34h-21.5zM547.1,641.4h7.2v5.34h-7.2zM597.3,641.4h7.2v5.34h-7.2zM611.7,641.4h7.2v5.34h-7.2zM403.5,646.8h21.5v5.34h-21.5zM496.8,646.8h7.2v5.34h-7.2zM597.3,646.8h7.2v5.34h-7.2zM618.9,646.8h7.2v5.34h-7.2zM382.0,652.1h7.2v5.34h-7.2zM396.3,652.1h7.2v5.34h-7.2zM496.8,652.1h7.2v5.34h-7.2zM618.9,652.1h7.2v5.34h-7.2zM389.2,657.5h7.2v5.34h-7.2zM410.7,657.5h7.2v5.34h-7.2zM511.2,657.5h14.4v5.34h-14.4zM547.1,657.5h14.4v5.34h-14.4zM583.0,657.5h7.2v5.34h-7.2zM597.3,657.5h7.2v5.34h-7.2zM374.8,662.8h7.2v5.34h-7.2zM403.5,662.8h14.4v5.34h-14.4zM453.8,662.8h7.2v5.34h-7.2zM468.1,662.8h7.2v5.34h-7.2zM482.5,662.8h7.2v5.34h-7.2zM504.0,662.8h14.4v5.34h-14.4zM575.8,662.8h14.4v5.34h-14.4zM618.9,662.8h7.2v5.34h-7.2zM382.0,668.2h7.2v5.34h-7.2zM417.9,668.2h14.4v5.34h-14.4zM446.6,668.2h43.1v5.34h-43.1zM554.3,668.2h7.2v5.34h-7.2zM583.0,668.2h7.2v5.34h-7.2zM611.7,668.2h14.4v5.34h-14.4zM482.5,673.5h7.2v5.34h-7.2zM547.1,673.5h7.2v5.34h-7.2zM583.0,673.5h7.2v5.34h-7.2zM374.8,678.9h7.2v5.34h-7.2zM417.9,678.9h7.2v5.34h-7.2zM439.4,678.9h7.2v5.34h-7.2zM460.9,678.9h28.7v5.34h-28.7zM504.0,678.9h14.4v5.34h-14.4zM525.5,678.9h7.2v5.34h-7.2zM539.9,678.9h7.2v5.34h-7.2zM561.4,678.9h21.5v5.34h-21.5zM611.7,678.9h7.2v5.34h-7.2zM374.8,684.2h7.2v5.34h-7.2zM410.7,684.2h7.2v5.34h-7.2zM439.4,684.2h28.7v5.34h-28.7zM475.3,684.2h7.2v5.34h-7.2zM504.0,684.2h14.4v5.34h-14.4zM525.5,684.2h7.2v5.34h-7.2zM539.9,684.2h7.2v5.34h-7.2zM611.7,684.2h7.2v5.34h-7.2zM374.8,689.6h7.2v5.34h-7.2zM410.7,689.6h21.5v5.34h-21.5zM439.4,689.6h7.2v5.34h-7.2zM453.8,689.6h14.4v5.34h-14.4zM482.5,689.6h7.2v5.34h-7.2zM504.0,689.6h14.4v5.34h-14.4zM525.5,689.6h14.4v5.34h-14.4zM547.1,689.6h21.5v5.34h-21.5zM611.7,689.6h7.2v5.34h-7.2zM374.8,694.9h7.2v5.34h-7.2zM417.9,694.9h7.2v5.34h-7.2zM432.2,694.9h57.4v5.34h-57.4zM511.2,694.9h14.4v5.34h-14.4zM532.7,694.9h7.2v5.34h-7.2zM547.1,694.9h7.2v5.34h-7.2zM561.4,694.9h7.2v5.34h-7.2zM575.8,694.9h7.2v5.34h-7.2zM611.7,694.9h7.2v5.34h-7.2zM374.8,700.2h7.2v5.34h-7.2zM425.0,700.2h21.5v5.34h-21.5zM460.9,700.2h21.5v5.34h-21.5zM489.7,700.2h7.2v5.34h-7.2zM511.2,700.2h7.2v5.34h-7.2zM525.5,700.2h7.2v5.34h-7.2zM539.9,700.2h7.2v5.34h-7.2zM554.3,700.2h7.2v5.34h-7.2zM575.8,700.2h7.2v5.34h-7.2zM633.2,700.2h7.2v5.34h-7.2zM403.5,705.6h7.2v5.34h-7.2zM475.3,705.6h7.2v5.34h-7.2zM511.2,705.6h7.2v5.34h-7.2zM525.5,705.6h14.4v5.34h-14.4zM575.8,705.6h7.2v5.34h-7.2zM590.2,705.6h7.2v5.34h-7.2zM633.2,705.6h7.2v5.34h-7.2zM432.2,710.9h7.2v5.34h-7.2zM475.3,710.9h7.2v5.34h-7.2zM489.7,710.9h7.2v5.34h-7.2zM590.2,710.9h7.2v5.34h-7.2zM633.2,710.9h7.2v5.34h-7.2zM432.2,716.3h7.2v5.34h-7.2zM489.7,716.3h7.2v5.34h-7.2zM532.7,716.3h14.4v5.34h-14.4zM554.3,716.3h7.2v5.34h-7.2zM590.2,716.3h7.2v5.34h-7.2zM633.2,721.6h7.2v5.34h-7.2zM432.2,727.0h7.2v5.34h-7.2zM539.9,727.0h7.2v5.34h-7.2zM561.4,727.0h7.2v5.34h-7.2zM590.2,727.0h7.2v5.34h-7.2zM590.2,737.7h7.2v5.34h-7.2z"/><path fill="#00f0ff" d="M382.0,588.0h7.2v5.34h-7.2zM432.2,588.0h7.2v5.34h-7.2zM518.4,588.0h14.4v5.34h-14.4zM568.6,588.0h7.2v5.34h-7.2zM597.3,588.0h7.2v5.34h-7.2zM417.9,593.3h7.2v5.34h-7.2zM432.2,593.3h7.2v5.34h-7.2zM539.9,593.3h7.2v5.34h-7.2zM432.2,598.7h14.4v5.34h-14.4zM468.1,598.7h7.2v5.34h-7.2zM633.2,598.7h7.2v5.34h-7.2zM410.7,604.0h7.2v5.34h-7.2zM432.2,604.0h7.2v5.34h-7.2zM446.6,604.0h7.2v5.34h-7.2zM468.1,604.0h21.5v5.34h-21.5zM504.0,604.0h7.2v5.34h-7.2zM389.2,609.4h7.2v5.34h-7.2zM590.2,609.4h7.2v5.34h-7.2zM425.0,614.7h7.2v5.34h-7.2zM511.2,614.7h7.2v5.34h-7.2zM425.0,620.1h7.2v5.34h-7.2zM439.4,620.1h7.2v5.34h-7.2zM489.7,620.1h7.2v5.34h-7.2zM525.5,620.1h7.2v5.34h-7.2zM590.2,620.1h7.2v5.34h-7.2zM460.9,625.4h14.4v5.34h-14.4zM554.3,625.4h7.2v5.34h-7.2zM590.2,625.4h7.2v5.34h-7.2zM425.0,630.8h7.2v5.34h-7.2zM439.4,630.8h7.2v5.34h-7.2zM453.8,630.8h14.4v5.34h-14.4zM554.3,630.8h7.2v5.34h-7.2zM425.0,636.1h7.2v5.34h-7.2zM482.5,636.1h7.2v5.34h-7.2zM532.7,636.1h7.2v5.34h-7.2zM432.2,641.4h14.4v5.34h-14.4zM475.3,641.4h7.2v5.34h-7.2zM539.9,641.4h7.2v5.34h-7.2zM590.2,641.4h7.2v5.34h-7.2zM374.8,646.8h7.2v5.34h-7.2zM468.1,646.8h7.2v5.34h-7.2zM482.5,646.8h7.2v5.34h-7.2zM511.2,646.8h7.2v5.34h-7.2zM539.9,646.8h14.4v5.34h-14.4zM432.2,652.1h7.2v5.34h-7.2zM511.2,652.1h7.2v5.34h-7.2zM539.9,652.1h7.2v5.34h-7.2zM554.3,652.1h14.4v5.34h-14.4zM374.8,657.5h7.2v5.34h-7.2zM425.0,657.5h14.4v5.34h-14.4zM446.6,657.5h7.2v5.34h-7.2zM475.3,657.5h7.2v5.34h-7.2zM611.7,657.5h7.2v5.34h-7.2zM432.2,662.8h7.2v5.34h-7.2zM446.6,662.8h7.2v5.34h-7.2zM525.5,662.8h7.2v5.34h-7.2zM568.6,662.8h7.2v5.34h-7.2zM633.2,662.8h7.2v5.34h-7.2zM374.8,668.2h7.2v5.34h-7.2zM439.4,668.2h7.2v5.34h-7.2zM525.5,668.2h7.2v5.34h-7.2zM561.4,668.2h7.2v5.34h-7.2zM432.2,673.5h7.2v5.34h-7.2zM489.7,673.5h7.2v5.34h-7.2zM532.7,673.5h7.2v5.34h-7.2zM554.3,673.5h7.2v5.34h-7.2zM425.0,678.9h7.2v5.34h-7.2zM583.0,678.9h14.4v5.34h-14.4zM554.3,684.2h7.2v5.34h-7.2zM489.7,689.6h7.2v5.34h-7.2zM539.9,689.6h7.2v5.34h-7.2zM539.9,694.9h7.2v5.34h-7.2zM554.3,694.9h7.2v5.34h-7.2zM568.6,694.9h7.2v5.34h-7.2zM417.9,700.2h7.2v5.34h-7.2zM568.6,700.2h7.2v5.34h-7.2zM532.7,710.9h7.2v5.34h-7.2zM374.8,727.0h7.2v5.34h-7.2z"/><path fill="#1cff00" d="M396.3,588.0h7.2v5.34h-7.2zM453.8,588.0h7.2v5.34h-7.2zM496.8,588.0h7.2v5.34h-7.2zM547.1,588.0h7.2v5.34h-7.2zM604.5,588.0h7.2v5.34h-7.2zM626.0,588.0h7.2v5.34h-7.2zM453.8,593.3h7.2v5.34h-7.2zM496.8,593.3h7.2v5.34h-7.2zM618.9,593.3h14.4v5.34h-14.4zM496.8,598.7h7.2v5.34h-7.2zM511.2,598.7h7.2v5.34h-7.2zM547.1,598.7h7.2v5.34h-7.2zM618.9,598.7h14.4v5.34h-14.4zM396.3,604.0h7.2v5.34h-7.2zM518.4,604.0h7.2v5.34h-7.2zM547.1,604.0h7.2v5.34h-7.2zM626.0,604.0h7.2v5.34h-7.2zM410.7,609.4h7.2v5.34h-7.2zM604.5,609.4h7.2v5.34h-7.2zM626.0,609.4h7.2v5.34h-7.2zM389.2,614.7h7.2v5.34h-7.2zM604.5,614.7h14.4v5.34h-14.4zM626.0,614.7h7.2v5.34h-7.2zM396.3,620.1h7.2v5.34h-7.2zM496.8,620.1h7.2v5.34h-7.2zM547.1,620.1h7.2v5.34h-7.2zM604.5,620.1h14.4v5.34h-14.4zM403.5,625.4h7.2v5.34h-7.2zM496.8,625.4h7.2v5.34h-7.2zM547.1,625.4h7.2v5.34h-7.2zM575.8,625.4h7.2v5.34h-7.2zM604.5,625.4h7.2v5.34h-7.2zM496.8,630.8h7.2v5.34h-7.2zM547.1,630.8h7.2v5.34h-7.2zM604.5,630.8h7.2v5.34h-7.2zM626.0,630.8h7.2v5.34h-7.2zM389.2,636.1h14.4v5.34h-14.4zM496.8,636.1h7.2v5.34h-7.2zM547.1,636.1h7.2v5.34h-7.2zM583.0,636.1h7.2v5.34h-7.2zM626.0,636.1h7.2v5.34h-7.2zM396.3,641.4h14.4v5.34h-14.4zM583.0,641.4h7.2v5.34h-7.2zM604.5,641.4h7.2v5.34h-7.2zM626.0,641.4h7.2v5.34h-7.2zM396.3,646.8h7.2v5.34h-7.2zM626.0,646.8h7.2v5.34h-7.2zM389.2,652.1h7.2v5.34h-7.2zM626.0,652.1h7.2v5.34h-7.2zM396.3,657.5h14.4v5.34h-14.4zM496.8,657.5h14.4v5.34h-14.4zM604.5,657.5h7.2v5.34h-7.2zM626.0,657.5h7.2v5.34h-7.2zM496.8,662.8h7.2v5.34h-7.2zM518.4,662.8h7.2v5.34h-7.2zM547.1,662.8h7.2v5.34h-7.2zM597.3,662.8h14.4v5.34h-14.4zM626.0,662.8h7.2v5.34h-7.2zM389.2,668.2h7.2v5.34h-7.2zM403.5,668.2h14.4v5.34h-14.4zM496.8,668.2h14.4v5.34h-14.4zM518.4,668.2h7.2v5.34h-7.2zM547.1,668.2h7.2v5.34h-7.2zM575.8,668.2h7.2v5.34h-7.2zM597.3,668.2h14.4v5.34h-14.4zM626.0,668.2h7.2v5.34h-7.2zM382.0,673.5h14.4v5.34h-14.4zM403.5,673.5h21.5v5.34h-21.5zM468.1,673.5h7.2v5.34h-7.2zM496.8,673.5h7.2v5.34h-7.2zM518.4,673.5h7.2v5.34h-7.2zM597.3,673.5h7.2v5.34h-7.2zM389.2,678.9h7.2v5.34h-7.2zM403.5,678.9h7.2v5.34h-7.2zM496.8,678.9h7.2v5.34h-7.2zM518.4,678.9h7.2v5.34h-7.2zM403.5,684.2h7.2v5.34h-7.2zM417.9,684.2h7.2v5.34h-7.2zM496.8,684.2h7.2v5.34h-7.2zM518.4,684.2h7.2v5.34h-7.2zM568.6,684.2h21.5v5.34h-21.5zM597.3,684.2h7.2v5.34h-7.2zM618.9,684.2h14.4v5.34h-14.4zM382.0,689.6h7.2v5.34h-7.2zM403.5,689.6h7.2v5.34h-7.2zM446.6,689.6h7.2v5.34h-7.2zM468.1,689.6h14.4v5.34h-14.4zM518.4,689.6h7.2v5.34h-7.2zM568.6,689.6h7.2v5.34h-7.2zM597.3,689.6h7.2v5.34h-7.2zM626.0,689.6h7.2v5.34h-7.2zM382.0,694.9h7.2v5.34h-7.2zM403.5,694.9h7.2v5.34h-7.2zM583.0,694.9h7.2v5.34h-7.2zM382.0,700.2h7.2v5.34h-7.2zM403.5,700.2h14.4v5.34h-14.4zM482.5,700.2h7.2v5.34h-7.2zM504.0,700.2h7.2v5.34h-7.2zM518.4,700.2h7.2v5.34h-7.2zM547.1,700.2h7.2v5.34h-7.2zM583.0,700.2h7.2v5.34h-7.2zM597.3,700.2h7.2v5.34h-7.2zM611.7,700.2h7.2v5.34h-7.2zM382.0,705.6h7.2v5.34h-7.2zM417.9,705.6h14.4v5.34h-14.4zM439.4,705.6h14.4v5.34h-14.4zM460.9,705.6h7.2v5.34h-7.2zM482.5,705.6h7.2v5.34h-7.2zM496.8,705.6h7.2v5.34h-7.2zM539.9,705.6h7.2v5.34h-7.2zM554.3,705.6h21.5v5.34h-21.5zM611.7,705.6h7.2v5.34h-7.2zM382.0,710.9h7.2v5.34h-7.2zM425.0,710.9h7.2v5.34h-7.2zM446.6,710.9h7.2v5.34h-7.2zM482.5,710.9h7.2v5.34h-7.2zM511.2,710.9h7.2v5.34h-7.2zM525.5,710.9h7.2v5.34h-7.2zM539.9,710.9h7.2v5.34h-7.2zM554.3,710.9h21.5v5.34h-21.5zM583.0,710.9h7.2v5.34h-7.2zM382.0,716.3h7.2v5.34h-7.2zM446.6,716.3h7.2v5.34h-7.2zM482.5,716.3h7.2v5.34h-7.2zM511.2,716.3h7.2v5.34h-7.2zM525.5,716.3h7.2v5.34h-7.2zM561.4,716.3h21.5v5.34h-21.5zM618.9,716.3h7.2v5.34h-7.2zM382.0,721.6h7.2v5.34h-7.2zM425.0,721.6h7.2v5.34h-7.2zM439.4,721.6h14.4v5.34h-14.4zM460.9,721.6h7.2v5.34h-7.2zM489.7,721.6h7.2v5.34h-7.2zM511.2,721.6h7.2v5.34h-7.2zM525.5,721.6h21.5v5.34h-21.5zM554.3,721.6h28.7v5.34h-28.7zM590.2,721.6h7.2v5.34h-7.2zM382.0,727.0h7.2v5.34h-7.2zM439.4,727.0h14.4v5.34h-14.4zM489.7,727.0h7.2v5.34h-7.2zM525.5,727.0h7.2v5.34h-7.2zM446.6,732.3h7.2v5.34h-7.2zM382.0,737.7h7.2v5.34h-7.2zM446.6,737.7h7.2v5.34h-7.2z"/><path fill="#0090ff" d="M403.5,588.0h7.2v5.34h-7.2zM504.0,588.0h7.2v5.34h-7.2zM539.9,588.0h7.2v5.34h-7.2zM633.2,588.0h7.2v5.34h-7.2zM489.7,593.3h7.2v5.34h-7.2zM568.6,593.3h7.2v5.34h-7.2zM439.4,609.4h14.4v5.34h-14.4zM525.5,609.4h7.2v5.34h-7.2zM539.9,609.4h7.2v5.34h-7.2zM432.2,614.7h7.2v5.34h-7.2zM475.3,614.7h21.5v5.34h-21.5zM532.7,614.7h14.4v5.34h-14.4zM554.3,614.7h7.2v5.34h-7.2zM432.2,620.1h7.2v5.34h-7.2zM439.4,625.4h14.4v5.34h-14.4zM475.3,625.4h14.4v5.34h-14.4zM432.2,630.8h7.2v5.34h-7.2zM432.2,636.1h7.2v5.34h-7.2zM518.4,636.1h7.2v5.34h-7.2zM417.9,641.4h7.2v5.34h-7.2zM618.9,641.4h7.2v5.34h-7.2zM532.7,646.8h7.2v5.34h-7.2zM561.4,646.8h7.2v5.34h-7.2zM575.8,646.8h7.2v5.34h-7.2zM425.0,652.1h7.2v5.34h-7.2zM532.7,652.1h7.2v5.34h-7.2zM590.2,652.1h14.4v5.34h-14.4zM482.5,657.5h7.2v5.34h-7.2zM532.7,657.5h14.4v5.34h-14.4zM590.2,657.5h7.2v5.34h-7.2zM460.9,662.8h7.2v5.34h-7.2zM633.2,673.5h7.2v5.34h-7.2zM382.0,684.2h7.2v5.34h-7.2zM453.8,700.2h7.2v5.34h-7.2z"/><path fill="#00ffb0" d="M417.9,588.0h7.2v5.34h-7.2zM446.6,588.0h7.2v5.34h-7.2zM460.9,588.0h14.4v5.34h-14.4zM554.3,588.0h14.4v5.34h-14.4zM575.8,588.0h21.5v5.34h-21.5zM618.9,588.0h7.2v5.34h-7.2zM425.0,593.3h7.2v5.34h-7.2zM460.9,593.3h14.4v5.34h-14.4zM504.0,593.3h7.2v5.34h-7.2zM525.5,593.3h7.2v5.34h-7.2zM547.1,593.3h7.2v5.34h-7.2zM561.4,593.3h7.2v5.34h-7.2zM575.8,593.3h7.2v5.34h-7.2zM597.3,593.3h21.5v5.34h-21.5zM633.2,593.3h7.2v5.34h-7.2zM374.8,598.7h14.4v5.34h-14.4zM410.7,598.7h14.4v5.34h-14.4zM446.6,598.7h7.2v5.34h-7.2zM539.9,598.7h7.2v5.34h-7.2zM554.3,598.7h14.4v5.34h-14.4zM575.8,598.7h7.2v5.34h-7.2zM597.3,598.7h7.2v5.34h-7.2zM374.8,604.0h14.4v5.34h-14.4zM403.5,604.0h7.2v5.34h-7.2zM425.0,604.0h7.2v5.34h-7.2zM453.8,604.0h14.4v5.34h-14.4zM511.2,604.0h7.2v5.34h-7.2zM554.3,604.0h14.4v5.34h-14.4zM575.8,604.0h7.2v5.34h-7.2zM590.2,604.0h7.2v5.34h-7.2zM611.7,604.0h7.2v5.34h-7.2zM633.2,604.0h7.2v5.34h-7.2zM382.0,609.4h7.2v5.34h-7.2zM417.9,609.4h14.4v5.34h-14.4zM468.1,609.4h7.2v5.34h-7.2zM496.8,609.4h21.5v5.34h-21.5zM568.6,609.4h14.4v5.34h-14.4zM597.3,609.4h7.2v5.34h-7.2zM611.7,609.4h7.2v5.34h-7.2zM504.0,614.7h7.2v5.34h-7.2zM518.4,614.7h7.2v5.34h-7.2zM568.6,614.7h7.2v5.34h-7.2zM583.0,614.7h7.2v5.34h-7.2zM597.3,614.7h7.2v5.34h-7.2zM633.2,614.7h7.2v5.34h-7.2zM374.8,620.1h14.4v5.34h-14.4zM417.9,620.1h7.2v5.34h-7.2zM468.1,620.1h7.2v5.34h-7.2zM482.5,620.1h7.2v5.34h-7.2zM504.0,620.1h21.5v5.34h-21.5zM539.9,620.1h7.2v5.34h-7.2zM554.3,620.1h7.2v5.34h-7.2zM597.3,620.1h7.2v5.34h-7.2zM626.0,620.1h14.4v5.34h-14.4zM382.0,625.4h7.2v5.34h-7.2zM410.7,625.4h7.2v5.34h-7.2zM425.0,625.4h7.2v5.34h-7.2zM504.0,625.4h7.2v5.34h-7.2zM525.5,625.4h7.2v5.34h-7.2zM539.9,625.4h7.2v5.34h-7.2zM561.4,625.4h14.4v5.34h-14.4zM583.0,625.4h7.2v5.34h-7.2zM626.0,625.4h7.2v5.34h-7.2zM382.0,630.8h7.2v5.34h-7.2zM403.5,630.8h14.4v5.34h-14.4zM446.6,630.8h7.2v5.34h-7.2zM468.1,630.8h7.2v5.34h-7.2zM504.0,630.8h7.2v5.34h-7.2zM518.4,630.8h7.2v5.34h-7.2zM539.9,630.8h7.2v5.34h-7.2zM561.4,630.8h14.4v5.34h-14.4zM583.0,630.8h14.4v5.34h-14.4zM618.9,630.8h7.2v5.34h-7.2zM382.0,636.1h7.2v5.34h-7.2zM403.5,636.1h14.4v5.34h-14.4zM446.6,636.1h7.2v5.34h-7.2zM460.9,636.1h7.2v5.34h-7.2zM489.7,636.1h7.2v5.34h-7.2zM539.9,636.1h7.2v5.34h-7.2zM561.4,636.1h21.5v5.34h-21.5zM590.2,636.1h14.4v5.34h-14.4zM611.7,636.1h14.4v5.34h-14.4zM382.0,641.4h7.2v5.34h-7.2zM425.0,641.4h7.2v5.34h-7.2zM446.6,641.4h14.4v5.34h-14.4zM489.7,641.4h7.2v5.34h-7.2zM518.4,641.4h7.2v5.34h-7.2zM554.3,641.4h21.5v5.34h-21.5zM425.0,646.8h7.2v5.34h-7.2zM460.9,646.8h7.2v5.34h-7.2zM504.0,646.8h7.2v5.34h-7.2zM518.4,646.8h7.2v5.34h-7.2zM583.0,646.8h7.2v5.34h-7.2zM604.5,646.8h14.4v5.34h-14.4zM374.8,652.1h7.2v5.34h-7.2zM403.5,652.1h21.5v5.34h-21.5zM453.8,652.1h7.2v5.34h-7.2zM468.1,652.1h7.2v5.34h-7.2zM482.5,652.1h7.2v5.34h-7.2zM504.0,652.1h7.2v5.34h-7.2zM518.4,652.1h7.2v5.34h-7.2zM575.8,652.1h14.4v5.34h-14.4zM604.5,652.1h14.4v5.34h-14.4zM633.2,652.1h7.2v5.34h-7.2zM382.0,657.5h7.2v5.34h-7.2zM417.9,657.5h7.2v5.34h-7.2zM453.8,657.5h21.5v5.34h-21.5zM489.7,657.5h7.2v5.34h-7.2zM525.5,657.5h7.2v5.34h-7.2zM561.4,657.5h7.2v5.34h-7.2zM575.8,657.5h7.2v5.34h-7.2zM618.9,657.5h7.2v5.34h-7.2zM389.2,662.8h7.2v5.34h-7.2zM425.0,662.8h7.2v5.34h-7.2zM439.4,662.8h7.2v5.34h-7.2zM489.7,662.8h7.2v5.34h-7.2zM532.7,662.8h14.4v5.34h-14.4zM554.3,662.8h14.4v5.34h-14.4zM590.2,662.8h7.2v5.34h-7.2zM611.7,662.8h7.2v5.34h-7.2zM432.2,668.2h7.2v5.34h-7.2zM532.7,668.2h7.2v5.34h-7.2zM590.2,668.2h7.2v5.34h-7.2zM633.2,668.2h7.2v5.34h-7.2zM374.8,673.5h7.2v5.34h-7.2zM425.0,673.5h7.2v5.34h-7.2zM439.4,673.5h28.7v5.34h-28.7zM475.3,673.5h7.2v5.34h-7.2zM504.0,673.5h14.4v5.34h-14.4zM525.5,673.5h7.2v5.34h-7.2zM561.4,673.5h7.2v5.34h-7.2zM575.8,673.5h7.2v5.34h-7.2zM611.7,673.5h7.2v5.34h-7.2zM382.0,678.9h7.2v5.34h-7.2zM410.7,678.9h7.2v5.34h-7.2zM432.2,678.9h7.2v5.34h-7.2zM446.6,678.9h14.4v5.34h-14.4zM532.7,678.9h7.2v5.34h-7.2zM547.1,678.9h14.4v5.34h-14.4zM633.2,678.9h7.2v5.34h-7.2zM425.0,684.2h14.4v5.34h-14.4zM468.1,684.2h7.2v5.34h-7.2zM482.5,684.2h7.2v5.34h-7.2zM532.7,684.2h7.2v5.34h-7.2zM547.1,684.2h7.2v5.34h-7.2zM561.4,684.2h7.2v5.34h-7.2zM590.2,684.2h7.2v5.34h-7.2zM633.2,684.2h7.2v5.34h-7.2zM432.2,689.6h7.2v5.34h-7.2zM633.2,689.6h7.2v5.34h-7.2zM410.7,694.9h7.2v5.34h-7.2zM489.7,694.9h7.2v5.34h-7.2zM504.0,694.9h7.2v5.34h-7.2zM525.5,694.9h7.2v5.34h-7.2zM590.2,694.9h7.2v5.34h-7.2zM633.2,694.9h7.2v5.34h-7.2zM446.6,700.2h7.2v5.34h-7.2zM532.7,700.2h7.2v5.34h-7.2zM561.4,700.2h7.2v5.34h-7.2zM590.2,700.2h7.2v5.34h-7.2zM432.2,705.6h7.2v5.34h-7.2zM453.8,705.6h7.2v5.34h-7.2zM468.1,705.6h7.2v5.34h-7.2zM489.7,705.6h7.2v5.34h-7.2zM633.2,716.3h7.2v5.34h-7.2zM432.2,721.6h7.2v5.34h-7.2z"/><path fill="#00c0ff" d="M425.0,588.0h7.2v5.34h-7.2zM489.7,588.0h7.2v5.34h-7.2zM439.4,593.3h14.4v5.34h-14.4zM583.0,593.3h14.4v5.34h-14.4zM425.0,598.7h7.2v5.34h-7.2zM475.3,598.7h14.4v5.34h-14.4zM525.5,598.7h7.2v5.34h-7.2zM439.4,604.0h7.2v5.34h-7.2zM525.5,604.0h21.5v5.34h-21.5zM432.2,609.4h7.2v5.34h-7.2zM489.7,609.4h7.2v5.34h-7.2zM583.0,609.4h7.2v5.34h-7.2zM374.8,614.7h14.4v5.34h-14.4zM439.4,614.7h14.4v5.34h-14.4zM468.1,614.7h7.2v5.34h-7.2zM525.5,614.7h7.2v5.34h-7.2zM590.2,614.7h7.2v5.34h-7.2zM446.6,620.1h7.2v5.34h-7.2zM475.3,620.1h7.2v5.34h-7.2zM532.7,620.1h7.2v5.34h-7.2zM583.0,620.1h7.2v5.34h-7.2zM432.2,625.4h7.2v5.34h-7.2zM453.8,625.4h7.2v5.34h-7.2zM489.7,625.4h7.2v5.34h-7.2zM633.2,625.4h7.2v5.34h-7.2zM374.8,630.8h7.2v5.34h-7.2zM475.3,630.8h7.2v5.34h-7.2zM532.7,630.8h7.2v5.34h-7.2zM439.4,636.1h7.2v5.34h-7.2zM475.3,636.1h7.2v5.34h-7.2zM633.2,641.4h7.2v5.34h-7.2zM382.0,646.8h14.4v5.34h-14.4zM432.2,646.8h14.4v5.34h-14.4zM475.3,646.8h7.2v5.34h-7.2zM489.7,646.8h7.2v5.34h-7.2zM525.5,646.8h7.2v5.34h-7.2zM554.3,646.8h7.2v5.34h-7.2zM590.2,646.8h7.2v5.34h-7.2zM439.4,652.1h7.2v5.34h-7.2zM460.9,652.1h7.2v5.34h-7.2zM489.7,652.1h7.2v5.34h-7.2zM547.1,652.1h7.2v5.34h-7.2zM568.6,657.5h7.2v5.34h-7.2zM417.9,662.8h7.2v5.34h-7.2zM475.3,662.8h7.2v5.34h-7.2zM489.7,668.2h7.2v5.34h-7.2zM539.9,668.2h7.2v5.34h-7.2zM568.6,668.2h7.2v5.34h-7.2zM539.9,673.5h7.2v5.34h-7.2zM568.6,673.5h7.2v5.34h-7.2zM489.7,678.9h7.2v5.34h-7.2zM590.2,689.6h7.2v5.34h-7.2z"/><path fill="#0814f4" d="M439.4,588.0h7.2v5.34h-7.2zM475.3,588.0h14.4v5.34h-14.4zM532.7,588.0h7.2v5.34h-7.2zM403.5,593.3h14.4v5.34h-14.4zM532.7,598.7h7.2v5.34h-7.2zM460.9,609.4h7.2v5.34h-7.2zM475.3,609.4h7.2v5.34h-7.2zM460.9,614.7h7.2v5.34h-7.2zM489.7,630.8h7.2v5.34h-7.2zM525.5,630.8h7.2v5.34h-7.2zM525.5,636.1h7.2v5.34h-7.2zM633.2,636.1h7.2v5.34h-7.2zM482.5,641.4h7.2v5.34h-7.2zM525.5,641.4h7.2v5.34h-7.2zM568.6,646.8h7.2v5.34h-7.2zM633.2,646.8h7.2v5.34h-7.2zM568.6,652.1h7.2v5.34h-7.2z"/><path fill="#b4ff00" d="M396.3,593.3h7.2v5.34h-7.2zM396.3,598.7h7.2v5.34h-7.2zM396.3,609.4h7.2v5.34h-7.2zM396.3,614.7h7.2v5.34h-7.2zM396.3,625.4h7.2v5.34h-7.2zM396.3,630.8h7.2v5.34h-7.2zM396.3,662.8h7.2v5.34h-7.2zM396.3,668.2h7.2v5.34h-7.2zM604.5,673.5h7.2v5.34h-7.2zM618.9,673.5h14.4v5.34h-14.4zM597.3,678.9h7.2v5.34h-7.2zM618.9,678.9h14.4v5.34h-14.4zM389.2,684.2h14.4v5.34h-14.4zM604.5,684.2h7.2v5.34h-7.2zM389.2,689.6h14.4v5.34h-14.4zM496.8,689.6h7.2v5.34h-7.2zM575.8,689.6h14.4v5.34h-14.4zM604.5,689.6h7.2v5.34h-7.2zM389.2,694.9h7.2v5.34h-7.2zM496.8,694.9h7.2v5.34h-7.2zM597.3,694.9h14.4v5.34h-14.4zM618.9,694.9h14.4v5.34h-14.4zM389.2,700.2h7.2v5.34h-7.2zM496.8,700.2h7.2v5.34h-7.2zM604.5,700.2h7.2v5.34h-7.2zM374.8,705.6h7.2v5.34h-7.2zM410.7,705.6h7.2v5.34h-7.2zM504.0,705.6h7.2v5.34h-7.2zM547.1,705.6h7.2v5.34h-7.2zM583.0,705.6h7.2v5.34h-7.2zM604.5,705.6h7.2v5.34h-7.2zM374.8,710.9h7.2v5.34h-7.2zM417.9,710.9h7.2v5.34h-7.2zM439.4,710.9h7.2v5.34h-7.2zM460.9,710.9h14.4v5.34h-14.4zM496.8,710.9h14.4v5.34h-14.4zM575.8,710.9h7.2v5.34h-7.2zM618.9,710.9h7.2v5.34h-7.2zM374.8,716.3h7.2v5.34h-7.2zM403.5,716.3h28.7v5.34h-28.7zM439.4,716.3h7.2v5.34h-7.2zM460.9,716.3h21.5v5.34h-21.5zM518.4,716.3h7.2v5.34h-7.2zM583.0,716.3h7.2v5.34h-7.2zM374.8,721.6h7.2v5.34h-7.2zM468.1,721.6h21.5v5.34h-21.5zM583.0,721.6h7.2v5.34h-7.2zM482.5,727.0h7.2v5.34h-7.2zM532.7,727.0h7.2v5.34h-7.2zM568.6,727.0h14.4v5.34h-14.4zM496.8,737.7h7.2v5.34h-7.2z"/><path fill="#0050ff" d="M475.3,593.3h7.2v5.34h-7.2zM532.7,593.3h7.2v5.34h-7.2zM590.2,598.7h7.2v5.34h-7.2zM532.7,609.4h7.2v5.34h-7.2zM532.7,625.4h7.2v5.34h-7.2zM482.5,630.8h7.2v5.34h-7.2zM633.2,630.8h7.2v5.34h-7.2zM554.3,636.1h7.2v5.34h-7.2zM532.7,641.4h7.2v5.34h-7.2zM575.8,641.4h7.2v5.34h-7.2zM446.6,652.1h7.2v5.34h-7.2zM475.3,652.1h7.2v5.34h-7.2zM525.5,652.1h7.2v5.34h-7.2zM439.4,657.5h7.2v5.34h-7.2zM633.2,657.5h7.2v5.34h-7.2zM382.0,662.8h7.2v5.34h-7.2zM511.2,668.2h7.2v5.34h-7.2zM590.2,673.5h7.2v5.34h-7.2zM489.7,684.2h7.2v5.34h-7.2zM425.0,694.9h7.2v5.34h-7.2z"/><path fill="#4000bc" d="M482.5,593.3h7.2v5.34h-7.2zM489.7,598.7h7.2v5.34h-7.2zM489.7,604.0h7.2v5.34h-7.2zM482.5,609.4h7.2v5.34h-7.2zM460.9,620.1h7.2v5.34h-7.2zM446.6,646.8h14.4v5.34h-14.4z"/><path fill="#faf400" d="M396.3,673.5h7.2v5.34h-7.2zM396.3,678.9h7.2v5.34h-7.2zM604.5,678.9h7.2v5.34h-7.2zM618.9,689.6h7.2v5.34h-7.2zM396.3,700.2h7.2v5.34h-7.2zM396.3,705.6h7.2v5.34h-7.2zM518.4,705.6h7.2v5.34h-7.2zM597.3,705.6h7.2v5.34h-7.2zM403.5,710.9h14.4v5.34h-14.4zM453.8,710.9h7.2v5.34h-7.2zM518.4,710.9h7.2v5.34h-7.2zM604.5,710.9h14.4v5.34h-14.4zM389.2,716.3h7.2v5.34h-7.2zM453.8,716.3h7.2v5.34h-7.2zM504.0,716.3h7.2v5.34h-7.2zM611.7,716.3h7.2v5.34h-7.2zM403.5,721.6h7.2v5.34h-7.2zM417.9,721.6h7.2v5.34h-7.2zM453.8,721.6h7.2v5.34h-7.2zM518.4,721.6h7.2v5.34h-7.2zM611.7,721.6h14.4v5.34h-14.4zM511.2,727.0h7.2v5.34h-7.2zM633.2,727.0h7.2v5.34h-7.2zM532.7,732.3h7.2v5.34h-7.2zM539.9,737.7h7.2v5.34h-7.2z"/><path fill="#ffc000" d="M396.3,694.9h7.2v5.34h-7.2zM626.0,700.2h7.2v5.34h-7.2zM389.2,705.6h7.2v5.34h-7.2zM626.0,705.6h7.2v5.34h-7.2zM389.2,710.9h7.2v5.34h-7.2zM547.1,710.9h7.2v5.34h-7.2zM597.3,710.9h7.2v5.34h-7.2zM626.0,710.9h7.2v5.34h-7.2zM496.8,716.3h7.2v5.34h-7.2zM597.3,716.3h14.4v5.34h-14.4zM425.0,727.0h7.2v5.34h-7.2zM453.8,727.0h7.2v5.34h-7.2zM468.1,727.0h7.2v5.34h-7.2zM518.4,727.0h7.2v5.34h-7.2zM554.3,727.0h7.2v5.34h-7.2zM583.0,727.0h7.2v5.34h-7.2zM382.0,732.3h7.2v5.34h-7.2zM432.2,732.3h7.2v5.34h-7.2zM489.7,732.3h7.2v5.34h-7.2zM525.5,732.3h7.2v5.34h-7.2zM539.9,732.3h7.2v5.34h-7.2zM590.2,732.3h7.2v5.34h-7.2zM432.2,737.7h14.4v5.34h-14.4zM453.8,737.7h7.2v5.34h-7.2zM489.7,737.7h7.2v5.34h-7.2zM532.7,737.7h7.2v5.34h-7.2zM554.3,737.7h7.2v5.34h-7.2zM583.0,737.7h7.2v5.34h-7.2z"/><path fill="#ff7c00" d="M618.9,700.2h7.2v5.34h-7.2zM618.9,705.6h7.2v5.34h-7.2zM547.1,716.3h7.2v5.34h-7.2zM626.0,716.3h7.2v5.34h-7.2zM410.7,721.6h7.2v5.34h-7.2zM496.8,721.6h14.4v5.34h-14.4zM547.1,721.6h7.2v5.34h-7.2zM604.5,721.6h7.2v5.34h-7.2zM403.5,727.0h7.2v5.34h-7.2zM417.9,727.0h7.2v5.34h-7.2zM475.3,727.0h7.2v5.34h-7.2zM504.0,727.0h7.2v5.34h-7.2zM425.0,732.3h7.2v5.34h-7.2zM439.4,732.3h7.2v5.34h-7.2zM453.8,732.3h7.2v5.34h-7.2zM482.5,732.3h7.2v5.34h-7.2zM575.8,732.3h7.2v5.34h-7.2zM633.2,732.3h7.2v5.34h-7.2zM389.2,737.7h7.2v5.34h-7.2zM417.9,737.7h14.4v5.34h-14.4zM504.0,737.7h7.2v5.34h-7.2zM525.5,737.7h7.2v5.34h-7.2zM633.2,737.7h7.2v5.34h-7.2z"/><path fill="#ff3400" d="M396.3,710.9h7.2v5.34h-7.2zM396.3,716.3h7.2v5.34h-7.2zM389.2,721.6h14.4v5.34h-14.4zM597.3,721.6h7.2v5.34h-7.2zM626.0,721.6h7.2v5.34h-7.2zM568.6,732.3h7.2v5.34h-7.2zM583.0,732.3h7.2v5.34h-7.2zM482.5,737.7h7.2v5.34h-7.2zM568.6,737.7h14.4v5.34h-14.4zM604.5,737.7h7.2v5.34h-7.2z"/><path fill="#ff0c10" d="M389.2,727.0h7.2v5.34h-7.2zM410.7,727.0h7.2v5.34h-7.2zM460.9,727.0h7.2v5.34h-7.2zM496.8,727.0h7.2v5.34h-7.2zM547.1,727.0h7.2v5.34h-7.2zM604.5,727.0h28.7v5.34h-28.7zM374.8,732.3h7.2v5.34h-7.2zM468.1,732.3h14.4v5.34h-14.4zM496.8,732.3h7.2v5.34h-7.2zM511.2,732.3h14.4v5.34h-14.4zM554.3,732.3h14.4v5.34h-14.4zM374.8,737.7h7.2v5.34h-7.2zM460.9,737.7h21.5v5.34h-21.5zM511.2,737.7h14.4v5.34h-14.4zM547.1,737.7h7.2v5.34h-7.2zM561.4,737.7h7.2v5.34h-7.2z"/><path fill="#ff5c70" d="M396.3,727.0h7.2v5.34h-7.2zM410.7,732.3h7.2v5.34h-7.2zM597.3,732.3h7.2v5.34h-7.2zM611.7,732.3h7.2v5.34h-7.2zM626.0,732.3h7.2v5.34h-7.2z"/><path fill="#ff2848" d="M597.3,727.0h7.2v5.34h-7.2zM389.2,732.3h7.2v5.34h-7.2zM403.5,732.3h7.2v5.34h-7.2zM417.9,732.3h7.2v5.34h-7.2zM460.9,732.3h7.2v5.34h-7.2zM504.0,732.3h7.2v5.34h-7.2zM547.1,732.3h7.2v5.34h-7.2zM604.5,732.3h7.2v5.34h-7.2zM396.3,737.7h21.5v5.34h-21.5zM597.3,737.7h7.2v5.34h-7.2zM611.7,737.7h21.5v5.34h-21.5z"/><path fill="#ff8c98" d="M396.3,732.3h7.2v5.34h-7.2zM618.9,732.3h7.2v5.34h-7.2z"/>
<rect x="640.5" y="588" width="10.5" height="155" fill="url(#cbar)"/>
<rect x="374.0" y="587.3" width="277.8" height="156.2" fill="none" stroke="#000" stroke-width="1.4"/>
<line x1="640.3" y1="587.3" x2="640.3" y2="743.5" stroke="#000" stroke-width="1.1"/>
<path d="M374.6,593.1 L379.2,593.1" stroke="#000" stroke-width="1.5"/>
<text x="371.2" y="597.0" font-size="8.7" font-weight="bold" fill="#000" text-anchor="end" >100</text>
<text x="366.6" y="746.6" font-size="8.7" font-weight="bold" fill="#000" text-anchor="end" >0</text>
<text transform="translate(355.2,665.5) rotate(-90)" x="0" y="0" font-size="8" font-weight="bold" fill="#000" text-anchor="middle" dominant-baseline="central" textLength="71.0" lengthAdjust="spacingAndGlyphs">Frequency (Hz)</text>
<text x="374.3" y="756.4" font-size="8.7" font-weight="bold" fill="#000" text-anchor="middle" >0</text>
<text x="427.5" y="756.4" font-size="8.7" font-weight="bold" fill="#000" text-anchor="middle" >1</text>
<text x="480.7" y="756.4" font-size="8.7" font-weight="bold" fill="#000" text-anchor="middle" >2</text>
<text x="533.9" y="756.4" font-size="8.7" font-weight="bold" fill="#000" text-anchor="middle" >3</text>
<text x="587.1" y="756.4" font-size="8.7" font-weight="bold" fill="#000" text-anchor="middle" >4</text>
<text x="640.3" y="756.4" font-size="8.7" font-weight="bold" fill="#000" text-anchor="middle" >5</text>
<path d="M427.5,743 L427.5,737.8 M480.7,743 L480.7,737.8 M533.9,743 L533.9,737.8 M587.1,743 L587.1,737.8 " stroke="#000" stroke-width="1.4"/>
<text x="508.7" y="770.4" font-size="8" font-weight="bold" fill="#000" text-anchor="middle" textLength="35.2" lengthAdjust="spacingAndGlyphs" >Time (s)</text>
<text x="657.5" y="606.1" font-size="8" font-weight="bold" fill="#000" text-anchor="start" >10<tspan font-size="5.5" dy="-3">3</tspan></text>
<text x="657.5" y="636.2" font-size="8" font-weight="bold" fill="#000" text-anchor="start" >10<tspan font-size="5.5" dy="-3">2</tspan></text>
<text x="657.5" y="666.0" font-size="8" font-weight="bold" fill="#000" text-anchor="start" >10</text>
<text x="662.7" y="695.8" font-size="8" font-weight="bold" fill="#000" text-anchor="middle" >1</text>
<text x="657.5" y="724.8" font-size="8" font-weight="bold" fill="#000" text-anchor="start" >10<tspan font-size="5.5" dy="-3">-1</tspan></text>
<path d="M648.3,603.1 L651.5,603.1 M648.3,633.2 L651.5,633.2 M648.3,663.0 L651.5,663.0 M648.3,692.8 L651.5,692.8 M648.3,721.8 L651.5,721.8 " stroke="#000" stroke-width="1.2"/>
<text transform="translate(680.5,665.8) rotate(90)" x="0" y="0" font-size="8" font-weight="bold" fill="#000" text-anchor="middle" dominant-baseline="central" textLength="136.0" lengthAdjust="spacingAndGlyphs">Power spectral density (μVHz<tspan font-size="5.5" dy="-3">-1/2</tspan><tspan dy="3">)</tspan></text>
</svg></body></html>
